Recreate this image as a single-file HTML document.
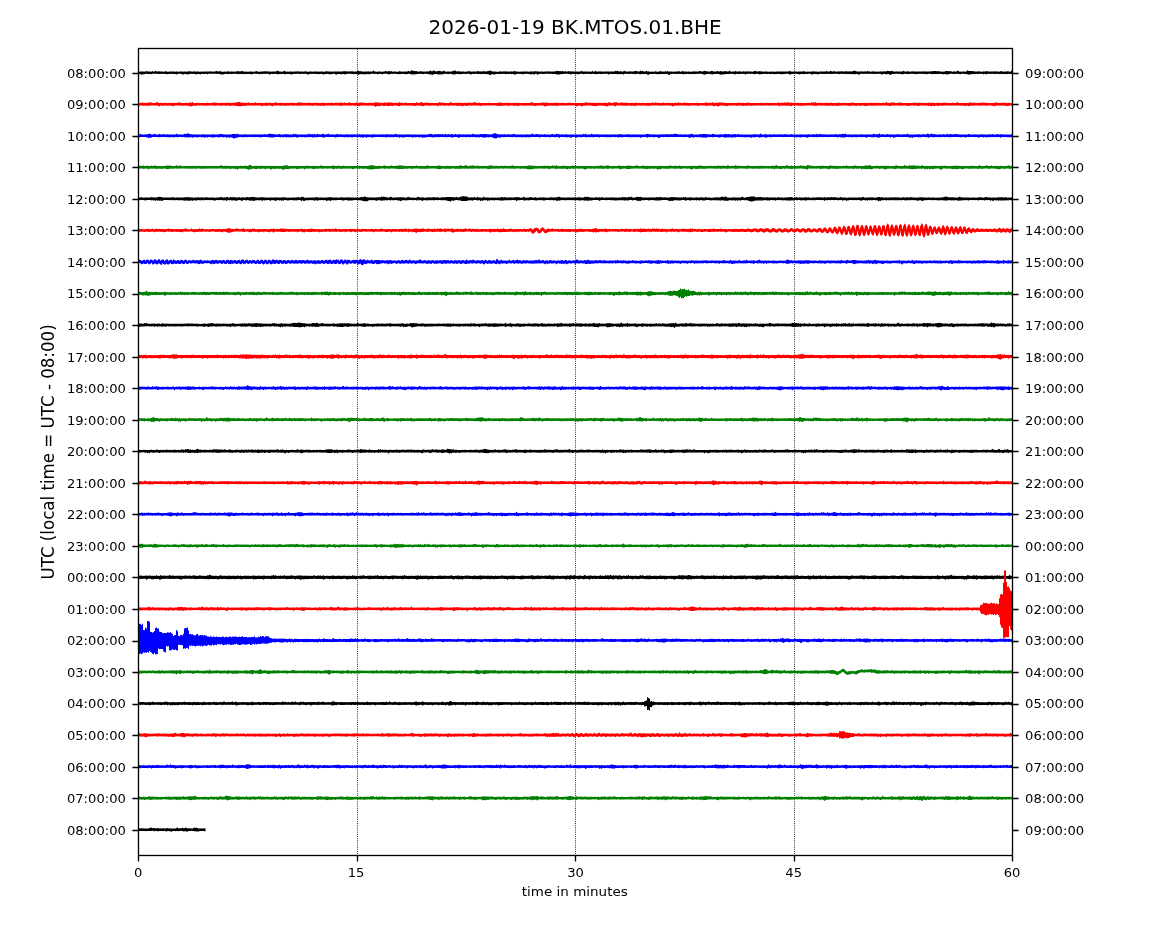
<!DOCTYPE html>
<html><head><meta charset="utf-8"><title>dayplot</title><style>html,body{margin:0;padding:0;background:#fff;width:1150px;height:950px;overflow:hidden}svg{display:block}</style></head><body>
<svg width="1150" height="950" viewBox="0 0 1150 950">
<rect width="1150" height="950" fill="#fff"/>
<line x1="357.50" y1="49.0" x2="357.50" y2="855.5" stroke="#000" stroke-width="1" stroke-dasharray="1 1.15" opacity="0.8"/>
<line x1="575.50" y1="49.0" x2="575.50" y2="855.5" stroke="#000" stroke-width="1" stroke-dasharray="1 1.15" opacity="0.8"/>
<line x1="794.50" y1="49.0" x2="794.50" y2="855.5" stroke="#000" stroke-width="1" stroke-dasharray="1 1.15" opacity="0.8"/>
<path fill="#000000" d="M138.5 71.7l1 0 1-.1 1 0 1-.1 1 .1 1-.1 1 .2 1-1 1 .9 1 0 1 0 1 0 1 .1 1-.8 1 .8 1-.2 1-.8 1 .9 1-.3 1 .1 1-.1 1 .3 1-.2 1 .2 1 .1 1 0 1-.6 1 .5 1 .1 1 0 1-.3 1 .2 1-.1 1 0 1 0 1 0 1 .2 1-.2 1 .1 1 .1 1 0 1-.5 1 .2 1 .3 1-.3 1 0 1 .1 1 .2 1-.1 1-.3 1 .2 1-.6 1 .8 1-.1 1 .1 1-.7 1 .7 1-.1 1-.2 1 .2 1 .1 1-.1 1 .1 1-.3 1 .2 1 .1 1-.2 1-.1 1 0 1 .1 1 .1 1-.3 1 .3 1 .1 1-.3 1 .1 1 .1 1-.8 1 .8 1-.2 1-.3 1 .5 1 0 1 .1 1 0 1-.2 1 .2 1-.1 1-.2 1-.2 1 .5 1-.1 1 0 1-.1 1 .2 1-.1 1-.2 1 .2 1-.3 1-.3 1 .6 1-.1 1-.7 1 .4 1 .3 1 .1 1 .1 1-.1 1 .1 1 0 1-.2 1 .1 1-.1 1 .2 1 0 1-.2 1 .1 1-.6 1 .5 1 .2 1 0 1-.1 1 .1 1-.4 1 .2 1-.2 1-.1 1 .3 1-.2 1 .2 1 0 1 0 1 .2 1-.3 1 0 1 0 1 .2 1-.4 1-.8 1 .9 1 .2 1 .1 1 .1 1-.2 1 .1 1-1 1 .8 1 .3 1-.2 1 .2 1-.2 1 .1 1 0 1 .1 1-.1 1 0 1-.2 1 .1 1-.2 1 .3 1-.1 1 .1 1-.2 1 0 1 .3 1-.1 1-.3 1 .2 1 .2 1 0 1-.2 1 .1 1 0 1 .1 1-.2 1-.1 1 0 1 .2 1 0 1 .1 1-.1 1 0 1 0 1 0 1 .1 1 0 1-.3 1-.5 1 .7 1 0 1-.2 1 .1 1 0 1 .2 1-.1 1-.1 1 0 1 0 1 .1 1-.2 1 0 1 .1 1 .1 1-.1 1-.2 1-.3 1 .4 1-.1 1 .2 1 0 1-.3 1 .3 1-.2 1-.1 1 .4 1 .1 1-.2 1 0 1-.4 1-.6 1 .8 1-.1 1 0 1 .3 1 .2 1-.1 1-.1 1 .1 1-.1 1-.3 1 .5 1-.2 1 .1 1 0 1-1.2 1 1 1 .1 1 .2 1 0 1-.3 1 .2 1-.1 1 .2 1 0 1-.1 1-.2 1-.3 1 .1 1 .3 1-.2 1-.3 1 .6 1-.5 1 .6 1-.3 1 .1 1 0 1 .2 1 0 1 0 1-.8 1 .6 1 .1 1 .1 1-.2 1 .1 1-.1 1 0 1-.1 1-.6 1 .8 1-.3 1-1.1 1 .3 1 .5 1 0 1 .2 1-.3 1 .6 1 .2 1-.4 1 .2 1-.5 1 .7 1-.3 1 .2 1 .1 1-.4 1 .2 1 0 1-.4 1-.7 1 .8 1 0 1-.7 1 .1 1 .8 1-.1 1-.1 1-.1 1-.3 1 .3 1 .3 1 0 1-.8 1 .7 1 .3 1 .1 1-.1 1-.1 1 .2 1-.2 1-.1 1-.2 1-.7 1 .5 1-.8 1 1.2 1 0 1-.3 1 .4 1 .1 1-.2 1 .2 1 0 1 .1 1 0 1-.2 1 .1 1-.3 1-.3 1 .7 1-.2 1 .1 1-.2 1 0 1 0 1 0 1-.1 1-.2 1 .3 1 0 1-.2 1 .4 1-.4 1-.1 1 .6 1-.4 1 0 1-.3 1-.2 1-.2 1 .6 1 .3 1 .1 1 0 1 0 1 .1 1 0 1 0 1-.1 1-.3 1 .3 1 .1 1-.4 1 .3 1-.3 1 .1 1 .1 1 0 1 .2 1-.4 1 .3 1-.1 1-.1 1-.6 1 .7 1 0 1-.1 1 .3 1 0 1-.3 1 .3 1-.3 1 .1 1 0 1 0 1 .1 1 0 1 .1 1-.1 1 0 1-.2 1 0 1 .1 1-.3 1 0 1 .3 1-.2 1 .2 1 .2 1-.1 1 0 1-.1 1 .2 1-.3 1 .1 1 0 1 .1 1-.3 1 .1 1 .2 1-.2 1 .2 1 0 1-.2 1-.4 1 .3 1-.6 1 .2 1 .3 1-.1 1 .4 1-.8 1 .7 1 .1 1-.2 1 .2 1 .1 1-.5 1 .3 1-.2 1 .2 1 .2 1-.1 1-.1 1 .3 1-.2 1-.1 1 .3 1-.1 1-.1 1-.7 1 .8 1-.2 1 .1 1 .1 1 0 1-.1 1 .1 1 .1 1-.1 1 .1 1-.9 1 .9 1 0 1-.9 1 .7 1 .2 1-.4 1 .3 1-.1 1-.2 1 .4 1-.2 1-.1 1 .1 1 0 1 0 1 .1 1-.1 1 0 1 .1 1-.1 1 .1 1-.1 1-.8 1 .6 1-.8 1 .9 1 0 1-.5 1 .7 1 .1 1-.4 1-.6 1 .7 1 .1 1-.1 1 .1 1 0 1-.3 1 .2 1 .2 1-.2 1-.3 1 .1 1-.5 1 .8 1 0 1 0 1-.9 1 .7 1-.5 1 .7 1 .1 1-.1 1-.7 1 .8 1-.4 1 .5 1 0 1-.2 1 .2 1 0 1-.3 1-.1 1 .4 1-.2 1 .2 1-.1 1-.9 1 1 1-.2 1 .1 1 .1 1-.7 1 .7 1-.7 1 .5 1 .1 1 0 1 0 1 .1 1-.3 1 .3 1-.3 1 .2 1 0 1-.4 1 0 1 .5 1 0 1-.9 1 .8 1-.1 1 .1 1 0 1 .1 1-.3 1 .2 1 .1 1 0 1-.1 1 0 1-.3 1 .3 1 0 1 0 1 0 1-.7 1 .2 1 .5 1-.1 1-.2 1-.6 1 .3 1 .2 1 .2 1 .2 1-.2 1 .1 1-.7 1 .3 1 .5 1-.2 1 0 1 .2 1-.9 1 .9 1-.2 1-.5 1 .3 1 .4 1-.2 1-.3 1 .1 1 .1 1 .2 1 .1 1-1 1 .9 1 .2 1-.2 1 .1 1-.1 1-.6 1 .7 1 0 1-.1 1-.2 1 .3 1 .1 1-.1 1-.3 1 .3 1 0 1-.1 1-.3 1 .4 1-.1 1 .1 1 0 1 .1 1-.2 1-.4 1-.3 1 .8 1-.1 1-.3 1 0 1 .1 1 .1 1 0 1 .1 1 .2 1-.2 1-.2 1 .4 1 0 1 0 1-.3 1 .3 1-.3 1 .1 1 .2 1 0 1-.2 1 0 1-.1 1 .1 1 .1 1 0 1-.2 1 .1 1 .1 1 0 1 0 1-.1 1 .1 1-.8 1 .7 1 0 1 .2 1-.2 1 .1 1 0 1-.1 1 .2 1-.1 1-.1 1 .1 1 0 1-.2 1-.2 1 .1 1 .4 1 0 1-.3 1 .3 1-.2 1 .2 1-.1 1-.1 1-.2 1 .1 1 .2 1-.1 1 .2 1 0 1-.1 1 0 1 0 1-.1 1 .1 1-.1 1 0 1-.5 1 .5 1 .1 1 .1 1-1 1 .6 1 .2 1 .1 1-.5 1 .4 1 .2 1-.2 1-.3 1 .4 1 0 1-.5 1 .5 1 0 1 0 1-.3 1 0 1 .3 1-.1 1-.3 1 .2 1 0 1-.2 1-.1 1-.5 1 .4 1 .4 1 0 1 .2 1-.1 1 .1 1-.4 1 .2 1 .2 1-.1 1-.2 1 .4 1-1 1 .8 1-.1 1 .2 1 .1 1-.4 1 .3 1-.2 1 .2 1 .1 1-.1 1 .1 1-.1 1 0 1-.3 1 .4 1-.4 1 0 1 .1 1-.2 1-.5 1 .4 1 .1 1-.1 1 .1 1-.5 1 .8 1 .2 1-.2 1 .1 1-.4 1 .5 1-.1 1 0 1-.1 1 0 1-.7 1 .7 1 .1 1 .1 1-.8 1 .7 1 .1 1-.1 1-.2 1-.1 1 .3 1 0 1 0 1 0 1-.2 1 0 1 .1 1 .1 1 0 1 0 1-.1 1-.3 1 .4 1-.2 1 .2 1 0 1 0 1-.3 1 .2 1-.4 1 .1 1-.2 1-.1 1 .3 1 .1 1-.2 1 .4 1 .1 1 0 1 .1 1-.2 1 .1 1-.4 1-.1 1 0 1 .2 1 0 1-.2 1 .5 1 .1 1-.3 1-.1 1 .4 1-.3 1-.9 1 .6 1 .6 1-.2 1 .2 1-.1 1 0 1-.1 1 .2 1-.4 1-1.4 1 1 1 .2 1 0 1 0 1 .1 1-.3 1 .7 1-.1 1 0 1 .1 1-.4 1 .2 1 .2 1 .1 1 0 1-.4 1 .3 1-.1 1-.4 1 .1 1 .3 1 .1 1 0 1-.2 1 .1 1-.1 1-.2 1 .2 1 .2 1-.1 1 .1 1 .1 1-.5 1-.2 1 .6 1 .1 1-.1 1-.2 1 .2 1-.3 1 0 1 .4 1 0 1-1.1 1 0 0 3.5-1 0-1-.1-1-.1-1-.1-1 .1-1 0-1 .3-1-.4-1 .1-1 0-1-.1-1 .1-1 .2-1-.2-1-.1-1 0-1 .4-1-.5-1 .2-1-.1-1-.1-1 .5-1-.4-1 0-1 0-1 .7-1-.6-1-.1-1 .7-1-.8-1 0-1 .3-1-.3-1 .3-1 0-1-.3-1 .3-1 .3-1-.2-1 0-1 .2-1 0-1 .2-1 .2-1-.5-1-.1-1-.2-1 0-1-.1-1 0-1-.1-1 .6-1-.3-1 0-1-.2-1 0-1 .2-1-.2-1 .4-1-.5-1 .1-1 0-1 .1-1 .3-1 .3-1-.1-1-.3-1-.2-1 .5-1-.4-1-.1-1 .1-1-.2-1 .2-1 0-1 .1-1-.1-1 .1-1 0-1 0-1 .1-1-.4-1 0-1 0-1 .5-1-.4-1 .3-1-.4-1 .2-1-.3-1 .3-1-.2-1 0-1 .2-1-.3-1 .5-1-.5-1 .5-1-.5-1 .1-1 0-1 0-1 .4-1-.4-1 .1-1 0-1-.2-1 .1-1 .2-1 .4-1-.5-1 0-1-.1-1 .1-1-.2-1 .1-1 0-1 .3-1-.3-1 .3-1 .2-1 .7-1-.6-1-.4-1 0-1 .4-1-.5-1 0-1 0-1 .3-1 .6-1-1-1 0-1 0-1 .1-1-.1-1 .1-1 .1-1-.2-1 .2-1-.2-1 .2-1-.3-1 0-1 .1-1 .3-1-.3-1 0-1-.1-1 .4-1-.4-1 0-1 .7-1 .3-1-.7-1 0-1 .1-1 .4-1-.5-1 .1-1 .1-1-.3-1 0-1 0-1 .1-1 .1-1-.4-1 .5-1-.5-1 .1-1 .1-1-.1-1 .5-1-.6-1 .4-1-.3-1-.1-1 0-1 0-1 .2-1 .1-1-.3-1 .2-1-.1-1 .2-1-.3-1 .3-1-.1-1 .1-1 0-1-.2-1 .1-1-.2-1 .6-1 .1-1-.5-1 .1-1-.1-1 0-1 .7-1 0-1-.9-1 .1-1-.1-1 .3-1-.3-1 .3-1 0-1 .3-1-.5-1 .1-1 .2-1 .3-1-.5-1 .2-1-.3-1 0-1-.1-1 .1-1 .1-1 .1-1 .6-1-.1-1-.7-1-.1-1 0-1 .1-1 .1-1 0-1 .3-1 0-1-.2-1-.1-1-.1-1 .3-1-.1-1 0-1 .3-1-.4-1-.1-1 .2-1-.1-1 .2-1-.3-1 .3-1-.1-1-.3-1 .1-1 .1-1 0-1 .2-1 .2-1 .3-1-.6-1-.2-1-.1-1 .2-1 .4-1-.4-1-.2-1 .1-1 .1-1-.1-1 0-1 .1-1-.1-1 .9-1-.9-1 .1-1-.2-1 .1-1 .1-1 .1-1 0-1 .1-1-.3-1 .7-1-.3-1-.5-1 .3-1-.3-1 .1-1 .1-1 .2-1-.2-1 .2-1 .1-1 .1-1 0-1 .1-1 .1-1 .2-1-.4-1-.2-1-.1-1-.2-1 .1-1 .2-1-.2-1 .8-1-.8-1 .7-1-.8-1-.1-1 .3-1 0-1 .6-1 .2-1-.4-1-.5-1-.1-1 0-1 0-1 0-1 .1-1-.1-1 .1-1 0-1-.1-1 .4-1-.2-1 0-1 0-1-.1-1-.2-1 .2-1 .2-1-.4-1 1.1-1-1-1 .2-1-.1-1-.1-1 .1-1 .1-1-.3-1 .3-1 .1-1-.4-1 0-1 .2-1-.2-1 1.3-1-.1-1-1.2-1 .3-1-.3-1 .3-1 0-1 0-1-.1-1 .2-1-.2-1 .4-1 0-1-.4-1-.1-1 .2-1-.3-1 .2-1 .1-1-.1-1 0-1 1.2-1-.4-1-.7-1-.1-1-.1-1 .4-1-.3-1 .2-1 .1-1 .1-1-.5-1 0-1 0-1 .6-1-.6-1 .1-1 .1-1-.2-1 0-1 .2-1 0-1-.2-1 .3-1-.3-1-.1-1 1-1-.8-1 .2-1 .2-1-.3-1 0-1 .2-1-.2-1 .1-1 0-1-.1-1 0-1-.1-1-.2-1 .3-1 .7-1-.9-1 0-1 .1-1-.1-1-.1-1 .3-1 0-1-.1-1-.1-1 .2-1-.1-1 .4-1-.4-1 .2-1-.4-1 0-1 .4-1-.1-1 0-1-.2-1 0-1 .2-1-.3-1 .2-1 .4-1-.6-1 .1-1 0-1 .1-1 .1-1 .4-1-.7-1 .9-1-.9-1 .2-1-.1-1 .4-1 .2-1-.4-1-.1-1-.1-1-.1-1 0-1 0-1 .2-1 .2-1-.2-1 .3-1 .1-1 .4-1-.1-1-.3-1-.1-1-.4-1 .3-1-.2-1-.1-1 .2-1-.2-1 0-1 0-1 0-1 0-1 .2-1-.1-1 0-1-.2-1 0-1 .3-1-.1-1 1.2-1-1.4-1 .1-1 .8-1-.2-1-.7-1 .8-1 0-1-.6-1 0-1-.1-1 0-1 .2-1-.2-1 .3-1 .3-1-.6-1 .2-1-.3-1 .2-1-.1-1 .1-1 .6-1 .3-1-.7-1-.2-1 .4-1-.5-1 .2-1-.1-1-.1-1 .1-1 .3-1-.4-1-.1-1 .3-1-.2-1 .2-1 0-1 0-1 0-1-.2-1 .5-1 .1-1 0-1-.5-1 .5-1 .6-1-.3-1-.5-1 0-1-.2-1 0-1-.1-1 .1-1-.2-1 .4-1-.1-1-.1-1 .1-1 0-1-.3-1 0-1 .1-1 0-1-.2-1 .2-1 .8-1-.9-1 0-1-.1-1 .3-1-.1-1-.2-1 0-1 .3-1 0-1 0-1 .5-1-.7-1 .2-1 0-1 .2-1 .3-1 .1-1-.4-1 .1-1-.5-1-.1-1 .5-1-.3-1-.1-1 0-1 0-1 .5-1-.1-1 0-1 .3-1-.2-1 .4-1-.5-1-.2-1 0-1 .2-1-.1-1 1.1-1-.7-1 .1-1-.3-1 0-1-.3-1-.2-1-.1-1 0-1 .2-1 .3-1-.5-1 0-1 .2-1-.2-1 .3-1 .1-1 .2-1 .1-1-.1-1 .2-1 0-1-.4-1-.3-1 0-1 .3-1-.2-1 .7-1-.8-1 .1-1-.2-1 .4-1-.2-1 .3-1-.3-1 .1-1-.1-1-.2-1 .1-1 0-1 .1-1-.2-1 .3-1-.1-1 .8-1-.9-1-.1-1 0-1 .1-1 0-1 .7-1-.6-1-.2-1 .2-1-.2-1 .7-1-.6-1 0-1 .1-1-.1-1-.1-1 .1-1-.1-1 .7-1-.5-1 .4-1-.5-1 .7-1-.3-1 0-1 .1-1-.4-1 .3-1 .1-1 .6-1-.7-1-.2-1 0-1-.3-1 .5-1-.2-1-.3-1 .4-1-.4-1 0-1 .1-1 .1-1 .3-1 .4-1-.5-1-.4-1 .7-1-.5-1 .1-1-.1-1 .1-1 .7-1-.3-1-.6-1 0-1 .1-1 .3-1-.3-1 .6-1-.6-1-.1-1 .1-1 0-1 0-1 .9-1-.9-1-.1-1 .1-1 0-1 .1-1 .2-1-.5-1 .3-1-.2-1 .1-1-.1-1 .1-1-.1-1 .3-1 .4-1-.1-1-.5-1-.1-1 0-1 .1-1-.2-1 0-1 .4-1 0-1-.4-1 .1-1 0-1 .2-1-.2-1 .1-1 .1-1 .7-1-.6-1-.2-1 .2-1-.1-1-.2-1 .6-1-.5-1 0-1-.1-1 .4-1-.5-1 .4-1 .1-1 0-1-.1-1-.3-1 0-1 .4-1-.3-1 .2-1-.3-1 1.2-1-1.2-1 0-1 0-1 .1-1-.1-1 0-1 .1-1 0-1-.2-1 .8-1-.7-1 0-1 .1-1-.1-1-.1-1 0-1 .2-1 .5-1-.5-1-.1-1 .3-1-.1-1-.1-1 0-1-.1-1 .7-1-.7-1 .1-1 0-1-.1-1 .4-1-.3-1-.2-1 .1-1 0-1-.1-1 .2-1 0-1-.1-1 .1-1 .2-1 0-1 0-1-.3-1 .1-1 .7-1-.4-1 .5-1-.7-1-.1-1-.2-1 .2-1-.1-1 0-1-.1-1 0-1 .1-1 0-1-.1-1 .1-1 0-1 .8-1-.8-1 0-1 .2-1-.1-1-.1-1 .2-1 .4-1-.4-1-.1-1-.1-1 1-1-.8-1 0-1-.3-1 .2-1-.1-1 .1-1-.2-1 .7-1 0-1-.5-1 .3-1-.4-1 .6-1 .1-1-.6-1-.1-1 0-1-.1-1 .3-1 .5-1-.6-1 .1-1 0-1-.3-1 0-1 .2-1-.2-1 .4-1 .1-1-.3-1 0-1-.2-1 .2-1-.1-1 0-1 .1-1 0-1-.2-1 .3-1-.3-1 0-1 .1-1 0-1 0-1 .1-1 .3-1-.5-1 .2-1 .2-1-.4-1 .1-1 .5-1-.1-1 .3-1 .3-1-.5-1-.5-1 0Z"/>
<path fill="#ff0000" d="M138.5 102.9l1 0 1-.1 1 .2 1-.8 1 .8 1-.2 1 .2 1 0 1 0 1-.7 1 .5 1-.5 1 .2 1 .4 1 .2 1-.2 1 .1 1-.8 1-.1 1 .8 1 .1 1-.5 1 .4 1 .1 1 0 1-.3 1 .3 1-.1 1 .1 1 0 1-.2 1 .1 1 .1 1 .1 1-.3 1-.1 1 .3 1-.2 1 .2 1-.4 1-.7 1 1.2 1 0 1 0 1-.2 1 .1 1-.3 1 .1 1 .2 1-.1 1-.3 1 0 1 .1 1-.9 1 1.1 1 0 1 .2 1-.3 1 .1 1-.1 1 .2 1-.1 1 0 1 0 1 .1 1 0 1 0 1 .1 1-.5 1 .4 1-.1 1 .1 1 .1 1-.4 1-.2 1 .3 1-.2 1 .2 1 .1 1 .2 1-.1 1 .1 1-.1 1-.5 1 .4 1 0 1-.2 1 .2 1-.2 1 .1 1 0 1 .2 1 0 1-.2 1 0 1 .1 1-.8 1 .6 1-.6 1 .1 1-.7 1 .9 1 .2 1 .1 1 .1 1 .2 1-.2 1 0 1 .1 1-.6 1 .7 1 0 1 0 1 0 1 0 1-.3 1-.4 1 .6 1 .1 1-.3 1 .4 1-.3 1 .2 1 0 1-.1 1 .2 1-.4 1 .1 1-.1 1 .2 1-.6 1 .6 1 .1 1 0 1-.3 1 .3 1-.8 1 .3 1 .5 1 0 1-.2 1 .2 1-.5 1 .4 1 .1 1 0 1-.1 1 .1 1-.2 1 .1 1-.2 1 .3 1-.2 1-.4 1 .5 1 0 1 0 1 0 1-.1 1-.5 1 0 1 .7 1-.8 1 .8 1-.2 1 0 1 .1 1-.1 1 .1 1-.2 1-.1 1 .5 1-.1 1-.1 1 0 1-.3 1 .5 1-.5 1 .4 1 .1 1-.2 1 0 1 .2 1-.8 1 .7 1 0 1 0 1 0 1 .1 1-.3 1 .1 1 .1 1-.4 1 .3 1 0 1 0 1-.3 1 .2 1 0 1-.1 1 .1 1 0 1-.9 1 1 1 .1 1-.4 1 .1 1 .2 1 .2 1-.3 1-.7 1 .9 1-.1 1 0 1 .1 1 0 1-.1 1-.8 1 .8 1 .1 1-.4 1 .2 1-.7 1 .8 1-.6 1 .6 1-.1 1 .2 1-.1 1-.1 1 .3 1-.3 1 0 1 .1 1-.2 1 0 1-.8 1 .5 1 0 1 .1 1 .3 1 0 1 .2 1-.3 1 .4 1-1 1 .8 1-.2 1-.1 1 0 1-.4 1 .4 1 0 1 .2 1 .2 1 0 1-.3 1 0 1 .2 1-.1 1-.7 1 .7 1-.4 1 .6 1 .1 1-.2 1-.6 1 .7 1 0 1 0 1 .1 1 0 1-.1 1 0 1 0 1 0 1 0 1-.9 1 .9 1 0 1 0 1-.7 1-.5 1 1.1 1-.1 1 .2 1-.2 1-.6 1 .5 1 .2 1 .1 1 0 1 .1 1-.2 1 .2 1-.1 1 .1 1-.2 1 .1 1-.1 1-1.1 1 1 1-.2 1 .2 1-.4 1 .5 1 .1 1-.1 1 0 1 .1 1-.1 1-1 1 .7 1 .4 1-.1 1-.1 1 .2 1 0 1-.5 1 .3 1 .1 1-.3 1 .4 1 0 1 .1 1-.3 1 .2 1 0 1-.1 1-.4 1-.1 1 .6 1-.3 1 .1 1-.3 1-.2 1-.2 1 .8 1 .1 1-.3 1 .1 1 .1 1 .1 1 0 1-.1 1 0 1 .1 1-.1 1 .1 1-.3 1 .1 1 .1 1 .2 1-.2 1 .1 1-.1 1 0 1 0 1-.2 1 .1 1-.3 1-.1 1 .5 1-.2 1 .3 1-.1 1-.2 1 .3 1-.2 1 0 1 .1 1 .1 1 .1 1 0 1-.1 1-.3 1 0 1 .4 1-.2 1-.1 1 .2 1 0 1 0 1-.1 1 0 1 .1 1 .1 1-.3 1 .2 1-.1 1 .1 1-.2 1-1 1 .9 1 .1 1 .2 1 .1 1 0 1 0 1-.2 1 .1 1-.2 1 0 1-.3 1-.1 1 .3 1-.3 1 .2 1 .1 1 .3 1-.1 1-.1 1 .1 1 0 1 .1 1-.2 1-.3 1 .2 1 0 1 .3 1-.3 1 .2 1 .1 1-.4 1 .3 1 0 1 .1 1 .1 1 0 1-.3 1-.2 1 .4 1-.3 1 .3 1 0 1 0 1-.1 1 .1 1-.1 1 .2 1-.1 1 0 1 0 1-.3 1 .2 1 .2 1-1 1 .5 1 .1 1-.1 1 .2 1-.1 1 0 1 .1 1 0 1-.1 1 .2 1 .1 1 0 1-.4 1 .4 1-.2 1 .2 1 0 1-.3 1 0 1 .1 1 .2 1-.1 1-.5 1-.1 1 .4 1 0 1 .2 1-.2 1-.8 1 .6 1-.6 1 .9 1 .1 1-.2 1 .1 1 0 1-.6 1 .7 1-.1 1 0 1-.2 1 .4 1 0 1-.1 1 0 1-.1 1 .2 1 .1 1-.2 1-.4 1 .2 1 .3 1 .1 1-.3 1 .1 1 0 1-.1 1 .2 1 0 1 .1 1 0 1-.3 1 .1 1-.1 1 .3 1 0 1-.9 1 .8 1-.1 1-.7 1 .5 1 .4 1-.5 1 .4 1-.1 1 .1 1-.1 1-.7 1 .7 1 .1 1 0 1-.2 1 .3 1-.4 1 .3 1 0 1 0 1 .1 1-.1 1-.4 1 .5 1-.1 1-.9 1 1 1-.4 1 .3 1 0 1 0 1-1 1 .9 1 .1 1-.2 1 .3 1 0 1-.2 1 .1 1 0 1-.1 1 .1 1 0 1-.3 1 .1 1 .2 1 0 1-.1 1 .1 1 .1 1 0 1-.1 1-.5 1-.2 1 .7 1-.2 1 .2 1-.3 1 .2 1-.9 1 .9 1 0 1-.1 1-.1 1 0 1-.1 1-.1 1 0 1-.3 1 .5 1 .1 1 0 1 0 1 .2 1 .1 1-.2 1 .2 1-.1 1 .1 1-.2 1-.1 1 .2 1 0 1 .1 1-.1 1-.2 1-.3 1 .6 1-.2 1-.3 1 .3 1 0 1 .1 1-.3 1 .2 1-.6 1 .6 1 .1 1 0 1-.1 1 0 1-.1 1 .2 1 0 1-.1 1 .1 1-.1 1-.1 1 .1 1 .2 1-.2 1 0 1-.1 1 .3 1-.3 1 .3 1-.2 1-.1 1 .2 1-.1 1 .2 1-.3 1 .3 1-.1 1 0 1-.8 1 .5 1 .3 1-.4 1 .2 1 0 1-.5 1 .4 1-.1 1-.1 1-.4 1 .8 1-.5 1 .4 1 0 1 .2 1 .1 1-.4 1 .2 1 .2 1-.3 1 .1 1 0 1-.2 1 .4 1-.1 1 0 1 0 1 0 1-.3 1 .1 1 .3 1-.2 1-.9 1 1 1-1 1 .7 1-.6 1 .9 1 0 1-.4 1 .4 1-.3 1 .3 1 .1 1-.2 1 .1 1 0 1-.4 1 .3 1 .1 1 .1 1-.3 1-.2 1 .3 1 0 1 .1 1 0 1-.1 1-.1 1 .3 1-.5 1 .3 1 0 1-.2 1 .4 1-.3 1 .1 1 .1 1 .1 1 0 1-.2 1-.2 1 .3 1-.8 1 .6 1 .2 1-.1 1 .1 1-.1 1 .1 1 .1 1 0 1-.2 1-.2 1 .3 1-.1 1-.1 1 .3 1-.1 1 0 1-.1 1-.3 1 .5 1-.4 1 .2 1-.1 1 .3 1-.3 1 0 1 .1 1 0 1 0 1 .1 1 0 1-.3 1 .3 1-.3 1-1 1 1.4 1-.4 1 .3 1-.1 1-.8 1 .8 1-.6 1 .3 1 .4 1 .1 1-.4 1 .1 1-.5 1 .7 1-.4 1 .3 1 0 1 0 1 .2 1-.1 1-.1 1 .2 1-.4 1 .3 1-.1 1 .1 1-.5 1 .4 1-.7 1 .8 1-.1 1 .1 1-.4 1 .4 1-.6 1 .5 1 0 1 0 1-.2 1 .3 1-.1 1-.2 1-.1 1 .4 1 .1 1-.8 1 .7 1 0 1-.1 1-.2 1 .3 1-.3 1 .1 1 .2 1 0 1 .1 1-.5 1 0 1 .4 1-.3 1 .3 1-.1 1 .2 1-.1 1-.1 1-.2 1 .1 1 .2 1 0 1-.2 1-.7 1 .9 1 0 1-.3 1 .4 1-.1 1-.1 1-.2 1 .2 1 .1 1 0 1-.1 1-.3 1-.4 1 .5 1 .1 1-.3 1 .5 1-.2 1 .1 1 .1 1 .1 1-.5 1 .2 1 .2 1-.7 1 .5 1 .2 1-.7 1 .6 1 .1 1 0 1 .1 1-.1 1-.1 1 0 1 .2 1-.4 1 0 1-.5 1 .5 1 .3 1-.3 1 .1 1 .2 1-.2 1-.5 1 .6 1-.1 1 .2 1 0 1-.2 1 .2 1-.1 1 .2 1 0 0 2.4-1 0-1 0-1-.1-1 .6-1 .3-1-.6-1 .4-1-.7-1 .3-1-.1-1-.2-1 .4-1-.1-1-.2-1 0-1 0-1 .3-1 .8-1-1.1-1 .6-1-.7-1 0-1 .2-1 0-1 0-1 .2-1-.1-1-.1-1 0-1 0-1-.2-1 .5-1-.4-1-.1-1 0-1 .1-1 .1-1-.2-1 .3-1-.1-1 .1-1-.2-1 .7-1-.3-1-.2-1-.2-1 .8-1-.9-1 .5-1-.4-1-.1-1 .3-1-.3-1 .2-1-.1-1 .3-1-.3-1 0-1 0-1 .1-1 .2-1-.3-1 0-1 0-1 .1-1-.1-1 .1-1-.1-1 .2-1-.1-1 .1-1-.3-1 .1-1 .7-1-.4-1-.1-1-.1-1 .9-1-1-1 .4-1 .4-1-.4-1-.5-1 .8-1-.6-1-.1-1 .2-1-.2-1 0-1 0-1 0-1-.1-1 .1-1 .7-1-.4-1 0-1-.3-1 .2-1-.1-1-.1-1 .1-1 .2-1-.1-1 .1-1 .4-1-.7-1-.1-1 .2-1 .2-1-.3-1 0-1 .6-1-.6-1 .1-1 0-1-.2-1 0-1 .4-1-.2-1-.2-1 .4-1-.1-1 .5-1-.6-1-.1-1 .2-1-.3-1 .2-1-.2-1 .2-1-.2-1 .4-1-.3-1 0-1 .3-1-.2-1-.2-1 .6-1-.6-1 .4-1-.1-1 .1-1-.3-1-.1-1 .7-1-.3-1 .4-1-.5-1-.1-1 0-1-.1-1 .6-1-.4-1-.1-1-.1-1 .6-1 0-1-.6-1-.1-1 .2-1-.1-1 .7-1-.7-1 .5-1-.3-1-.2-1 0-1-.1-1 .1-1 0-1 .3-1-.4-1 .2-1 .1-1 .2-1 0-1-.4-1 0-1 .6-1-.4-1-.2-1 .2-1 0-1 0-1 0-1-.1-1 .1-1-.2-1 0-1 .3-1-.4-1 0-1 .2-1 0-1-.1-1 .5-1-.3-1 .4-1-.5-1-.1-1 0-1 .1-1-.2-1 .1-1 .1-1 0-1 .2-1-.4-1 .1-1 .8-1-.7-1 .1-1 .1-1 0-1-.2-1 0-1-.2-1 .1-1-.1-1 0-1 .8-1 .1-1-.7-1 0-1 .3-1-.2-1 0-1-.2-1 .1-1 .3-1-.5-1 0-1 1.1-1-.9-1-.1-1 0-1-.1-1 0-1 .2-1-.1-1 0-1 0-1 .3-1-.4-1 0-1 .1-1 0-1 .1-1-.1-1 .1-1 .1-1-.2-1 0-1 .1-1-.2-1 .1-1 0-1 .1-1 .2-1-.3-1 .6-1-.6-1 0-1-.1-1 .1-1 .3-1 .3-1-.7-1 .4-1 .5-1-.9-1 .2-1-.2-1 .4-1-.3-1 .6-1-.5-1-.1-1-.1-1 .1-1 .1-1 .2-1-.2-1-.2-1 1.1-1-1.1-1 .6-1-.2-1-.3-1 .3-1-.2-1 0-1 .2-1 .8-1-.3-1-.2-1-.5-1 .6-1 0-1-.6-1 0-1-.1-1 .2-1 0-1-.3-1 .8-1-.6-1-.2-1 .2-1-.1-1 .1-1-.1-1 .1-1 .3-1-.1-1-.3-1 .1-1-.1-1 .1-1-.2-1 .1-1 0-1 .2-1 .1-1-.1-1-.1-1-.1-1 .1-1 0-1-.1-1 0-1 .1-1 0-1 0-1 .1-1-.1-1-.1-1 .2-1 .3-1 .5-1-.7-1-.3-1 .2-1-.3-1 .1-1-.1-1 .1-1 .1-1 .1-1-.3-1 .1-1 .3-1 0-1-.4-1 .1-1 .1-1 0-1-.1-1-.1-1 0-1 .1-1 .2-1-.2-1 .4-1 .2-1-.5-1-.1-1 .2-1-.1-1 0-1 .1-1-.2-1 0-1 .1-1-.1-1 .1-1 1-1-1.1-1 .4-1-.3-1 .7-1-.7-1-.1-1 .1-1 0-1 .3-1-.3-1 .1-1 .2-1-.5-1 .1-1 0-1-.1-1 .2-1-.1-1 .1-1 .8-1-.5-1-.3-1-.1-1 .2-1-.2-1 .2-1-.2-1 .7-1 .2-1-.4-1-.2-1 .2-1-.5-1 .1-1 .1-1-.2-1 .2-1-.2-1 .8-1-.3-1-.1-1 .1-1-.2-1-.1-1-.1-1 0-1-.1-1 .1-1 0-1-.2-1 .5-1-.4-1 .7-1 .2-1-.9-1 .3-1-.3-1 .5-1 .5-1-.7-1-.4-1 0-1 0-1 .1-1 .1-1 0-1-.1-1 0-1 .1-1 .2-1-.3-1-.1-1 .1-1 .1-1-.1-1 .1-1 0-1 .2-1 .5-1-.5-1-.2-1 .1-1 0-1 0-1-.2-1 .2-1 .1-1 0-1 .3-1 .1-1 .3-1-.7-1-.2-1 0-1 0-1 0-1-.1-1 .3-1-.2-1 .7-1-.4-1-.5-1 .3-1-.3-1 0-1 .3-1-.2-1 0-1 .3-1-.2-1 .1-1 0-1-.2-1 0-1 .1-1-.2-1 .6-1 .2-1-.6-1 0-1 .6-1-.7-1-.1-1 .1-1 0-1 0-1 .8-1-.9-1 .1-1-.1-1 .1-1 .1-1 .2-1-.1-1 .3-1-.2-1 .3-1-.4-1 .1-1-.3-1 .1-1 0-1-.1-1 0-1 .1-1-.1-1-.1-1 .2-1-.1-1-.1-1 .2-1-.1-1 0-1 0-1 .7-1-.6-1 .1-1-.2-1 0-1 .1-1-.2-1 .2-1-.2-1 .3-1-.3-1 .1-1 .1-1 .3-1 .2-1-.3-1-.4-1 .3-1 .8-1-.9-1 .4-1-.6-1 .3-1 .2-1-.1-1-.3-1 .2-1-.1-1 0-1-.1-1 0-1 0-1 .4-1-.5-1 .2-1-.1-1 .4-1-.5-1 .2-1 0-1 .2-1-.2-1-.1-1 .9-1-.8-1-.2-1 0-1 0-1 0-1 0-1 .4-1-.1-1 0-1-.1-1-.2-1 .1-1 0-1 .7-1 0-1-.8-1 .6-1-.4-1-.2-1 .1-1 .1-1 .5-1-.1-1-.5-1 .3-1-.3-1 .2-1-.2-1 0-1 .3-1-.4-1 0-1 .1-1 .1-1-.2-1 .1-1 .2-1 .2-1 .4-1-.6-1-.1-1-.1-1 0-1 .1-1 .6-1-.4-1 0-1 .1-1 .1-1 0-1-.2-1-.2-1 .5-1 .1-1-.6-1-.1-1 .2-1 .9-1-.6-1 0-1 .2-1 .8-1-1.1-1-.1-1-.2-1 .2-1-.2-1-.1-1 .3-1-.1-1-.2-1 .2-1-.1-1-.1-1 0-1-.1-1 .3-1 .5-1-.1-1-.7-1 0-1 .5-1-.2-1-.1-1 0-1-.2-1 .3-1-.2-1 .3-1-.2-1-.1-1-.1-1 .2-1-.1-1 .1-1 .4-1-.2-1 0-1-.3-1 .1-1 0-1 0-1 0-1-.2-1 0-1 .5-1-.4-1-.1-1 .1-1 0-1 0-1 .1-1 .3-1-.2-1 0-1-.2-1 .6-1-.6-1 .6-1-.5-1-.2-1 .1-1-.1-1 .1-1 .4-1-.4-1 .3-1-.4-1 .1-1 0-1 .1-1-.2-1 .1-1 .1-1 0-1 .1-1-.1-1 .1-1 .1-1-.4-1 .3-1-.1-1-.2-1 .4-1 0-1-.3-1 0-1 .1-1 .1-1-.1-1-.1-1 .5-1-.5-1 .2-1-.2-1 .2-1 0-1-.1-1-.2-1 .1-1-.1-1 .2-1-.1-1 .1-1 .9-1-.6-1-.5-1 0-1 .2-1-.1-1 .8-1-.7-1 .2-1-.3-1 .6-1 .2-1-.7-1-.1-1 0-1-.1-1 0-1 .2-1 .2-1-.2-1 0-1 .1-1-.3-1 0-1 .1-1 .1-1 0-1 .3-1 .2-1-.4-1 .1-1 .2-1 .2-1 .1-1-.1-1-.3-1 .1-1 0-1-.5-1 .2-1-.2-1 0-1 .7-1-.5-1-.2-1 .1-1 .1-1 0-1-.1-1 0-1-.1-1 .5-1-.3-1-.3-1 .2-1-.1-1 0-1 .3-1 0-1-.2-1 0-1-.1-1 .1-1-.1-1 .1-1 0-1 .1-1 0-1-.1-1 .1-1-.3-1 .2-1-.1-1 .1-1-.1-1-.1-1 .1-1 .4-1-.4-1 .2-1 .3-1 .2-1 .5-1-1-1 .1-1 0-1-.1-1-.2-1 0-1 .2-1 0-1-.3-1 .3-1-.2-1 0-1-.1-1 .1-1 0-1 0-1 1-1-.8-1 .2-1-.4-1 .1-1 .1-1 0-1-.2-1 .1-1 .2-1-.2-1 .4-1-.6-1 .1-1 .8-1 0-1-.9-1 .2-1-.1-1 0-1 0-1 0-1 0-1 .1-1 .1-1-.1-1 .7-1-.7-1 .1-1-.2-1 .2-1 0-1-.2-1 0-1-.1-1 0Z"/>
<path fill="#0000ff" d="M138.5 134.5l1 0 1-.8 1 .8 1 0 1 0 1 .1 1-.3 1 .2 1-.2 1-.2 1-.3 1 .2 1 .5 1 0 1 .1 1-1.2 1 1 1 .1 1-.1 1 .1 1-.8 1 .9 1-.4 1 .3 1-.4 1 .2 1 .1 1 .2 1-.4 1 .2 1 0 1 .2 1-.1 1 0 1 0 1 0 1-.1 1-.9 1 1.1 1-.3 1 .3 1-.1 1-.1 1 0 1 .1 1-.8 1 .1 1 .4 1-1.1 1 .5 1 .5 1 .2 1 0 1 .1 1-.1 1 .2 1 .1 1-.1 1 0 1 0 1 0 1 .1 1 0 1-.2 1-.5 1 .7 1-.1 1 0 1 .1 1-.1 1 .1 1-.1 1 0 1 .1 1-.6 1 .4 1 0 1 .2 1-.1 1-.1 1-.2 1-.4 1 .5 1-.2 1 .4 1-.1 1 .2 1 0 1 0 1-.1 1 0 1-.1 1-.1 1-.2 1-.1 1-.1 1-.1 1 .6 1-.8 1 .7 1 .2 1 0 1 0 1 0 1 .1 1 0 1-.7 1 .6 1 0 1 .1 1 0 1-.1 1 0 1-.2 1 .3 1-.1 1-.3 1 .3 1-.2 1 .3 1-.1 1 .1 1-.4 1 .4 1-.1 1-.4 1 .4 1-.1 1 .1 1-.5 1-.4 1 .3 1-.1 1 .4 1-.1 1 .2 1 .1 1 .1 1 .1 1-.2 1-.7 1 .7 1 0 1 .2 1-.2 1-.1 1 0 1-.4 1 .5 1-.1 1 .3 1 0 1 0 1 0 1-1.1 1 1.1 1-.9 1 .5 1 .2 1 0 1 .2 1-.2 1 .2 1-.1 1 .1 1-.1 1 0 1 0 1 .1 1-1.1 1 1 1-.7 1 .8 1-.7 1 .5 1-.6 1 .6 1 .2 1-1 1 .8 1-.1 1 .2 1 .1 1-.8 1 0 1 .7 1 .1 1-.3 1 0 1-.7 1 1 1 0 1-.1 1-.2 1 .1 1 .2 1 0 1-.3 1-.5 1 .8 1 0 1-.6 1 .6 1-.1 1 .1 1-.2 1 .1 1-.3 1 .1 1 .3 1-.1 1-.2 1 .2 1 0 1-.3 1 .1 1 .2 1 0 1-.2 1 .3 1-.6 1 .5 1 .1 1-.3 1 0 1 .1 1 .1 1 0 1-.2 1 .1 1 0 1 .2 1-.2 1 .1 1-.3 1 .1 1 .3 1-.1 1-.1 1 .1 1-.2 1 .1 1 .1 1-.2 1 .2 1 .1 1-.4 1 .4 1-.6 1 .5 1 0 1-.2 1 .2 1 .1 1-.1 1-.1 1-.8 1 .6 1 .3 1 0 1-.2 1 .2 1 .1 1-.2 1 .2 1 0 1-.1 1 0 1-.2 1 0 1 .1 1 .1 1 0 1 0 1 0 1 0 1 0 1 0 1 0 1 .1 1-.1 1 .1 1 0 1-.2 1 0 1 0 1 .1 1-.1 1 0 1 0 1-.8 1 .6 1-.4 1 .6 1 .2 1-.1 1-.8 1 .9 1-.3 1-.4 1 .4 1-.3 1 .6 1-.5 1 .4 1-.1 1-.6 1 .8 1-.2 1-.3 1 .5 1 0 1-.8 1 .6 1 .2 1 0 1-.8 1 .6 1 .2 1-.4 1-.1 1 .3 1 .2 1-.1 1-.2 1 .2 1 0 1-.3 1 .2 1-.2 1 .2 1 .2 1-.1 1-.7 1 .3 1 .3 1-.1 1 .3 1-.2 1-.1 1 .3 1-.5 1 0 1 .2 1-.2 1 0 1 0 1 .1 1 0 1 0 1 .4 1-.3 1 .2 1-.5 1-.6 1-.1 1-.1 1 .6 1 .4 1 .1 1 .2 1-.2 1 .2 1-.2 1 .1 1-.4 1 .4 1 .1 1 0 1-.4 1 .3 1 0 1 .1 1-.2 1-.3 1-.1 1 .6 1 0 1 .1 1-.1 1 0 1 .1 1-.2 1 .2 1-.1 1-.1 1 .1 1 0 1-.3 1 .2 1 .1 1-.1 1-.1 1-1 1 1.1 1 0 1-.1 1-.2 1 0 1 .5 1-.1 1-.2 1 .2 1-.1 1 .1 1-.6 1 .5 1 .1 1 .1 1-.2 1 .2 1-.2 1-.1 1-.3 1 .6 1-.1 1 .1 1-1 1 .9 1-.7 1 .8 1-.1 1-.1 1-.2 1 .4 1-.1 1-.1 1-.4 1 .4 1 0 1 0 1 .1 1-.1 1 .1 1 .1 1-.1 1 0 1 0 1 0 1-.1 1 .2 1 0 1 0 1 0 1-.8 1 .8 1-1.2 1 1 1 .1 1 .1 1-.2 1 0 1-.8 1 .6 1 .2 1-.1 1 .1 1-.4 1 .4 1-.1 1 .1 1 0 1 .1 1 .1 1-.1 1-.1 1-.1 1 .1 1 0 1 .2 1-.2 1 .2 1-.2 1 0 1 0 1-.1 1 .1 1 .2 1-.2 1 .1 1-.8 1 .7 1-.1 1 .2 1-.1 1 .1 1 0 1-.2 1 .2 1-.4 1 .4 1 .1 1-.2 1 .2 1-.1 1-.2 1 .3 1-.2 1 .2 1-.1 1 0 1 0 1-.1 1 .2 1-.1 1 0 1-.1 1-.6 1 .1 1 0 1 .3 1 .4 1-.1 1-.3 1 .4 1-.3 1 .2 1 .1 1-.1 1-.1 1 .2 1-.1 1-.2 1 .1 1-.1 1 .2 1-.2 1 0 1-.1 1 .1 1 0 1 .3 1-.5 1 .1 1 .1 1-.7 1 .3 1 0 1 .2 1 .3 1 .2 1-.3 1 .3 1 0 1-.2 1-.2 1 .3 1 .1 1-.1 1-.1 1-.1 1-.1 1-.7 1 .7 1 .3 1 .1 1-.2 1 .1 1 .1 1-.1 1-.1 1-.7 1 .8 1-.6 1 .2 1 0 1-.2 1 .4 1 .2 1-.3 1 .4 1-.2 1 0 1-.6 1 .3 1 .2 1 .3 1 0 1 0 1 0 1 0 1-.5 1 .4 1 0 1-.3 1 .1 1-.5 1 .4 1 0 1-.2 1 .3 1 .2 1-.1 1-.2 1-.2 1 .2 1-.2 1 .6 1 0 1-.8 1 .8 1-.1 1 0 1 .1 1-.2 1 .1 1 .1 1-.2 1 .1 1 0 1 .1 1 0 1 0 1-.1 1-.2 1 .1 1-.3 1 .3 1 .2 1 0 1 0 1-1.3 1 1.1 1 0 1 .2 1-.1 1-.4 1 .4 1-.1 1 0 1 .1 1-.2 1 .3 1-.1 1 0 1-.4 1 .5 1 0 1-.3 1 .2 1 .1 1-.5 1 .5 1 0 1-.1 1-.5 1 .5 1-.4 1 .5 1-.1 1-.1 1 .1 1-.5 1 .4 1 .1 1-.1 1 .2 1 0 1-.1 1 0 1 0 1-.3 1 .4 1 0 1-.2 1 .1 1-.1 1 0 1 0 1-.5 1 .7 1 0 1 0 1-.2 1-.5 1 .7 1 0 1-.8 1 .8 1-.1 1-.8 1 .4 1 .3 1-.1 1 .3 1-.3 1 .2 1 0 1 .1 1-.1 1 .1 1-.1 1-.2 1 .3 1-.2 1 .2 1-.8 1 .6 1 0 1 0 1-.3 1 .2 1-.1 1-.8 1 .8 1-.1 1-.5 1 1 1 0 1-.4 1 .3 1 .1 1-.1 1 0 1-.1 1 0 1-.1 1 .2 1 .1 1-.1 1-.1 1 .1 1-.4 1 .5 1-.2 1 .2 1 0 1-.2 1 .1 1-.2 1 .2 1 0 1 0 1-.1 1-.6 1 .2 1 .4 1-.2 1 .1 1 0 1-1 1 1.2 1-.1 1-.3 1 .4 1-.1 1 .1 1 .1 1-.8 1 .8 1-.2 1-.1 1 .3 1-.1 1 0 1 .1 1-.1 1 0 1-.4 1 .2 1 .2 1 0 1 .1 1-.1 1-.2 1-.1 1 .3 1-.2 1-.7 1 .9 1 0 1-.1 1 .1 1 0 1 .1 1-.2 1 .2 1-.3 1 .1 1-.3 1 .4 1 0 1 0 1 0 1-.7 1 .6 1 .1 1-.2 1-.8 1 .3 1 .7 1-.2 1-1 1 1 1 0 1-.5 1 .8 1-.2 1 .1 1 0 1-.3 1 .4 1 0 1-.1 1-.4 1 .5 1 0 1-.1 1-.9 1 .9 1-.1 1-.7 1 .5 1 .4 1-.3 1-.4 1 .5 1-.7 1 .6 1 .3 1-.1 1-.1 1 .2 1-.1 1-.1 1 0 1 .2 1 0 1-.1 1-.4 1 .2 1 .1 1 .2 1-.2 1 .1 1-.2 1 .3 1 0 1-.2 1 0 1 .1 1 .1 1-.4 1 .1 1 .3 1-.1 1 .1 1-.1 1 .1 1 0 1-.6 1 .5 1 .1 1-.7 1 .7 1-.1 1 .1 1-.1 1-.8 1 .8 1-.1 1-.3 1 .4 1-.3 1 .4 1-.2 1 .1 1-.1 1 0 1 .2 1-.1 1-.1 1-.2 1 0 0 2.9-1 0-1 .1-1 .2-1-.3-1 .1-1-.2-1 0-1 .2-1-.2-1 .1-1 0-1 .9-1-1-1 0-1 .2-1-.1-1 .1-1-.1-1 0-1 .1-1-.2-1 .1-1 .1-1-.1-1 .1-1 .6-1-.7-1-.1-1 .4-1-.2-1-.2-1 0-1 .3-1 .4-1-.4-1-.2-1 .1-1-.2-1 .1-1-.1-1 0-1 .1-1 0-1 .1-1-.1-1 0-1 .8-1-.8-1-.2-1 0-1 .7-1-.7-1 .3-1-.1-1-.1-1 .1-1-.1-1-.1-1 .1-1 0-1 0-1 .5-1-.4-1 .1-1-.1-1-.1-1 .1-1 .2-1-.3-1 0-1 0-1 .2-1 0-1-.2-1 .2-1-.1-1 0-1 .1-1 0-1 0-1-.2-1 .1-1 .4-1 .2-1-.7-1 .2-1-.2-1 .1-1 0-1-.1-1 .1-1 .3-1-.4-1 .4-1-.4-1 0-1-.1-1 .4-1-.3-1 1.2-1-1-1 .1-1 .7-1-1-1 .1-1-.1-1 .1-1 0-1 0-1 .1-1-.2-1 .1-1 0-1-.1-1 .1-1-.1-1 .3-1 .1-1 .5-1-.9-1 0-1 .8-1-.8-1 0-1 0-1 0-1 .2-1-.1-1-.1-1 .1-1 0-1 .2-1 .2-1 .3-1-.4-1-.1-1-.2-1-.1-1 .8-1-.8-1 .2-1-.2-1 .1-1 0-1-.1-1 1-1-.8-1-.2-1 0-1 .2-1-.1-1 0-1 .1-1-.1-1-.1-1 .4-1-.2-1-.1-1 0-1 .1-1 .4-1-.5-1-.1-1 .3-1-.3-1 .1-1 .2-1 .2-1 0-1-.1-1 0-1-.2-1-.1-1 0-1 .7-1-.7-1-.1-1 .1-1-.2-1 0-1 .2-1 0-1 0-1 0-1 .2-1-.2-1-.1-1-.1-1 .4-1-.2-1 0-1-.1-1 0-1 0-1 .6-1-.6-1 .3-1-.2-1 .2-1-.2-1-.1-1 0-1 0-1 .3-1 .5-1-.4-1-.3-1 .2-1-.3-1-.1-1 .3-1 .4-1-.4-1 0-1-.1-1 .4-1-.3-1 .1-1-.3-1 0-1 0-1 0-1 0-1 0-1 .1-1-.1-1 .1-1-.2-1 .4-1-.3-1 0-1 0-1-.1-1 .1-1 .1-1-.1-1 .1-1-.1-1 0-1 0-1 .5-1-.5-1 .2-1-.2-1 .3-1 .4-1-.3-1-.1-1-.2-1-.2-1 .3-1 0-1 .5-1-.5-1-.1-1-.1-1 .2-1 .3-1-.4-1 .1-1 .6-1 0-1-.8-1 .2-1-.2-1 .4-1-.2-1 0-1-.2-1 .6-1-.5-1-.2-1 .4-1-.2-1 0-1-.1-1 .5-1-.3-1 .1-1 .2-1 .3-1-.6-1 0-1 .3-1-.3-1 .3-1 0-1 .3-1-.6-1-.2-1 0-1 .2-1 .2-1 0-1-.4-1 0-1 0-1 0-1 0-1 .5-1-.4-1 .1-1-.1-1-.1-1 0-1 1-1-.6-1 .2-1 .2-1-.5-1 .5-1-.7-1 .1-1-.1-1 .1-1 0-1-.2-1 .1-1 .9-1-.8-1 0-1 .2-1 .6-1-.8-1-.2-1 0-1 .1-1 .1-1 0-1-.2-1 .1-1-.1-1 0-1 0-1 0-1-.1-1 .2-1 .1-1-.1-1 0-1-.1-1 0-1 .1-1 0-1 .2-1-.3-1 0-1 0-1 .2-1-.1-1-.1-1 0-1 1.2-1-.4-1-.5-1-.3-1 0-1 .2-1 .3-1-.5-1-.1-1 .2-1 .2-1-.2-1 .6-1-.5-1-.1-1 0-1-.1-1 .3-1-.1-1 .7-1-.9-1 .3-1-.4-1 .3-1-.2-1 .2-1 0-1-.3-1 .3-1 0-1 0-1-.2-1 0-1 .2-1-.2-1-.1-1 .2-1 .1-1 .2-1-.4-1 0-1 .9-1-.9-1 0-1 .2-1-.1-1 0-1 0-1 .1-1-.2-1 .5-1-.4-1 .2-1-.1-1-.2-1 .2-1-.2-1 .1-1 0-1-.2-1 .8-1-.7-1 0-1-.1-1 .1-1 .1-1 .4-1-.4-1-.1-1 .2-1 .1-1-.2-1-.1-1 .7-1-.7-1 0-1 .1-1-.1-1 .3-1-.1-1-.3-1 .1-1 .2-1 .6-1-.6-1-.2-1 0-1 0-1 .9-1-.7-1 .2-1-.3-1 .5-1-.6-1 .5-1-.4-1 0-1 0-1 0-1-.1-1 1.1-1-.9-1-.3-1 .1-1 .2-1 0-1-.2-1 0-1 .1-1 .2-1 .2-1-.5-1 .1-1-.1-1 .3-1-.3-1 .1-1-.2-1 .1-1 0-1 .7-1-.6-1 0-1 0-1-.1-1 .3-1-.3-1 0-1 .1-1 0-1 .4-1-.3-1-.2-1 .5-1-.3-1 0-1-.2-1 .6-1-.4-1-.1-1 .2-1-.3-1 .2-1 .4-1-.5-1 0-1-.1-1 .2-1-.2-1 .2-1-.2-1 .1-1-.1-1-.1-1 .1-1 .2-1 0-1-.1-1-.1-1 .8-1-.3-1-.1-1 .1-1 .9-1-.1-1 .3-1-.7-1-.4-1-.4-1 .1-1-.2-1 .6-1-.4-1-.1-1 .6-1-.2-1 .1-1-.2-1-.3-1 0-1 .5-1-.2-1-.4-1 .5-1-.3-1-.2-1 .1-1 .2-1-.2-1 .1-1 .1-1-.4-1 .1-1 .6-1-.5-1 0-1 0-1 .2-1-.3-1 .1-1 .3-1 .7-1-1.1-1 0-1 .1-1 0-1 0-1 .8-1-.8-1 .1-1-.1-1 0-1-.1-1 .4-1-.3-1-.1-1 .2-1-.1-1-.1-1 0-1 .3-1-.3-1 .2-1-.2-1 .2-1-.3-1 .5-1 .1-1-.6-1 .3-1-.2-1 0-1 .1-1 .3-1-.3-1 .7-1-.2-1 .3-1-.9-1 0-1 .8-1-.8-1 0-1 .3-1 0-1 0-1-.3-1 1-1-.9-1-.1-1 .2-1-.2-1 0-1 0-1 .2-1-.1-1 .8-1-.7-1 .1-1-.3-1 1.1-1-1.1-1-.1-1 .3-1-.2-1 0-1 .6-1-.6-1 .3-1-.4-1 .3-1-.2-1 0-1 .7-1-.5-1-.1-1 .1-1-.2-1 .2-1-.2-1 .1-1-.1-1 0-1 0-1 .1-1 .2-1-.3-1 .7-1-.3-1-.4-1 0-1 .3-1-.3-1 .9-1-.8-1 0-1 .3-1 .6-1-1-1 .6-1-.5-1 0-1 .1-1-.2-1 0-1 0-1 .1-1 .2-1 .2-1-.5-1 .2-1-.2-1 .3-1 0-1-.3-1 .4-1-.2-1-.2-1 .1-1-.1-1 .1-1 .1-1-.3-1 .3-1 .5-1-.7-1 0-1-.1-1 .2-1-.1-1 .3-1-.3-1 0-1 0-1 .1-1 .2-1 .8-1-1-1 .2-1-.2-1 0-1-.1-1 0-1 .4-1-.4-1 .3-1 .1-1 .1-1-.5-1 .2-1-.2-1 0-1 0-1 .5-1-.4-1 .4-1-.5-1 0-1 .4-1-.4-1 0-1 .1-1 .7-1-.4-1-.4-1 .1-1 .1-1-.2-1 .5-1-.3-1-.1-1 .5-1-.6-1 .7-1-.7-1 .1-1 .1-1 .1-1-.3-1 .4-1-.4-1 0-1 0-1 .1-1 0-1 .2-1 .1-1 .1-1 .1-1-.1-1-.2-1-.2-1 .1-1-.2-1 .1-1-.1-1 .1-1-.1-1 .2-1 .3-1-.4-1 .2-1-.3-1-.1-1 .3-1-.2-1 .3-1-.2-1 .1-1-.2-1 .1-1 0-1 .1-1-.1-1 .1-1 0-1-.2-1 .4-1-.4-1 0-1 0-1 .2-1 0-1 1.1-1-.8-1 .9-1 0-1-.7-1-.2-1-.2-1 .8-1-.9-1 0-1 .7-1-.9-1 0-1 .6-1-.3-1-.2-1 0-1 .2-1 .1-1-.4-1 .1-1 .1-1 .1-1-.1-1 .7-1-.8-1 .2-1-.2-1 0-1 .6-1-.6-1 .5-1 .2-1-.5-1-.1-1 .1-1-.2-1-.1-1 .2-1 .2-1-.2-1-.2-1 .5-1-.5-1 .9-1-.8-1 .3-1-.1-1 .3-1-.1-1-.2-1 0-1 0-1-.2-1 .1-1-.3-1 .2-1-.2-1 .1-1 .5-1-.5-1 0-1 .3-1 .2-1-.5-1 .2-1-.1-1 .3-1-.2-1 0-1-.2-1 .2-1-.1-1-.1-1 .1-1 .2-1-.2-1-.1-1 .4-1-.3-1-.1-1 0-1 0-1-.1-1 .2-1 .3-1 .5-1-.4-1 .8-1-1-1 .2-1-.4-1-.1-1 0-1 0-1 0-1 0-1 .2-1 0Z"/>
<path fill="#008000" d="M138.5 166.1l1 0 1-.6 1 .5 1-.1 1-.7 1 .8 1 .1 1-.1 1-.4 1 .5 1 0 1-.2 1-.4 1 .6 1 0 1-.9 1 .9 1-.3 1 .2 1 0 1 0 1 .1 1 .1 1-.1 1 0 1-.1 1-.1 1-.5 1 .2 1 .1 1-.2 1 0 1 .6 1 0 1-.2 1 0 1 .2 1-1 1 1 1-.2 1-.6 1 .4 1 .2 1 .2 1 .1 1-.2 1-.1 1 .1 1-.1 1 .2 1-.1 1-.1 1 .2 1-.2 1-.1 1 .2 1 .1 1 0 1 0 1-.3 1 .3 1-.2 1 .2 1 0 1-.2 1-.1 1 .3 1 0 1 0 1-.2 1 .1 1 .1 1-.1 1 .1 1 0 1-.1 1 .1 1-.2 1 .2 1-.2 1 .1 1-.6 1-.3 1 .8 1 .2 1-.1 1-.3 1 .1 1 .3 1-.4 1 .4 1-.1 1 .1 1 0 1 0 1 0 1-.4 1 .5 1-.1 1-.1 1-.1 1-.1 1 .2 1-.2 1 .1 1 .1 1-.6 1 .3 1 .2 1-.2 1-1 1 .2 1 .9 1 .2 1 0 1 0 1-.2 1 0 1 .2 1 .1 1-.2 1-.2 1 .1 1 .3 1-.3 1 .3 1 0 1-.4 1 .2 1 .2 1 0 1-.3 1 .2 1 0 1-.2 1 .1 1 .2 1 0 1-.2 1 .1 1 0 1-.1 1 .1 1-.1 1-.3 1 0 1 0 1-.5 1 .5 1 .3 1 .2 1 0 1-.2 1-.1 1 .3 1 0 1-.1 1 .1 1 0 1-.2 1 0 1 0 1 0 1 .2 1-.1 1 0 1 0 1-.6 1 .7 1-.3 1 .1 1 .1 1-.1 1 .1 1-.3 1 .3 1 .1 1 0 1 0 1 .1 1-.1 1-.3 1-.6 1 .7 1 .2 1-.2 1 .1 1 .2 1-.4 1 .3 1-.2 1 .2 1 0 1-.4 1-.5 1 .9 1-.1 1 .1 1 0 1-.8 1 .9 1-.3 1 .1 1 .1 1-.7 1 .6 1 .1 1-.2 1 .3 1-.3 1 .2 1-.2 1 .1 1 .1 1-.2 1 .1 1 0 1 0 1 0 1 .1 1-.3 1 .2 1 0 1 0 1-.1 1 .2 1 0 1 0 1-.2 1-.1 1-.3 1 0 1-.8 1 .8 1 0 1 0 1 .6 1-.2 1 .1 1 .1 1-.3 1 .2 1 .2 1-.3 1-.2 1-.4 1 .7 1-.2 1 .4 1-.2 1 0 1 .1 1-.8 1 .7 1 0 1-.1 1 .1 1-.4 1 .1 1 0 1-.4 1 0 1 .1 1 .3 1 .1 1 0 1 .3 1 0 1 0 1 0 1-.1 1 .1 1-.2 1 .2 1 0 1-.1 1 .1 1-.9 1 1 1-.2 1 .1 1 0 1-.2 1 .2 1-.1 1 0 1 .1 1-.1 1-.9 1 1 1-.1 1 0 1-.1 1 .2 1-.1 1 .1 1 0 1-.1 1-.2 1-.3 1 0 1 .3 1 .2 1 0 1 .2 1-.3 1 .1 1-.1 1-.1 1 .3 1-.2 1 0 1 0 1 .1 1 .1 1-.2 1 .3 1-.1 1-.1 1 0 1-.3 1-.6 1 .7 1 .1 1 .2 1-.4 1-.6 1 .4 1 .5 1 0 1 .1 1-.5 1 .2 1-.2 1-.3 1 .8 1-.2 1 .2 1-.8 1 .7 1 0 1 .1 1-.1 1 .1 1-.3 1 .3 1-.2 1 0 1 .1 1 .1 1-.8 1 .5 1-.8 1 .9 1 .1 1-.2 1 .3 1-.4 1 .3 1-.1 1 .1 1 .1 1-.3 1-.1 1 .3 1-.3 1 .1 1 .3 1 0 1 0 1-.1 1-.3 1 .4 1-1 1 1 1-.2 1 .1 1 .1 1 0 1-.2 1 .3 1-.2 1 .1 1 0 1 0 1 0 1-.2 1 0 1-.2 1-.3 1 .2 1-.1 1 0 1 .5 1-.2 1-.1 1 .4 1 0 1 0 1 0 1-.2 1 .1 1-.1 1-.1 1 .1 1-.3 1 .5 1-.2 1-.1 1 0 1 .3 1 0 1-.2 1-.6 1 .7 1-.5 1 .7 1-1.1 1 1 1 .1 1-.2 1 .1 1 0 1-.1 1-.8 1 .9 1 0 1-.1 1 0 1 .1 1 .1 1-.2 1 0 1-.7 1 .7 1-.2 1 .2 1 0 1-.1 1 0 1 .1 1 0 1-.2 1 .2 1 .1 1-.2 1 .1 1 .1 1-.2 1 0 1 .1 1 .1 1 0 1 .1 1-.1 1-.1 1 .2 1-.1 1-.3 1 .3 1-.3 1 0 1-.5 1 .7 1-.1 1-.2 1 .3 1-.2 1-.5 1 .3 1 .4 1-.1 1 .3 1-.1 1-.1 1 .1 1 0 1 0 1 0 1-.5 1-.1 1 .5 1 .1 1-.3 1 .3 1 0 1-.2 1 0 1-.3 1 0 1 .3 1-.3 1 .5 1-.1 1 0 1 .1 1-.6 1 .2 1-.4 1 .9 1-.3 1 0 1 .2 1-.8 1 .6 1-.1 1 .2 1-.2 1 .3 1-.1 1 0 1-.2 1 .3 1-.2 1 .2 1 0 1 0 1 .1 1-.3 1-.1 1 .2 1 0 1-.3 1 .2 1 0 1 .2 1 0 1 0 1 0 1-.2 1-.1 1-.6 1 .9 1-.1 1-.1 1 .2 1-.6 1 .6 1-.1 1 .1 1-.5 1 .5 1 0 1 0 1 0 1-.1 1 .1 1 0 1 .1 1-.2 1-.1 1 .1 1-.3 1 .2 1 .2 1-.6 1 .7 1-.3 1 .2 1 0 1-1 1 .9 1-.2 1 0 1 .3 1 0 1-.1 1 .2 1-.3 1-.2 1 .3 1 .1 1-.3 1 .2 1-.1 1-.2 1 .4 1 0 1-.3 1-.3 1 .5 1-.3 1 .4 1-.3 1-.2 1 .3 1 .2 1 0 1-.9 1 .2 1 .5 1 0 1-.1 1 .3 1-.3 1 .2 1-1.1 1 1.2 1-.6 1 .6 1-.1 1-.4 1 .3 1 .2 1 0 1-.2 1 .1 1-.1 1-.1 1-.6 1 .7 1 .2 1-.1 1 .1 1 0 1-.2 1 0 1 .1 1 .1 1-.3 1 .3 1-.3 1 .2 1 .1 1-.3 1 .3 1 0 1-.1 1-.1 1 .1 1-.1 1 .1 1 .1 1-.5 1 .5 1-.2 1-.3 1-.8 1 1.4 1-.3 1 .1 1 .1 1-.1 1 .1 1-.2 1 .1 1 .1 1-.9 1 0 1 .9 1-.1 1 .1 1-.5 1 .5 1-.1 1 0 1-.1 1 .2 1-.1 1-.2 1 .3 1-.8 1 .5 1 0 1 0 1 .3 1 0 1 0 1-1.3 1 .7 1-.4 1 .7 1 .2 1-.2 1 .1 1 .1 1 .2 1-.1 1-.3 1 .3 1-.4 1 .3 1 .1 1-.9 1 .7 1 .1 1 0 1-.1 1 0 1 .1 1-.3 1-.6 1 .8 1-.1 1 .3 1 0 1-.4 1 .3 1 .1 1-.2 1 .1 1-.1 1 .3 1-.2 1-.2 1 .2 1 0 1-.8 1 .9 1 0 1 .1 1-.2 1 0 1-.1 1 .1 1-.7 1 .4 1 0 1 .3 1 0 1 0 1 0 1-.1 1 .2 1-.1 1-.1 1-.9 1 .7 1 0 1-.6 1 .3 1-.1 1 .7 1 0 1 .2 1-.2 1 .1 1-.3 1-.1 1 .2 1 .1 1-.2 1 .2 1-.2 1 .3 1-.2 1-.5 1 .7 1-.4 1 0 1 .5 1-.2 1 .1 1 0 1 .1 1-.4 1 0 1-.6 1 .5 1 .4 1 0 1 0 1-.2 1 .3 1-.2 1-.9 1 .6 1 0 1 .4 1 0 1-1.3 1 1.2 1-.7 1 .2 1 0 1-.2 1 .5 1-.1 1 0 1-.1 1 .5 1-.1 1-.2 1-.7 1 1 1 .1 1-.3 1 .2 1-.1 1 .1 1 0 1-.1 1-.1 1-.1 1 .3 1 0 1-.3 1 .3 1-.1 1-.1 1 .1 1-.3 1 .3 1-.5 1 .7 1-.7 1 .4 1 .2 1 0 1-.2 1 0 1 .1 1 .1 1-.1 1-.3 1 .3 1-.6 1 .4 1 .1 1-.2 1 .1 1 .3 1 0 1-.2 1 0 1 .2 1 .1 1-.1 1-.1 1 0 1 .1 1 0 1 0 1-.5 1 .5 1-.2 1 .2 1-.1 1 .2 1-.2 1-.9 1 1 1-.1 1-.1 1 .2 1 0 1 0 1-1.1 1 1.1 1 0 1-.1 1-.1 1-.6 1 .9 1-.1 1-.2 1 0 1-.1 1 .1 1 .2 1-.1 1-.3 1 .4 1-.1 1 .2 1-.5 1 .5 1-.1 1-.3 1-.6 1 .5 1 .3 1 0 1 0 0 2.6-1 0-1 .6-1-.7-1 .3-1-.2-1 0-1 0-1 .7-1-.7-1-.1-1 .3-1 0-1 .2-1 .4-1-.6-1 .1-1-.4-1 .2-1-.1-1 0-1 0-1-.1-1 .4-1-.2-1-.1-1 0-1-.1-1 0-1 .1-1 .7-1-.7-1 .1-1-.1-1 .1-1 .3-1-.5-1 .1-1 .1-1-.1-1 .3-1-.3-1 .2-1 0-1 0-1-.2-1 0-1-.1-1 .1-1 .3-1 .1-1 .2-1-.7-1 .2-1 .1-1 .6-1-.4-1-.1-1-.1-1 .5-1-.4-1-.2-1 .1-1-.2-1 0-1 .3-1-.4-1 .1-1 0-1-.1-1 .1-1 1.3-1-.5-1-.7-1-.1-1-.1-1 .1-1 .1-1-.1-1 .7-1 0-1-.8-1 .7-1-.3-1-.3-1 1-1-1.1-1 .9-1-.7-1-.2-1 .1-1 .3-1-.4-1 .2-1 .1-1-.2-1 .3-1 0-1 0-1 .2-1 .1-1 0-1-.4-1 .5-1-.7-1 .2-1 0-1-.3-1 .2-1-.2-1 .4-1-.2-1 0-1-.2-1 0-1 .2-1-.1-1 .6-1-.4-1 .2-1-.4-1 .1-1-.1-1-.1-1 .3-1-.2-1 1-1-.5-1 .3-1-.6-1-.3-1 .1-1 .1-1 .3-1-.5-1 .1-1-.1-1 0-1 .1-1-.1-1 .6-1 .5-1-.6-1-.1-1 .1-1 .1-1 .1-1-.4-1 .1-1 0-1-.4-1 1.3-1-1.3-1 0-1 .3-1-.1-1 0-1-.2-1 0-1 .4-1-.2-1-.2-1 0-1 .6-1-.6-1 0-1 .3-1-.2-1-.1-1 .1-1 0-1 .2-1-.3-1 0-1 .5-1-.3-1 .2-1-.4-1 .4-1-.3-1 .1-1-.2-1 .1-1 .3-1 .6-1-.8-1 0-1-.1-1-.1-1 .3-1-.3-1 .2-1 .5-1-.6-1 0-1 0-1 .1-1-.1-1 0-1 .1-1-.1-1-.1-1 .2-1-.2-1 .1-1 .8-1 .2-1-.9-1 0-1 .2-1-.3-1-.1-1 0-1 .1-1 .2-1-.3-1 .1-1 .5-1-.5-1 0-1 .5-1-.2-1-.1-1-.1-1 .1-1-.2-1 0-1 0-1 .4-1-.5-1 0-1 .4-1 .1-1-.3-1 0-1-.1-1 .1-1-.1-1 .8-1-.8-1 .1-1 0-1-.2-1 .1-1 .1-1-.1-1 0-1-.1-1 .1-1 .1-1-.2-1 .2-1-.1-1 .1-1 0-1 0-1-.2-1 .2-1-.2-1 .2-1 .1-1-.3-1 .1-1-.1-1 .1-1 .2-1-.1-1 .1-1-.2-1-.1-1 .1-1-.1-1 .1-1 0-1 0-1 .2-1-.1-1 .2-1-.3-1 0-1-.1-1 0-1 .1-1 .1-1-.1-1 .3-1-.3-1 .1-1-.1-1-.1-1 .1-1 .7-1-.8-1 0-1 .2-1 .1-1-.3-1 .3-1-.1-1-.1-1-.1-1 0-1 .1-1-.1-1 0-1 0-1 .3-1-.2-1 .4-1-.3-1 .3-1-.4-1-.1-1 .4-1-.2-1 0-1 .2-1 .1-1-.5-1 .1-1 .7-1 .2-1-.5-1-.5-1 .1-1 .1-1-.1-1-.1-1 0-1 0-1 .1-1 .1-1 .2-1-.4-1 .2-1-.1-1 .1-1-.1-1 .3-1-.3-1 0-1 0-1 0-1 0-1 .3-1-.4-1 .4-1-.3-1 .1-1-.1-1 0-1 0-1 .9-1-.8-1 .7-1 .2-1-.8-1-.3-1 .2-1 .1-1-.1-1-.2-1 0-1 .8-1-.8-1 .4-1 .4-1-.7-1 .7-1-.7-1 .1-1-.1-1 0-1 .1-1-.1-1 0-1 0-1 0-1-.1-1 .2-1-.1-1-.1-1 .4-1 0-1 .1-1 .1-1-.2-1-.4-1 .1-1 .2-1-.2-1 .3-1 .5-1-.7-1-.1-1-.1-1 0-1 0-1 .1-1 0-1 .3-1-.4-1 .1-1 0-1 .1-1 .3-1-.5-1 0-1 .3-1 0-1 .2-1-.5-1 .2-1-.1-1 .4-1-.5-1 .1-1-.1-1 .6-1-.5-1-.1-1 .2-1-.2-1 .2-1-.1-1-.1-1 .6-1 .4-1 0-1-.9-1 .5-1-.6-1 0-1 .3-1-.1-1-.2-1 0-1 .1-1 .1-1 .3-1-.5-1 0-1 .2-1 .2-1-.4-1 .9-1-.4-1-.3-1-.1-1 .2-1-.1-1 .2-1-.3-1 .2-1-.3-1 .3-1 .1-1-.1-1-.3-1 .1-1-.1-1 0-1 .1-1 .8-1-.8-1 .2-1-.2-1 0-1 .1-1-.2-1 .2-1-.1-1-.1-1 .1-1 .1-1-.2-1 .3-1-.2-1 .3-1-.2-1 .4-1 .5-1-.6-1 .2-1 .2-1-.1-1-.5-1-.2-1 .3-1-.4-1 0-1 .2-1 0-1-.1-1 0-1 0-1-.1-1 .3-1-.1-1 .1-1-.3-1 .2-1-.1-1 .1-1-.2-1 0-1 .1-1-.1-1 0-1 .2-1-.1-1-.1-1 .1-1-.1-1 .3-1-.1-1-.2-1 .1-1 .1-1 0-1-.2-1 .3-1-.1-1 .2-1 .2-1-.3-1-.1-1-.1-1 0-1 0-1 .1-1-.1-1 0-1 .1-1 0-1-.2-1 0-1 0-1 .2-1-.1-1 .1-1 .1-1-.2-1 0-1 .5-1-.5-1-.1-1 .3-1 0-1-.2-1 .1-1-.2-1 .5-1-.5-1 .8-1-.8-1 .3-1 .2-1-.5-1 0-1 .1-1-.1-1 .4-1-.4-1 .4-1-.3-1 .3-1-.2-1-.1-1 .2-1-.3-1 .3-1 .1-1 .4-1-.4-1 0-1-.1-1-.2-1-.1-1 .1-1-.1-1 .1-1 0-1 0-1 .2-1 0-1-.2-1 .3-1-.1-1-.1-1 .1-1-.1-1 .1-1 0-1-.2-1-.1-1 0-1 .1-1-.1-1 0-1 .4-1-.2-1-.2-1 0-1 .1-1 .1-1 .1-1-.1-1-.1-1 .3-1 0-1 0-1 0-1 .1-1 .2-1-.4-1-.1-1 0-1 0-1-.1-1-.1-1 .1-1-.1-1 .2-1 0-1-.2-1 .1-1 .1-1 0-1-.2-1 0-1 0-1 .3-1-.3-1 .4-1 .2-1-.4-1 .1-1 .5-1-.2-1 .2-1 .3-1 0-1-.3-1-.1-1-.2-1-.3-1-.1-1 .1-1 0-1 0-1-.2-1 0-1 .4-1-.4-1 .3-1-.3-1 0-1 0-1 .5-1 .2-1-.6-1 .1-1-.1-1 0-1 .1-1-.1-1 .2-1-.2-1-.1-1 .3-1 .1-1-.4-1 .3-1 0-1-.2-1 .4-1-.5-1 .2-1 .7-1-.7-1-.2-1 0-1 .1-1-.1-1 .2-1-.1-1 0-1-.1-1 .1-1 .4-1-.5-1 .1-1 0-1 0-1 .2-1 0-1-.2-1 .3-1 .1-1-.3-1-.2-1 0-1 .1-1 .1-1-.1-1-.1-1 .2-1 .9-1-1-1 0-1-.1-1 .3-1-.3-1 .4-1-.2-1 .5-1-.7-1 0-1 0-1 .2-1-.2-1 .3-1-.1-1 .5-1-.3-1 0-1 .1-1 .1-1 .8-1-.3-1-.6-1-.4-1 .3-1-.4-1 .3-1-.1-1 0-1 .5-1-.6-1 .1-1 .7-1 .1-1-1-1 .2-1-.2-1 0-1 1.1-1-.8-1-.2-1 0-1 .2-1 .3-1-.4-1-.1-1 .1-1 .2-1 .1-1-.2-1-.2-1 .1-1 .2-1 .3-1 .1-1 .7-1-1-1-.1-1-.2-1-.1-1 0-1 .1-1 0-1-.1-1 .1-1-.1-1 1.3-1-1.2-1 .2-1-.2-1 .1-1-.3-1 0-1 .9-1-.8-1 .1-1-.1-1 .2-1 0-1-.1-1 0-1 .1-1-.2-1-.1-1 .1-1 0-1-.1-1 .3-1-.3-1 .1-1 0-1 .1-1-.2-1 .1-1 .2-1-.3-1 .1-1 .4-1-.5-1 0-1 .3-1-.1-1 0-1 0-1-.1-1-.1-1 0-1 0-1 .6-1-.5-1 0-1 .2-1 0-1-.2-1 .2-1 0-1-.3-1 0-1 .2-1-.1-1 0-1 0-1 0-1-.1-1 .2-1-.1-1 .1-1-.1-1 0-1-.1-1 .1-1 .3-1-.3-1 .1-1 .1-1 .3-1-.2-1 0-1-.2-1-.1-1 0-1 .4-1-.2-1 0-1 0-1-.2-1 .1-1 .5-1-.7-1 .2-1-.2-1 .3-1-.2-1 .2-1-.2-1 1.1-1-1.2-1 0-1 .2-1-.1-1 .4-1-.5-1 0-1 .1-1 .2-1 0Z"/>
<path fill="#000000" d="M138.5 197.6l1 0 1 0 1-.7 1 .7 1 .1 1-.1 1-.1 1 0 1-.1 1 .1 1 .2 1-.8 1 .4 1 .3 1-.7 1 .8 1-.1 1-.2 1-.4 1-.1 1-.1 1 .2 1 .1 1 .4 1 .1 1-.1 1-.1 1 .2 1-.2 1 .2 1 0 1 .1 1-.8 1 .7 1-.3 1 .2 1 .2 1-.4 1 .3 1 0 1 0 1 0 1-.2 1 .2 1-.2 1-.2 1 .1 1-.1 1 0 1-.2 1 .5 1-.2 1 .2 1 0 1 .2 1-.2 1 .1 1 0 1 0 1-.7 1 .8 1-.1 1-.3 1 .3 1 0 1 0 1 0 1-.5 1 .4 1 0 1 .1 1 .1 1-.5 1 .4 1-.2 1 .3 1 0 1-.3 1 .1 1 .1 1-.1 1-.7 1 .5 1 0 1 .4 1-.5 1 .4 1-.3 1-.5 1 .9 1 0 1-1 1 .5 1 .2 1-.7 1 .7 1-.1 1 .2 1 0 1-.1 1-.3 1 .6 1-.1 1-.5 1 .5 1 0 1 0 1-.6 1 .1 1 .4 1-.4 1 .1 1-.2 1-.1 1-.1 1 .4 1 .1 1 .2 1 0 1 .1 1 0 1-.4 1 .4 1-.8 1 .6 1 .1 1 0 1 0 1 .2 1-.2 1 .1 1-.1 1 .1 1 0 1 0 1-.1 1 0 1-.3 1 .2 1 .2 1-.1 1 .1 1 0 1-.1 1-.5 1 .6 1 0 1 0 1 .1 1-.1 1 .1 1 0 1-.3 1 0 1 .2 1 0 1 0 1-.2 1-.2 1-.1 1 .5 1 .1 1-1.1 1 .7 1-.6 1 1 1 0 1 0 1-.1 1 .1 1-.2 1 .1 1 0 1 0 1-.1 1 0 1 .1 1-.8 1 .8 1-.1 1 0 1 0 1 0 1 .1 1 .1 1-.1 1-.1 1 0 1 0 1-.2 1 0 1-.3 1 .5 1 0 1 0 1 0 1 0 1 .1 1 0 1 .1 1-.3 1 .2 1-.7 1 .6 1 .1 1 0 1-.1 1-.2 1 .1 1-.1 1 .1 1 0 1 0 1 .1 1 0 1 .2 1-.1 1-.1 1 .1 1 .1 1-.1 1-.3 1-.6 1 .5 1-.3 1-.3 1 0 1 .6 1 0 1 .3 1 .1 1-.4 1 .3 1 .1 1-.2 1 .1 1 .1 1-.1 1-.2 1-.1 1 .1 1 .1 1-1.1 1 1 1-.7 1 .2 1 .6 1-.7 1 .7 1 .3 1-.5 1-.4 1 .1 1 .8 1-.2 1 .1 1-.1 1-.3 1 .2 1-.3 1 .3 1-.2 1-.1 1 .3 1-.1 1 .2 1 .2 1 0 1-.6 1-.4 1 .7 1 .2 1 0 1 .1 1-.2 1 .2 1 0 1 0 1-1 1 .2 1 .3 1 .3 1 0 1-.3 1 .2 1 .3 1 0 1-.2 1-.1 1-.1 1-.1 1 .2 1 .2 1-.3 1 0 1-.2 1 .5 1-.1 1-.4 1 .4 1 .2 1-.3 1 .1 1-.4 1 .4 1-.2 1-.1 1-.2 1 0 1 0 1-.1 1 .2 1 .1 1-.3 1 .4 1 0 1 .2 1-.7 1 .6 1 0 1-.3 1-.2 1-.6 1 .3 1-.5 1 .3 1 0 1-.2 1 .9 1 .4 1 .1 1-.1 1-.2 1 .3 1 0 1-.8 1 .9 1 0 1-1.1 1 1 1-.2 1 .2 1 .1 1 0 1-1.1 1 .8 1 .1 1-.1 1 .2 1-.2 1 .3 1 0 1-.1 1-.2 1 .2 1 .1 1-.1 1 .1 1-.2 1 0 1 .2 1-.4 1-.2 1 .2 1 .2 1-.4 1 .2 1 .3 1-.1 1 .1 1 0 1-.4 1 .3 1 0 1 .1 1 0 1-.6 1 .3 1 0 1-.2 1 .3 1 .3 1-.2 1 .2 1-1.1 1 .7 1 .4 1-.1 1 .1 1-.1 1-.1 1-.7 1 .6 1 .2 1-.1 1 .2 1-.6 1 .6 1 0 1 0 1-.4 1 .3 1-.1 1 .1 1-.4 1 .2 1 .3 1-.1 1 .1 1 0 1-.1 1-.3 1 0 1 .2 1-.1 1 .2 1-.1 1-.2 1-.1 1-.7 1 .5 1 .2 1 .4 1 0 1-.2 1 .2 1-.2 1 .3 1-.4 1 .3 1 0 1-.1 1 .1 1 0 1 0 1-.4 1 .5 1-.2 1-.1 1-.1 1-.1 1 .3 1 0 1-.1 1 .3 1-1.1 1 .9 1-1.1 1 .5 1 .2 1 .2 1 .3 1 0 1-.2 1 .3 1-.3 1 .2 1-.5 1 .3 1 .2 1-.3 1 .1 1 .1 1-.5 1 .7 1 0 1-.2 1 .1 1-.2 1 .2 1 0 1 0 1 0 1-.3 1 .2 1-.1 1 .2 1-.1 1 .2 1-.2 1 .1 1-.1 1 .1 1-.9 1 .8 1-.4 1 .1 1 .2 1 .2 1-.5 1-.4 1 .8 1-1.1 1 1 1 .3 1-.2 1 .1 1-.8 1 .1 1 .1 1 0 1-.3 1 .6 1 .3 1 0 1 0 1 0 1-.2 1 .2 1-.1 1-.1 1 .2 1-.4 1 .4 1 0 1 0 1-.1 1-.4 1 .1 1 0 1 0 1-.4 1 .7 1-.2 1 .3 1-.1 1-.4 1 .6 1-.3 1 0 1 0 1-.2 1-.1 1 0 1 .1 1 .1 1-.2 1 .6 1-.6 1 .3 1 .2 1-.1 1-.2 1 .4 1-1 1 .8 1-.7 1 .9 1-.3 1 .2 1-.1 1-.6 1 .8 1-.2 1-.1 1 .3 1-.1 1-.4 1 .2 1 .2 1 .1 1-.4 1 0 1 .3 1 0 1 .1 1-1 1 .7 1 .1 1 .1 1 0 1 .1 1 0 1 0 1-.2 1 .1 1 0 1-.4 1 .1 1 .1 1 .2 1-.3 1-.7 1 .2 1 .3 1-.2 1-.7 1 1.1 1 .2 1 .1 1 .1 1 0 1-.1 1-.1 1 .1 1-.4 1 .2 1 0 1 .2 1-.1 1-.1 1 .2 1-.3 1-.7 1 1 1-.2 1 .3 1-.6 1-.2 1 0 1-.1 1-.3 1 .1 1-.2 1 .2 1-.1 1 .7 1 .1 1 0 1-.2 1 .2 1-.5 1 .4 1 .1 1 0 1 .2 1 .1 1 0 1-.5 1 .5 1 0 1 0 1-.1 1 .1 1 0 1-.4 1 .4 1 .1 1-.2 1-.4 1 .3 1 .1 1 .1 1-.2 1 .3 1-.1 1-.2 1 .2 1-.2 1-.4 1 .2 1 0 1-.3 1 .6 1 .2 1-.3 1 .1 1-.4 1 .5 1 .1 1-.4 1 .3 1-.2 1 .1 1 .2 1-.4 1 .2 1-.5 1 .7 1-.7 1 .7 1 0 1 0 1-.1 1 0 1-.2 1 0 1 .2 1-.6 1 .4 1-.3 1 .4 1 0 1-.2 1 .4 1-.7 1 .6 1 0 1 0 1-.5 1 .3 1-.2 1-.3 1 .6 1-.4 1 .3 1-.4 1 .6 1 .1 1-.2 1 .2 1-.9 1 .8 1-.1 1 0 1 .1 1 0 1 .1 1 0 1-.3 1 .2 1 0 1-.1 1 .1 1 0 1 .1 1-.4 1 .4 1-.1 1 0 1-.3 1 .1 1 .3 1-1 1 .2 1 .8 1-.1 1 0 1 .1 1-.4 1 .3 1-.2 1-.2 1 0 1 .4 1 .1 1-.3 1 .3 1-.7 1 0 1 .1 1 .4 1-.4 1 .2 1 .4 1-.1 1-.2 1 .1 1-.1 1 0 1 .2 1-.1 1-.3 1 .2 1 0 1-.1 1-.1 1 .2 1-.1 1 .1 1 .2 1 0 1 .1 1-.2 1-.4 1 .5 1 .1 1-.6 1 .5 1 0 1-.1 1-.6 1 .4 1 .1 1 .2 1-.1 1 .1 1 .1 1-.2 1-.1 1-.2 1 .3 1-.5 1 .4 1 .2 1 0 1 0 1 .1 1-.1 1-.3 1 .3 1 .1 1-.3 1 .1 1-.1 1 .2 1 .1 1 0 1-.2 1 .1 1 .1 1-.1 1-.1 1-.2 1 0 1-.2 1-.6 1 .3 1 0 1 .6 1-.4 1 .6 1-.3 1 0 1 .3 1-.3 1 .4 1-.2 1 0 1 0 1-.9 1 .7 1 0 1 .1 1 0 1 .1 1 .1 1-.2 1 .1 1 0 1 .1 1 .1 1-.1 1 .1 1-.5 1 .3 1 .2 1 0 1-.2 1-.2 1 .3 1-.5 1 .4 1 0 1 .2 1-.1 1-.6 1 0 1 .6 1-.4 1 .4 1-.1 1 .2 1-.3 1 .2 1-.1 1 .2 1-.3 1 .1 1-.4 1 .4 1-.3 1 .1 1 0 1 .1 1 0 1-.4 1 .6 1 .1 1-.2 1 .1 1 0 1 0 1 0 0 3-1 0-1-.5-1-.1-1 .6-1-.3-1 .1-1-.2-1 .2-1 .1-1-.1-1 .1-1-.1-1-.2-1 .5-1-.5-1 .2-1-.2-1-.2-1 1-1-.3-1-.7-1 1-1-.9-1 0-1 .2-1-.2-1 .1-1 .2-1-.3-1 .2-1-.2-1 0-1 0-1 .3-1-.2-1-.1-1 .1-1-.1-1-.1-1 .3-1-.2-1 0-1 .1-1 .2-1-.1-1-.2-1 .2-1 0-1 0-1 0-1 .1-1 .1-1-.1-1 .6-1-.7-1-.1-1 .1-1 0-1 .1-1-.1-1 .3-1-.4-1-.1-1 .1-1 .2-1 .1-1 .1-1-.2-1-.2-1 .3-1-.4-1 .2-1 0-1 .3-1-.4-1 .1-1-.3-1 .2-1-.1-1 .1-1-.2-1 .2-1-.1-1-.1-1 0-1 .6-1-.5-1 .1-1 .2-1 .9-1-.9-1-.2-1 .1-1 .3-1 .3-1-.7-1 0-1 .1-1-.3-1 .3-1-.2-1 .1-1 0-1 .1-1-.1-1 0-1 .2-1-.1-1-.2-1 0-1 .5-1-.5-1 .2-1-.1-1 .1-1 0-1 0-1 0-1-.1-1 .1-1-.2-1 .2-1 0-1 0-1-.2-1 .4-1-.3-1-.1-1 .2-1 0-1-.1-1 .7-1-.5-1 1-1-1.2-1 .1-1-.1-1-.2-1 .1-1 .1-1 0-1 0-1 .1-1-.3-1 .8-1-.7-1 .7-1-.7-1 0-1 .1-1 .5-1-.1-1-.3-1-.2-1-.1-1 .2-1-.1-1 .1-1-.1-1 .2-1-.2-1-.1-1 .1-1 .4-1-.3-1 .7-1-.9-1 .3-1-.1-1 .6-1-.7-1 0-1-.1-1 .5-1-.4-1 0-1 0-1 .1-1-.2-1 .1-1 0-1 .1-1-.1-1 0-1 .2-1 0-1-.2-1 .8-1-.8-1-.1-1 .3-1-.2-1 0-1 0-1-.1-1 .1-1 .1-1 0-1 .1-1-.2-1 .1-1 0-1-.2-1 .2-1-.1-1 .4-1-.1-1 .1-1-.4-1 .2-1 .2-1-.2-1-.3-1 .1-1 .1-1 0-1-.2-1 .1-1 .7-1-.6-1 .2-1 .1-1-.1-1 .4-1-.5-1 .3-1 0-1-.6-1 .4-1-.2-1 0-1-.2-1 .2-1-.1-1 .1-1-.1-1 .6-1-.4-1-.3-1 .3-1-.2-1-.1-1 .8-1-.6-1 .5-1-.6-1 .2-1-.1-1 0-1 .2-1 .2-1 0-1-.2-1 .2-1-.2-1 0-1 .3-1 .1-1 .1-1 .5-1 0-1 .2-1-.6-1-.3-1-.4-1-.1-1 0-1 0-1-.1-1 0-1 .1-1 .2-1 0-1-.4-1 1.1-1-1-1 .8-1-.8-1 .3-1 .1-1-.3-1 .1-1-.1-1 .4-1 .5-1-.5-1 .3-1-.3-1 0-1-.3-1-.1-1 .5-1-.4-1 .2-1-.2-1 0-1 .2-1-.4-1 .1-1 0-1 .3-1-.2-1-.1-1-.1-1-.1-1 .1-1 .1-1 .2-1 0-1 .1-1-.5-1 .1-1 .6-1-.6-1 .2-1 .3-1-.5-1 .1-1 .1-1-.2-1 .1-1 .2-1 .2-1-.5-1 0-1 .5-1 .2-1-.8-1 .1-1 0-1 0-1 .5-1-.1-1-.1-1-.1-1-.1-1 0-1 .1-1 .2-1 .4-1-.2-1 .1-1 .4-1-.7-1-.2-1-.2-1-.1-1 .1-1 0-1 0-1 .2-1 0-1 .3-1-.1-1 0-1 .1-1 0-1-.4-1 .1-1-.2-1-.1-1 .2-1 .1-1 .1-1-.3-1 0-1-.1-1 .3-1 0-1-.1-1 .1-1 .8-1-.2-1-.3-1 .3-1-.5-1-.4-1 .1-1 .1-1 .2-1-.3-1 0-1-.1-1 .4-1 0-1-.1-1 .3-1-.2-1-.2-1 0-1 .1-1 0-1-.1-1 0-1 0-1 .4-1-.1-1 .1-1-.4-1-.2-1 .5-1-.4-1-.1-1 0-1 .3-1-.2-1 .1-1-.2-1 .1-1-.1-1 .1-1 .1-1 .9-1-.8-1-.3-1 .1-1 0-1 0-1-.1-1 .2-1 .2-1 0-1 .1-1 .3-1-.1-1-.3-1 .1-1 .2-1-.4-1-.1-1 .1-1 .2-1 0-1-.1-1-.3-1 .2-1-.1-1 .3-1-.5-1 .3-1-.1-1-.1-1 .2-1-.3-1 .2-1-.2-1 .4-1-.3-1 .1-1-.2-1 .2-1 .1-1 .2-1 .2-1-.3-1 .7-1-1-1 .1-1 .3-1-.4-1 .1-1-.1-1 .2-1-.2-1-.1-1 0-1 .2-1 .3-1-.1-1-.1-1 0-1-.3-1 .3-1-.1-1-.1-1 .7-1-.5-1 .2-1-.5-1 .1-1-.1-1 .1-1 .3-1-.1-1-.1-1 0-1 0-1 .6-1-.6-1-.2-1 .1-1-.1-1 .2-1 0-1 0-1 1.1-1-1.3-1 .3-1-.2-1 0-1 .1-1 0-1-.1-1 .1-1 0-1 .1-1-.1-1 0-1 .3-1 0-1 .3-1-.5-1 .3-1-.4-1-.1-1 .2-1-.2-1 .4-1-.3-1 0-1 0-1-.1-1 .7-1-.5-1 .6-1-.9-1 .3-1-.1-1 0-1 .7-1-.7-1 1-1-1.1-1 .1-1 .5-1-.7-1 .1-1-.1-1 .2-1 .5-1-.4-1 .2-1-.3-1 .1-1 .4-1 .2-1 .2-1 0-1 0-1-.2-1 .1-1-.5-1-.3-1 .3-1-.4-1 0-1 .1-1 0-1 .7-1-.4-1 0-1 1.2-1-.7-1 0-1-.2-1-.4-1-.1-1 0-1 0-1-.2-1 .3-1-.4-1 .1-1 .1-1-.1-1 .1-1-.1-1 .2-1 .2-1-.4-1 .2-1-.1-1-.2-1 .5-1-.3-1 0-1 .2-1-.4-1 .2-1 .7-1-.3-1-.5-1 .2-1 0-1-.1-1 .2-1-.4-1 .1-1 .2-1-.1-1-.1-1 0-1 .2-1-.2-1 .1-1 .3-1-.3-1 .4-1-.6-1 .3-1 .4-1 .6-1-.9-1 0-1 0-1-.3-1-.1-1 .2-1 0-1 0-1-.1-1 .3-1-.2-1-.1-1 .1-1 .3-1-.4-1 .3-1 .1-1 0-1 .2-1-.3-1-.1-1 0-1-.1-1 .7-1-.5-1-.3-1 .1-1 0-1-.2-1 .2-1-.1-1 .4-1 .7-1 0-1 0-1 0-1-.3-1-.2-1-.3-1-.1-1-.1-1 .1-1-.1-1-.1-1 0-1 .2-1-.2-1 .3-1 .2-1-.2-1 0-1 .1-1-.1-1-.3-1 0-1 .1-1 .6-1-.6-1 0-1-.1-1 0-1 0-1 0-1 .1-1 0-1 0-1 .1-1-.2-1 .2-1 1-1-1-1 .2-1 .1-1 .6-1-1.1-1 0-1 .4-1-.4-1 0-1 .2-1-.1-1-.2-1 1-1-.8-1 0-1 .5-1-.3-1-.3-1 .1-1-.1-1-.1-1 .4-1-.2-1-.2-1 .8-1 0-1 .2-1-.9-1 1.1-1-.9-1-.2-1 0-1 .1-1 .2-1-.2-1 .2-1-.2-1 0-1-.1-1 0-1 .3-1-.2-1 .3-1-.2-1-.2-1 0-1 .7-1-.6-1 .7-1-.8-1 .3-1-.2-1-.1-1 .3-1 .6-1-.6-1-.3-1 .2-1-.3-1 .9-1-.7-1-.2-1 .1-1 .2-1-.1-1 .3-1-.4-1 .8-1-.7-1 0-1 .1-1-.1-1 0-1 0-1 .1-1 .6-1-.2-1 .1-1-.3-1 .3-1-.2-1-.3-1-.2-1 .4-1-.2-1-.2-1 0-1 .3-1 .8-1-1.1-1 0-1 .2-1 0-1 .7-1-.6-1 0-1-.1-1 .2-1 0-1-.4-1 .1-1 .1-1-.2-1 .9-1-.7-1-.1-1 .3-1-.4-1 .2-1-.2-1-.1-1 .2-1-.1-1 0-1 .3-1 .3-1-.5-1-.2-1 .3-1-.3-1 .2-1-.1-1 0-1 .2-1-.2-1 .2-1-.1-1 .1-1-.2-1 .4-1-.2-1-.2-1 .1-1 .3-1 0-1-.2-1-.1-1 .7-1-.7-1 .2-1 .6-1-.5-1 .2-1-.1-1-.1-1 .3-1-.4-1-.1-1-.1-1 0-1 0-1 0-1 0-1-.1-1 .1-1 .1-1-.2-1 .1-1 0-1-.2-1 .2-1-.1-1 0-1-.1-1 .1-1 0-1 0-1 .9-1-.2-1-.2-1 .1-1-.2-1 0-1-.3-1 .9-1-1-1 .6-1-.7-1 .4-1-.4-1 .1-1 0-1-.1-1 .3-1-.1-1 .3-1-.4-1-.1-1 .1-1 0-1 .1-1 0Z"/>
<path fill="#ff0000" d="M138.5 229.1l1 0 1-.1 1 0 1 .2 1 0 1 0 1 0 1-.1 1-.2 1-.1 1 .4 1 0 1-.2 1-.6 1 .8 1 0 1-.2 1-.6 1 .5 1 .1 1 .1 1 0 1-.2 1 .2 1 0 1 .1 1 0 1-.5 1 .4 1-.8 1 .8 1 0 1 0 1 0 1 .1 1-.3 1 .3 1-.1 1 0 1 0 1 .1 1-.2 1 0 1 .1 1 .1 1-.2 1-.9 1 1 1 0 1 .1 1 0 1 0 1-1 1 1 1 0 1 0 1-.3 1 .3 1-.1 1 0 1-.9 1 1 1-.4 1-.4 1 .7 1 .1 1 0 1 0 1-.1 1 .1 1 0 1-.1 1 .1 1-.4 1 .3 1 .1 1-.3 1 .2 1-.1 1 0 1 .1 1 0 1-.2 1 .3 1-.5 1 .2 1 .1 1-.2 1-.3 1-.2 1-.4 1 .8 1 .1 1 .1 1 .2 1 .1 1-.3 1-.8 1 1 1-.7 1 .8 1 0 1-.8 1 .7 1-.8 1 .8 1 .1 1 0 1-.1 1 .1 1-.2 1 0 1 .2 1-.6 1 .5 1-.6 1 .7 1 0 1 0 1-.1 1 0 1-.2 1 .3 1-.1 1-.2 1 .2 1 0 1-.2 1 .3 1 0 1-.1 1-.1 1-.2 1 .3 1-.8 1 .9 1-.1 1 0 1-.1 1 .1 1 0 1-.9 1 .7 1-.6 1 .2 1 .4 1-.3 1 .5 1-.1 1 0 1 .1 1-.1 1 0 1 .2 1-.4 1 .4 1-.1 1-.1 1 .1 1-.1 1 .1 1 0 1-.5 1 .5 1-.1 1-.2 1 .4 1 0 1-.1 1-.2 1 .1 1-.3 1-.1 1 .2 1 .1 1 .2 1 0 1 .1 1 0 1-.1 1 .1 1 0 1 0 1 0 1-.2 1 .2 1-.7 1 .5 1 .1 1 0 1-.3 1 .2 1 .2 1-.7 1 .7 1-.2 1-.7 1 .4 1 .5 1-.1 1 0 1 .1 1-.1 1 .1 1-.2 1 0 1 .1 1 0 1 .1 1-.1 1-.2 1 0 1-.2 1 .2 1 .2 1-.4 1 .5 1 0 1-.7 1 .7 1-.3 1 .3 1 0 1-.6 1 .6 1-.1 1 0 1 0 1 .1 1-.1 1 .1 1-.2 1-.3 1 .3 1 .2 1-.1 1-.2 1 .2 1 .1 1 0 1-.2 1 .1 1-.9 1 .7 1 .2 1 .1 1-.1 1 .1 1-.3 1 .2 1-.1 1 .2 1 0 1-.3 1 .2 1-.1 1 .1 1-.1 1 .2 1-.2 1 0 1 .1 1-.4 1 .3 1 0 1 0 1-1 1 1.2 1 0 1-.6 1 .6 1-.1 1 .1 1 0 1-.5 1 .1 1-.2 1 .1 1-.1 1 .3 1 0 1-.1 1-.1 1-.1 1-.1 1 .5 1 .2 1 0 1-.7 1 .1 1 .4 1 0 1 .1 1-.2 1 0 1-.3 1 .4 1 .2 1-.9 1 .8 1-.6 1-.3 1 .7 1 0 1 .3 1-.6 1-.1 1 .7 1-.6 1-.1 1 .5 1 .1 1-.8 1 .1 1 .8 1 0 1 0 1-.1 1-.3 1 .2 1 .2 1-.5 1 .2 1 .3 1-.2 1-.2 1-.6 1 .6 1 .4 1-.1 1-.8 1 .7 1 0 1-.2 1 .1 1 .1 1-.1 1 .3 1-.7 1 .7 1 0 1-.1 1 0 1-.1 1 .1 1-.2 1 .1 1 0 1 .2 1-.1 1-.2 1-.5 1 .7 1 .1 1-.6 1 .5 1 0 1-.1 1-.8 1 .8 1-.1 1-.2 1 .2 1 .1 1-.9 1 .9 1 .1 1 .1 1 0 1-.1 1-.6 1 .5 1-.6 1 .8 1 0 1-.1 1-.1 1 0 1 .1 1 0 1-.2 1 .1 1 .2 1-.2 1 .2 1-.7 1 .4 1 .1 1 0 1-.1 1-.5 1-.1 1 .3 1 1.1 1-.3 1-1.3 1-.3 1-.1 1 .4 1 .5 1 1.6 1-1 1-1.3 1-.7 1 .5 1 1.3 1 1.2 1-.7 1-.7 1-.3 1 .6 1-.1 1 .1 1-.8 1 .8 1 .1 1-.1 1 .1 1-.2 1 .1 1 .1 1-.3 1 .2 1-.7 1 .7 1 .1 1-.1 1 0 1 0 1 0 1-.2 1 .3 1-.2 1 0 1 .2 1 0 1-.4 1 .4 1-.3 1 .2 1 0 1-.6 1 .6 1-.1 1-.1 1 .2 1 .1 1-.2 1 .1 1 0 1 0 1-.2 1 .1 1-.3 1 .4 1-.8 1 0 1-.4 1 1.3 1-.1 1 0 1 0 1-.1 1 .1 1-.1 1 .1 1-.6 1 .3 1 .4 1 0 1-.8 1 .8 1 0 1-.2 1 .1 1-.1 1 .1 1 0 1 .1 1-.3 1 .3 1 0 1-.8 1 .6 1 .1 1-.3 1 .4 1-.7 1 .6 1 0 1-.4 1 .5 1-.1 1 .1 1 0 1-.7 1 .6 1 .1 1-.1 1-.7 1 .8 1-.6 1 0 1 .3 1-.1 1-.2 1 .5 1 0 1 0 1-.5 1 .5 1-.1 1 0 1-.7 1 .4 1-.3 1 .7 1-.8 1 .6 1-.3 1 .6 1-.2 1 0 1-.4 1 .6 1-.4 1 .4 1 0 1-.1 1 .1 1 0 1-.1 1-.1 1-.8 1 .7 1 .3 1-.1 1-.1 1 .1 1 .1 1-.2 1 .2 1-.4 1 .1 1-.3 1 .5 1-.1 1 0 1 .1 1-.2 1 .2 1-.8 1 .8 1-.8 1 .9 1-.3 1 .1 1 .2 1 0 1-.3 1 .3 1-.3 1 .3 1 0 1 0 1-.5 1 .4 1 .1 1-.1 1 0 1 .1 1-.7 1 .7 1-.1 1-.8 1 .8 1 0 1-.1 1-.1 1 .2 1-.1 1-.4 1 .2 1 .4 1-.3 1 .2 1-.3 1 .4 1 0 1-.3 1 0 1 .3 1-.2 1 .1 1 0 1 0 1-.3 1 .3 1 .1 1-.1 1 .2 1-.3 1-.3 1 0 1 .2 1 .2 1 .3 1-.2 1-1.3 1 .9 1 0 1 .1 1 .4 1-.5 1 0 1-.4 1 .2 1-.3 1 .9 1 .1 1-.8 1-.2 1 0 1 .2 1 1 1-.9 1 0 1-.2 1-.3 1 .4 1 .8 1 .5 1-.8 1-1.1 1-.1 1 .5 1 .9 1 .4 1-.6 1-.5 1 0 1 .1 1 .6 1 .6 1-.7 1-.8 1 .2 1-.1 1 .6 1 .9 1-.7 1-.6 1-.9 1 .9 1 .7 1 .4 1-1.1 1-.1 1 0 1 0 1 .5 1 .4 1-.5 1-.6 1-.1 1 .4 1 .7 1 0 1-1.1 1 0 1-.5 1 1.3 1 .9 1-.9 1-.6 1 0 1 .3 1 .8 1 0 1-1.4 1 0 1-.2 1 1.2 1 1 1-1.8 1-.7 1-.3 1 1.6 1 1.3 1-1.6 1-1.3 1 0 1 1.5 1 1.6 1-2.1 1-2 1 .6 1 1.2 1 2.2 1-3.7 1-.2 1 .5 1 3.3 1-1 1-3.1 1-.2 1 1.7 1 4 1-4.5 1-1.3 1 .1 1 4 1-.8 1-4 1 .1 1 2.6 1 4 1-5.9 1-1.7 1 1.2 1 5.8 1-2.9 1-3.2 1-.2 1 3.9 1 1.9 1-5.2 1-.6 1 1.9 1 4.7 1-4.7 1-1.7 1 1.1 1 4.2 1-1.9 1-3.6 1 .1 1 3.8 1 1.3 1-4.6 1-.2 1 2.3 1 3.8 1-5.3 1-1.2 1 .4 1 6.6 1-5.3 1-3.3 1 1.3 1 5.9 1-2.1 1-3.9 1 0 1 4.2 1 1.1 1-4.7 1-.6 1 2.7 1 4.3 1-6.1 1-1.3 1 1.3 1 6.7 1-5.1 1-3.7 1 1.4 1 5.4 1-1.2 1-4.6 1-.1 1 4.3 1 2.1 1-5.7 1-.3 1 2.3 1 4.7 1-5.3 1-1.5 1 1 1 5.7 1-4.2 1-4.2 1 1.1 1 5.5 1-.5 1-5.3 1-.1 1 4.5 1 2.5 1-4.7 1-.6 1 1.6 1 4.2 1-4 1-1.1 1 .2 1 3.6 1-1.9 1-1.5 1-.3 1 2.8 1 .2 1-3.9 1-.3 1 1.9 1 3 1-4.4 1 .2 1 1.2 1 4 1-3.6 1-1.4 1 .1 1 3.9 1-1.3 1-2.3 1-.2 1 2.8 1 .8 1-3.3 1-.8 1 2.1 1 2.9 1-4.1 1-.2 1 .3 1 3.6 1-1.8 1-1.2 1 .2 1 1.8 1 0 1-1 1-.1 1 .7 1 .6 1-1 1-.7 1 1 1 .6 1-.7 1-.2 1 .3 1 .2 1 .1 1-.1 1-.4 1 .5 1-.2 1-.1 1-.1 1 .4 1 .1 1-.3 1-.6 1 .4 1 .9 1-.6 1-.6 1-.8 1 .7 1 .8 1-.6 1-.3 1 .4 1 1 1-1.3 1-.1 1 .4 1 .8 1-.8 1-.3 1 0 0 3.1-1 0-1 1.1-1 .8-1-1-1-.7-1 .8-1 .2-1-.3-1-.9-1 .7-1 .8-1-.5-1-.4-1-.4-1 .9-1-.1-1-.5-1-.5-1 .6-1 0-1 .3-1-.8-1 .3-1 0-1 .1-1 0-1-.3-1 .2-1 .1-1-.2-1-.2-1 .6-1 0-1 0-1-.7-1 .6-1 .5-1-.1-1-.8-1 .8-1 .8-1-.3-1-1.1-1 0-1 2.1-1 .1-1-1-1-2.8-1 3-1 1-1-.2-1-3.1-1 1.5-1 2-1 .2-1-3.3-1 .4-1 3.4-1-.6-1-1.8-1-2.6-1 4.1-1 .4-1-.9-1-4.1-1 3.9-1 2.3-1-.5-1-3.8-1 1.5-1 2-1-.4-1-2.4-1-1.3-1 3.2-1 .2-1-1.1-1-2.9-1 3.6-1 1.1-1-.7-1-4.3-1 3.2-1 2.7-1-.1-1-4.7-1 1.3-1 5-1-.2-1-4.1-1-2.4-1 5.1-1 .4-1-2.1-1-5.3-1 5.9-1 1.2-1-.6-1-5.9-1 3.7-1 3.3-1-.1-1-5.3-1 .5-1 4.9-1 .4-1-3.9-1-3.3-1 6.3-1 1-1-2.1-1-7-1 7.2-1 1.4-1-.8-1-5.9-1 3.2-1 3-1-.1-1-4.5-1-.2-1 5.6-1 0-1-2.8-1-4.3-1 6.1-1 .7-1-2-1-5.5-1 5.1-1 1.7-1-.6-1-4.9-1 2.6-1 3.1-1 .3-1-4.6-1-.7-1 4.3-1 .2-1-2.4-1-2.7-1 4.3-1 1.5-1-1.5-1-5.2-1 4.1-1 2.5-1 .2-1-4.8-1-.5-1 5.2-1 .6-1-3-1-5.3-1 6.3-1 1.5-1-.5-1-5.5-1 1.6-1 3.8-1-.2-1-2.5-1-3.2-1 4.5-1 .9-1-.1-1-4.8-1 1.6-1 2.7-1 1.1-1-3-1-1.6-1 1.9-1 1.6-1-.5-1-1.7-1-1.2-1 2.1-1 .2-1-.4-1-1.5-1-.3-1 1.8-1 .5-1-.5-1-1.5-1-.3-1 1.3-1 .3-1 0-1-.8-1-.9-1 .8-1 .7-1 0-1-.6-1-.8-1 .3-1 .8-1 .1-1-.1-1-.4-1-.6-1 .8-1 .6-1-.3-1 0-1-1.3-1 .3-1 .9-1 .2-1-.1-1-.7-1-.7-1 .7-1 .6-1 0-1-.1-1-.5-1-.6-1 .7-1 .5-1 .1-1 .2-1-.9-1 .1-1-.1-1 .7-1-.1-1 .2-1-.8-1-.7-1 .5-1 1.5-1-.7-1 .1-1-.6-1-.4-1 .4-1 .7-1 0-1-.1-1-.2-1-.7-1-.1-1 .9-1 .2-1-.1-1-.5-1-.5-1-.1-1 .6-1 .6-1-.3-1-.2-1-.6-1-.2-1 .7-1 .1-1 .6-1-.6-1-.4-1-.2-1 .1-1 .6-1-.1-1 0-1-.3-1-.3-1 .4-1-.1-1 0-1 .2-1-.2-1 0-1 0-1 .2-1 0-1-.1-1 0-1 0-1-.2-1 0-1 .1-1 .6-1 .1-1-.6-1-.2-1 .1-1 0-1 .1-1-.2-1 .2-1 .3-1-.5-1 .2-1-.1-1 .1-1-.1-1 .1-1 .3-1 0-1-.2-1-.1-1-.2-1 0-1 .2-1-.1-1 .4-1-.1-1-.2-1-.2-1 .2-1 .1-1-.1-1-.2-1 0-1 0-1 .3-1-.1-1 .2-1 .5-1-.8-1 .1-1 .5-1-.7-1 .1-1 0-1 .1-1-.2-1 0-1 .1-1 .9-1-.9-1-.1-1 0-1 .4-1-.2-1-.2-1 .2-1-.1-1-.1-1 .1-1-.1-1 1.1-1-1.1-1 .1-1 .1-1 .3-1-.4-1 .4-1-.5-1 .1-1 .3-1-.4-1 .3-1-.3-1 .2-1-.2-1 .3-1-.3-1 .8-1-.8-1 0-1 .7-1-.6-1 .2-1 0-1 .1-1-.1-1 .5-1-.4-1-.3-1 0-1-.1-1 .1-1 .2-1-.2-1-.1-1 0-1 .2-1 .1-1-.2-1-.1-1 .1-1 .2-1-.2-1-.1-1 0-1 .1-1-.1-1 .1-1 .2-1-.2-1-.1-1 .2-1-.2-1 0-1 0-1 0-1 0-1 .1-1-.1-1 .1-1 .5-1 .1-1-.7-1 .2-1-.1-1 0-1-.1-1 .1-1 .7-1-.5-1 .3-1 .3-1-.8-1 1-1-.8-1 0-1-.4-1 .6-1-.4-1-.1-1 0-1 0-1 .1-1 .3-1-.2-1 .4-1-.5-1 .1-1-.1-1 .9-1-.3-1-.6-1 0-1 .3-1-.4-1 0-1 .3-1 .2-1-.4-1 0-1 .3-1-.2-1-.2-1 .3-1-.2-1 0-1 0-1 0-1 .2-1-.3-1 0-1 0-1 0-1 0-1 .2-1-.1-1-.1-1 .1-1 .6-1-.2-1 1.1-1-.1-1-.3-1-1-1-1.5-1 1.7-1 .9-1 .4-1 .1-1-1.5-1-1.4-1 1.7-1 .3-1 .9-1 .5-1-1.5-1-1.1-1 .1-1 .5-1-.3-1 .1-1 .6-1-.7-1 .2-1 0-1-.1-1-.1-1 0-1 .8-1-.8-1 .1-1 .2-1-.2-1 .5-1-.4-1 0-1-.2-1 .5-1-.3-1-.1-1 .2-1 .2-1-.1-1 0-1 .3-1-.2-1 0-1 .5-1-.7-1-.1-1 0-1-.1-1 .5-1-.4-1-.1-1 .2-1 .9-1-.9-1-.2-1-.1-1 .7-1-.7-1 0-1 .1-1 .1-1 0-1-.1-1 0-1 .2-1-.3-1 .7-1-.5-1 0-1-.2-1 .2-1 .1-1-.1-1-.2-1 0-1 0-1 0-1 .1-1 .1-1 .1-1-.1-1 .2-1-.3-1-.1-1 .4-1-.3-1 0-1 .1-1 .1-1 .7-1 .1-1-.7-1-.4-1 0-1 0-1 0-1 0-1 .9-1-.7-1-.2-1 0-1 .4-1-.2-1 .2-1-.4-1 .1-1 .1-1 0-1-.1-1 .6-1-.3-1-.3-1 0-1-.1-1 .1-1 .2-1-.1-1-.2-1 0-1 .3-1-.1-1 .2-1 .2-1-.4-1 .2-1 .1-1 .8-1-.5-1-.4-1-.2-1 .7-1-.9-1 .1-1-.1-1 .9-1-.9-1 .1-1 0-1 .1-1-.1-1 .1-1 .1-1-.3-1 .4-1-.3-1-.1-1 .1-1 0-1 .1-1-.2-1 .2-1 .6-1-.6-1-.1-1-.1-1 .3-1 0-1 .1-1-.4-1 0-1 0-1 .1-1 0-1-.1-1 .2-1 0-1-.2-1 0-1 .1-1 .9-1-1-1 .1-1 0-1-.1-1 0-1 0-1 .4-1-.4-1 0-1 0-1 .2-1 0-1 .3-1-.3-1-.2-1 .5-1-.5-1 .8-1-.7-1-.1-1 0-1 .7-1-.6-1 0-1-.1-1 0-1 .1-1 .7-1-.8-1 0-1 .5-1-.4-1 0-1 .3-1-.4-1 0-1 .3-1-.2-1 .1-1 0-1-.2-1 .1-1 .1-1 .2-1-.4-1 0-1 .1-1 .2-1-.3-1 .2-1-.1-1 .2-1-.2-1 .9-1-.8-1-.1-1 0-1-.1-1 .4-1-.3-1 .1-1 .2-1 .1-1 .2-1-.5-1 .1-1-.1-1-.2-1 .9-1-.5-1 .4-1-.8-1 0-1 .1-1 .1-1 .8-1-1-1 .1-1 0-1 0-1-.1-1 .1-1 0-1 .2-1-.2-1-.1-1 .2-1 0-1 .3-1-.1-1-.1-1 .1-1-.3-1 0-1 0-1 0-1 0-1-.1-1 .4-1 .8-1-1.1-1 .1-1-.2-1 .8-1-.5-1-.2-1 0-1 0-1-.1-1 .8-1-.8-1 .1-1 .2-1-.2-1 .8-1-.8-1 .1-1 .1-1-.3-1 .1-1-.1-1 .3-1 .4-1 0-1-.6-1-.1-1 0-1 0-1 .7-1-.5-1-.1-1-.1-1 0-1 0-1 0-1 0-1 0-1 0-1 0-1 .1-1 .2-1 .3-1 .3-1 .2-1 0-1-.3-1-.3-1-.2-1-.3-1 0-1 .8-1-.4-1-.3-1 0-1 .1-1 .1-1-.2-1 .2-1-.3-1 0-1 0-1 0-1 .1-1 .3-1-.3-1-.1-1 .1-1 .1-1-.2-1 0-1 .2-1-.1-1 0-1-.1-1 .4-1-.3-1 .2-1-.2-1 .7-1-.5-1-.2-1-.1-1 0-1 0-1 .1-1-.1-1 .2-1-.1-1-.1-1 0-1 .9-1-.6-1 0-1 0-1-.2-1 0-1 .2-1-.1-1-.2-1 .1-1 .2-1 0-1-.3-1 .2-1-.1-1-.1-1 0-1 .5-1 .1-1-.3-1-.1-1-.1-1 .2-1-.3-1 .1-1 .1-1-.1-1 .1-1 .7-1-.9-1 .1-1-.1-1 .3-1-.1-1 .1-1-.2-1-.1-1 .1-1 .4-1-.4-1-.1-1 .1-1 0-1 0-1 0Z"/>
<path fill="none" stroke="#ff0000" stroke-width="2.1" stroke-linejoin="round" d="M528.3 230.4l.5-.1 .5-.3 .5-.3 .5-.1 .5 .2 .5 .4 .5 .7 .5 .6 .5 .3 .5 0 .5-.4 .5-.6 .5-.7 .5-.7 .5-.4 .5-.1 .5 .3 .5 .5 .5 .8 .5 .7 .5 .6 .5 .2 .5-.1 .5-.6 .5-.7 .5-.8 .5-.6 .5-.4 .5 .1 .5 .5 .5 .6 .5 .8 .5 .6 .5 .4 .5 0 .5-.4 .5-.6 .5-.5 .5-.2 .5 0 .5 .2"/>
<path fill="none" stroke="#ff0000" stroke-width="2.1" stroke-linejoin="round" d="M589.8 230.3l.5 0 .5 0 .5 .1 .5 .1 .5 .2 .5 0 .5 0 .5-.2 .5-.3 .5-.2 .5-.1 .5 .2 .5 .2 .5 .2 .5 .1 .5 0 .5-.1 .5-.1 .5-.1 .5 0 .5 0"/>
<path fill="none" stroke="#ff0000" stroke-width="2.1" stroke-linejoin="round" d="M736.8 230.4l.5 0 .5 0 .5 .1 .5 0 .5 0 .5 0 .5-.1 .5 0 .5-.1 .5 0 .5-.1 .5 .1 .5 0 .5 .1 .5 .1 .5 .1 .5 0 .5 0 .5-.1 .5-.1 .5-.1 .5-.1 .5-.1 .5 0 .5 .1 .5 .1 .5 .2 .5 .2 .5 .1 .5 0 .5-.1 .5-.1 .5-.3 .5-.2 .5-.2 .5 0 .5 .1 .5 .2 .5 .2 .5 .3 .5 .2 .5 .1 .5-.1 .5-.2 .5-.2 .5-.4 .5-.3 .5-.1 .5 0 .5 .2 .5 .4 .5 .3 .5 .4 .5 .1 .5 0 .5-.1 .5-.4 .5-.4 .5-.3 .5-.3 .5 0 .5 .2 .5 .3 .5 .4 .5 .4 .5 .2 .5 0 .5-.1 .5-.3 .5-.4 .5-.3 .5-.3 .5 0 .5 .1 .5 .2 .5 .4 .5 .4 .5 .2 .5 .1 .5 0 .5-.3 .5-.4 .5-.3 .5-.3 .5-.2 .5 .1 .5 .3 .5 .3 .5 .4 .5 .3 .5 .1 .5-.1 .5-.2 .5-.3 .5-.4 .5-.3 .5-.1 .5 0 .5 .3 .5 .3 .5 .4 .5 .3 .5 .1 .5 0 .5-.3 .5-.3 .5-.4 .5-.2 .5-.2 .5 .1 .5 .2 .5 .3 .5 .3 .5 .3 .5 .1 .5 0 .5-.2 .5-.4 .5-.3 .5-.3 .5-.1 .5 .1 .5 .2 .5 .4 .5 .4 .5 .3 .5 .1 .5-.2 .5-.3 .5-.4 .5-.4 .5-.2 .5 0 .5 .2 .5 .3 .5 .5 .5 .3 .5 .2 .5-.1 .5-.3 .5-.4 .5-.4 .5-.3 .5-.1 .5 .2 .5 .3 .5 .5 .5 .4 .5 .2 .5-.1 .5-.2 .5-.5 .5-.4 .5-.3 .5-.1 .5 .2 .5 .4 .5 .4 .5 .4 .5 .3 .5-.1 .5-.3 .5-.6 .5-.5 .5-.4 .5 0 .5 .3 .5 .6 .5 .6 .5 .6 .5 .1 .5-.2 .5-.7 .5-.8 .5-.7 .5-.3 .5 .2 .5 .8 .5 .9 .5 .8 .5 .4 .5-.2 .5-.8 .5-1 .5-.8 .5-.4 .5 .2 .5 .8 .5 1 .5 .9 .5 .4 .5-.2 .5-.9 .5-1.2 .5-1 .5-.4 .5 .4 .5 1.1 .5 1.4 .5 1.2 .5 .3 .5-.8 .5-1.4 .5-1.7 .5-1 .5 0 .5 1.1 .5 1.9 .5 1.6 .5 .8 .5-.5 .5-1.6 .5-2.1 .5-1.6 .5-.3 .5 1.2 .5 2.3 .5 2.1 .5 1 .5-.6 .5-1.9 .5-2.3 .5-1.7 .5-.2 .5 1.4 .5 2.3 .5 2.1 .5 1 .5-.6 .5-2.1 .5-2.5 .5-1.8 .5-.2 .5 1.6 .5 2.8 .5 2.6 .5 1.1 .5-1.1 .5-2.7 .5-3.1 .5-1.9 .5 .2 .5 2.3 .5 3.2 .5 2.5 .5 .5 .5-1.5 .5-2.9 .5-2.7 .5-1.3 .5 .7 .5 2.3 .5 2.9 .5 2.1 .5 .1 .5-1.9 .5-2.9 .5-2.5 .5-.8 .5 1.3 .5 2.6 .5 2.5 .5 1.2 .5-.6 .5-1.9 .5-2.4 .5-1.6 .5-.1 .5 1.4 .5 2.4 .5 2.2 .5 .8 .5-1.1 .5-2.5 .5-2.8 .5-1.5 .5 .7 .5 2.5 .5 3.1 .5 1.9 .5-.2 .5-2.1 .5-2.9 .5-2.2 .5-.4 .5 1.6 .5 2.7 .5 2.4 .5 1 .5-1.1 .5-2.5 .5-2.9 .5-1.5 .5 .5 .5 2.5 .5 3.2 .5 2.2 .5 0 .5-2.3 .5-3.5 .5-2.8 .5-.6 .5 2 .5 3.5 .5 3.2 .5 1.2 .5-1.4 .5-3.3 .5-3.2 .5-1.6 .5 .8 .5 2.6 .5 3 .5 2 .5-.1 .5-2 .5-3 .5-2.4 .5-.6 .5 1.6 .5 3.1 .5 3 .5 1.3 .5-1.2 .5-3.2 .5-3.5 .5-1.9 .5 .6 .5 3 .5 3.7 .5 2.4 .5 0 .5-2.4 .5-3.6 .5-2.8 .5-.7 .5 1.9 .5 3.3 .5 3.1 .5 1.3 .5-1.2 .5-3.1 .5-3.3 .5-1.9 .5 .5 .5 2.7 .5 3.5 .5 2.4 .5 .1 .5-2.2 .5-3.4 .5-2.7 .5-.7 .5 1.7 .5 3 .5 2.8 .5 1.3 .5-1 .5-2.7 .5-3 .5-1.8 .5 .4 .5 2.3 .5 3.2 .5 2.4 .5 .3 .5-2 .5-3.4 .5-3 .5-1 .5 1.5 .5 3.5 .5 3.6 .5 1.8 .5-1.1 .5-3.2 .5-3.8 .5-2.2 .5 .4 .5 2.7 .5 3.4 .5 2.3 .5 .2 .5-1.8 .5-2.9 .5-2.2 .5-.7 .5 1.1 .5 2.2 .5 2.2 .5 1.1 .5-.6 .5-1.8 .5-2 .5-1.2 .5 .1 .5 1.3 .5 1.8 .5 1.4 .5 .3 .5-.9 .5-1.7 .5-1.7 .5-.7 .5 .6 .5 1.7 .5 1.9 .5 1.2 .5-.3 .5-1.6 .5-2.1 .5-1.6 .5-.1 .5 1.4 .5 2.2 .5 1.8 .5 .6 .5-1 .5-2.2 .5-2 .5-1 .5 .6 .5 1.9 .5 2.2 .5 1.3 .5-.2 .5-1.6 .5-2.1 .5-1.5 .5-.2 .5 1.1 .5 2 .5 1.7 .5 .6 .5-.8 .5-1.7 .5-1.9 .5-1 .5 .4 .5 1.6 .5 1.9 .5 1.4 .5 0 .5-1.4 .5-1.9 .5-1.5 .5-.4 .5 1 .5 1.7 .5 1.7 .5 .8 .5-.6 .5-1.6 .5-1.8 .5-1.1 .5 .2 .5 1.4 .5 1.8 .5 1.2 .5 0 .5-1 .5-1.4 .5-1.2 .5-.2 .5 .6 .5 1 .5 1 .5 .4 .5-.3 .5-.7 .5-.8 .5-.4 .5 0 .5 .5 .5 .6 .5 .5 .5 .1 .5-.3 .5-.5 .5-.5 .5-.2 .5 .2 .5 .4 .5 .4 .5 .2 .5-.1 .5-.3 .5-.2 .5-.2 .5 0 .5 .1 .5 .2 .5 .2 .5 .1 .5-.1 .5-.2 .5-.1 .5-.1 .5 0 .5 .2 .5 .1 .5 0 .5 .1 .5-.1 .5-.2 .5-.1 .5-.1 .5 .1 .5 .2 .5 .3 .5 .1 .5 0 .5-.3 .5-.4 .5-.3 .5 0 .5 .4 .5 .4 .5 .4 .5 .1 .5-.3 .5-.5 .5-.4 .5-.2 .5 .2 .5 .4 .5 .5 .5 .3 .5-.1 .5-.4 .5-.5 .5-.4 .5 0 .5 .3 .5 .6 .5 .4 .5 .2 .5-.3 .5-.5 .5-.5 .5-.2 .5 .1 .5 .4 .5 .6 .5 .3 .5 0 .5-.4 .5-.5 .5-.4 .5-.1"/>
<path fill="#0000ff" d="M138.5 259.8l1 0 1 .2 1 .8 1-.3 1-.6 1-.5 1 1.6 1-1.2 1-.2 1 .3 1 .9 1-1.4 1 .1 1 .5 1 1.1 1-2.2 1 .4 1 1.1 1 0 1-1.5 1 .4 1 1.4 1-.7 1-.6 1-.1 1 2 1-1.3 1-.6 1-.1 1 1.7 1-.8 1-.4 1-.1 1 1.2 1-1.9 1 1.2 1 .2 1 .3 1-.7 1 .1 1 .6 1-.4 1-.5 1 .1 1 1.2 1-1 1-.7 1 .5 1 1.3 1-1 1-.2 1 .5 1 0 1-.3 1-.7 1 1.1 1-.1 1-.6 1 0 1 .7 1-.4 1-.8 1 .5 1 1.1 1-.5 1-.3 1 .3 1 0 1-.3 1 .2 1 .1 1 .4 1-.9 1-.3 1 .9 1-.3 1-.2 1-.3 1 .7 1 .1 1-.4 1-.1 1 .7 1-.9 1 0 1 .2 1 1.3 1-1.7 1 .1 1 .3 1 .3 1-.3 1-.1 1 .5 1 .1 1-.5 1 0 1 .8 1-.6 1-.3 1-.2 1 1.1 1-1.1 1-.3 1 0 1 1.6 1-1.1 1-.3 1 .1 1 1.2 1-1.1 1 .3 1 .5 1-.9 1 .2 1 .1 1 .8 1-.4 1-.7 1 0 1 1.3 1-.9 1-.6 1 .1 1 1.6 1-1.4 1-.4 1 .7 1 .8 1-1.4 1 .1 1 .8 1 .3 1-1.5 1 .1 1 .6 1 .2 1-.6 1 .4 1 .8 1-1.1 1 .3 1 0 1 1 1-1 1-.1 1 .5 1 .4 1-.6 1-.1 1 .5 1 0 1-.3 1-.9 1 1.4 1-.4 1-.7 1 .4 1 .5 1-.2 1-.4 1-.1 1 .5 1-.5 1 .1 1 .3 1 .5 1-.8 1-.6 1 1.1 1 .1 1-.4 1 0 1 .6 1-.2 1-.4 1 0 1 .7 1-1 1 .3 1 .2 1 .4 1-.7 1 0 1 .3 1 .4 1-.9 1-.3 1 .8 1-.3 1-.3 1-.3 1 1.3 1-.4 1-.6 1 .1 1 .2 1-.8 1 .7 1-.7 1 1.9 1-1.8 1 .2 1 0 1 1.6 1-1.7 1-.1 1 1 1-.7 1 .1 1 .1 1 .9 1-.2 1-.4 1-.5 1 .4 1 0 1-.4 1 .3 1 .4 1-.9 1-.5 1 .5 1 .7 1-1.1 1 .5 1 .6 1 .4 1-1.2 1 .8 1 .3 1 .1 1-1.1 1 .5 1 .9 1-1 1 0 1 .1 1-.1 1 .1 1 .1 1 .5 1-.3 1-.6 1 .9 1-.1 1 0 1-.2 1-.1 1 0 1 0 1-.1 1 .1 1 .3 1-.1 1 .1 1 0 1 .2 1-.2 1-.2 1 0 1 .6 1-.8 1-.3 1 .8 1-.1 1-.4 1-.4 1 .9 1-.2 1-1 1 .7 1 .8 1-.6 1-.1 1 .2 1 .3 1-.3 1-.1 1 .2 1-.9 1 0 1 .9 1 .2 1-.1 1-.6 1 .3 1 .4 1-.3 1-.2 1 0 1 .8 1-.7 1-.4 1 .3 1 .7 1-.7 1 .1 1 .3 1 0 1-.3 1-.1 1 .4 1-.1 1-.5 1 0 1 .1 1 .3 1-.4 1 .1 1 .8 1-.9 1 .2 1 .2 1 .5 1-.9 1 .3 1 0 1 .4 1-.7 1 .2 1 .3 1 .1 1-.7 1 .1 1 .8 1-.2 1-1.1 1 .7 1 .6 1-.5 1-.2 1 .2 1-.4 1-.3 1 .8 1 .2 1-.1 1-.2 1-.1 1 .2 1 .2 1-.4 1-.3 1 .9 1-.3 1-1 1 .9 1 .5 1-1 1 .4 1-.2 1 .9 1-.6 1-.4 1 .5 1 .4 1-1.8 1-.1 1 1.6 1 .1 1-.4 1-.7 1 1.2 1-.3 1 0 1 0 1 .3 1-.3 1 0 1-.9 1 1.4 1-.6 1-.2 1-.5 1 1.1 1-.5 1-.2 1-.5 1 .8 1-.5 1 .3 1 .7 1-.4 1-.4 1 .2 1 .5 1-.8 1 .3 1 .1 1 .4 1-.4 1 0 1 .2 1 .2 1-.7 1 .2 1-.6 1 .8 1-.7 1-.5 1 1.5 1-.3 1-.5 1 0 1 .9 1-.4 1-.3 1 .2 1 .5 1-.8 1 .2 1 0 1 .4 1-.4 1 .1 1 .3 1 0 1-.3 1-.1 1 .5 1-.2 1-.4 1-.1 1 .8 1-.7 1-.2 1 .2 1 .7 1-.5 1-.2 1 .3 1 .3 1-.4 1-.2 1 .4 1-.1 1-1 1 .1 1 .9 1 .1 1-.2 1-.3 1 .8 1-.4 1-.5 1 .2 1 .3 1-1 1 .5 1 .2 1 .4 1-.1 1 0 1 0 1 0 1-.2 1-.2 1 .5 1-.1 1-.6 1 .1 1 .6 1 .1 1-.4 1-.4 1 .9 1-.2 1 .1 1 .1 1-.4 1 .1 1 .1 1-.2 1 .2 1 .2 1-.9 1 .9 1-1.3 1 1.1 1-.1 1 .1 1 0 1-.2 1-.2 1 .4 1-.1 1 .3 1-.1 1-.1 1-.2 1 .4 1-.1 1-.8 1 .7 1 .1 1-.2 1 .2 1 0 1 0 1 0 1-.3 1 0 1 .2 1 .1 1-.2 1-.1 1-.1 1 .5 1-.7 1 .5 1 0 1-.4 1 .5 1-.3 1 .3 1-.1 1 0 1-.4 1-.5 1 1 1-.7 1 .7 1-.3 1 .3 1 0 1-.1 1 .1 1-.8 1 .3 1 .5 1 .1 1-.6 1 .4 1-.1 1 .2 1-.3 1 .2 1 .1 1-.2 1 .2 1 .1 1-.1 1-.3 1 .2 1 .1 1-.1 1 .2 1-.1 1 0 1-.1 1 .2 1-.7 1 .5 1 0 1 .1 1-.2 1 .1 1-.2 1 .3 1-.1 1 .1 1-.1 1-.1 1 0 1-.3 1 .4 1-.3 1 .3 1 .2 1 0 1-.2 1 0 1-.3 1 .4 1-.2 1 .1 1-.2 1 .3 1-.1 1-.2 1 .3 1 0 1-.2 1-.6 1 .4 1 .4 1-.2 1 .2 1 0 1-.2 1-.8 1 .8 1 .2 1-.1 1 0 1-.1 1 .2 1 0 1-.1 1-.8 1 .9 1 0 1 0 1-.2 1-.2 1 .5 1-1.2 1 1 1 .1 1 0 1-.1 1-.2 1 .2 1-.4 1 .2 1 .3 1 0 1-.1 1-.6 1-.6 1 1.2 1 0 1 .2 1 0 1-.3 1 0 1 0 1 .3 1-.2 1-.2 1 .3 1 .1 1-.2 1-.2 1 .1 1 .3 1-.1 1 0 1 .1 1-.3 1 .1 1 0 1 .1 1-.1 1 .2 1-.2 1-.3 1-1.1 1 .9 1 .1 1 .4 1-.5 1 .5 1 .2 1-.1 1-.1 1 .1 1-.1 1-.3 1 .1 1-.2 1 .3 1 0 1-.1 1 .1 1-.2 1-.1 1 .1 1-.1 1 .4 1-.1 1-.1 1 .3 1-.1 1 0 1-.1 1 .3 1-.1 1 .1 1-.8 1 .7 1-.4 1 .5 1-.2 1 .1 1-.1 1 .2 1-.5 1 .1 1 .1 1 .1 1-.1 1 .3 1-.6 1 .5 1-.2 1 .3 1-.2 1-.1 1 .1 1 0 1-.9 1 .8 1 .2 1 0 1-.3 1-.1 1-.5 1 .7 1 .1 1 0 1 0 1-.6 1 .1 1 0 1-.1 1 .2 1 .2 1 .2 1 0 1 0 1 0 1 .1 1-.1 1-.1 1-.1 1-.1 1 .3 1-.8 1 .4 1 .1 1 .2 1 .1 1-.2 1-.7 1 .3 1 .3 1 .2 1-.2 1 .4 1-.3 1 .3 1-.2 1 .2 1-.3 1 .4 1-.3 1 0 1 .2 1 0 1 0 1 0 1 0 1-.1 1 .1 1-.3 1 .1 1 .1 1-.1 1-.4 1 .6 1-.1 1 .1 1-.1 1 .1 1 .1 1-.1 1 0 1-.8 1 .8 1 0 1-.1 1-.8 1 .9 1-.2 1 .2 1-.8 1 .9 1-.3 1 .1 1 .2 1-.2 1 .1 1 0 1-.2 1 .3 1-.1 1-.2 1 .3 1-.4 1-.2 1 .6 1-.1 1 0 1-.6 1 .6 1-.1 1-.1 1 .3 1-.2 1-.1 1 .2 1 0 1 0 1 0 1-.1 1-.1 1 .3 1-.1 1-.1 1-.7 1 .7 1-.1 1 .2 1-.1 1-.2 1 0 1 .3 1-.9 1 .8 1 0 1 0 1 .1 1 .1 1-.2 1 .1 1 0 1-.1 1 .1 1 .1 1-.2 1 .1 1 0 1-.3 1 .2 1 .1 1 .1 1-.8 1 .6 1-.1 1 .1 1 .1 1-.4 1 .2 1-.6 1 .7 1-.1 1-.1 1 0 1 .4 1-.3 1-.1 1 .2 1 .2 1-.1 1 0 1 .1 1-1 1 .9 1-.2 1 .3 1-.1 1 0 1-1 1 .9 1-.1 1 .2 1-.3 1-.1 1 .3 1 0 1 0 1 0 0 2.7-1 0-1 .1-1-.1-1 .2-1 .1-1-.1-1-.4-1 .1-1 .8-1-.9-1 .3-1-.1-1 .1-1 .7-1-.7-1 0-1-.2-1 .2-1-.3-1 .1-1 0-1 0-1 .1-1-.2-1 0-1 .1-1 .1-1 0-1 .1-1-.1-1 0-1-.1-1 .4-1-.2-1-.1-1-.1-1 .2-1 .1-1-.3-1 .2-1 .4-1-.6-1 0-1 0-1 .3-1-.3-1 0-1-.1-1 .2-1-.1-1 0-1 .1-1 .1-1-.2-1 .2-1-.2-1 .1-1 0-1 0-1 .7-1 0-1-.9-1 .7-1-.4-1-.3-1 0-1 .2-1-.1-1 .1-1-.2-1 .7-1-.2-1-.4-1 .3-1 0-1-.3-1 .2-1-.3-1 .1-1 0-1 .1-1 0-1-.2-1 .1-1 0-1 .2-1-.2-1 0-1-.1-1 .9-1-.5-1-.3-1 .1-1 .5-1-.7-1 .2-1 .3-1 .6-1-.4-1-.3-1-.3-1 0-1 0-1-.1-1 .2-1 .1-1-.1-1 0-1-.1-1 1.2-1-.2-1-1.1-1 .6-1-.5-1 .1-1-.1-1-.1-1 .1-1-.1-1 .1-1 .1-1 .3-1 .1-1-.4-1 .1-1-.1-1-.2-1 .3-1 .4-1 .5-1-.9-1 .2-1-.4-1 0-1 .1-1 1.1-1-1-1 .4-1-.3-1 .7-1-1-1 0-1 .9-1-.8-1 0-1 .4-1-.1-1 0-1-.4-1 .5-1-.6-1 .2-1-.1-1 .3-1-.2-1 .1-1 .3-1 .6-1-.4-1-.7-1 0-1-.1-1 .2-1-.2-1 .2-1 .6-1-.7-1-.1-1 .1-1-.1-1 .1-1 .5-1-.4-1 .1-1-.1-1-.1-1 .3-1-.3-1-.1-1 .1-1 0-1 .2-1 0-1-.3-1 0-1 .3-1-.1-1 .8-1-.8-1-.1-1 .3-1-.1-1-.1-1 0-1 .2-1-.4-1 .2-1-.2-1 .3-1-.2-1 .1-1-.2-1 .5-1 .1-1 0-1-.1-1-.1-1-.1-1 .7-1-.5-1 .1-1 .2-1-.3-1-.2-1-.2-1 .3-1-.3-1-.1-1 .1-1 .4-1-.5-1 .1-1 .3-1 .2-1 .2-1-.4-1-.1-1-.3-1 .3-1-.3-1 .1-1-.1-1 .1-1-.1-1 .5-1 0-1-.3-1 .1-1 .1-1-.3-1 .1-1-.2-1 .1-1 .1-1-.2-1 1.2-1-1.2-1 .2-1 .7-1-.9-1 .3-1-.1-1-.1-1 .1-1 .2-1-.2-1-.2-1 .4-1 .5-1-.7-1-.1-1 .2-1-.3-1 0-1 .2-1-.1-1 .2-1-.1-1 .1-1-.1-1 .1-1-.2-1 0-1 .1-1 .1-1-.2-1 .1-1 .6-1-.5-1 .7-1-.2-1-.6-1 .3-1-.1-1-.4-1 .1-1 0-1 0-1 .2-1-.1-1-.1-1-.1-1 .8-1-.7-1 0-1 0-1 .2-1-.1-1-.2-1 0-1 .1-1 0-1-.1-1 .1-1 .1-1 .2-1-.4-1 0-1 .1-1 .2-1-.3-1 .3-1-.1-1 0-1 0-1 .2-1-.3-1 .7-1-.8-1 0-1 .1-1 .1-1 0-1-.2-1 1-1-.9-1 .1-1-.1-1 .1-1-.2-1 .2-1 .7-1-.6-1-.3-1 .5-1-.3-1-.2-1 .2-1 .1-1 .1-1-.3-1 .8-1-.8-1 .7-1-.5-1-.2-1 .1-1-.2-1 0-1 .1-1 .1-1-.1-1 .7-1-.5-1 .8-1-.6-1-.1-1-.2-1-.1-1 0-1 .8-1-.5-1 0-1-.2-1-.1-1-.1-1 0-1 0-1 .2-1-.1-1 0-1 .8-1-.5-1-.3-1 .1-1 .2-1-.1-1-.2-1-.1-1 .2-1-.1-1-.1-1 .6-1-.2-1 .3-1-.2-1-.2-1-.3-1 .1-1 .3-1-.2-1-.1-1-.1-1 .2-1-.1-1 .1-1 .4-1-.6-1 0-1 .6-1-.5-1-.1-1 .6-1-.5-1 0-1 .1-1 .1-1-.2-1 .2-1-.1-1 0-1-.1-1-.1-1 .1-1 .2-1-.2-1 0-1 .3-1-.1-1 .4-1-.3-1 .4-1 .2-1-.6-1 .4-1 .1-1 .2-1-.9-1 .3-1 0-1-.3-1-.2-1 .6-1-.1-1-.3-1 0-1 .6-1-.5-1-.3-1 .2-1 .3-1 .1-1-.7-1 .5-1 .2-1 .8-1-1.3-1 .5-1 .2-1-.3-1 .3-1-.4-1 .3-1-.5-1 0-1 1.3-1-1-1-.5-1 .4-1 .1-1 .1-1-.8-1 .9-1-.2-1 .4-1-.8-1 1.4-1-.9-1-.2-1-.4-1 .5-1 0-1-.2-1-.1-1 .2-1 .1-1 0-1-.2-1 .4-1-.2-1 .2-1-.4-1 .1-1-.1-1-.4-1 .5-1-.1-1 .2-1-.4-1 .5-1 0-1-.1-1-.4-1 .6-1-.2-1-.4-1 .1-1 .6-1-.5-1-.5-1 .6-1 0-1-.2-1-.2-1 .7-1 .3-1-.6-1-.2-1 .1-1 .1-1-.1-1 0-1 1.1-1-.7-1-.6-1 1-1-.1-1-.5-1-.3-1 .2-1 .2-1 .1-1-.3-1 0-1 .5-1-.5-1-.4-1 1.1-1 .2-1-1.1-1-.1-1 .7-1-.3-1-.5-1 .3-1 .4-1-.2-1-.6-1 .6-1 0-1-.1-1-.4-1 .7-1-.1-1-.3-1 .6-1-.1-1-.2-1-.4-1-.1-1 .7-1 .2-1-.8-1 0-1 .4-1 .3-1-.8-1 .5-1 0-1-.2-1-.6-1 .9-1-.2-1-.1-1-.2-1 .4-1 0-1-.3-1-.2-1 1-1-.2-1-.7-1-.1-1 .3-1 .1-1 .4-1-.6-1 .4-1-.2-1-.8-1 1.1-1-.1-1-.3-1 .1-1 .4-1-.3-1-.4-1-.1-1 .4-1 0-1-.2-1-.2-1 .4-1-.4-1-.1-1 1-1 .2-1-.8-1-.4-1 .5-1 .2-1-.3-1-.5-1 .9-1-.4-1-.3-1 0-1 .5-1-.1-1 0-1-.1-1 .2-1 0-1-.7-1 .4-1 .9-1-1-1-.3-1 .3-1 .3-1 .3-1-.5-1 .2-1 1-1-1.2-1 0-1 .1-1-.1-1-.3-1 .1-1 .2-1 .2-1 .6-1-.2-1 .2-1-.1-1-1-1 .6-1 .3-1 .3-1-1.1-1 .4-1 0-1-.3-1 0-1 .8-1 .1-1-.8-1 1-1 .8-1-.1-1-1.5-1 .5-1 .3-1-.1-1-1.6-1 1.2-1-.1-1-.4-1-.4-1 .7-1 0-1-.5-1 0-1 1.6-1-.6-1-1.1-1 .5-1 1-1-.1-1-1.7-1 1.2-1 .2-1-.4-1-.9-1 1-1 .1-1-.1-1-.9-1 1.1-1 .2-1-.8-1-.1-1 .6-1 .3-1-1.1-1 .1-1 .5-1 .5-1-1.3-1 .6-1 .2-1 .1-1-.5-1 .4-1-.2-1 .9-1-.6-1-.4-1 .5-1-.8-1 .1-1 .4-1 .1-1-.5-1 .1-1 .4-1-.1-1-.7-1 .5-1 .3-1 0-1-1-1 .9-1 0-1-.1-1-.2-1 .3-1-.1-1-.4-1 .2-1 .3-1-.1-1-.6-1 .4-1 .5-1 .2-1-1.2-1 1.2-1-.3-1-.1-1-.9-1 1.1-1 .1-1-.3-1-.8-1 1-1 .1-1-.6-1 .3-1 .5-1 .3-1-1.5-1 .5-1 1-1-.4-1-1.1-1 1-1 .7-1-.9-1-.9-1 1.1-1 .1-1-.2-1-1-1 1-1 .2-1-.6-1-.4-1 .5-1 .5-1-1.1-1 .4-1 .5-1-.1-1-1-1 .9-1 .5-1-.4-1-.8-1 1.2-1 0-1-.5-1-.6-1 .9-1 .1-1-.6-1-.3-1 .4-1 .4-1-.6-1 .9-1-.2-1-.2-1-1.2-1 1.2-1 .2-1-.3-1-.9-1 1-1 .2-1-.8-1-.2-1 .7-1 0-1-.3-1-.3-1 .7-1 .2-1-.9-1 1.3-1-.8-1-.2-1-.4-1 .1-1 0-1 .1-1-.3-1 .7-1 .2-1-.3-1 0-1 .4-1 .2-1-.7-1-.3-1 .4-1-.1-1-.4-1 .2-1 .3-1-.1-1-.7-1 .9-1 .5-1-.4-1-1-1 1.3-1 .1-1-.4-1-.8-1 1-1-.1-1 .2-1-.8-1 .7-1 0-1-.7-1 .7-1 .2-1-.2-1-.9-1 .8-1 .7-1-.2-1-.9-1 1-1-.1-1-.2-1-1.1-1 2.2-1-.7-1-1.2-1-.2-1 1.4-1-.1-1-1-1 .1-1 .9-1-.1-1-1.9-1 1.3-1 .6-1-.5-1-1.4-1 1.4-1 .2-1-.1-1-.8-1 .8-1 .5-1-1.3-1-.3-1 0Z"/>
<path fill="none" stroke="#0000ff" stroke-width="1.4" stroke-linejoin="round" d="M139.3 261.5l.5-.3 .5 .2 .5 .5 .5 .5 .5 .1 .5-.2 .5-.4 .5-.4 .5-.2 .5 .3 .5 .6 .5 .5 .5 .1 .5-.5 .5-.8 .5-.5 .5 .1 .5 .6 .5 .8 .5 .5 .5-.2 .5-.8 .5-.9 .5-.3 .5 .4 .5 .9 .5 .9 .5 .2 .5-.6 .5-1 .5-.8 .5-.1 .5 .8 .5 1 .5 .6 .5-.1 .5-.8 .5-1 .5-.5 .5 .3 .5 .9 .5 1 .5 .4 .5-.5 .5-1 .5-.9 .5-.2 .5 .6 .5 1 .5 .7 .5-.1 .5-.6 .5-.8 .5-.4 .5 .1 .5 .6 .5 .6 .5 .3 .5-.2 .5-.5 .5-.6 .5-.2 .5 .3 .5 .5 .5 .5 .5 .1 .5-.3 .5-.5 .5-.4 .5 0 .5 .3 .5 .5 .5 .3 .5 0 .5-.4 .5-.5 .5-.3 .5 .1 .5 .5 .5 .5 .5 .3 .5-.3 .5-.6 .5-.6 .5-.2 .5 .4 .5 .8 .5 .7 .5 0 .5-.6 .5-.8 .5-.5 .5 .1 .5 .6 .5 .8 .5 .3 .5-.2 .5-.6 .5-.6 .5-.1 .5 .3 .5 .4 .5 .3 .5 0 .5-.2 .5-.2 .5-.2 .5 0 .5 .1 .5 .3 .5 .2 .5 0 .5-.3 .5-.4 .5-.4 .5 .1 .5 .6 .5 .7 .5 .3 .5-.4 .5-.7 .5-.6 .5-.1 .5 .4 .5 .7 .5 .4 .5-.1 .5-.4 .5-.4 .5-.1 .5 .1 .5 .2 .5 .1 .5 0 .5 0 .5-.1 .5 0 .5-.1 .5 0 .5 .2 .5 .2 .5 .2 .5-.2 .5-.4 .5-.5 .5-.1 .5 .4 .5 .7 .5 .4 .5 0 .5-.6 .5-.6 .5-.3 .5 .2 .5 .5 .5 .4 .5 .1 .5-.2 .5-.3 .5-.3 .5-.1 .5 .2 .5 .4 .5 .3 .5 .1 .5-.3 .5-.6 .5-.4 .5 0 .5 .6 .5 .7 .5 .4 .5-.2 .5-.7 .5-.8 .5-.2 .5 .4 .5 .6 .5 .6 .5 0 .5-.3 .5-.5 .5-.4 .5 0 .5 .4 .5 .4 .5 .2 .5 0 .5-.3 .5-.5 .5-.3 .5 .1 .5 .5 .5 .6 .5 .2 .5-.3 .5-.6 .5-.5 .5-.1 .5 .3 .5 .7 .5 .4 .5 0 .5-.4 .5-.6 .5-.3 .5 0 .5 .5 .5 .6 .5 .3 .5-.2 .5-.5 .5-.6 .5-.3 .5 .3 .5 .6 .5 .5 .5 .1 .5-.3 .5-.5 .5-.3 .5 0 .5 .3 .5 .3 .5 .3 .5-.1 .5-.3 .5-.4 .5-.2 .5 .1 .5 .4 .5 .5 .5 .3 .5-.3 .5-.6 .5-.5 .5-.1 .5 .3 .5 .7 .5 .4 .5 .1 .5-.5 .5-.6 .5-.5 .5 .1 .5 .6 .5 .7 .5 .4 .5-.2 .5-.7 .5-.8 .5-.3 .5 .3 .5 .9 .5 .7 .5 .2 .5-.5 .5-.9 .5-.6 .5-.1 .5 .7 .5 .8 .5 .5 .5-.1 .5-.7 .5-.7 .5-.3 .5 .2 .5 .6 .5 .6 .5 .2 .5-.3 .5-.6 .5-.5 .5-.1 .5 .3 .5 .7 .5 .4 .5 0 .5-.4 .5-.6 .5-.3 .5 0 .5 .5 .5 .5 .5 .3 .5-.1 .5-.5 .5-.6 .5-.3 .5 .3 .5 .6 .5 .6 .5 .1 .5-.4 .5-.5 .5-.4 .5 0 .5 .3 .5 .5 .5 .3 .5-.1 .5-.4 .5-.4 .5-.2 .5 .2 .5 .3 .5 .4 .5 .1 .5-.2 .5-.3 .5-.2 .5-.1 .5 .2 .5 .2 .5 .3 .5 0 .5-.2 .5-.4 .5-.3 .5 0 .5 .4 .5 .5 .5 .3 .5-.2 .5-.4 .5-.5 .5-.2 .5 .2 .5 .5 .5 .5 .5 .1 .5-.3 .5-.5 .5-.4 .5 0 .5 .3 .5 .5 .5 .3 .5-.1 .5-.4 .5-.4 .5-.1 .5 .1 .5 .3 .5 .4 .5 .1 .5-.2 .5-.3 .5-.3 .5-.1 .5 .2 .5 .4 .5 .2 .5 .1 .5-.3 .5-.4 .5-.2 .5 0 .5 .3 .5 .4 .5 .2 .5-.1 .5-.3 .5-.5 .5-.1 .5 .2 .5 .4 .5 .4 .5 .1 .5-.2 .5-.5 .5-.5 .5 0 .5 .4 .5 .6 .5 .4 .5 0 .5-.6 .5-.7 .5-.4 .5 .2 .5 .7 .5 .8 .5 .3 .5-.4 .5-.8 .5-.6 .5-.1 .5 .4 .5 .7 .5 .4 .5 0 .5-.4 .5-.6 .5-.4 .5 0 .5 .6 .5 .7 .5 .4 .5-.2 .5-.7 .5-.8 .5-.4 .5 .4 .5 .9 .5 .8 .5 .2 .5-.5 .5-1 .5-.7 .5-.1 .5 .7 .5 .9 .5 .5 .5-.1 .5-.7 .5-.7 .5-.2 .5 .2 .5 .5 .5 .4 .5 .1 .5-.2 .5-.3 .5-.3 .5-.1 .5 .2 .5 .4 .5 .4 .5 .1 .5-.4 .5-.6 .5-.4 .5 0 .5 .6 .5 .7 .5 .3 .5-.2 .5-.6 .5-.7 .5-.3 .5 .4 .5 .7 .5 .6 .5 .1 .5-.4 .5-.7 .5-.6 .5 0 .5 .5 .5 .7 .5 .4 .5-.1 .5-.5 .5-.5 .5-.2 .5 .2 .5 .3 .5 .3 .5 .1 .5-.1 .5-.3 .5-.3 .5-.1 .5 .2 .5 .4 .5 .3 .5 .1 .5-.3 .5-.5 .5-.3 .5 .1 .5 .3 .5 .4 .5 .2 .5-.1 .5-.3 .5-.3 .5-.1 .5 .2 .5 .2 .5 .1 .5 .1 .5-.1 .5-.2 .5-.2 .5 0 .5 .2 .5 .1 .5 .2 .5 0 .5-.2 .5-.2 .5-.2 .5 .1 .5 .2 .5 .3 .5 .2 .5-.2 .5-.3 .5-.3 .5 0 .5 .1 .5 .3 .5 .2 .5 0 .5-.2 .5-.2 .5-.1 .5 .1 .5 .1 .5 .2 .5 .1 .5 0 .5-.2 .5-.3 .5-.2 .5 .1 .5 .4 .5 .4 .5 .1 .5-.3 .5-.4 .5-.3 .5 0 .5 .3 .5 .3 .5 .2 .5 0 .5-.3 .5-.2 .5-.2 .5 .1 .5 .2 .5 .3 .5 .1 .5-.1 .5-.3 .5-.3 .5-.1 .5 .2 .5 .4 .5 .3 .5 0 .5-.3 .5-.4 .5-.2 .5 .1 .5 .3 .5 .3 .5 .1 .5-.1 .5-.2 .5-.2 .5 0 .5 0 .5 .2 .5 0 .5 .1 .5-.1 .5-.1 .5-.1 .5 0 .5 .1 .5 .2 .5 .1 .5 0 .5-.2 .5-.3 .5-.2 .5 .1 .5 .3 .5 .4 .5 .2 .5-.2 .5-.4 .5-.4 .5-.1 .5 .3 .5 .4 .5 .3 .5 .1 .5-.4 .5-.4 .5-.3 .5 0 .5 .4 .5 .5 .5 .2 .5-.2 .5-.3 .5-.4 .5-.1 .5 .2 .5 .3 .5 .3 .5 0 .5-.2 .5-.3 .5-.2 .5-.1 .5 .3 .5 .3 .5 .3 .5 0 .5-.4 .5-.4 .5-.2 .5 .1 .5 .4 .5 .4 .5 .2 .5-.2 .5-.4 .5-.4 .5-.1 .5 .3 .5 .4 .5 .3 .5 0 .5-.3 .5-.4 .5-.2 .5 .1 .5 .3 .5 .3 .5 .2 .5-.1 .5-.3 .5-.3 .5-.2 .5 .2 .5 .3 .5 .3 .5 0 .5-.1 .5-.4 .5-.3 .5 0 .5 .2 .5 .5 .5 .3 .5 0 .5-.4 .5-.5 .5-.3 .5 .2 .5 .4 .5 .4 .5 .1 .5-.1 .5-.4 .5-.3 .5-.1 .5 .2 .5 .4 .5 .2 .5 0 .5-.2 .5-.3 .5-.2 .5 0 .5 .3 .5 .2 .5 .2 .5-.1 .5-.2 .5-.3 .5-.1 .5 .1 .5 .3 .5 .2 .5 .1 .5-.2 .5-.3 .5-.2 .5-.1 .5 .3 .5 .3 .5 .3 .5 0 .5-.4 .5-.4 .5-.2 .5 .2 .5 .3 .5 .4 .5 .1 .5-.2 .5-.3 .5-.3 .5 0 .5 .1 .5 .3 .5 .3 .5 0 .5-.2 .5-.3 .5-.2 .5 0 .5 .3 .5 .3 .5 .1 .5-.1 .5-.2 .5-.3 .5-.2 .5 .2 .5 .3 .5 .3 .5 .1 .5-.2 .5-.4 .5-.3 .5-.1 .5 .3 .5 .5 .5 .2 .5 0 .5-.4 .5-.3 .5-.1 .5 .1 .5 .2 .5 .2 .5 .1 .5-.1 .5-.2 .5-.1 .5-.1 .5 .1 .5 .2 .5 .1 .5 0 .5-.1 .5-.2 .5-.1 .5 0 .5 .2 .5 .2 .5 .1 .5 0 .5-.2 .5-.3 .5-.1 .5 .1 .5 .3 .5 .2 .5 .1 .5-.2 .5-.3 .5-.2 .5 0 .5 .2 .5 .3 .5 .3 .5 0 .5-.4 .5-.4 .5-.2 .5 .2 .5 .3 .5 .4 .5 .1 .5-.2 .5-.3 .5-.3 .5 0 .5 .2 .5 .2 .5 .2 .5 0 .5-.1 .5-.3 .5-.2 .5 .1 .5 .2 .5 .2 .5 .2 .5-.1 .5-.2 .5-.3 .5-.1 .5 .1 .5 .3 .5 .3 .5 0 .5-.2 .5-.3 .5-.2 .5 0 .5 .2 .5 .3 .5 .2 .5 0 .5-.3 .5-.3 .5-.2 .5 .1 .5 .3 .5 .3 .5 .2 .5-.2 .5-.3 .5-.3 .5-.1 .5 .2 .5 .4 .5 .3 .5 0 .5-.3 .5-.4 .5-.2 .5 .1 .5 .3 .5 .3 .5 .1 .5-.1 .5-.2 .5-.3 .5-.2 .5 .2 .5 .3 .5 .3 .5 0 .5-.2 .5-.3 .5-.2 .5 0 .5 .2 .5 .3 .5 .2 .5-.1 .5-.2 .5-.3 .5-.1 .5 .1 .5 .2 .5 .3 .5 .1 .5-.1 .5-.3 .5-.3 .5-.1 .5 .2 .5 .4 .5 .3 .5 0 .5-.3 .5-.4 .5-.3 .5 .1 .5 .3 .5 .4 .5 .2 .5-.1 .5-.3 .5-.3 .5-.1 .5 .1 .5 .3 .5 .2 .5 .1 .5-.2 .5-.3 .5-.1 .5-.1 .5 .2 .5 .3 .5 .1 .5 0 .5-.2 .5-.2 .5-.1 .5 0 .5 .2 .5 .2 .5 .1 .5-.1 .5-.2 .5-.2 .5-.1 .5 .2 .5 .2 .5 .2 .5 0 .5-.1 .5-.3 .5-.2 .5 .1 .5 .2 .5 .2 .5 .2 .5-.1 .5-.2 .5-.3 .5-.1 .5 .2 .5 .2 .5 .1 .5 0 .5-.1 .5-.1 .5-.1 .5 0 .5 .1 .5 .1 .5 0 .5 0 .5 0 .5-.1 .5-.1 .5 .1 .5 0 .5 .1 .5 .1 .5-.1 .5-.1 .5-.1 .5 0 .5 .1 .5 .1 .5 0 .5 0 .5 0 .5-.1 .5 0 .5 0 .5 0 .5 .1 .5 0 .5 0 .5-.1 .5 0 .5 0"/>
<path fill="#008000" d="M138.5 292.1l1 0 1-.1 1-.1 1 .2 1-.2 1-.1 1 0 1-1.2 1 1.1 1 .2 1-.1 1 .3 1 0 1-.1 1 .2 1 0 1-.7 1 .5 1 0 1 .3 1-.1 1 0 1-.1 1 .1 1 0 1-.8 1 .7 1 0 1 .1 1 .1 1-.1 1 .1 1 0 1-.1 1 .1 1-.2 1 .2 1-.1 1 .1 1-.2 1 .1 1-.9 1 .9 1-.4 1 .5 1-.1 1-.3 1 .3 1-.1 1 .1 1 0 1 0 1 0 1-.2 1 .1 1-.1 1 .3 1-.1 1 .1 1-.1 1 0 1 0 1-.2 1 .3 1-.6 1 0 1 .5 1-.2 1-.1 1 .4 1-.2 1 .2 1-.3 1 .1 1 .2 1-.6 1 .3 1-.2 1 .4 1 .1 1-.3 1-.1 1 .4 1-.2 1-.5 1 .4 1-.1 1 .1 1-.4 1 .7 1 0 1-.1 1 0 1 0 1-.1 1 .2 1 0 1-.4 1 .3 1-.9 1 .9 1 .1 1 0 1 0 1 0 1-.1 1-.3 1 .2 1 .1 1 .1 1-.6 1 .5 1-.5 1 .4 1-.7 1 .9 1 0 1 0 1-.2 1-.7 1 .8 1 0 1 .1 1 0 1-.2 1-.3 1 .3 1 .1 1-.2 1 .3 1 0 1-.2 1 .1 1-.8 1 .9 1 0 1-.1 1 0 1 0 1-.1 1 .2 1-.5 1 .3 1-.1 1 .2 1 .1 1-.1 1 .1 1-.1 1 .1 1-.6 1 .3 1 .1 1-.6 1 .8 1 0 1 0 1-.5 1 .4 1 .1 1-.1 1-.1 1 .1 1-.2 1 .2 1 0 1-.2 1 .3 1-.2 1-.1 1 .2 1 .1 1 0 1-.5 1 .4 1-.4 1 .1 1 .3 1-.3 1 .4 1-.1 1 0 1-.6 1 .7 1-.5 1 .2 1-.2 1 0 1-.6 1 1 1-.4 1 0 1 .5 1-.1 1 .1 1-.2 1-.2 1 .3 1 .1 1-.1 1-.2 1 .1 1 .2 1 0 1-.6 1 .6 1-.1 1 .1 1-.3 1 0 1 .2 1 0 1-.1 1-.4 1 .5 1-.1 1 0 1-.1 1-.1 1 .3 1-.1 1-.2 1 .3 1-.1 1 .1 1 0 1 0 1 0 1-.3 1 0 1 .1 1 .2 1-.8 1 .6 1 .2 1-.3 1 .2 1 0 1-.3 1 .3 1 .2 1-.5 1 .1 1 .3 1-.1 1 .1 1-.1 1 .2 1-.2 1 .1 1-.1 1 .2 1-.5 1 .2 1 .2 1-.6 1 .6 1 0 1-.1 1 .2 1-.6 1 .6 1-.2 1-.2 1-.4 1 .5 1-.1 1 .2 1 .2 1-.3 1-.3 1 .6 1-.1 1-.1 1-.1 1 .3 1 0 1-.1 1 0 1-.4 1-.5 1 1 1-.1 1-.1 1 .1 1-.3 1 0 1 .4 1 0 1-.4 1-.1 1 .4 1 0 1-.1 1-.1 1 .1 1 0 1 .1 1-.7 1 .7 1 .1 1-.2 1-.3 1 .2 1 .1 1-.3 1-.5 1 .6 1 .1 1 .2 1 0 1-.2 1 .1 1 .1 1 0 1 0 1 .1 1-.9 1 .2 1 .6 1-.4 1 .4 1 0 1 0 1-.5 1 .5 1-.9 1 .7 1 0 1 .2 1-.4 1 .3 1-.8 1 1 1-.1 1 0 1 .1 1-1 1 .9 1-.1 1-.2 1 .3 1 0 1-.2 1 .1 1 .1 1-.1 1 .2 1-.4 1 .4 1-.1 1-.1 1 .2 1 0 1 0 1-.1 1-.1 1-.2 1 .1 1-.6 1 .8 1-.1 1 .1 1-.1 1 .2 1-.7 1 .5 1 .2 1-.1 1-.2 1 .2 1-.2 1 .3 1-.2 1 .1 1 0 1-.1 1-.9 1 .9 1 0 1 0 1 0 1 .1 1-.7 1 .5 1 .1 1-1.1 1 .9 1 .3 1 0 1-.2 1-.4 1 .6 1 .1 1-.1 1-.1 1 0 1-.3 1 .1 1 .2 1 .1 1 0 1-.2 1 0 1-.1 1-.3 1 .4 1 0 1 .3 1 0 1-.1 1-.2 1 .3 1-.1 1-.2 1 .3 1 0 1 0 1-.9 1 .8 1-.1 1 0 1 .1 1 .1 1-.2 1-.1 1-.2 1 .5 1-.2 1-.1 1 .3 1-.2 1-.1 1 0 1 .2 1-.7 1 .5 1-.2 1-.1 1 .1 1 .4 1 0 1-.2 1 .3 1 0 1-.2 1-.3 1 .3 1-.2 1-.1 1-.1 1 .1 1 .2 1 .2 1 0 1 .1 1-.7 1 .6 1 0 1-.2 1 .1 1 0 1-.2 1 .3 1 .1 1-.5 1 .5 1-.1 1 .1 1-.1 1-.2 1 .1 1 .2 1-.3 1 .2 1-.2 1 .3 1-.3 1-.1 1-.2 1-.4 1 .8 1 .2 1 0 1-.2 1-.8 1 .8 1-.5 1-.1 1 .7 1 0 1-.2 1 .1 1 0 1-.2 1 .2 1-.1 1-.2 1 0 1 0 1 .2 1-.6 1 .7 1 .2 1-.4 1 .4 1-.2 1 0 1-.4 1-.3 1-.5 1 .3 1 .3 1 0 1 .4 1 .1 1 .2 1 .1 1 0 1-.3 1 .2 1 0 1-.5 1 .6 1-.3 1 .2 1 .1 1-.2 1-.2 .5-.6 1 0 0-.4 1 0 0-.2 1 0 0 .4 1 0 0 .1 1 0 0-.7 1 0 0 .3 1 0 0 .3 1 0 0-.2 1 0 1 0 0-.8 1 0 0-.2 1 0 0-1.4 1 0 0 1 1 0 0-.6 1 0 0 .1 1 0 0-.3 1 0 0 1.4 1 0 0-.4 1 0 0 .5 1 0 0-.8 1 0 0 1.2 1 0 0 .3 1 0 1 0 1 0 0-.1 1 0 0 .5 1 0 0 .1 1 0 .5 .8 1 .1 1-.8 1 .8 1-.8 1 .5 1 .2 1 0 1 0 1 .1 1-.1 1 0 1-.5 1 .6 1-.2 1 .1 1 .1 1-.5 1 .5 1-.4 1 .4 1-.4 1 .1 1-.3 1 .5 1-.1 1 .2 1-.1 1-.2 1 .2 1 .1 1-.2 1 0 1 0 1 .2 1-.2 1 .2 1 0 1-.3 1-.4 1 .7 1-.7 1 .6 1 .1 1-.8 1 .5 1-.2 1 .1 1 0 1-.6 1 .6 1 .3 1-.1 1 .2 1-1.1 1 .8 1-.1 1 .2 1 0 1-.4 1 .2 1 .1 1 .1 1-.2 1 .4 1 0 1-.3 1 0 1 .1 1 .1 1-.2 1-.1 1 .4 1-.2 1-.3 1 .4 1-.9 1 .8 1-.1 1-.5 1 .2 1 .5 1-.2 1 0 1 .3 1-.1 1-.2 1 .3 1 0 1 0 1-.1 1-.1 1 .2 1 0 1-.3 1 .2 1 0 1 0 1 .1 1 0 1-.2 1-.2 1 .3 1-.5 1 .4 1 .2 1-.5 1 .4 1 0 1-.7 1 .6 1-1 1 1.1 1 0 1-1 1 1 1 .1 1-.2 1 .1 1-.2 1-.7 1 .9 1 .1 1-.2 1 .2 1-.1 1-.3 1 .3 1-.3 1 .2 1 .1 1 0 1 .1 1-.7 1 .5 1 .2 1-.3 1 .2 1-.6 1 .3 1-.5 1 .5 1 0 1 .3 1 .1 1-.1 1 0 1-.2 1 .2 1-.8 1 .9 1-.3 1-.4 1 .5 1 .2 1-.9 1 .8 1 .1 1 0 1-.4 1-.1 1-.4 1 .8 1-.1 1-.2 1 .3 1 0 1 0 1-.5 1 .3 1 .2 1-.5 1 .3 1 .3 1-.1 1 0 1-.1 1 .2 1 0 1 0 1 0 1-.1 1-.1 1 .2 1 0 1-.6 1 .6 1-.3 1 .2 1 0 1-.1 1 .1 1-.1 1 .2 1-.1 1 0 1 0 1 .1 1-.2 1-.1 1 .2 1 0 1 .1 1-.8 1 .4 1-.5 1 .2 1 .5 1-.5 1 .2 1 .5 1 0 1-.4 1 .1 1 .1 1 .1 1-.2 1 .2 1-.6 1 .4 1 .3 1-.1 1-.1 1-.1 1 .2 1-.2 1-.8 1 1 1-.5 1 .5 1-.1 1-.4 1-.1 1-.1 1 .3 1 0 1 .1 1-.1 1-.2 1-.4 1 .7 1 0 1 0 1 .2 1-.7 1 .8 1 .1 1-.2 1-.4 1 .3 1 0 1-.5 1 0 1 .4 1-.5 1 0 1 .8 1 .1 1 0 1-.8 1 .8 1-.1 1 .1 1 0 1-.2 1 .1 1-.2 1 .3 1-.3 1 .3 1 0 1 0 1-.7 1 .7 1-.1 1-.1 1-.1 1 .2 1-.5 1 .6 1-.2 1 0 1-.1 1 .3 1-.1 1 0 1 0 1 .1 1-.2 1-.1 1-.2 1 .2 1-.6 1 .2 1 .6 1 .1 1-.1 1-.3 1 .3 1 0 1-.2 1 .2 1 .1 1 0 1-.4 1-.4 1 .8 1-.1 1 0 1-.1 1 0 1 .1 1-1.2 1 1 1-.1 1 .1 1 0 0 3.4-1 0-1-.7-1 .4-1-.4-1 .3-1-.1-1 .5-1-.7-1 0-1 0-1 0-1 .3-1-.3-1 .2-1 .6-1-.8-1 .1-1 0-1 0-1 .1-1 .1-1-.1-1-.2-1 .2-1-.1-1-.1-1 0-1 .1-1-.1-1 .1-1 .1-1-.3-1 .1-1 .7-1-.2-1-.4-1 .2-1-.4-1 .5-1-.4-1-.1-1 .1-1 0-1 0-1 0-1 .7-1-.7-1 .1-1 .1-1-.2-1 .1-1 .4-1-.4-1 0-1 .3-1-.2-1-.2-1 0-1 0-1 0-1 .2-1 0-1 1.2-1-.8-1-.2-1-.1-1 0-1-.1-1 .4-1-.1-1-.1-1-.4-1 .2-1 0-1 0-1 .2-1 .1-1 .9-1-.7-1 .7-1-.9-1-.1-1 0-1 0-1-.1-1-.1-1 .1-1-.2-1 0-1 0-1 .3-1-.3-1 .2-1 .1-1-.1-1-.2-1 .5-1-.4-1-.2-1 .5-1-.4-1 .1-1-.2-1 .3-1-.4-1 .3-1-.2-1 .3-1-.4-1 .2-1-.1-1 0-1 .2-1-.1-1 0-1-.1-1 .1-1 1.1-1-1.2-1 .1-1 0-1-.1-1 0-1 .1-1 .1-1-.2-1 0-1 .1-1 .1-1 .1-1-.3-1 0-1 .3-1-.3-1 .2-1-.1-1 .1-1-.2-1 .1-1 0-1-.1-1 0-1 .3-1-.1-1 .7-1-.7-1 .1-1-.2-1 .4-1-.2-1-.1-1-.1-1 .4-1-.4-1 .7-1 .4-1-1.3-1 .4-1-.4-1 1-1-1-1 .5-1 0-1-.4-1 0-1 .1-1 0-1-.1-1 .1-1-.1-1 .1-1 1.1-1-1.2-1 .4-1-.4-1 .1-1-.1-1-.1-1 .1-1 .1-1 0-1 .3-1 0-1-.4-1 .3-1-.1-1 .3-1-.3-1-.2-1 0-1 .1-1 .9-1-.3-1-.5-1-.2-1 .4-1-.3-1 .1-1 0-1 .1-1-.4-1 .1-1 0-1 .2-1 .1-1-.3-1 .2-1 .6-1-.8-1 .6-1-.4-1 .1-1 .3-1-.6-1 0-1 .3-1 0-1-.3-1 0-1 .1-1-.1-1 .1-1-.1-1 1-1-.7-1-.3-1 .3-1-.2-1 0-1-.1-1 .6-1-.6-1 .3-1-.3-1 .1-1 .1-1-.2-1 .2-1 .2-1-.3-1-.1-1 .3-1-.4-1 .1-1 .1-1 0-1 .1-1 .2-1-.2-1-.2-1 .8-1-.7-1-.1-1 .3-1-.1-1-.2-1 .1-1 .8-1-.9-1 0-1 .2-1-.2-1 .1-1 .1-1 .6-1-.7-1-.1-1 0-1 0-1 .6-1-.4-1-.2-1 .3-1-.2-1 0-1 .1-1-.2-1 .1-1 .1-1-.2-1 0-1 0-1 .7-1-.8-1 .2-1 .6-1-.7-1 .1-1 .3-1-.3-1 .7-1-.8-1 .1-1 0-1-.1-1 1-1-1-1 .1-1 0-1-.1-1 .3-1-.4-1 1.2-1-.5-1-.6-1 0-1 .3-1-.2-1 .1-1-.1-1 .7-1-.7-1 1.1-1-1.2-1 1-1-.6-.5 0-1 0-1 0 0 .1-1 0 0 .5-1 0 0-.1-1 0 0-.3-1 0 0 .6-1 0 0 .1-1 0-1 0 0 .7-1 0 0-.6-1 0 0 .8-1 0 0 1.1-1 0 0 .3-1 0 0-.1-1 0 0-1.5-1 0 0 1.4-1 0 0-1.1-1 0 0-.7-1 0 0-.6-1 0 0-.1-1 0 0-.3-1 0-1 0 0 .4-1 0-1 0 0 .2-1 0 0-.3-1 0-1 0-.5-.9-1 0-1 .7-1-.6-1-.1-1 .1-1-.1-1 .2-1-.2-1 .2-1-.2-1 .1-1 .1-1 .3-1-.1-1 .2-1 .2-1 .3-1 0-1 .6-1-.9-1-.6-1-.2-1 .1-1-.1-1 .7-1-.6-1 .9-1-.5-1-.2-1 1.1-1-1.1-1-.1-1 .2-1-.3-1 .1-1-.2-1 .2-1-.2-1 .1-1 .1-1 .4-1-.6-1 0-1 0-1 .2-1 .1-1-.3-1 .9-1-.5-1-.2-1 .1-1-.1-1 .6-1 .4-1-1-1-.3-1 .5-1 .1-1-.5-1 0-1 .1-1-.1-1 .1-1 0-1 0-1-.2-1 .3-1 0-1 .2-1-.4-1 0-1 0-1 .4-1-.4-1 .3-1 0-1 0-1 .3-1-.1-1 0-1-.1-1-.2-1-.2-1 .1-1-.2-1 .5-1-.4-1 .2-1 .2-1 0-1 0-1 .1-1-.5-1 0-1 .5-1-.3-1-.2-1 .4-1-.3-1 .2-1 .3-1-.6-1 0-1 0-1 .2-1-.2-1 0-1 .1-1-.1-1-.1-1 .5-1-.1-1-.3-1 .1-1-.2-1 .1-1 .1-1-.1-1 .1-1 0-1 .3-1-.3-1-.2-1 .2-1-.1-1 1.5-1-1.5-1 .4-1 0-1 0-1-.1-1-.3-1 0-1 .9-1-.9-1 .3-1 .3-1-.6-1 .1-1 .1-1 .2-1 0-1 .5-1-.7-1-.3-1 .4-1-.2-1 0-1-.1-1 0-1 .3-1 .6-1-.3-1-.6-1 .1-1 .1-1-.2-1 0-1 .1-1-.1-1 0-1 .2-1-.2-1 .1-1 0-1 0-1-.1-1 .4-1-.4-1 .1-1-.2-1 .2-1 .2-1-.1-1 .4-1-.3-1-.2-1 0-1-.1-1 0-1 .5-1-.5-1 .1-1-.1-1 0-1-.1-1 .7-1-.5-1 .1-1 0-1-.2-1 .1-1-.2-1 .4-1-.3-1 .3-1-.3-1 .1-1-.2-1 .2-1 0-1-.1-1-.1-1 .3-1-.2-1 .1-1-.1-1 .2-1-.2-1 .2-1-.1-1 .2-1-.3-1 .1-1 .5-1-.7-1 .4-1 .1-1-.3-1 .1-1 1.4-1-.9-1-.2-1-.2-1-.1-1 .7-1-.8-1 0-1 .2-1-.2-1 .1-1 .1-1 0-1-.3-1 .4-1-.4-1 .2-1-.1-1 .2-1-.1-1 0-1-.2-1 .1-1-.2-1 .3-1 .2-1-.1-1-.2-1-.1-1 .2-1-.2-1 .2-1 0-1 .2-1-.2-1 .2-1-.3-1 .2-1-.2-1 0-1-.1-1 .6-1-.5-1 0-1 .1-1-.1-1 1.2-1-.8-1-.3-1 .3-1-.5-1 .2-1-.2-1 .1-1 .2-1 0-1-.3-1 .1-1 0-1 0-1 .2-1-.3-1 .2-1-.1-1 0-1 .6-1-.5-1-.1-1 .1-1-.2-1 .4-1-.5-1 .1-1 0-1 .1-1 .1-1-.2-1 0-1 .6-1-.2-1-.1-1 0-1 .2-1-.5-1 .2-1-.1-1 0-1 .3-1-.3-1 .3-1 .3-1-.4-1 0-1-.3-1 .2-1-.1-1 .1-1 .1-1-.3-1 .5-1-.3-1 .2-1-.4-1 .4-1-.3-1-.2-1 .5-1 .1-1-.3-1-.1-1-.1-1 .2-1 0-1 0-1-.1-1-.1-1 .2-1 0-1 .8-1-.8-1 .2-1-.2-1 .2-1-.3-1 0-1 .6-1-.8-1 .2-1 0-1-.1-1 0-1 .1-1 0-1 .3-1-.1-1-.1-1 0-1-.1-1 0-1 .2-1-.2-1-.1-1 .6-1-.6-1 .3-1-.2-1 0-1 .3-1-.5-1 .8-1-.3-1-.3-1 0-1-.1-1 .1-1-.1-1 0-1 0-1 .1-1 .1-1-.2-1 0-1 .2-1-.3-1 .3-1-.2-1 0-1 .1-1 .1-1-.2-1 .5-1-.5-1 .1-1 .1-1 0-1-.3-1 .1-1 .2-1-.3-1 .1-1 .1-1 0-1-.1-1-.1-1 .5-1-.1-1-.1-1-.1-1 .2-1-.2-1 .6-1-.7-1 .3-1-.1-1 0-1-.2-1 .1-1 .1-1-.1-1-.2-1 .1-1 .2-1-.2-1 .2-1-.2-1 .1-1 1.3-1-1.3-1-.1-1 .1-1 0-1 .7-1-.6-1 0-1-.1-1 0-1-.2-1 .3-1-.1-1-.1-1 0-1 .1-1 .1-1-.2-1 .3-1-.3-1 .2-1-.1-1 0-1 .1-1-.2-1 0-1 0-1 .1-1-.2-1 0-1 .1-1 .2-1 .1-1-.3-1 .4-1 .1-1-.5-1 .1-1 .1-1 0-1-.3-1 .3-1-.1-1-.2-1 .3-1-.3-1 .5-1-.4-1 0-1 .1-1 .1-1-.3-1 .2-1 .4-1-.4-1 0-1 .5-1-.6-1 0-1 .2-1-.2-1 0-1-.1-1 .3-1 0-1 0-1-.3-1 .2-1-.1-1 .2-1 0-1-.2-1 0-1 0-1 .1-1 1-1-.2-1-.7-1-.2-1 0-1 .2-1 0-1 0-1-.1-1 .3-1 .1-1-.4-1 .2-1-.1-1-.1-1 .6-1-.1-1 .7-1-.5-1 0-1-.2-1-.1-1 .3-1 0-1-.5-1-.2-1-.1-1 0Z"/>
<path fill="#000000" d="M138.5 323.5l1 0 1 .1 1-.1 1 .3 1 0 1-.8 1 .6 1-.8 1 .9 1 0 1 0 1 .1 1 0 1-.3 1 .3 1-.3 1 .3 1 0 1 0 1-.3 1-.1 1 .5 1-.1 1-.6 1 .3 1 .2 1 0 1-.1 1 .2 1 0 1 0 1 0 1-.1 1 .1 1 0 1-.1 1 0 1 .1 1 0 1-.1 1 0 1 .1 1 0 1-.1 1 .1 1-.1 1-.1 1 .1 1-.1 1-.3 1 .5 1-.2 1-.2 1 .2 1 .2 1 0 1-.2 1 .2 1-.1 1 .1 1 .1 1 0 1 0 1-.4 1 .3 1-.2 1 .2 1 0 1-.1 1-.3 1-.1 1 .2 1-.5 1-.1 1 .7 1 .1 1 0 1-.3 1 .4 1-.4 1 .4 1 0 1 0 1-.1 1-.2 1 .2 1 .1 1-.1 1 0 1 .2 1-.4 1 .3 1 0 1-.7 1 .5 1-.1 1 .3 1 .1 1-.2 1 0 1 0 1-.1 1 .2 1-.6 1 .4 1-.3 1 .4 1-.5 1 .5 1-.7 1 .4 1 .2 1 0 1-.1 1-.1 1-.1 1 0 1-.2 1 .1 1 .2 1-.2 1 .4 1 0 1 0 1 .1 1 0 1-.2 1 .3 1-.1 1 .1 1 0 1 0 1 0 1-.8 1 .6 1-.8 1 1 1-.2 1 .2 1-.1 1 .1 1-.3 1-.5 1 .7 1 .1 1-.2 1 0 1 .2 1 0 1 0 1 0 1-.2 1-.2 1-.3 1 0 1-.3 1 .2 1 .1 1 .2 1-1 1 .5 1 0 1 .3 1 .2 1 0 1-.3 1 .8 1-.3 1 .3 1-.1 1 .1 1-.1 1-.1 1-.7 1 0 1 .2 1 .4 1-1 1 .5 1 .7 1-.1 1 .1 1-.7 1 0 1 .5 1 .3 1 0 1-.2 1 .2 1-.1 1 0 1 .1 1 0 1-.1 1-.7 1 .8 1 0 1-.1 1-.2 1-.1 1 0 1-.2 1 .1 1 0 1 .1 1-.4 1 .5 1-.1 1-.3 1 .3 1-.1 1 .4 1-.1 1 .1 1 0 1 .1 1 0 1-.1 1-.8 1 .3 1 .6 1-.3 1 .2 1-.1 1-.1 1-.4 1 .4 1 .2 1-.2 1 .3 1 0 1 .1 1 0 1-.1 1 .1 1-.2 1 .1 1-.1 1-.2 1 .1 1 .1 1 .1 1-.2 1-.1 1 .3 1-.1 1 .1 1-.3 1 .1 1 .1 1-.8 1 .5 1 .2 1 .2 1-.1 1 0 1 .1 1 0 1 0 1-.2 1 .2 1-.2 1-.2 1-.5 1 .8 1 .2 1-.5 1 .4 1-.4 1 .4 1-.1 1-.9 1 .4 1 0 1-.1 1 .2 1-.1 1 .1 1 .2 1 .3 1 0 1-.4 1 .4 1-.7 1 .6 1 0 1 .1 1 0 1-.1 1 .1 1 0 1-.1 1-.3 1 .3 1 0 1 .1 1 0 1 0 1-.1 1-.3 1 0 1 .4 1 0 1-.1 1-.4 1 .5 1 0 1-.3 1 0 1 .1 1-.2 1 .2 1 .2 1 0 1-.2 1 .2 1 0 1-.1 1 .1 1-.1 1 .1 1 0 1-.1 1 .1 1-.1 1 0 1-.2 1 .3 1-.2 1 .1 1 .2 1-.9 1 .6 1 .1 1-.4 1 .3 1 .2 1-.1 1 .1 1-.1 1 0 1 .1 1-.2 1 0 1 .1 1-.1 1-.6 1 .5 1 .3 1-.3 1 0 1-.1 1 .2 1-.1 1-.2 1 .1 1-.2 1 .4 1 0 1 .1 1-.1 1 0 1-.1 1 .3 1-.1 1 .1 1-1 1 1 1-.1 1 0 1-.1 1-.5 1 .7 1 0 1-.1 1 .2 1-.2 1-.1 1-.1 1-.2 1 .5 1-.1 1 .1 1 0 1 0 1-.2 1 .2 1 0 1-.1 1-.1 1-.4 1 .6 1-.1 1 .1 1-.5 1 .2 1-.2 1 .2 1 0 1 .2 1 0 1 .1 1-.7 1 .1 1 .6 1-.2 1 .3 1-.1 1 0 1-.4 1 .2 1 .2 1-.1 1 .1 1 0 1-.5 1 .4 1 .1 1-.6 1 .3 1 .1 1-.3 1-.6 1 .8 1 .2 1 0 1-.5 1 .6 1 0 1-.1 1-.4 1 .1 1 .2 1-.2 1-.5 1 .9 1-.4 1 .1 1-.2 1 .2 1-.1 1-.1 1 .2 1 .1 1 .2 1-.1 1-.4 1 .3 1 .3 1-.5 1 .2 1 0 1 0 1 0 1-.9 1 .6 1 .2 1-.1 1 .1 1 .1 1-.6 1 .8 1 0 1-.3 1 .3 1 0 1-.3 1-.1 1-.3 1 .1 1-.1 1 .2 1 .1 1 .2 1 .1 1 0 1 .1 1-.1 1-.1 1-.2 1 .3 1-.4 1-1 1 1.4 1-.1 1 .2 1-.2 1-.1 1-.7 1 .9 1-.2 1 .3 1-.1 1-.1 1 .1 1-.1 1-.4 1 .6 1-.1 1 0 1 .1 1 0 1-.2 1-.1 1-.2 1 .5 1-.2 1 .2 1 0 1 .1 1-.5 1 .4 1 0 1 0 1 0 1-.4 1 .4 1-.8 1 .9 1-.3 1-.2 1 .2 1 .3 1-.8 1 .5 1-.1 1 .2 1 0 1 0 1-.1 1-.2 1-.1 1-.1 1 .1 1-.2 1 .3 1-.9 1 .9 1 .3 1 0 1 .1 1-.3 1 0 1-.1 1 .2 1 .2 1-.9 1 .1 1 .7 1-.3 1 0 1-.6 1 .6 1 .1 1 .1 1-.1 1 .2 1 .1 1-.1 1 0 1 0 1-.2 1 .3 1-.3 1 .3 1-.2 1 .2 1-.2 1 .2 1-.1 1 .1 1-.2 1 .3 1-.5 1 .4 1 .1 1-.2 1-.6 1 .4 1 .1 1 .1 1 0 1-.6 1 .6 1-.1 1 .1 1-.5 1 .6 1 0 1-.3 1 0 1 0 1-.1 1-.2 1 .1 1 .1 1-.1 1 0 1 .4 1-1 1 .2 1 .8 1-.1 1-.4 1 .3 1 0 1-.1 1 0 1 0 1 .3 1-.2 1 .1 1 0 1 .1 1 .1 1-.1 1-.7 1 .8 1-.2 1 .3 1-.2 1-.1 1 .2 1 0 1-.3 1 .2 1 .1 1-.1 1-.1 1-.1 1-.4 1-.2 1 .8 1-.5 1 .7 1-.1 1-.3 1 .2 1-.6 1 .7 1-.2 1 .1 1-.3 1 .4 1-.2 1 0 1 .1 1-.2 1 .3 1 0 1-.3 1 .1 1 0 1-.8 1 .2 1 .2 1-.2 1-.1 1 .5 1-.3 1 .6 1-.4 1 .5 1-.4 1 .3 1-.8 1 .9 1 0 1-.1 1 0 1-.8 1 .8 1 .2 1-.1 1-.1 1 .1 1 0 1-.1 1-.1 1-.1 1 0 1 .4 1-.2 1-.1 1 0 1 0 1-.1 1 .2 1-.2 1 .3 1-.1 1 .1 1 0 1-.2 1-.1 1 .3 1-.1 1-.4 1 .5 1-.3 1 .3 1 .1 1-.6 1 .4 1-.5 1 .3 1-.6 1 .8 1 .1 1-.4 1-.6 1 1.1 1-.5 1 .2 1-.3 1 .6 1-.5 1 .4 1-.3 1 .3 1-.5 1 .5 1-.3 1 0 1 .1 1-.2 1 .4 1-.2 1-.6 1 .3 1 .2 1 .3 1-.2 1 .1 1-.5 1 .5 1-.8 1 .9 1-.1 1-.4 1 .4 1 .2 1-1.2 1 1 1-.1 1-.2 1 .2 1 .1 1-.1 1-.1 1 .3 1-.1 1 .1 1-.1 1-.1 1 .3 1-.1 1-.1 1-.6 1-.5 1 1.2 1 0 1-.2 1 .2 1-.1 1 .1 1-.1 1 .1 1-.4 1 .2 1 .1 1 0 1 .1 1-.3 1-.4 1 .4 1 .3 1-.4 1 .1 1 .3 1-.3 1 .3 1-.4 1 .2 1-.5 1-.2 1 .3 1 0 1-.1 1 0 1 .4 1-.7 1 .9 1-.2 1 0 1 .2 1-.4 1-.1 1-.1 1-.2 1-.1 1 .3 1 .1 1 0 1 .5 1-.1 1-.1 1 .3 1-.5 1 .6 1-.1 1-.2 1-.7 1 .6 1 .3 1 .1 1-.1 1-.2 1 .1 1-.2 1 .3 1-.1 1-.3 1 0 1 .3 1-.2 1-.1 1 .2 1 .3 1-.2 1 .1 1-.1 1 .1 1 0 1 0 1-.1 1-.1 1 .1 1 .1 1-.6 1 .5 1-.4 1-.1 1 0 1 .1 1 .1 1 .2 1-.4 1 .4 1 .1 1-.3 1-.2 1-.9 1 .9 1-.1 1-.2 1 .6 1 .2 1-.2 1-.1 1 .4 1-.5 1 .4 1-.2 1 .2 1 .1 1 .1 1 0 1-.7 1 .6 1-.8 1 .7 1 .1 1 0 0 2.8-1 0-1-.3-1 0-1 .1-1-.2-1 .2-1 .6-1-.8-1 .1-1 .2-1-.2-1-.1-1 .1-1 .1-1-.1-1 .2-1 .1-1 .6-1 .2-1-.8-1 .7-1-.8-1 .2-1 .3-1-.5-1-.3-1 0-1 .5-1-.1-1 .1-1-.3-1 0-1-.1-1 .1-1 .2-1-.1-1-.2-1 .1-1 0-1-.1-1 0-1 0-1 .2-1 .1-1-.2-1-.2-1 .3-1-.2-1 .1-1-.1-1-.1-1 .4-1-.3-1 .1-1 0-1 0-1-.1-1 .6-1 .4-1-.2-1-.7-1 .3-1-.2-1-.1-1-.1-1 .1-1-.2-1 .2-1 0-1 .2-1 .2-1 .2-1 .2-1 0-1 .2-1-.7-1-.1-1-.3-1 .2-1 .3-1-.6-1 .4-1 0-1-.1-1 1.1-1-.9-1-.1-1-.2-1 .6-1-.7-1-.1-1 .1-1 .1-1-.1-1 1-1-1.1-1 .1-1 .2-1-.2-1 .2-1-.1-1-.1-1-.1-1 .2-1 .2-1-.4-1 0-1 0-1 0-1 0-1 0-1 .5-1-.3-1-.2-1 0-1 .2-1 0-1 .3-1-.1-1-.3-1 .1-1 0-1-.1-1 .8-1-.8-1-.1-1 0-1 0-1 .5-1-.3-1 .2-1 .4-1-.7-1 0-1 0-1-.1-1 .5-1-.3-1-.1-1-.1-1 .1-1-.1-1 .1-1 .6-1-.1-1-.2-1-.2-1 0-1-.1-1 .1-1-.2-1 .3-1-.3-1 .1-1 0-1-.1-1 .1-1 0-1 0-1 .3-1 .2-1-.4-1 0-1 .1-1-.1-1 0-1 0-1-.2-1 .2-1-.2-1 .5-1-.4-1 0-1 .2-1-.3-1 .7-1-.6-1 .1-1-.1-1 .1-1 .1-1 .7-1-.8-1-.2-1 0-1 .2-1 0-1 1.1-1-1.2-1 0-1 0-1 0-1 .1-1 0-1-.2-1 .9-1-.7-1-.2-1 .1-1 .1-1-.2-1 .1-1 0-1 .1-1 0-1-.2-1 0-1 .1-1 .1-1-.1-1 0-1 .9-1-.7-1 .2-1 0-1 .1-1 .1-1 0-1 .1-1-.1-1-.3-1-.2-1-.2-1 .2-1-.1-1 .1-1 .2-1-.4-1 .1-1 0-1 0-1-.1-1 .1-1 .1-1-.2-1 0-1 0-1 .6-1-.4-1-.1-1 0-1 .2-1 .3-1-.5-1-.1-1 0-1 0-1 .1-1 1.2-1-.5-1-.1-1-.4-1 .5-1-.6-1 .2-1-.3-1 .2-1-.1-1-.1-1 .1-1-.1-1-.1-1 .6-1-.3-1 0-1 .7-1-.5-1 .5-1-.7-1 0-1 .4-1-.5-1 .1-1-.1-1 0-1 .8-1-.7-1 .1-1 0-1 .1-1-.1-1 .5-1-.4-1-.2-1-.2-1 0-1 .2-1-.3-1 .1-1-.1-1 .2-1 0-1 .3-1-.5-1 0-1 .2-1-.2-1 0-1 .4-1 0-1 0-1-.3-1 .7-1-.8-1 .8-1-.7-1-.1-1 .3-1-.3-1 .2-1-.1-1 .4-1-.1-1-.2-1-.2-1 .1-1 0-1 .1-1 0-1 .1-1 .1-1-.1-1-.2-1-.1-1 0-1 .5-1-.3-1 .4-1-.2-1 .2-1-.6-1 .1-1 .4-1-.3-1 .3-1 .1-1-.1-1 1.4-1-.9-1-.4-1 .2-1 .2-1-.6-1 .1-1 .1-1-.1-1 0-1-.1-1 0-1-.4-1 .2-1-.1-1 .1-1-.1-1 .1-1-.2-1 0-1 .5-1-.5-1 .4-1-.2-1 .7-1-.9-1 .1-1 .4-1-.2-1-.1-1-.1-1 0-1 1-1-.9-1-.2-1 .1-1 .1-1 .5-1 .3-1-.7-1 0-1-.3-1 .1-1 0-1 .2-1-.1-1-.2-1 1-1-.9-1 .3-1-.2-1-.2-1 1.1-1-.9-1 .7-1 .2-1-.7-1 .5-1-.3-1-.6-1 .1-1 0-1 .6-1-.4-1 .3-1 .4-1-.2-1 .5-1-.8-1-.3-1-.1-1 .2-1-.2-1 .1-1-.1-1 .1-1 1-1-.4-1 0-1 .1-1 0-1-.4-1-.1-1-.2-1-.1-1 .8-1-.6-1-.3-1 .3-1 .1-1-.2-1-.1-1 .3-1-.2-1 .6-1-.4-1-.2-1 .2-1-.2-1-.1-1-.1-1 .1-1 0-1 .2-1 .1-1 .3-1-.6-1 .2-1-.1-1-.1-1 0-1 .2-1-.2-1 .5-1-.3-1 .2-1-.2-1 .7-1-.9-1-.1-1 .1-1 .1-1 0-1-.2-1 .3-1 0-1-.2-1 .2-1-.1-1 .4-1-.4-1 .4-1-.4-1 .1-1-.3-1 0-1 .7-1-.5-1-.1-1 .1-1 0-1 0-1 0-1 0-1-.1-1-.1-1 0-1 0-1 0-1 0-1 .1-1 .7-1-.7-1 .2-1 .5-1-.1-1-.6-1 .3-1-.2-1 0-1 .2-1-.4-1 .2-1 .9-1-.7-1-.2-1-.1-1-.1-1 .2-1 .8-1-1-1 .1-1-.1-1 .2-1-.1-1-.1-1 .8-1-.5-1 .3-1 0-1 .3-1-.1-1-.4-1-.1-1 .3-1-.4-1 .5-1-.3-1-.3-1-.1-1 .1-1-.1-1 .1-1 .1-1-.2-1 1.1-1-.8-1-.2-1-.1-1 .3-1-.1-1-.1-1-.1-1 .4-1-.2-1 0-1 .1-1-.3-1 0-1 .3-1-.3-1 .3-1-.2-1-.1-1 .1-1 .7-1-.5-1-.2-1 .2-1-.2-1-.1-1 .2-1-.1-1 .2-1 .5-1-.4-1 .1-1 0-1-.2-1-.2-1 .1-1-.2-1 .1-1 0-1 0-1 0-1 0-1 .1-1-.1-1 0-1 0-1 .2-1 0-1 .1-1 0-1-.2-1 0-1-.1-1 .7-1-.8-1 .9-1-.8-1-.1-1 .3-1-.1-1-.2-1 0-1 .4-1-.1-1 .2-1 .2-1-.1-1 1-1-.8-1-.5-1-.2-1 0-1 .1-1 .5-1 0-1-.5-1 1-1-1.1-1-.1-1 .8-1-.6-1-.1-1 .1-1-.1-1-.1-1 .2-1-.1-1 0-1-.1-1 .7-1-.7-1 .1-1 0-1 0-1 .1-1 .1-1 0-1-.2-1 0-1 .2-1-.2-1 .1-1 0-1 .1-1-.3-1 .2-1 0-1 .9-1-1.1-1 .3-1-.2-1 .1-1 0-1-.1-1 .8-1-.1-1-.4-1 .1-1-.3-1-.1-1 0-1 0-1-.1-1 .2-1 .1-1 0-1 .1-1-.3-1 .3-1-.1-1-.1-1 .3-1 .2-1-.3-1-.1-1 0-1 .2-1 .3-1-.1-1 0-1 .1-1-.5-1 .8-1-.7-1-.3-1 .6-1-.6-1 0-1-.1-1 0-1 .3-1-.2-1 .1-1-.1-1-.1-1 0-1 .1-1 0-1 .1-1-.2-1 0-1 .8-1-.3-1 .1-1 .1-1-.1-1-.6-1 .8-1-.6-1-.2-1 .7-1-.6-1 0-1 .1-1 0-1 1-1-.8-1 .3-1 .1-1 .3-1 .3-1-.5-1-.2-1 0-1 .1-1 0-1-.1-1-.3-1 0-1 .1-1 .1-1-.5-1 .3-1-.4-1 .5-1 .1-1-.6-1 1-1-.9-1 1.1-1-1-1 .7-1-.9-1 .2-1 0-1 0-1-.2-1 .1-1 0-1 .4-1-.1-1-.3-1-.1-1 .2-1 0-1-.1-1 .4-1 0-1-.3-1 .8-1-.7-1 .2-1 .1-1 .1-1 0-1-.1-1-.2-1 .6-1-.6-1-.1-1-.2-1 0-1 .1-1 .1-1 .6-1-.8-1 .1-1 .4-1-.2-1-.2-1-.1-1 0-1 0-1-.1-1 .2-1 .4-1-.3-1-.3-1 .1-1 .9-1-.8-1-.1-1 .4-1-.3-1-.2-1 0-1 0-1 .2-1-.2-1 .2-1 0-1-.1-1 .1-1 .3-1-.3-1 0-1-.2-1 .1-1 .5-1-.2-1 0-1 .3-1-.1-1-.5-1 0-1 .7-1-.3-1-.4-1 .1-1-.1-1-.1-1 0-1 .8-1-.7-1-.1-1 .1-1-.1-1 0-1 0-1 .1-1-.1-1 .4-1-.3-1 0-1 0-1 0-1-.1-1 .2-1 0-1 0-1-.2-1 .1-1-.1-1 .2-1 .1-1-.3-1 .6-1-.6-1 .1-1 .1-1-.2-1 .4-1-.4-1 .1-1 .7-1-.5-1-.2-1 .5-1-.1-1-.4-1 .1-1-.2-1 .9-1-.9-1 0-1 .7-1-.7-1 0-1 .3-1-.2-1 .3-1-.4-1 0-1 .1-1 0-1 .2-1-.1-1 0-1 .2-1-.2-1 .5-1 0Z"/>
<path fill="#ff0000" d="M138.5 354.9l1 0 1 .2 1-.1 1 .2 1-.2 1 .1 1-.6 1 .7 1 0 1 0 1-.1 1-.1 1 .2 1 0 1 0 1-.5 1 .5 1 0 1-.1 1 0 1-.2 1 .1 1-.4 1 .6 1-.6 1 .5 1-.1 1 .1 1-.1 1 0 1 0 1 .1 1-.4 1-.4 1 0 1 .2 1 0 1-.5 1 .9 1 .1 1 .1 1 0 1-.1 1 .1 1-.1 1 .1 1-.1 1 .1 1-.3 1 .2 1 0 1 0 1-.1 1-.1 1-.1 1 .4 1 .1 1-.2 1 .1 1-.1 1 .1 1 .1 1-.2 1-.1 1 .2 1 0 1-.1 1 0 1 .1 1 0 1 0 1-.2 1 .2 1 0 1 0 1-.2 1 .2 1-.1 1-.4 1 .5 1-.1 1-.1 1 .1 1 .2 1-.1 1-.2 1-.1 1 .1 1 .3 1-.4 1 .2 1 0 1-.2 1 .3 1-.3 1 .2 1-.5 1 .6 1-.1 1-.1 1 .1 1-.4 1-.1 1 .1 1-.2 1 .1 1 .3 1-.7 1 .6 1-.1 1 .2 1-.5 1 .6 1 .1 1 .1 1-.6 1 .6 1-.1 1-.3 1 .2 1 0 1-.5 1 .6 1-.5 1 .5 1 .1 1-.1 1 0 1 .2 1-.4 1 .3 1 .1 1 0 1-.1 1-.3 1 .4 1-1.1 1 1.1 1-.3 1-.2 1-.1 1 .3 1 .1 1 .1 1 0 1 .1 1-1.1 1 1.1 1-.8 1 .8 1-.7 1 .7 1 0 1-.1 1-.1 1 .1 1-.1 1 .1 1 0 1 0 1-.8 1 .7 1-.2 1 .4 1-.3 1 .3 1-.3 1 .1 1-.3 1 .2 1 0 1-.1 1 .4 1 0 1-.3 1 .2 1 .1 1 0 1-.2 1 0 1-.2 1 .2 1-.1 1-.3 1 .4 1 .1 1-.1 1 0 1-.1 1 .2 1-.1 1-.2 1-.3 1 0 1 0 1 .3 1 .2 1-.5 1 0 1-.3 1 .7 1 .1 1 .2 1 0 1-.1 1 .1 1-.8 1 .2 1 .6 1-.5 1 .5 1-.5 1 .1 1 .2 1 0 1 0 1-.7 1 .5 1 .4 1-.2 1 .2 1 0 1-.1 1-.2 1 .3 1 0 1-.1 1 0 1 0 1-.2 1 .2 1 0 1-.6 1 .6 1 0 1 .1 1-.2 1 .2 1-.4 1 .3 1-.6 1-.3 1 .8 1 .1 1-.6 1 .4 1 .3 1-.1 1 .1 1-1 1 .8 1-.1 1 .3 1-.2 1 0 1 .2 1-.2 1 .2 1-.1 1 0 1-.1 1 .1 1-.1 1 .1 1 0 1-.2 1 .3 1 0 1 0 1-.1 1-.4 1 .4 1-.8 1 .7 1-.1 1 .1 1-.1 1-.6 1 .8 1-.1 1 .1 1-.1 1-.4 1 .1 1 .4 1-.2 1 0 1 .2 1 .1 1-.1 1 0 1 0 1-.4 1 .5 1 0 1-.9 1 .9 1-.1 1-.3 1-.5 1 .8 1 .1 1-.3 1 .2 1 .1 1-1.1 1 0 1 .6 1 .2 1 .1 1 .1 1-.2 1 .2 1-.4 1 .5 1-.1 1-.2 1 .2 1-.2 1 .2 1-.2 1-.3 1 .4 1 .1 1 0 1-.3 1 .3 1 0 1 .1 1-.2 1 .1 1 0 1 .1 1-.1 1-.1 1 0 1 .1 1-.1 1-.1 1 .1 1-.3 1 .3 1-.1 1-.1 1-.1 1 .1 1 0 1-.6 1 .7 1 .2 1 .1 1-.8 1 .8 1 0 1-.1 1 .1 1-.2 1 .2 1-.5 1 .5 1-1 1 1 1-.6 1 .6 1-.1 1 .1 1-.2 1-.2 1 .4 1-.1 1 .1 1-.1 1 0 1-.4 1 0 1 .3 1 .1 1 0 1-.1 1 .1 1-.2 1 .3 1-.7 1 .6 1-.2 1 .2 1-.6 1 .5 1 .2 1-.1 1 .1 1-.1 1-.1 1-.1 1-.1 1 .2 1 .2 1 0 1-.2 1 .2 1-.3 1 .1 1-.1 1 .3 1-.1 1 .1 1-.4 1-.3 1-.1 1 .7 1-.1 1-.1 1-.6 1 .9 1-.1 1 0 1-.3 1 .2 1-.4 1 .4 1 0 1 0 1-.3 1 .3 1 .1 1 .1 1-.4 1 0 1-.3 1 .6 1-.6 1 .6 1-.2 1 .1 1 .2 1-.2 1 .1 1-.4 1 .5 1-.2 1 .1 1 0 1-.7 1 .4 1 .3 1-.2 1 0 1-.2 1 .1 1 .1 1 0 1 0 1 .1 1 .1 1-.2 1 .2 1 .1 1 0 1-.2 1-.1 1 .2 1 .1 1-.1 1 0 1-.4 1 .5 1-.1 1 0 1 .1 1 0 1 0 1-.4 1 0 1 .3 1-.1 1-.1 1-.2 1-.3 1 .6 1-.2 1 .3 1-.5 1 .6 1-.1 1-.8 1 .1 1 .7 1-.2 1 .2 1-.3 1 .2 1 .1 1 0 1-.2 1 .1 1-.8 1 .9 1-.3 1 .2 1 .2 1-.5 1 .5 1 0 1-.2 1 .2 1-.3 1-.4 1 .7 1-.2 1-.1 1 .2 1 .1 1-.1 1-.3 1 .3 1-.2 1-.6 1 .7 1 .2 1 0 1-.1 1 0 1-.1 1 .1 1 .1 1-.4 1 .1 1 .2 1-.2 1 .1 1-.1 1-.1 1 .4 1 0 1-.1 1 0 1 .1 1 0 1-.1 1-.2 1 .3 1-.4 1 .2 1-.6 1 .6 1-.2 1-.4 1 .4 1 .1 1-.1 1 .4 1-.1 1-.4 1 .5 1-.2 1-.1 1 .2 1 .1 1-.3 1 .2 1 .1 1-.3 1-.3 1 .1 1-.2 1 .5 1 .1 1-.1 1 0 1 .1 1 0 1-.2 1-.3 1 .1 1 .4 1-.4 1 .5 1-.2 1 .1 1-.2 1 .2 1 0 1-.2 1 .3 1 0 1 0 1-.4 1 .4 1-.2 1-.2 1 .1 1-.3 1 .5 1 .1 1-.2 1 .1 1-.1 1 .1 1-.1 1-.4 1 .5 1 .1 1-.2 1-.3 1 .2 1 .2 1-.1 1 .1 1-.6 1 .7 1-.2 1-1.2 1 1.4 1-.2 1 .1 1-.1 1-.1 1 .2 1-.9 1 .9 1 .1 1-.9 1 .9 1-.2 1-.9 1 .9 1 .1 1-.1 1 .1 1-.2 1 0 1 .3 1-.3 1 .1 1 .1 1-.1 1 .2 1-.1 1-.3 1-.5 1 .7 1 0 1 .1 1 0 1-.6 1 .6 1 0 1-.2 1-.5 1 .7 1 0 1 0 1-.1 1 .2 1-.1 1-.1 1-.1 1-.5 1 .5 1-.4 1-.1 1-.1 1-.2 1 .2 1-.3 1 .7 1 .1 1 .3 1-.3 1 .3 1 0 1-.6 1 .5 1-.4 1 .5 1-.1 1 .2 1-.1 1 0 1 0 1-.1 1-.1 1 .3 1-.2 1 .2 1 0 1-.4 1 .3 1 0 1-.3 1 .2 1-.2 1 .3 1 0 1-.4 1 .5 1-.6 1 .6 1-.1 1-.2 1 .2 1 0 1 .1 1-.1 1 0 1-.1 1 .1 1 0 1-.1 1 0 1-.2 1 0 1 .1 1-.5 1 .4 1 .3 1 .1 1 0 1-.2 1-.4 1 .4 1-.1 1 .1 1-.1 1-.1 1 .3 1-.2 1 .2 1 0 1-.1 1-.3 1 .3 1 .2 1 0 1 0 1-.2 1-.2 1 .1 1 0 1-.7 1 .7 1 .1 1 .1 1 0 1-.7 1 .8 1-.3 1 .3 1-.1 1 .1 1-.3 1 .3 1-.3 1 .3 1-.3 1-.1 1 .3 1 .1 1-.2 1-.1 1-.4 1 .3 1 .1 1 .2 1-.1 1 .2 1-.4 1 0 1 .1 1 .3 1 0 1-.2 1 .1 1-.1 1-.6 1 .6 1-.6 1-.7 1 .7 1 .6 1-.2 1-.2 1-.1 1 .4 1 .1 1 0 1 .2 1-.1 1 0 1-.3 1 .3 1-.1 1 .1 1 0 1 0 1-.4 1 .5 1-.2 1 0 1 0 1 .1 1-.3 1-.1 1-.3 1 .5 1 .1 1 .2 1-.2 1 0 1 0 1-.5 1 .3 1 .4 1-.3 1 .2 1-.8 1 .6 1 .2 1 0 1 .1 1 0 1-.1 1-.6 1 .6 1-.2 1-.2 1 0 1-.1 1 .1 1-.2 1 .5 1-.1 1 .2 1 .1 1-.2 1 0 1-.3 1 .5 1 0 1 0 1-.4 1 .4 1-.2 1-.3 1 .4 1-.3 1 .3 1-.2 1 .1 1 .2 1-.1 1 .1 1-.1 1 0 1-.3 1 .1 1 .2 1-.4 1-.1 1 0 1-.4 1-.1 1 .6 1-.2 1 .5 1-.7 1 .7 1-.2 1 .1 1 0 1 .1 1 0 1-.1 1 0 0 3.1-1 0-1-.1-1 0-1 1-1-.8-1 0-1-.1-1 0-1 .3-1 .1-1 .6-1 .7-1-.3-1-.7-1-.2-1-.3-1-.2-1 .3-1-.3-1 .4-1 0-1-.3-1-.2-1 .1-1 .1-1-.1-1 .1-1 .4-1-.6-1 .3-1-.2-1 0-1 .2-1-.1-1-.1-1 .4-1-.4-1 0-1 .3-1-.1-1-.2-1 0-1 .1-1 .1-1 .4-1-.3-1 .2-1-.2-1-.1-1-.2-1 .1-1-.1-1 0-1 0-1-.1-1 .7-1-.6-1 .5-1-.4-1 .3-1-.5-1 .2-1-.1-1 .1-1 .1-1 0-1-.3-1 .2-1 .6-1-.6-1-.1-1-.1-1 .2-1 .3-1-.4-1 .1-1-.1-1 .1-1-.1-1-.1-1 .1-1 .2-1-.2-1 0-1-.1-1 .2-1 0-1 0-1-.1-1 .7-1-.4-1 0-1-.2-1 0-1 .4-1-.2-1 .2-1-.1-1-.5-1 .2-1 .3-1-.1-1-.3-1 0-1 .1-1 0-1-.1-1 .2-1-.1-1 .2-1-.3-1 0-1 .1-1-.2-1 .5-1-.5-1 .1-1 0-1 .1-1 0-1-.1-1 .7-1-.4-1-.2-1-.1-1-.1-1 .2-1 0-1-.2-1 .3-1 .6-1-.1-1-.2-1-.4-1-.1-1 .1-1-.2-1 .1-1 0-1 0-1-.1-1 .4-1-.2-1 0-1-.2-1 .2-1 .2-1-.2-1-.1-1 .2-1-.1-1 .2-1-.1-1 .4-1-.3-1-.2-1 0-1 .1-1 1.3-1-.9-1-.2-1-.4-1 0-1 .1-1 .3-1-.4-1 .1-1 0-1 0-1 0-1 .1-1-.3-1 .2-1 0-1-.2-1 .1-1 .1-1-.1-1 .4-1-.2-1-.1-1 .1-1-.1-1 .6-1-.1-1-.6-1-.1-1 .1-1 0-1 .2-1-.2-1 1-1-1-1 0-1-.1-1 .2-1 0-1-.2-1 .2-1-.2-1 .2-1-.1-1 .3-1-.4-1 .1-1 .1-1 0-1 .2-1 .1-1 .7-1-.4-1-.3-1 .7-1-.8-1-.1-1 .5-1-.6-1 .1-1 .2-1-.3-1 .1-1 .3-1-.3-1-.2-1-.1-1 .2-1-.1-1 0-1 0-1-.1-1 .2-1 .3-1-.4-1-.1-1 .4-1-.3-1 .2-1 .5-1-.6-1 0-1 0-1-.2-1 .4-1 .4-1-.7-1 0-1 .5-1-.6-1 .4-1-.2-1-.2-1 0-1 .1-1 .1-1 .7-1-.6-1-.2-1 .1-1 0-1 0-1-.1-1 .3-1 .5-1-.9-1 .5-1-.4-1 .1-1 .1-1 0-1-.3-1 .1-1 1.2-1-1-1-.2-1 .8-1 0-1-.7-1 .1-1-.3-1 .2-1-.1-1 .2-1 .2-1-.4-1 .9-1-1-1 0-1 .2-1 0-1 0-1 0-1-.1-1 0-1-.1-1 .6-1-.4-1 .2-1-.4-1 .3-1 .5-1-.1-1-.3-1 0-1-.4-1 .3-1-.2-1 .1-1 0-1 0-1 0-1-.1-1 .1-1-.1-1 .1-1 .5-1-.5-1 .3-1-.5-1 .2-1 0-1-.2-1 .1-1 0-1 .2-1 .6-1-.7-1-.1-1 .3-1 .8-1-1.1-1 .4-1-.4-1 0-1-.1-1 .3-1-.2-1 .1-1-.1-1 0-1 .1-1-.2-1 .2-1 .3-1 .3-1-.5-1-.2-1 .5-1-.5-1 .1-1-.1-1 .2-1-.1-1-.2-1 .2-1 .4-1-.5-1 .2-1 0-1 .1-1-.3-1 .3-1 0-1-.1-1-.2-1 .3-1 .4-1-.8-1 .2-1 .1-1-.1-1 .6-1-.3-1-.3-1-.1-1 .2-1-.2-1 0-1 0-1 0-1 0-1 .2-1-.2-1 .8-1-.6-1 .2-1 0-1-.2-1-.1-1 0-1 .3-1-.4-1 .1-1-.1-1 .1-1-.1-1 .3-1-.2-1 .2-1-.1-1-.1-1 0-1 .6-1 0-1-.6-1-.2-1 .3-1 .1-1-.4-1 0-1 .2-1 .1-1-.1-1-.1-1 0-1-.1-1 .2-1 .2-1-.4-1 1-1-.8-1 .8-1-.3-1-.3-1 .1-1 0-1 .1-1-.4-1 .2-1-.2-1 0-1 .1-1-.2-1 .1-1-.2-1 .1-1-.1-1 .8-1-.4-1-.1-1 0-1 0-1 0-1-.1-1 0-1-.1-1 .4-1-.4-1 .1-1 .1-1-.1-1 .1-1-.2-1 .3-1-.4-1 .2-1-.2-1 0-1 .2-1 .1-1-.2-1 0-1 .1-1 .1-1-.2-1-.1-1 .1-1 0-1 0-1 .1-1 0-1-.2-1 .1-1 1-1-.9-1 0-1-.1-1 0-1 .1-1-.2-1 .2-1 .3-1-.3-1-.1-1 .1-1 .6-1-.8-1 .1-1 0-1 0-1 .2-1 .7-1-.9-1 .6-1 .3-1-.6-1-.2-1-.1-1 1-1 0-1-.7-1-.4-1 .2-1 0-1-.2-1 .4-1-.2-1-.2-1 .2-1-.1-1 0-1 0-1-.1-1 .1-1 .1-1 .3-1-.4-1 .3-1 0-1-.4-1 .4-1-.2-1-.1-1 0-1 0-1 .3-1-.1-1 .9-1-.3-1-.3-1-.4-1-.1-1 .1-1 .1-1-.2-1 .1-1 0-1 0-1 .2-1 .2-1 0-1-.5-1 0-1 0-1 .7-1-.8-1 0-1 0-1 0-1 .2-1 0-1 .7-1-.8-1 .2-1-.3-1 .9-1-.8-1-.1-1 .1-1 .4-1-.3-1 .2-1-.4-1 .1-1 0-1 .2-1 .4-1-.5-1 0-1 .2-1-.4-1 .3-1-.2-1-.1-1 .3-1-.2-1 .1-1-.1-1 .1-1 0-1-.1-1 .1-1 .2-1-.3-1-.1-1 .2-1 0-1 .1-1-.2-1 0-1 0-1 .1-1-.1-1 .1-1 0-1 .5-1 .1-1-.7-1 .1-1-.1-1 .1-1 .4-1 0-1-.2-1 0-1 0-1-.3-1-.1-1 .8-1-.4-1-.3-1 .4-1-.4-1 0-1 1-1-.9-1-.1-1-.1-1 .1-1 0-1 .1-1 .1-1-.1-1-.1-1-.1-1 .3-1-.3-1 .2-1-.1-1 .2-1-.2-1 .6-1-.5-1 0-1 .3-1-.4-1 .2-1 .1-1-.1-1 .6-1-.7-1-.2-1 .3-1-.2-1 0-1 .3-1-.4-1 .2-1 .6-1-.5-1-.1-1 .3-1-.4-1 .9-1-.3-1-.4-1-.2-1 0-1 .2-1 .6-1-.8-1-.1-1 .2-1 0-1-.2-1 .1-1 .1-1 .5-1-.3-1-.4-1 .1-1 .6-1-.6-1 .2-1 .7-1-.8-1-.1-1 .1-1-.1-1 .8-1-.3-1 .4-1-.6-1-.1-1-.1-1 .9-1-1-1 .1-1 0-1-.2-1 .6-1-.6-1 .2-1-.1-1 .3-1-.1-1-.2-1 .1-1-.1-1 .7-1-.5-1 .1-1-.3-1 .5-1 .5-1-1-1 .2-1-.1-1 0-1-.2-1 .8-1-.7-1 .3-1-.2-1 .2-1-.3-1 0-1-.1-1 .1-1 .2-1 .1-1-.2-1 .1-1-.1-1 0-1 0-1-.1-1 .1-1 0-1 .1-1-.3-1 .1-1 .2-1 .3-1 .3-1-.8-1 .5-1-.5-1 0-1-.1-1 .1-1 .1-1-.1-1 .1-1 0-1 .6-1-.5-1-.2-1 .4-1-.4-1 .4-1-.4-1 1.1-1-.9-1 .4-1-.3-1 .4-1-.5-1-.1-1 .4-1 .1-1-.1-1 0-1 .3-1-.1-1-.2-1 .7-1-.5-1-.2-1 .1-1 0-1 0-1-.4-1 .4-1-.3-1-.2-1-.1-1 0-1 .2-1-.1-1 0-1-.1-1 .1-1 0-1 .2-1-.2-1 .1-1 0-1-.1-1 .6-1-.6-1-.1-1-.1-1 0-1 .3-1-.2-1 0-1 0-1 .2-1-.2-1 .2-1-.2-1 .1-1 0-1-.1-1 .7-1-.7-1 0-1-.1-1 0-1 1.2-1-1.1-1 0-1 .1-1 0-1-.1-1 0-1 0-1 .1-1-.1-1 .1-1 .2-1-.1-1-.1-1 0-1 .2-1-.2-1-.1-1 .1-1 .1-1-.3-1 .8-1-.7-1 0-1 0-1 .6-1-.2-1 .1-1 .4-1-.1-1-.5-1-.1-1 0-1 .4-1-.4-1-.2-1 0-1 0-1-.1-1 0-1 0-1 .1-1 .4-1 .3-1-.8-1 .3-1-.2-1-.1-1 .2-1 .4-1-.5-1 .2-1 0-1-.3-1 .1-1 .1-1 .6-1-.5-1-.2-1 .2-1 .3-1-.4-1 0-1 0-1 0Z"/>
<path fill="#0000ff" d="M138.5 386.8l1 0 1-.1 1-.1 1 .2 1 0 1-.1 1 .1 1 .1 1-.3 1 0 1 .3 1 0 1 0 1-.8 1 .8 1-.5 1 .1 1-.3 1 .4 1 0 1 .3 1 0 1 0 1-.2 1 0 1 .2 1 0 1-.5 1 .3 1 .1 1 .1 1 0 1 0 1-.3 1 0 1 .3 1 0 1-.4 1 .3 1-.1 1-.1 1 .1 1 .1 1-.3 1 .3 1 .1 1-.6 1 .4 1-.1 1-.3 1 .1 1 0 1 .3 1 0 1-.7 1 .9 1 0 1 0 1 0 1-.2 1-.1 1 .3 1 0 1-.1 1-.1 1 .1 1 0 1 0 1 .1 1-.1 1-.1 1 0 1-.2 1-.2 1 .5 1 0 1 0 1 0 1 .1 1 0 1-.1 1 .1 1-.2 1 .2 1 0 1 0 1-.6 1 .6 1-.4 1 .4 1 0 1-.9 1 .8 1-.1 1 .1 1-.3 1 .4 1-.2 1 .2 1-1.1 1 .9 1 .1 1-.2 1 .1 1-.1 1-.3 1 .2 1-.2 1-1.2 1 .6 1 .6 1 .3 1-.1 1 .3 1-.1 1-.7 1 .9 1-.1 1-.1 1 .2 1-.1 1-.7 1 .8 1-.1 1-.1 1 0 1-.1 1 .1 1 .2 1-.1 1-.1 1 .2 1-.1 1 0 1-.8 1 .7 1 .1 1 .1 1-.7 1 .5 1 .1 1-1 1 .6 1 .2 1 .2 1 0 1 .1 1-.5 1 .5 1-.1 1-.2 1 .1 1 .1 1-.1 1 .1 1-.5 1 .2 1 .4 1 0 1-.2 1 0 1 .2 1-.1 1 0 1 .1 1-.2 1 .1 1 .1 1-.9 1 .8 1 .1 1-.4 1 .4 1-.1 1-.4 1 .2 1-.2 1 .1 1 .3 1 .1 1-.2 1 .2 1-.1 1-.1 1 .2 1-.9 1 .9 1-.5 1 .5 1-.1 1-.4 1 0 1 .4 1-.1 1-.1 1 .1 1-.8 1 1 1-.4 1 .4 1-.2 1 .2 1 0 1-1.1 1 .3 1 .8 1-.1 1-.2 1-.2 1 .3 1 .2 1 0 1-.2 1 .2 1-.4 1 .2 1 .1 1-.2 1 .1 1 .1 1 .1 1-.1 1 0 1 0 1 .1 1 0 1-.1 1 0 1-.2 1 .3 1-.1 1 .1 1-.3 1 .2 1 .1 1-.1 1-.1 1-.2 1 .3 1-.1 1-.2 1 .2 1-.1 1 .1 1-.5 1 .7 1-.1 1 .1 1-.1 1-.3 1-.3 1-.5 1 1.2 1-.8 1 .7 1 .1 1-.2 1 0 1-.1 1 .1 1 .1 1-.7 1 .8 1-.2 1 .2 1-.3 1 .3 1-.1 1 0 1-.5 1 .4 1 .1 1-.3 1-.1 1 .4 1-.3 1 .3 1 .1 1 0 1-.5 1-.4 1 .4 1 0 1 .5 1 0 1-.4 1 .4 1-.1 1 0 1 .1 1-.1 1-.1 1 .1 1-.2 1 .2 1-.2 1 .2 1 .1 1-.1 1 .1 1-.3 1-.7 1 .7 1 .3 1 0 1-.2 1-.1 1-.2 1 .3 1 .2 1-.1 1 0 1 0 1-.1 1 .2 1 0 1 0 1-.2 1 0 1 .2 1-.2 1 .1 1 .1 1-.4 1 .3 1-.1 1-.2 1 .4 1 0 1 0 1-.1 1 .1 1 0 1-.2 1 .1 1-.1 1-.3 1 0 1 .2 1 .2 1-.6 1 .5 1-.2 1 .1 1 .1 1 .1 1 .1 1-.1 1 0 1-.1 1 .2 1-.8 1 .8 1-.2 1-.1 1 .1 1 0 1 0 1 .1 1 .1 1-.1 1-.6 1 .6 1-.1 1 .2 1 0 1-.5 1 .3 1 .1 1 0 1 0 1 .1 1-.3 1 .1 1-.1 1 .2 1 0 1 .1 1-.1 1-.1 1 .1 1 0 1 .1 1-.3 1-.4 1 .5 1 .1 1 .1 1-.4 1-.4 1 .5 1-.1 1 .4 1-.2 1 0 1 .1 1 0 1-.1 1 .1 1-.4 1-.4 1 .9 1-.6 1 .3 1 .3 1-.3 1 0 1 .2 1-.2 1-.7 1 .8 1-.1 1 .2 1 0 1-.3 1-.2 1 .2 1 .4 1 0 1-.1 1 0 1 .1 1-.5 1-.4 1 .7 1 .1 1-.1 1 .1 1 .1 1-.2 1 .1 1 .1 1-.1 1-.1 1-.5 1 .6 1 .1 1-.2 1-.1 1 0 1 .1 1 0 1 0 1 .1 1-.2 1 .1 1 0 1 0 1 .2 1-.1 1-.4 1 .1 1 .3 1-.1 1 .1 1 .1 1 0 1-.3 1 .2 1 0 1-.1 1-1 1 1.1 1 .1 1 0 1 0 1 0 1-.1 1-.1 1-.3 1 .4 1 .1 1-.5 1 .5 1 0 1-.1 1 0 1-.2 1 .3 1-.1 1-.2 1-.3 1 .5 1-.2 1 0 1-.3 1 .5 1 .1 1-.1 1 .1 1-.8 1 .8 1 0 1-.5 1 .1 1 .1 1-.4 1 .6 1 0 1-.1 1 .2 1 0 1-.9 1 .7 1 .1 1-.1 1-.5 1 .6 1-.1 1 .2 1-.2 1 .1 1-.8 1 .7 1-.2 1 .3 1 0 1-.3 1 .1 1-.1 1 0 1 .1 1 .3 1 0 1-.2 1-.2 1 0 1 .4 1-.1 1 0 1-.1 1 .1 1 0 1-.1 1 .2 1-.3 1 .1 1 .2 1-.2 1 0 1-.2 1 .3 1 0 1-.1 1 .2 1 0 1-.2 1 .2 1-.2 1 .2 1-.1 1-.1 1 .2 1-.3 1 0 1 .3 1-.1 1 .1 1-.5 1 .4 1 .1 1-.2 1-.1 1-.5 1 .6 1 .2 1 0 1-.1 1 .1 1-.1 1-.2 1 .3 1 0 1 0 1-.1 1 0 1-.2 1 .1 1 0 1 .2 1-.1 1-.4 1 .5 1 0 1 0 1-.2 1-.2 1 .1 1 .2 1 0 1-.1 1 .1 1-1.1 1 1.1 1-.1 1 0 1 .1 1-.1 1 .1 1 .1 1-.1 1-.3 1 .2 1 .2 1 0 1-.8 1 .4 1 .4 1-.9 1 .8 1-.3 1 .3 1 .1 1-.1 1 .1 1-.7 1 .6 1-.1 1 0 1-.3 1-.5 1 .5 1 .4 1-.2 1 .2 1-.4 1 .5 1 0 1 0 1 0 1-.1 1-.2 1 .3 1-.1 1 0 1 0 1 .1 1-.2 1 0 1-.3 1 0 1-.1 1 .2 1-.2 1 .6 1-.2 1 .2 1-.2 1 .2 1-.5 1 .5 1-.1 1-.2 1-.3 1 .6 1-.2 1 .1 1 0 1-.2 1-.2 1 .5 1-.7 1 .3 1 .1 1 .3 1 0 1-.1 1-.1 1 0 1 0 1 .1 1 0 1 .1 1 0 1-.1 1 0 1 0 1 .1 1-.3 1 .2 1 0 1-.7 1 .3 1 .1 1-.3 1 .1 1 .2 1-.3 1 .1 1 .6 1-.1 1 .1 1-.2 1-.1 1 .2 1 .1 1-.3 1 0 1 .1 1 .2 1-.5 1 .5 1-.3 1 .3 1-.1 1 0 1 .1 1-.1 1-.4 1-.1 1 .2 1 .3 1-.3 1 .2 1 .2 1 0 1-.5 1 .3 1 .1 1-.2 1 .2 1 .1 1-.3 1 .3 1-.6 1 .6 1-.4 1 .2 1-.4 1 .1 1-.4 1 .7 1-.7 1 .7 1 .1 1-.2 1 .1 1 .2 1 0 1-.3 1 .1 1 0 1 .2 1 0 1-.1 1-.1 1-.1 1 .2 1 .1 1 0 1 0 1-.3 1 .3 1-.2 1 .1 1-.5 1 .2 1-.2 1 0 1-.1 1 .3 1-.1 1 .2 1 .2 1-.3 1 .3 1 .1 1 0 1 0 1-.5 1 .2 1 .2 1 .1 1-.5 1 .5 1 0 1-.2 1 .1 1-.1 1 .2 1-.5 1-.5 1 .7 1-.1 1 .2 1 .2 1-.1 1 .1 1 0 1 0 1-.5 1 .5 1-.3 1 .2 1-.1 1-.1 1 .2 1 0 1-.1 1-.4 1-.4 1 .5 1-.7 1 .2 1 .7 1 .1 1 .2 1 0 1-1.1 1 .9 1 .2 1 0 1-.1 1-.1 1 0 1 .2 1-.1 1-.1 1 .2 1-.2 1-.1 1 .3 1 0 1-.2 1 0 1 .2 1-.2 1-.1 1 .3 1-.1 1-.3 1 .4 1-.1 1 .1 1-.1 1 .1 1-.1 1-.1 1 .2 1-.1 1-.1 1 0 1 .1 1 .1 1-.4 1 .1 1 .2 1-.2 1-.3 1 .5 1-.9 1 1 1-.1 1 0 1-.4 1 .5 1-.3 1 0 1-.2 1 .1 1 .1 1-.1 1-.3 1 .2 1 0 1 .1 1 .1 1 .2 1 0 1-.6 1 .6 1 .1 1-.1 1 0 0 2.9-1 0-1-.4-1 .6-1 .2-1-.3-1-.4-1 .1-1 .4-1 0-1 .7-1-.6-1 0-1-.4-1 .2-1 .2-1-.4-1-.3-1 0-1 0-1 0-1 .1-1 0-1-.1-1 .1-1 .7-1-.7-1-.1-1 .2-1-.2-1 0-1 0-1 .1-1-.1-1 0-1 0-1 .9-1-.7-1 .2-1-.1-1-.2-1 .1-1-.2-1 0-1 .1-1 0-1-.1-1 0-1 0-1 .4-1-.1-1-.3-1 .1-1 .2-1-.2-1 0-1-.1-1 .1-1 .6-1-.7-1 0-1 0-1 .2-1-.1-1 .8-1-.2-1-.3-1 .2-1 .2-1-.6-1 .3-1 .8-1-.4-1-.5-1-.4-1 .2-1-.1-1 0-1 0-1-.1-1 0-1 .2-1 .3-1-.4-1-.1-1 1-1-.8-1 0-1-.2-1 .5-1-.4-1 .2-1-.3-1 0-1 .3-1 .2-1-.2-1-.2-1 0-1 0-1 0-1 .1-1 .5-1-.7-1 .2-1-.2-1 .1-1 .2-1-.2-1 .3-1 .8-1-.6-1-.1-1 .2-1 .2-1 0-1-.1-1-.3-1 .2-1-.3-1-.4-1 .7-1-.6-1-.1-1 0-1 .7-1-.6-1 0-1-.1-1 .2-1-.1-1 .4-1-.3-1-.1-1 .5-1-.6-1 .2-1-.2-1 0-1 0-1 0-1 0-1 .7-1-.6-1-.1-1 .1-1-.1-1 .2-1-.1-1 .2-1 .5-1-.5-1-.3-1 .1-1 0-1 0-1 .5-1-.3-1-.3-1 .2-1 .2-1-.4-1 0-1 .3-1 .2-1-.5-1 .1-1 .4-1-.4-1 .6-1-.6-1 0-1 .1-1-.1-1 .1-1-.1-1 .1-1-.2-1 .4-1-.2-1 0-1 .1-1-.3-1 .4-1-.4-1 .7-1-.6-1 .3-1 0-1 .8-1-.6-1 .1-1-.3-1-.1-1-.2-1-.1-1 0-1 .4-1 .2-1-.4-1 .1-1-.3-1 .5-1-.5-1 .1-1 .1-1 0-1-.1-1 .1-1 .2-1-.2-1 0-1-.2-1 .3-1-.3-1 .2-1-.2-1 0-1 .1-1-.1-1 1.2-1-1.1-1-.1-1 .1-1 .1-1 0-1-.2-1 0-1 0-1 .2-1 .2-1 0-1 1-1-.6-1-.1-1-.1-1-.3-1-.1-1-.2-1 .1-1 .1-1 .1-1-.3-1 0-1 .4-1-.3-1 .1-1 0-1-.1-1-.1-1 .2-1-.2-1 .2-1 .5-1-.3-1 .5-1-.7-1 .3-1-.5-1 .1-1 .1-1 .1-1-.3-1 .3-1-.2-1-.1-1 0-1 .3-1-.3-1 .6-1-.5-1 0-1 .1-1 .6-1-.6-1-.1-1 .1-1 .2-1-.4-1 0-1 .4-1 .1-1-.1-1-.4-1 .1-1-.1-1 .7-1-.7-1 .1-1 .3-1 0-1-.1-1-.1-1-.2-1 .4-1-.4-1 0-1 1-1-.6-1-.4-1 0-1 0-1 .1-1 .4-1-.4-1-.1-1 .4-1-.4-1 0-1 .1-1 .2-1 0-1-.3-1 0-1 .1-1 .1-1-.1-1-.1-1 .4-1-.2-1-.1-1 0-1 .1-1 0-1-.2-1 0-1 .2-1-.2-1 .1-1 .3-1-.4-1 .1-1 .3-1-.4-1 .1-1 0-1 .3-1 0-1-.4-1 0-1 .1-1 0-1 0-1 0-1 .3-1-.2-1 .4-1-.5-1-.1-1 .4-1-.4-1 .2-1 .7-1-.7-1 .2-1-.3-1-.1-1 .3-1 0-1 0-1-.2-1 0-1 .6-1-.5-1-.1-1-.1-1 0-1 .9-1 .1-1-.2-1-.5-1 .1-1-.1-1-.2-1 0-1 .1-1 .3-1 .1-1-.2-1-.3-1 .1-1 0-1-.1-1 0-1-.1-1 .4-1 0-1 .4-1-.8-1 .4-1-.4-1 0-1 0-1 .1-1 .1-1 .2-1-.4-1 0-1 .1-1-.1-1 .1-1-.1-1 .2-1-.1-1-.1-1 0-1 .2-1-.1-1 .1-1 .1-1-.2-1-.1-1 .7-1-.1-1-.5-1-.1-1 0-1 0-1 0-1 .6-1-.1-1-.4-1 .6-1-.6-1 0-1 .1-1-.1-1-.1-1 .1-1-.1-1 0-1 .3-1 .3-1 0-1-.5-1-.1-1 .1-1-.1-1 .2-1 .2-1-.1-1 .2-1-.5-1 0-1 .4-1-.4-1 .1-1 .6-1-.7-1 .6-1-.5-1 .5-1 .4-1-.8-1-.1-1 .3-1-.3-1 .1-1 .4-1-.3-1 .6-1-.7-1 .1-1 .1-1-.2-1 0-1-.2-1 0-1 .1-1 .7-1-.6-1-.2-1 .7-1-.3-1-.3-1 0-1 .2-1-.3-1 0-1 0-1 .3-1-.3-1 0-1 .3-1-.1-1-.2-1 .1-1 .3-1 .2-1-.6-1 .1-1-.1-1 0-1 0-1 0-1 .3-1-.1-1 0-1 0-1-.1-1 1-1-1.1-1 .1-1 .6-1-.7-1 0-1 .3-1 .7-1-1-1 .2-1 .7-1-.7-1-.2-1 .1-1 0-1 .7-1-.2-1-.6-1 0-1 0-1 0-1 .1-1 0-1 .6-1-.7-1 1.1-1-1-1 0-1 .3-1-.4-1 .2-1 .1-1-.2-1-.1-1 .2-1 0-1 .4-1-.2-1 .1-1-.5-1 .6-1-.3-1-.3-1 .2-1 .2-1-.3-1 .1-1-.1-1 .3-1-.4-1 0-1 0-1 .7-1-.6-1 0-1-.1-1 .2-1-.1-1 .7-1-.6-1 0-1-.1-1-.1-1 0-1 .5-1-.2-1-.1-1-.2-1 0-1 .2-1-.2-1 .6-1-.6-1 .1-1 .1-1-.2-1 0-1 .1-1 0-1-.1-1 .1-1-.1-1 .4-1-.4-1 0-1 0-1 .9-1-.9-1 .5-1-.4-1 0-1 .1-1 0-1-.2-1 0-1 .9-1-.9-1 0-1 .1-1 .3-1-.1-1 .3-1-.4-1-.2-1 0-1 .2-1 .1-1 .5-1 .1-1-.5-1 0-1-.4-1 0-1 0-1 .3-1-.2-1 .3-1-.2-1 0-1-.2-1 0-1 .1-1 .2-1 .4-1-.7-1 .3-1-.3-1 .2-1 .1-1-.2-1 .2-1-.2-1-.1-1 .6-1-.3-1-.2-1-.1-1 .6-1-.6-1 0-1 .2-1-.2-1 .3-1-.2-1 1-1-1.1-1 0-1 .9-1-.8-1 0-1 .7-1-.8-1 0-1 0-1 .1-1 .2-1-.2-1-.1-1 .2-1 0-1 .1-1-.2-1-.1-1 .2-1-.1-1-.1-1 .2-1 .2-1-.4-1 .2-1-.1-1-.1-1 .1-1 .3-1-.3-1 0-1-.1-1 0-1 .1-1 0-1 .2-1-.1-1 .4-1-.1-1 0-1-.5-1 0-1 0-1 .9-1-.9-1 .5-1-.3-1 .1-1-.1-1-.1-1 .5-1-.3-1 .2-1-.4-1-.1-1 .1-1 0-1-.1-1 .2-1-.2-1 .4-1 .3-1-.6-1 0-1 .1-1-.1-1-.1-1 .2-1 .2-1-.3-1 .2-1-.1-1 .7-1-.6-1-.1-1-.2-1 0-1 .1-1-.1-1 0-1 .5-1-.4-1 .2-1 .5-1-.7-1-.1-1 .9-1-.8-1-.1-1 .2-1-.1-1 .1-1 .8-1-.7-1 0-1 0-1-.1-1-.2-1 0-1 0-1 0-1 .2-1-.1-1-.1-1 .9-1-.7-1-.2-1 .3-1 .4-1-.4-1 .5-1-.5-1-.3-1 .2-1 .1-1-.2-1 1-1-.8-1 .1-1 .3-1 0-1-.2-1-.3-1-.1-1 .1-1 0-1 .1-1-.2-1 .4-1-.3-1 .4-1-.6-1 .1-1-.1-1 .3-1-.2-1 0-1-.1-1 .3-1-.2-1-.1-1 .2-1-.2-1 0-1 .9-1-.8-1 .1-1-.1-1-.1-1 .1-1-.1-1 0-1 .1-1 .4-1-.5-1 .1-1 .1-1-.2-1 0-1 .1-1 .1-1-.2-1 0-1 .3-1 .4-1 0-1-.7-1 .1-1 0-1-.1-1 0-1 0-1 .1-1 .3-1-.2-1-.1-1 .2-1 .5-1-.3-1 .3-1-.4-1-.2-1-.1-1 0-1-.1-1 .1-1-.1-1 .9-1-.9-1 0-1 .1-1-.1-1 0-1 1.1-1-1.1-1 0-1 .1-1-.1-1 .1-1 0-1 .1-1-.2-1 0-1 0-1 .2-1 0-1 0-1-.1-1 0-1 .3-1 .2-1-.6-1 .2-1-.2-1 0-1 .3-1-.1-1 0-1-.2-1 .2-1-.1-1 .2-1-.2-1-.1-1 0-1 0-1 .2-1-.1-1 .4-1 0Z"/>
<path fill="#008000" d="M138.5 418.2l1 0 1 0 1 .1 1 0 1 0 1 0 1 .2 1-.1 1 0 1-.2 1 .2 1-.2 1-.5 1 0 1-1 1 1 1 .5 1-.3 1 .2 1 .3 1 0 1-.2 1 0 1 .2 1-.1 1 .1 1 .1 1-.2 1 0 1 .1 1-.1 1 .1 1-.9 1 .7 1 .1 1 .1 1-.8 1 .7 1 0 1 .1 1-.3 1 .3 1 0 1 0 1-.2 1 0 1 .2 1-.1 1 .2 1-.1 1-.9 1 .9 1-.3 1 .3 1-.3 1 .4 1-.3 1 .2 1 .1 1-.4 1 .2 1 0 1-.1 1 .3 1-.1 1 0 1 0 1-1.3 1 .6 1 .7 1-.5 1 .4 1 .1 1 0 1-.1 1 .1 1 0 1 0 1-.1 1 .2 1-.2 1-.7 1 .7 1-.4 1 .1 1-.2 1 .1 1 0 1-.1 1-.4 1 .5 1 .4 1-.1 1 .2 1-1 1 1 1 0 1-.1 1 0 1-.3 1 .2 1 .2 1 .1 1-.4 1 .3 1 0 1 0 1 .1 1 0 1-.1 1-.4 1 .1 1 .4 1 0 1-.2 1-.2 1 .3 1-.5 1 .6 1-.1 1-.4 1 .2 1 0 1 .2 1 0 1 .1 1-.3 1-.9 1 .8 1 .4 1-.1 1 0 1-.1 1-.7 1 .7 1-.1 1 0 1 .2 1-.8 1 .9 1-.2 1 .1 1-.2 1 .1 1-.2 1 .3 1-.9 1 .8 1 .1 1 .1 1-1 1 .7 1 0 1 .1 1 .1 1-.7 1 .6 1 0 1 .1 1-.6 1 .6 1-.3 1-.2 1 .4 1-.1 1 .2 1-.1 1 .1 1 0 1 0 1-.1 1 .1 1-1.1 1 1 1 .1 1-.1 1 0 1-.2 1 .3 1-.1 1 .1 1 0 1 0 1 .1 1-.1 1-.1 1 .1 1-.2 1 .1 1 0 1 0 1-.1 1 0 1 .1 1-.2 1 .1 1 .2 1 0 1 0 1-.1 1 .1 1-.1 1-.2 1 .2 1-.2 1 .2 1-.1 1 .1 1-.1 1-.7 1 .6 1-.1 1-.5 1 .4 1 .2 1-.2 1 .4 1-.5 1 .1 1 .4 1-.1 1 .3 1-.1 1 0 1-.4 1-.6 1 1.1 1-.4 1 .3 1 .1 1-.4 1-.1 1 0 1 .1 1 .3 1 .1 1-.1 1-.2 1-.1 1 .3 1-.2 1 .2 1-.5 1-.3 1 0 1 .9 1 0 1-.3 1-.1 1 .1 1 .2 1 0 1 0 1 .1 1-.1 1-.5 1 .6 1-.2 1 .2 1-.3 1 .3 1-.6 1 .6 1-.5 1-.1 1 .5 1 0 1-.2 1 .1 1-.1 1 .2 1-.8 1 .7 1 0 1 .2 1 0 1-.1 1-.2 1 .2 1-.3 1 .2 1 .2 1-.6 1 .5 1-.1 1 .2 1-.2 1 0 1 .1 1-.1 1-.6 1 .6 1 0 1 .1 1-.2 1 .1 1-.1 1 .3 1-.1 1-.1 1-.6 1 .6 1-.1 1 .2 1 0 1 0 1 .1 1-.2 1 0 1 .2 1-.5 1-.1 1 .4 1-.3 1 .3 1 0 1 0 1-.1 1-.1 1 .4 1-.2 1-.1 1 .2 1-.3 1 .3 1-.2 1 .1 1-.9 1 .8 1 .1 1-.1 1 0 1 .3 1-.2 1 .1 1 0 1-.2 1-.5 1 .4 1-.6 1 0 1 .1 1-.4 1 0 1 .9 1-.2 1 .5 1-.1 1 .1 1-.4 1 .1 1 .4 1-.1 1-.2 1 .2 1 .1 1-.2 1 .2 1-.3 1 .2 1-.2 1 .1 1 .1 1-.6 1 .6 1-.5 1 .5 1 .1 1-.3 1 .3 1-.1 1-.2 1 0 1 .1 1-.1 1 .2 1-.1 1-.1 1 .2 1-.1 1-.1 1-1.2 1 .6 1 .2 1 0 1 .6 1 .1 1-.1 1-.1 1 0 1 .1 1 0 1-.6 1 .5 1-.8 1 .9 1-.5 1 .1 1 .5 1-.9 1 0 1 .6 1 .2 1-.1 1 .1 1-.1 1-.1 1 .1 1-.6 1 .7 1-.3 1 .1 1 .3 1-.2 1 0 1 0 1 .1 1 0 1-.3 1 .3 1-.2 1 0 1 .2 1-.1 1 0 1 .1 1 0 1-.4 1 .3 1 0 1 .1 1-.3 1 .1 1-.1 1 .3 1-.4 1 .4 1-.2 1 0 1 .2 1-.1 1-.2 1 .2 1 0 1 0 1 .2 1 0 1-.2 1 0 1-.2 1 .2 1-.1 1-.5 1 .7 1-.2 1-.7 1 .8 1 0 1-.2 1 .1 1 .3 1-.5 1-.1 1 .3 1-.7 1 .9 1 .1 1-.1 1-.1 1 .2 1-.1 1-.2 1 .1 1 0 1 0 1 .1 1 0 1 0 1-.1 1-1 1 .6 1-.2 1 .1 1 .4 1 0 1 0 1 .2 1-.6 1 .7 1-.2 1 0 1 0 1-.1 1 .2 1 0 1-.2 1 .2 1-.9 1 .7 1-.1 1-1.1 1 0 1 1 1 0 1-.1 1 .5 1-.3 1 .2 1 .2 1-.1 1 0 1 0 1 0 1-.1 1-.7 1 .8 1 0 1-.1 1 0 1 0 1 0 1-.5 1 .6 1-.5 1 .5 1-.2 1-.2 1 .3 1 0 1 .1 1-.1 1 0 1 0 1 .1 1-.1 1 .2 1-.1 1 .1 1-.3 1 .2 1 .1 1-.2 1-.2 1 .4 1-.9 1 .9 1 0 1-.7 1 .6 1-.3 1 .2 1-.1 1 .2 1-.2 1 0 1 .1 1 .1 1-.5 1 .5 1-.4 1-.7 1 .7 1 0 1-.2 1 .6 1 0 1-.8 1 .8 1-.1 1 .2 1 0 1-.1 1-.9 1 .9 1-.1 1 .1 1 0 1 .1 1-.1 1 .1 1-.1 1-.1 1 .1 1 0 1 .1 1-.1 1-.1 1-.2 1 .1 1 .3 1-.4 1 .1 1 .1 1 .2 1-.3 1 .2 1-.1 1-.1 1 .2 1-.2 1 .2 1-.4 1-.6 1 1 1-.1 1-.1 1 .1 1 .1 1 0 1-.3 1 .2 1 0 1-.3 1-.3 1-.1 1 .2 1 0 1 .1 1-.1 1 .6 1-.1 1-.1 1 0 1 .1 1 .2 1-.5 1 .3 1 .1 1 .1 1-.2 1-.2 1 .3 1-.3 1-.7 1 .8 1 .2 1-.2 1 0 1 .3 1-.2 1 .1 1 0 1-.1 1 .1 1-.1 1-.1 1 .1 1 .1 1-.1 1-.2 1 .2 1-.2 1 .2 1 .2 1-.2 1-.3 1 .5 1-.6 1 .3 1-.2 1-.9 1-.2 1 1.1 1-.1 1 0 1 .2 1 .1 1 .2 1-.2 1 .1 1 .1 1-.1 1 .2 1-.1 1-.8 1 .3 1-.3 1 .1 1 .1 1 .2 1 .1 1 0 1 .3 1-.1 1 .1 1 0 1 0 1 0 1 .1 1 0 1-.1 1-.2 1 .3 1-.2 1-.2 1 .2 1-.2 1 .3 1 0 1 .1 1-.3 1-.2 1 .5 1-.4 1 .3 1 0 1-.2 1 .2 1 .1 1-.1 1 0 1 0 1-.9 1 .6 1-.1 1 .3 1-.1 1-.7 1 .1 1 .6 1 .1 1 .1 1-.3 1 .2 1 .1 1-.2 1 0 1-.5 1 0 1 .5 1 .3 1-.2 1 .2 1-.1 1 .1 1-.1 1 0 1 .1 1 0 1 0 1-.3 1 0 1 .2 1 0 1-.1 1 0 1 0 1 0 1-.1 1 .2 1 .1 1 0 1-.6 1 .1 1 .5 1-.6 1 .4 1-.1 1-.1 1 0 1 .4 1-.3 1 0 1-.1 1 0 1-.7 1 .4 1-.2 1 .2 1 .2 1 .2 1 .3 1-.3 1 0 1 .2 1 0 1-.3 1 .1 1-.1 1 .3 1-.2 1 .1 1 .1 1-.1 1 0 1 0 1 0 1 0 1-.2 1-.5 1 .7 1-.4 1 .5 1-.1 1 .1 1-.2 1-.1 1-.3 1 .6 1 0 1-.1 1 .1 1 0 1 0 1 .1 1-.1 1 0 1-.3 1 .3 1 0 1 .1 1-.1 1-.7 1 .6 1 0 1 0 1 .1 1-.1 1 .1 1 0 1-.1 1-.2 1 .3 1-1 1 1.1 1-.2 1-.1 1-.1 1 .3 1-.7 1 .7 1-.3 1 .4 1-.3 1 .3 1-.1 1-.2 1 .2 1 0 1 .1 1-.1 1 .1 1 0 1-.2 1-.1 1-.3 1 .3 1 .2 1 0 1-1.1 1 .2 1 .7 1 0 1 .1 1 0 1 .1 1-.1 1-.2 1 .1 1 .1 1 .1 1-.1 1-.3 1 .3 1 .1 1 .1 1 0 1-.1 1 0 1 .1 1-.2 1 .2 1-.5 1 0 0 2.9-1 0-1 0-1 .3-1-.4-1 .8-1-.6-1 .2-1-.4-1 .1-1 .3-1-.4-1 .1-1 .6-1-.6-1-.1-1 0-1 .1-1 .9-1-.8-1 0-1-.2-1 .1-1-.1-1 .1-1 .1-1 .2-1 .2-1 0-1-.3-1-.2-1 .2-1-.2-1 .5-1-.5-1 0-1 0-1 0-1 .5-1-.6-1 .7-1-.7-1 .1-1 .2-1 .1-1-.3-1-.1-1 .1-1 0-1-.1-1 .2-1 0-1-.1-1 .5-1-.3-1 .1-1 0-1-.3-1 0-1 .1-1 .3-1-.3-1 .2-1-.1-1-.2-1 .1-1 .8-1-.8-1 0-1-.2-1 0-1 .2-1-.1-1 .4-1-.4-1 .6-1-.7-1 .2-1 0-1-.1-1 .1-1 .1-1 .1-1-.4-1 .3-1 0-1-.3-1 .2-1-.1-1 0-1-.1-1 0-1 .1-1-.1-1 0-1 .2-1 0-1 0-1 1-1-1-1-.1-1 .6-1-.6-1 .1-1 .1-1 1.3-1-.5-1-.5-1 .1-1-.2-1 0-1-.4-1 0-1 0-1-.1-1 .3-1-.2-1 .1-1-.1-1 .2-1-.2-1 0-1 .3-1-.2-1-.1-1 0-1 .8-1-.4-1 .7-1-1.1-1 0-1-.1-1 .2-1-.1-1 0-1 .1-1-.2-1 0-1 .1-1 0-1 .1-1-.2-1 .1-1 0-1-.1-1 .2-1 .8-1-1-1 .2-1-.2-1 1.1-1-1.1-1 .1-1 .2-1 .3-1-.3-1-.1-1-.1-1 0-1 .2-1 0-1-.2-1-.1-1 .1-1-.1-1 .4-1-.4-1 .2-1 .1-1-.2-1 .4-1-.4-1 .8-1-.9-1 0-1 1-1-.8-1-.1-1 0-1 .1-1-.1-1 .1-1 0-1-.2-1 .1-1 .7-1-.6-1-.1-1 0-1 .4-1-.5-1 .2-1-.1-1 .4-1-.2-1 0-1-.2-1-.1-1 0-1 .4-1-.2-1 .5-1-.5-1-.2-1 .5-1-.5-1 0-1 .5-1-.2-1 .1-1 .8-1-.5-1 .1-1 .5-1-.9-1-.1-1-.2-1 .1-1 .1-1-.2-1 0-1 0-1 0-1 0-1 0-1 0-1 0-1-.1-1 .1-1 0-1 0-1-.1-1 .1-1 0-1 0-1 .3-1-.2-1-.2-1 .2-1 .3-1 0-1-.1-1-.2-1-.1-1 .1-1 .5-1-.7-1 0-1 .3-1 .2-1-.5-1 .5-1-.4-1 .2-1 0-1 .8-1-.8-1 .2-1 .3-1-.2-1-.1-1-.1-1-.1-1 0-1-.2-1 .3-1-.3-1 .4-1-.5-1 .4-1 .5-1-.6-1-.2-1 0-1 .1-1 0-1 .1-1-.1-1 .3-1-.4-1 .1-1-.2-1 .1-1 .1-1-.2-1 .2-1 .4-1-.4-1 0-1-.2-1 .1-1 0-1 .2-1 0-1-.1-1 .1-1-.1-1-.1-1 0-1 .1-1 0-1-.2-1 .3-1-.2-1 0-1 0-1 0-1 0-1 .2-1 0-1 .2-1 .2-1 .4-1-.6-1-.1-1-.2-1-.2-1 .4-1 0-1-.3-1 .1-1-.1-1 .3-1 0-1-.2-1 .2-1 0-1-.3-1 .2-1-.3-1 .4-1-.1-1-.2-1 0-1 .1-1-.1-1 .1-1-.1-1 1.3-1-1.4-1 .1-1 .4-1-.4-1 .3-1 0-1 .2-1-.3-1-.3-1 0-1 .7-1-.5-1 1-1-1.2-1 .5-1-.4-1-.1-1 .2-1 .1-1-.3-1 .2-1-.2-1 .1-1 .1-1 0-1-.2-1 0-1 .8-1-.5-1-.2-1 .1-1 .4-1 0-1-.1-1-.1-1 0-1-.2-1 .5-1-.7-1 0-1 0-1 .1-1 .4-1-.5-1 .1-1 .1-1-.1-1 .2-1-.3-1 .2-1 .1-1 .7-1-.3-1 0-1-.4-1 0-1 0-1-.1-1 0-1 .4-1 .2-1-.7-1 .1-1-.2-1 .4-1-.1-1-.1-1-.2-1 .3-1 0-1-.2-1 .1-1 .7-1-.4-1-.4-1 .1-1-.2-1 0-1 .1-1 .3-1 0-1-.2-1-.2-1 0-1 0-1 .2-1-.2-1 .4-1-.3-1 .1-1 0-1-.1-1 .8-1-.8-1 0-1 .8-1-.3-1-.1-1-.4-1 .2-1 0-1-.2-1-.1-1 .3-1-.2-1 .1-1 .3-1-.5-1 .1-1 .4-1-.4-1 .1-1 .2-1 0-1-.3-1-.1-1 .1-1 0-1-.1-1 .3-1-.1-1-.2-1 .3-1 .1-1-.4-1 .1-1 .1-1 0-1 .1-1-.3-1 .2-1 .8-1-.9-1-.1-1 .5-1-.1-1-.2-1-.2-1 .5-1-.1-1-.2-1-.1-1 0-1-.1-1 .2-1-.2-1 .1-1 .2-1-.2-1 .2-1-.2-1 .2-1 .1-1 0-1 0-1-.1-1 0-1 0-1-.1-1 0-1 .1-1-.1-1 .2-1-.1-1 .1-1 .1-1-.5-1 .6-1-.6-1 .4-1-.4-1 .2-1-.1-1 .1-1 .8-1-.9-1 .1-1-.1-1 .2-1-.2-1 .1-1 0-1-.2-1 .1-1-.1-1 .1-1 0-1 .3-1 .4-1-.6-1 .1-1 .1-1 0-1 .6-1-.5-1-.2-1 .2-1 0-1-.3-1 .2-1-.2-1 .1-1-.2-1-.1-1 .1-1-.1-1 .5-1-.3-1-.2-1 0-1 .2-1-.2-1 .1-1 .3-1 .2-1-.3-1-.2-1 0-1 .2-1 0-1-.2-1 .2-1-.3-1 .2-1 0-1 .1-1-.3-1 0-1 .2-1 .6-1-.4-1-.3-1 0-1 .5-1-.3-1 .9-1-1.2-1 0-1 .2-1 .2-1-.3-1 .1-1 .4-1-.3-1-.2-1 .1-1-.1-1-.1-1 .2-1 .1-1-.2-1 .1-1 0-1 .1-1-.2-1 .1-1-.1-1 .1-1-.1-1 .6-1-.2-1-.3-1 .6-1-.5-1 0-1-.1-1 .1-1-.3-1 .2-1-.1-1 0-1 0-1 0-1 .8-1-.9-1 .1-1 .9-1-.7-1-.1-1-.1-1-.1-1 .1-1-.1-1 0-1 .2-1-.1-1 .5-1-.6-1 0-1 1.2-1-.4-1-.5-1-.3-1 .4-1 0-1-.3-1 .2-1-.2-1 0-1 0-1 0-1 .4-1-.1-1-.1-1 .3-1-.4-1 0-1 .1-1 .1-1-.1-1-.3-1 .1-1 0-1-.1-1 .8-1-.5-1-.3-1 .2-1 0-1-.1-1 .2-1-.1-1 0-1 .2-1 1.2-1-1.1-1 0-1-.3-1 0-1-.2-1 0-1 .1-1 .5-1-.5-1 .1-1-.1-1 .3-1 0-1-.2-1 .6-1-.8-1 .2-1-.1-1 .5-1-.5-1 0-1 0-1 .1-1-.2-1 .4-1-.4-1 .1-1 1.1-1-1-1-.2-1 0-1 .3-1-.3-1 .3-1 .1-1-.2-1-.1-1 .6-1-.7-1 0-1 .2-1-.2-1 0-1 .7-1-.4-1 0-1-.2-1 0-1 0-1 .4-1-.3-1-.1-1 .1-1 .3-1-.4-1-.1-1 .5-1-.3-1 0-1-.1-1 .1-1 .1-1-.3-1 0-1 .3-1-.1-1 .1-1 .2-1-.4-1 .1-1 0-1 0-1 0-1 .1-1-.2-1 .4-1-.1-1-.3-1 .1-1 .3-1-.5-1 .3-1-.2-1-.1-1 .8-1-.5-1-.2-1-.1-1 .2-1-.2-1 .3-1 0-1 .8-1-1.1-1 .8-1-.5-1-.1-1 .1-1-.3-1 .2-1 .2-1-.3-1 .2-1 0-1 .1-1-.2-1-.2-1 .2-1-.1-1 .1-1-.1-1 0-1 0-1 .1-1 0-1-.1-1 .1-1 .1-1 .2-1 .1-1 .1-1 .1-1 0-1-.3-1-.1-1 .3-1-.5-1 .1-1-.2-1 0-1 .3-1-.2-1 .2-1 .7-1-1.1-1 .3-1-.2-1 .8-1-.7-1-.2-1 .1-1 .3-1-.3-1 .1-1 .5-1-.7-1 .5-1 .7-1-1.2-1 .1-1-.1-1 .2-1 0-1-.1-1 0-1 0-1-.1-1 .2-1-.2-1 .1-1 0-1-.1-1 .2-1 .7-1-.8-1 .1-1-.2-1 .2-1 .9-1-.8-1 .8-1-.9-1-.1-1 .4-1-.4-1 0-1 0-1 .1-1-.1-1-.1-1 0-1 .4-1 .4-1-.7-1 .2-1-.2-1-.1-1 .1-1 .1-1 1-1-1-1 .2-1-.3-1 .3-1 .2-1 .5-1-.2-1 .3-1-.8-1-.2-1 .4-1-.4-1-.2-1 .2-1 .5-1-.4-1-.2-1 .1-1-.2-1 0-1 0Z"/>
<path fill="#000000" d="M138.5 449.9l1 0 1-.1 1 .1 1 .1 1-.2 1 .1 1-.2 1 .3 1-.1 1 .1 1-.1 1 0 1-.3 1 .3 1 .1 1 0 1 0 1-.6 1 .4 1 .1 1 0 1-.1 1 .2 1 0 1-.2 1 .2 1 0 1-.5 1 .3 1 .2 1-.2 1 .2 1-.1 1 0 1-.1 1 0 1-.1 1 .3 1 0 1-.3 1 .2 1 0 1-.6 1 .5 1-.2 1 .3 1-.9 1 .5 1-.5 1 0 1 .7 1-.5 1 .8 1-.2 1 0 1 .2 1-.1 1-1 1-.2 1 .5 1 .6 1-.2 1 .2 1 .2 1-.1 1-.3 1 .4 1-.2 1 .1 1 .1 1-.3 1 .1 1 .1 1-.2 1-.8 1 .7 1-.3 1 0 1 .1 1 0 1 0 1 .2 1-.1 1 .2 1 0 1-.5 1 .3 1 .4 1 .1 1 0 1-.9 1 .8 1-.2 1 .3 1-.1 1 .1 1-.1 1-.6 1 .6 1-.2 1 .3 1-.1 1-.7 1 .7 1-.1 1 0 1-.1 1-.1 1 .3 1-.7 1 .8 1-.2 1-.2 1-.2 1 .3 1 .3 1-.4 1 .3 1-.3 1 0 1 .1 1 0 1 0 1-.1 1 .3 1-.3 1 .3 1-.2 1 .2 1-.3 1 .3 1-.3 1 .1 1 .3 1-.5 1 .3 1 .1 1-.3 1-.6 1 .8 1 .1 1-.5 1 .6 1-1.1 1 1.1 1 0 1-.1 1-.1 1 .1 1 .1 1-.1 1 0 1-.1 1 0 1 .2 1 0 1-.1 1-.2 1-.6 1 .7 1 .2 1-.3 1-.4 1 .7 1-.2 1 .1 1 0 1-.3 1 .2 1 .1 1-.3 1 .4 1 0 1 0 1-.2 1 .2 1 0 1-.3 1 .3 1 0 1-.2 1 0 1 .2 1 0 1-.1 1 .1 1-.3 1-.4 1 .1 1-.1 1 0 1 .1 1-.4 1 .7 1 .2 1-.1 1 .1 1-.4 1 .2 1 .3 1 0 1-.2 1 .1 1-.1 1 .1 1 0 1 .1 1-.1 1-.1 1-.5 1 .5 1-.1 1 .2 1 0 1 0 1-.1 1 .2 1-.2 1-.1 1-.2 1 .2 1-.6 1 .1 1 .2 1 0 1 .1 1 .1 1 .1 1 .3 1-.1 1-.9 1 1 1-.1 1 .1 1-.1 1 .1 1-.1 1 0 1 .1 1-.9 1 .8 1-.9 1 .9 1-.5 1 .5 1-.1 1-.1 1 0 1 .2 1 .1 1-.2 1 0 1 .2 1-.1 1 0 1-.1 1 .2 1-.8 1 .6 1 .2 1-.3 1 .2 1-.1 1-.2 1 .1 1 0 1 .2 1-.5 1 .4 1-.2 1 .2 1-.1 1-.4 1 .7 1-.2 1 0 1 .2 1-.1 1-.1 1-.1 1 .3 1-.1 1 .1 1-.2 1-.5 1 .5 1 .2 1-.2 1-.1 1 .1 1-.1 1 0 1 .1 1-.8 1 .8 1 0 1-.3 1-.2 1 .5 1-.1 1 0 1 .2 1-.3 1-.4 1 .3 1 .3 1-.1 1 0 1-1.1 1 .4 1 .1 1 .2 1 .1 1 .2 1-.3 1 .7 1-.2 1 0 1 .1 1 0 1 0 1 0 1 .1 1-.2 1 .2 1-.3 1 .1 1 .2 1-.1 1 0 1 .1 1-.5 1 .5 1-.1 1 .1 1-.2 1-.4 1 .4 1 0 1 .2 1 0 1-.2 1-.3 1 .1 1-.2 1-.7 1 .4 1 .1 1 .2 1 .4 1 0 1 .1 1-.1 1 .1 1 0 1-.3 1-.4 1 .7 1 0 1-.1 1 0 1 .2 1-.1 1-.2 1-.3 1 0 1-.5 1 1 1-.1 1-.1 1 .2 1 0 1 .1 1-.6 1 .6 1-.5 1-.5 1 .8 1-.2 1 .3 1-.2 1 0 1 .3 1 0 1-.2 1-.1 1 .1 1-.2 1 .3 1 0 1-.2 1-.3 1 .4 1 .2 1 0 1-.2 1 .2 1 0 1-.2 1 .1 1 0 1-.1 1 0 1 .1 1 0 1-.9 1 .8 1-.2 1 .3 1-.2 1 .1 1 0 1 .1 1 0 1-.1 1 0 1-.4 1-.1 1 0 1 .7 1-.2 1 0 1 .1 1-.2 1 .1 1 .1 1-.3 1 .3 1-.2 1-.3 1-.7 1 1.2 1 .1 1-.2 1 .2 1-.1 1 .1 1-.1 1 0 1 .1 1-.2 1-.2 1 .1 1-.1 1 .3 1 .1 1-.1 1-.2 1-.3 1 .4 1-.2 1 .1 1 .2 1 0 1 .1 1-.2 1 .1 1-.1 1 0 1 .1 1-.2 1 .2 1 .1 1-.7 1 .6 1-.2 1 .2 1 0 1-.1 1 .1 1 0 1-.1 1 .1 1-.2 1 .3 1-.3 1 .3 1-.3 1 .2 1 0 1-.1 1-.7 1 .7 1-.1 1-.1 1 .4 1-.1 1-.2 1 0 1 .2 1-.2 1 .2 1-.7 1 .7 1 0 1 0 1 .1 1-.1 1 .1 1-.1 1 .1 1-.7 1 .1 1 .2 1 .2 1 0 1-.1 1-.2 1 .1 1 0 1-.3 1 .1 1 .4 1 .1 1 0 1 0 1-.8 1 .7 1 .1 1-.1 1 .2 1-.1 1-.6 1 .7 1-.8 1 .7 1 0 1 0 1 .1 1-.1 1-.2 1-.2 1 0 1 .1 1 0 1 .2 1 .1 1 0 1-.4 1 .5 1-.3 1 .3 1-.1 1-.6 1 .6 1-.3 1-.2 1 0 1-.1 1 .5 1-.2 1-.2 1 .6 1-.2 1-.3 1-.3 1 .7 1 .1 1-.1 1 .1 1 0 1-.1 1 .1 1 0 1-.1 1 .1 1-.1 1 0 1 .1 1 0 1-.2 1 0 1 .1 1 .1 1-.2 1 .2 1-.3 1 .1 1 0 1 .1 1 0 1 0 1 .1 1 0 1-.3 1 .2 1-.4 1 .3 1 .2 1-.1 1-.5 1 .6 1-.6 1 .3 1 .2 1 0 1 .1 1-.2 1 0 1-.3 1 .4 1 .1 1-.3 1 .2 1 0 1-.6 1 .4 1 .2 1-.2 1 .3 1-.1 1 0 1 .1 1-.1 1 .1 1 0 1-.4 1 .3 1 .1 1 0 1-.7 1 .5 1 .1 1-.1 1 0 1-.2 1-.3 1 .7 1 0 1 0 1 0 1-.2 1 0 1-.5 1 .7 1-.1 1-.2 1 .3 1 0 1 0 1-.2 1 .2 1-.1 1-.2 1 .2 1 0 1-.7 1 .6 1-.7 1 .8 1-.1 1 .1 1 0 1 .1 1-.1 1 .1 1-.4 1 .3 1 .1 1-.3 1 .2 1 .1 1-.1 1 0 1 0 1 .1 1-.3 1 .3 1-.1 1-.1 1-.1 1 .2 1-.6 1 .6 1 .1 1-.7 1 .5 1-.8 1 .8 1 .1 1-.1 1 .2 1-.1 1-.1 1 .2 1 0 1-.3 1-.2 1 .4 1-.1 1 .1 1 .1 1-.5 1 .4 1-.1 1 .2 1-.3 1 .3 1 0 1-.1 1 .1 1 0 1-.2 1 0 1 .2 1-.4 1 0 1 .1 1 .2 1 .1 1-.1 1-.1 1-.2 1-.2 1 0 1-.3 1 .3 1-.1 1 .7 1-1.1 1 .6 1 .4 1 0 1-.1 1 .1 1 .1 1-.1 1-.3 1 .3 1 .1 1-.2 1-.1 1 .1 1-.1 1 0 1 0 1 .2 1 0 1-.4 1 .2 1 .1 1 .1 1 .1 1 0 1-.3 1 .3 1-.4 1 .2 1-.3 1 .4 1 .1 1-.2 1-.9 1 1 1 0 1-.2 1 .3 1-.1 1-.1 1 .2 1 0 1 0 1-.4 1 .2 1 .1 1 0 1 0 1-.8 1 .5 1 0 1-.1 1 .1 1 0 1-.1 1 .1 1 .2 1-.6 1 .8 1-.2 1 .2 1-.3 1 .2 1-.2 1 .2 1 .1 1 0 1 0 1-.7 1 .5 1 .2 1-.2 1 0 1-.2 1 .4 1-.1 1-.1 1 .1 1-.1 1-.3 1 .5 1 0 1-.9 1 .8 1 .1 1-.2 1 .2 1-.5 1 .4 1-.8 1 .9 1-.1 1 0 1-.1 1-.2 1 .4 1-.1 1-.3 1 .3 1 0 1 .1 1-.3 1 .2 1 0 1 0 1-.5 1 .6 1-.3 1 .3 1-.2 1 .2 1 0 1-.3 1 0 1 .2 1-.2 1 0 1 .1 1-.1 1 .3 1 0 1 0 1-.1 1 .1 1 0 1-.4 1 .2 1 .2 1-.2 1-.3 1 .5 1-.1 1 0 1-.2 1-.9 1 1 1 0 1 .1 1 0 1 0 1-.8 1-.1 1 1 1-.1 1 0 1 0 1-.4 1 .3 1 0 1-.8 1 .7 1 .3 1-.1 1 0 1 0 0 2.6-1 0-1 0-1-.1-1 .6-1-.5-1 .2-1-.2-1-.2-1 1-1-.2-1-.7-1 .2-1 .3-1-.5-1 0-1 .3-1 .2-1-.4-1 .3-1-.3-1-.1-1 0-1 .2-1 0-1-.3-1 .5-1-.3-1 .1-1-.2-1-.1-1 .4-1-.4-1 .1-1 .1-1 0-1 0-1-.1-1 .1-1-.1-1 .5-1-.1-1 .3-1-.7-1 .4-1-.2-1-.2-1 0-1 .1-1 0-1-.1-1 0-1 0-1 .7-1-.5-1-.2-1-.1-1 .1-1 .2-1 .4-1-.3-1 .8-1-1.1-1 .1-1-.1-1 0-1 .2-1 .1-1-.1-1-.1-1 0-1-.2-1 .1-1 .2-1-.2-1 0-1 .2-1 .3-1-.5-1 0-1 0-1-.1-1 .1-1 0-1 .4-1-.4-1 0-1 0-1 .4-1 .3-1-.7-1 0-1 .2-1-.1-1-.1-1 .1-1 .3-1 .5-1-.8-1 .2-1 .2-1 0-1 0-1 0-1-.2-1-.1-1 .2-1-.2-1-.1-1 .1-1-.1-1-.1-1 0-1 .1-1-.1-1 .1-1 0-1-.1-1 .2-1 0-1-.2-1 .5-1-.5-1 0-1 .2-1-.2-1 0-1 .1-1 .5-1 .1-1-.5-1-.2-1 .4-1-.5-1 .3-1-.2-1 0-1 .3-1-.3-1 .3-1 0-1-.3-1 .1-1 0-1 0-1 .1-1-.1-1 .5-1-.5-1-.1-1-.1-1 .1-1 0-1 0-1 0-1 .1-1 .3-1-.1-1 .2-1 0-1-.1-1-.2-1 0-1-.2-1 .4-1-.4-1 .1-1 .1-1-.1-1 .1-1 .5-1-.3-1 .3-1 0-1-.7-1 .3-1-.2-1-.1-1 .1-1-.1-1 0-1 .1-1 0-1 0-1-.1-1 .2-1 0-1-.2-1 .4-1 .3-1-.7-1 0-1 .1-1 .1-1-.2-1 .1-1 0-1-.1-1 .4-1-.3-1 .1-1-.1-1 0-1-.1-1 0-1 .2-1-.1-1 .8-1-.9-1 1.1-1-.8-1 .1-1-.5-1 .1-1-.1-1 .2-1 0-1 0-1-.1-1 .1-1-.1-1-.1-1 .3-1-.2-1 0-1 0-1 0-1 0-1 .1-1 0-1-.1-1 .2-1-.2-1 0-1 .1-1 0-1-.1-1 0-1 .9-1-.8-1-.2-1 .1-1 .1-1 0-1 .1-1-.1-1-.1-1 0-1 .1-1 .3-1-.3-1 .1-1-.3-1 .3-1-.1-1 .3-1-.2-1 .2-1-.3-1 0-1 .2-1-.1-1-.2-1 .5-1-.6-1 .3-1 .3-1-.5-1 .2-1-.2-1 .6-1 .4-1-1-1 0-1 .3-1-.3-1 0-1 0-1 .2-1-.2-1 0-1 0-1 0-1 0-1 .1-1 0-1 .4-1-.6-1 .2-1-.1-1 .3-1-.4-1 .1-1 .1-1-.1-1 .5-1-.4-1-.1-1 0-1 0-1 .2-1 0-1-.1-1 .5-1-.1-1 .4-1-.8-1 .1-1 .9-1-1-1 .1-1-.2-1 0-1 0-1 .1-1-.1-1 .3-1-.2-1 .3-1-.4-1 .1-1 .2-1-.2-1 0-1 .1-1 0-1 .2-1-.1-1 0-1 .5-1-.6-1-.1-1-.1-1 .2-1 0-1-.2-1 .1-1-.1-1 .4-1-.3-1 .3-1 .3-1-.1-1-.2-1 0-1-.3-1 .4-1-.5-1 1.2-1-1-1-.1-1-.1-1 0-1 .1-1-.1-1 .4-1-.1-1-.3-1 0-1 .4-1-.4-1 0-1 .6-1-.1-1-.4-1 .3-1-.4-1 0-1 0-1 .1-1 0-1 .1-1-.2-1 .1-1 .1-1-.1-1 .1-1-.1-1-.2-1 .2-1-.1-1 .4-1-.5-1 .5-1-.4-1 .1-1 0-1 .7-1-.8-1 .9-1-.5-1-.4-1 .2-1 0-1 0-1 0-1 .1-1-.4-1 .1-1 .3-1-.3-1 .8-1-.6-1-.3-1 .1-1 .4-1-.2-1 1.1-1-1.1-1 .4-1-.5-1 .5-1-.3-1-.1-1-.2-1 .1-1 .1-1-.3-1 .5-1-.4-1 .2-1-.2-1-.1-1 .3-1-.2-1 .2-1-.1-1-.2-1 .5-1-.4-1 .2-1-.2-1 0-1 0-1 0-1 .7-1-.5-1-.2-1 0-1 .1-1 .7-1-.7-1 0-1 .2-1-.2-1 .1-1-.1-1-.2-1 .2-1 0-1 0-1 .2-1-.3-1 .3-1-.2-1 .1-1 0-1-.3-1 .4-1-.1-1 .4-1-.4-1-.2-1 0-1 .2-1-.2-1 0-1 .4-1-.4-1 0-1 .1-1 .3-1-.3-1 .5-1-.6-1 .4-1-.3-1-.1-1 .1-1-.1-1 .1-1-.1-1 .3-1-.1-1-.2-1 .2-1-.1-1 .7-1-.1-1-.7-1 .3-1-.3-1 .2-1-.2-1 0-1 0-1 .6-1-.5-1-.2-1 .2-1-.1-1 0-1 .3-1-.3-1 0-1 .3-1 .5-1-.6-1-.1-1 0-1 .1-1-.2-1 0-1 .6-1-.5-1 .2-1-.4-1 .1-1 .2-1-.1-1 .2-1-.3-1 .2-1 .1-1 .5-1-.3-1 .4-1-.3-1-.1-1 .1-1-.4-1 .1-1-.2-1 .5-1-.5-1 .1-1 0-1-.1-1 .1-1 0-1-.2-1 .1-1 .1-1-.2-1 0-1-.1-1 .1-1 .2-1-.2-1 .1-1-.1-1 0-1 .1-1 .8-1-.7-1-.1-1 .2-1 .2-1-.4-1 .2-1-.1-1 .8-1-.6-1 .9-1-.8-1-.2-1-.2-1 0-1 .1-1 .4-1 0-1 .1-1-.6-1-.1-1 .1-1 .5-1-.7-1 .2-1-.1-1-.1-1 0-1 .4-1 .2-1 .1-1-.5-1-.2-1 .1-1 .1-1-.1-1 0-1 .9-1-.1-1-.8-1 0-1 .2-1 .2-1-.2-1-.2-1 .3-1-.3-1 .1-1 0-1 0-1-.1-1 0-1 0-1 .1-1 .1-1-.2-1 .2-1-.3-1 .3-1 0-1 .3-1-.4-1-.1-1 .3-1-.3-1 .1-1-.1-1 .4-1-.2-1-.2-1 .1-1 1.2-1-1.2-1-.1-1 .3-1-.1-1-.2-1 .1-1 0-1-.1-1 0-1 .7-1-.6-1 .1-1-.2-1 .5-1-.4-1 .3-1-.2-1 .1-1-.3-1 .3-1-.2-1-.1-1 .1-1 .2-1 .1-1 0-1 0-1 .2-1-.3-1-.1-1-.1-1 0-1-.1-1 .2-1 .2-1 .1-1-.4-1 0-1 .1-1 0-1-.1-1 0-1-.1-1 .2-1-.1-1 .6-1-.6-1 .1-1-.2-1 0-1 1-1-.9-1 .2-1 .5-1-.7-1 0-1 .4-1 0-1 .1-1-.1-1 0-1-.4-1 .2-1-.1-1-.1-1 .2-1-.3-1 0-1 0-1-.1-1 .2-1 0-1 0-1 0-1 .1-1-.2-1 .2-1 .2-1-.3-1 .2-1-.1-1-.3-1 .2-1 0-1 0-1 .7-1 0-1-.3-1-.4-1 0-1-.1-1 .3-1-.3-1 0-1 .2-1-.2-1-.1-1 .2-1 0-1 .7-1-.8-1 .1-1 .9-1-.2-1-.7-1-.1-1 .5-1-.5-1 0-1 .3-1-.3-1 0-1 0-1 .1-1 .1-1 0-1-.2-1 .1-1 .4-1 .1-1-.7-1 .1-1 .4-1 .4-1-.6-1 0-1 .1-1 0-1 .1-1 .2-1 0-1-.4-1-.1-1 .2-1 0-1 0-1-.1-1-.2-1-.1-1 .1-1 .3-1-.2-1 0-1-.1-1 .8-1-.7-1-.1-1 .5-1-.5-1 .2-1-.3-1 .3-1 .1-1-.3-1 0-1 .5-1-.5-1 .5-1-.5-1 .2-1-.1-1-.1-1 0-1 .1-1 0-1 0-1 0-1 .2-1 .1-1 .1-1-.2-1 0-1-.1-1 0-1 0-1 .4-1-.7-1 .2-1 .1-1-.1-1 .1-1-.2-1 .1-1-.1-1 0-1 0-1 0-1 .4-1-.2-1 .2-1 .1-1 0-1-.3-1 .8-1-.8-1 .1-1-.3-1 .9-1-.2-1-.4-1 .1-1-.4-1 .1-1 0-1 .6-1-.6-1 0-1-.1-1 .3-1-.1-1-.3-1 .4-1-.2-1 .3-1-.4-1 0-1 .2-1-.1-1 0-1-.1-1 0-1 0-1 .2-1-.1-1 0-1 0-1-.1-1 0-1 .8-1-.8-1 0-1 .1-1 .1-1-.2-1 .5-1-.4-1 .1-1-.3-1 1.1-1-.8-1 .6-1-.8-1 0-1 .4-1-.5-1 0-1 0-1 .4-1-.2-1 0Z"/>
<path fill="#ff0000" d="M138.5 481.2l1 0 1-.1 1 .3 1 0 1 0 1-.7 1-.1 1 .9 1 0 1-.1 1-.7 1 .8 1-.2 1 .2 1-.1 1-.5 1 .4 1 0 1 .1 1 0 1-.2 1 .1 1-.3 1 .5 1-.2 1 .3 1-.1 1-.2 1 .2 1-.6 1 .5 1-.1 1 .1 1 .1 1 0 1-.1 1-.2 1 .1 1-.5 1 .3 1 .3 1-.2 1 0 1 .1 1 .3 1-1.1 1 .9 1-.3 1-.2 1 0 1 .1 1-.6 1 .6 1 .4 1 .1 1-.1 1-.7 1 .6 1-.6 1 .5 1-.2 1 .1 1 .1 1 .1 1 0 1-.3 1 .3 1 .3 1-.1 1-.5 1 .5 1-.3 1 .1 1-.3 1 .6 1-.1 1 0 1-.1 1 .1 1-.1 1-.1 1 0 1 0 1-.2 1 .4 1-.5 1 .5 1-.6 1 .4 1 0 1-.1 1 .2 1-.2 1 .3 1 .1 1-.1 1-.3 1 .1 1 0 1 .2 1-.4 1 .2 1 0 1 .2 1 0 1 0 1-.2 1 0 1 .2 1-.1 1-.1 1 .2 1 0 1-.2 1 .1 1-.1 1 .2 1-.1 1 .1 1-.1 1 .2 1-.1 1 0 1 0 1-.2 1 0 1 0 1 .2 1 .1 1 0 1-.4 1 .2 1 0 1-.1 1 .1 1 .1 1 .1 1-.1 1 0 1-.2 1 .2 1 0 1-.2 1 .1 1-.2 1 .2 1 .1 1 0 1-.7 1 .6 1 0 1-.1 1-.1 1-.2 1 .5 1-.1 1 0 1 .1 1 0 1 .1 1-.4 1 .2 1-.5 1 .3 1-.4 1 .2 1 .2 1 0 1 .3 1-.1 1 .1 1-.1 1-.1 1 .2 1 0 1 0 1-.1 1 .1 1-.2 1 .1 1-.4 1 .5 1-.3 1-.3 1 .5 1-.8 1 .9 1-.3 1 0 1 .2 1-.3 1 .4 1 0 1-.6 1 .2 1 .2 1 .1 1-.1 1 .1 1 0 1-.1 1 .2 1-.2 1 .2 1-.4 1 .5 1-.1 1 .1 1-.4 1 .3 1-.1 1 .1 1-.2 1 .1 1-.1 1-.8 1 1 1-.5 1 .4 1-.1 1 0 1 .1 1 .1 1-.1 1 .1 1-1 1 1 1 0 1 0 1 0 1-1.1 1 .9 1 .3 1-.1 1-.2 1 .2 1-.1 1 .1 1-.1 1-.2 1-.4 1 .3 1 .2 1-.3 1 .5 1-.2 1 .2 1-.2 1-.4 1 .5 1-.1 1 0 1-.1 1 .2 1 .1 1 0 1 0 1 0 1-.5 1 .3 1 0 1-.3 1 .3 1 0 1-.2 1 .3 1 0 1-.5 1 .4 1 .3 1-.7 1 .5 1-.1 1-.3 1 .2 1-.2 1-.1 1-.1 1 .4 1 .1 1 .2 1-.2 1 .2 1-.2 1 0 1 .2 1-.1 1 0 1-.7 1 .7 1-.5 1 .5 1 .1 1 0 1-.1 1-.2 1-.6 1 .6 1 .2 1 .1 1-.6 1 .7 1 0 1-.2 1 .1 1 0 1-.2 1 .3 1-.8 1 .5 1 0 1 0 1 0 1 .1 1 .1 1-.3 1 .1 1-.2 1 .4 1 0 1-1 1 1 1 0 1-.4 1 .4 1-.1 1-1.1 1 1.3 1-.1 1 .1 1-.5 1 .1 1-.2 1 .3 1 .2 1-.1 1-.1 1 0 1-.2 1-.7 1 .4 1 .2 1 .1 1-.1 1-.2 1 .5 1 .1 1 .1 1-.1 1 .1 1-.1 1 .1 1-.1 1 0 1-.1 1 .2 1-.1 1-.3 1 .4 1 .1 1-.1 1-.2 1 .1 1-.2 1 .3 1 0 1 0 1-.1 1 0 1-.1 1-.2 1 .3 1 0 1 .1 1-.4 1-.3 1 .6 1 .1 1 0 1-.2 1-.5 1 .6 1-.4 1 .5 1-.2 1-.3 1-.2 1 .7 1-.1 1 .1 1-.2 1 0 1 .2 1-.3 1 0 1-.3 1-.2 1 .1 1 .3 1 .2 1 .1 1-.2 1 .3 1-.3 1 .2 1-.1 1 .1 1 0 1-.1 1 .3 1-.4 1 .4 1-1 1 .7 1-.3 1 .5 1-.2 1 0 1 .3 1-.2 1-.1 1 0 1-.2 1-.1 1 .2 1 0 1 0 1 .3 1-.1 1-.2 1 .1 1 .3 1-.1 1 0 1 .1 1-1 1 .9 1-.1 1-.6 1 .5 1 .1 1-.2 1 .4 1-.1 1 .1 1-.3 1 0 1 0 1-.1 1-.4 1 .3 1 .3 1 .1 1-.2 1-.2 1 .3 1-.1 1-.2 1 .4 1-.3 1 .4 1-.2 1-.6 1 .3 1-.6 1 1 1 .2 1-.2 1-.2 1 0 1-.1 1 .3 1 .1 1-.3 1-.1 1 0 1-.3 1 .7 1 .1 1-.7 1 0 1 .3 1 0 1 0 1 .4 1-.3 1-.1 1 0 1 0 1 .1 1 .3 1-.3 1-.1 1-.1 1 0 1 .2 1 .4 1-.8 1 .2 1-.3 1-.1 1 .6 1 .3 1-.2 1-.4 1-.2 1 .4 1 .2 1 .1 1-.1 1-.2 1 0 1-.1 1 .2 1-.7 1 .8 1-.2 1 0 1 .1 1-.3 1 .4 1 0 1-.2 1 .2 1-.1 1-.2 1 .1 1 0 1 0 1 .2 1 0 1-.2 1-.3 1 .4 1 .1 1-.2 1 .2 1-.3 1 .3 1-.1 1-.3 1 .5 1-.2 1-.2 1 .2 1-.7 1 .7 1 .1 1-.3 1 .2 1-.2 1 .3 1 0 1 0 1-.1 1 0 1-.5 1-.2 1 .8 1-.4 1 .4 1-.4 1 .5 1-.3 1 .2 1 0 1-.6 1 .4 1 .3 1-.4 1-.1 1 .4 1-.3 1-.6 1-.1 1 .2 1 0 1 .6 1 .1 1-.1 1-.3 1 .5 1 0 1-.2 1-.2 1 0 1 .3 1 .2 1-.2 1 .2 1 0 1-.1 1-.6 1 .5 1-.4 1 0 1-.1 1 .6 1-.1 1 .2 1-.1 1-.3 1 .1 1 .1 1 0 1 .1 1 .1 1-.5 1 .3 1 0 1-.3 1 .4 1-.2 1 .2 1-.2 1-.2 1 .4 1 0 1-.2 1 .1 1-.8 1 .2 1-.2 1 .5 1 .2 1 .2 1-.3 1 .1 1 .2 1 0 1 0 1-.1 1-.3 1 .4 1-.5 1 .2 1 .1 1-.1 1 .2 1 0 1 0 1 0 1 0 1 .1 1-.5 1 .4 1-.1 1-.1 1 .2 1 .2 1-.4 1 .3 1 0 1 .1 1-1.1 1 1.1 1-.4 1 .1 1-.8 1 1 1-.1 1 .1 1-.1 1 .1 1-.1 1-.2 1 .3 1-.2 1 .2 1-.2 1 0 1 .2 1 0 1 .1 1-.2 1-.4 1 .6 1-.3 1 0 1-.1 1 .1 1 .1 1 .1 1 0 1 0 1-.2 1 0 1 .1 1 .1 1-.1 1 0 1-.1 1-.5 1 0 1 .5 1-.2 1-.1 1 .3 1 0 1 .2 1 0 1-.3 1 .1 1 0 1-.2 1 .2 1 .1 1-.7 1 .4 1-.1 1 .4 1-.2 1 .1 1 .1 1-.2 1 .4 1-.4 1-.3 1 .5 1 0 1 .1 1-.3 1 .3 1-.2 1 0 1 .2 1-.2 1 0 1 .2 1 0 1 0 1 0 1-.1 1-.5 1 .1 1-.4 1 .9 1 0 1-.2 1 .1 1-.2 1-.2 1 .5 1-.6 1 .3 1-.1 1 .4 1 0 1-.6 1 .5 1 0 1 .1 1 0 1 .1 1-1 1 .9 1-.3 1 .2 1 .1 1 .1 1-.3 1 .2 1 0 1 .1 1-.2 1-.1 1-.1 1 .1 1-.7 1 .6 1 .4 1 0 1-.7 1 .6 1-.2 1-.6 1 .4 1 0 1 .5 1 0 1-.2 1 0 1 .1 1 0 1-.1 1 0 1 0 1-.3 1 .1 1 .3 1-.2 1-.1 1 .2 1 .1 1 0 1-.3 1 .2 1 0 1 0 1 .1 1-.2 1 .1 1-.1 1 .1 1-.8 1 .8 1 .1 1 0 1-.3 1 .3 1 0 1 .1 1-.7 1 .6 1 0 1-.3 1 .3 1 0 1-.1 1 0 1 .1 1 0 1-.2 1 .1 1-.1 1 .3 1-.2 1 .1 1 0 1-.1 1-.4 1 .5 1-.9 1 1 1-.4 1 .3 1-.3 1-.1 1 .3 1 .1 1-.4 1-.1 1 .2 1 .4 1-.1 1-.1 1 .1 1 0 1 0 1 0 1 0 1-.1 1-.1 1 .1 1-.1 1 0 1 0 1-1 1 .4 1 .6 1 .1 1 0 1-.1 1-.1 1 .2 1-.5 1 .7 1-.1 1-.3 1 .1 1 .2 1-.3 1 .1 1 0 0 2.7-1 0-1 0-1 .2-1 .1-1-.1-1-.2-1 .3-1-.3-1 .4-1-.3-1-.2-1 .4-1-.4-1 .2-1-.1-1 .1-1-.1-1 .1-1-.2-1 .3-1-.1-1 .4-1-.2-1-.1-1 .7-1-1-1 0-1 .3-1 .6-1-.6-1-.3-1 .1-1-.1-1 .5-1-.4-1 .8-1-.3-1-.5-1-.1-1 .1-1-.1-1 0-1 .3-1 .1-1 0-1-.2-1 .1-1-.1-1 .2-1-.4-1 .6-1-.4-1 0-1 .1-1-.2-1 .4-1-.3-1 .6-1-.8-1 0-1 .2-1-.1-1 .1-1-.2-1 0-1 .3-1 .1-1-.3-1 .6-1-.7-1 0-1 0-1 .1-1 .1-1 .2-1-.1-1-.2-1 0-1 .1-1-.2-1 .2-1-.2-1 .2-1-.2-1 0-1 .2-1 .3-1-.3-1 .2-1-.4-1 .1-1 0-1 .2-1-.2-1 .2-1 .5-1-.8-1 0-1 .1-1 .8-1-.8-1 0-1 0-1 0-1-.1-1 0-1 0-1 .2-1 0-1 .2-1 .4-1-.6-1-.1-1 .2-1-.2-1 .7-1-.6-1-.1-1-.1-1 0-1 .3-1 0-1-.3-1 .2-1-.2-1 .1-1 0-1 .2-1-.3-1 0-1 0-1 .1-1 0-1 .1-1 .3-1-.3-1-.2-1 .4-1 .4-1-.3-1 .3-1-.8-1 .1-1-.1-1 .2-1-.1-1 .1-1-.1-1 .7-1-.8-1 .2-1-.2-1 .2-1-.2-1 .1-1-.1-1 .2-1-.2-1 0-1 0-1 .1-1-.1-1 .2-1 0-1 .8-1-.9-1 .2-1-.3-1 .1-1 .2-1-.2-1-.1-1 .4-1-.3-1 .3-1-.3-1 .2-1-.1-1 .2-1-.1-1-.1-1 .2-1-.2-1-.1-1 0-1 0-1 .1-1 0-1 .4-1 .1-1-.6-1-.1-1 0-1 .3-1 .1-1-.4-1 .1-1 0-1 .1-1-.1-1-.1-1 .2-1 0-1 .1-1-.2-1 .9-1-.8-1 .4-1-.6-1 0-1 .1-1 .2-1-.3-1 .2-1 0-1-.2-1 .1-1 0-1-.1-1 0-1 0-1 .1-1 0-1 0-1 .2-1-.2-1 0-1-.1-1 0-1 .1-1 .2-1-.2-1 .4-1-.3-1 0-1 .9-1-.5-1-.2-1 .1-1-.2-1-.1-1-.1-1-.1-1 .2-1-.1-1 .1-1 .1-1-.3-1 .2-1 .4-1 1-1-1-1-.3-1 .1-1-.2-1-.1-1 .2-1-.2-1-.1-1 .9-1-.9-1 .1-1 .2-1-.3-1 0-1 .7-1-.6-1 .1-1 0-1 .7-1-.8-1-.1-1 .1-1 .2-1-.2-1 .6-1-.3-1 .1-1-.5-1 0-1 .3-1-.1-1 0-1 .1-1 0-1 0-1-.2-1 .1-1-.2-1 0-1 .1-1 0-1-.1-1 1.2-1-1-1 .3-1 .1-1 .4-1 .4-1-.5-1-.5-1-.1-1-.2-1 .1-1-.2-1 .2-1-.1-1 .1-1 .3-1-.5-1 .2-1 .1-1-.1-1-.1-1 .2-1 .2-1 .5-1-.7-1-.2-1-.1-1 .2-1-.1-1-.1-1 .2-1-.1-1-.1-1 0-1 .1-1 .6-1-.5-1-.2-1 .2-1-.1-1 .1-1 .3-1 .3-1 .2-1-.9-1 .1-1 0-1-.1-1 .1-1-.2-1 .1-1 0-1-.1-1 0-1 .2-1-.1-1 .7-1-.2-1-.6-1 1-1-.7-1-.2-1 .1-1-.1-1 0-1 .1-1 .1-1-.3-1 .4-1-.4-1 .2-1 0-1 0-1-.2-1-.1-1 .3-1 .3-1 0-1 .1-1-.4-1-.4-1 .5-1 .4-1-.1-1-.2-1 .4-1-.1-1-.5-1 .7-1-.4-1-.2-1 0-1-.3-1 .4-1 0-1 0-1-.2-1-.2-1 .2-1-.2-1 .3-1 .3-1-.2-1-.4-1 .6-1-.2-1 .2-1-.2-1-.1-1-.3-1 .1-1 .2-1 .1-1 0-1-.1-1-.2-1 .1-1-.1-1 .4-1 .2-1-.4-1-.2-1 0-1-.1-1 .9-1-.8-1 .2-1-.3-1 .1-1 .7-1-.4-1-.2-1 0-1 0-1-.2-1 .2-1-.1-1 .1-1-.1-1 .1-1 0-1-.2-1 .2-1 .1-1 0-1 .5-1-.8-1 0-1 .1-1 0-1 .1-1 0-1-.1-1-.1-1 .1-1 .1-1 0-1 .1-1-.2-1 0-1 .6-1-.6-1 0-1 .2-1-.2-1 .1-1 .1-1-.1-1 0-1 0-1-.1-1 0-1-.1-1 .1-1 0-1 .1-1-.1-1 .1-1 .8-1-1-1 0-1 1-1 .2-1-.5-1-.2-1 0-1-.3-1 .2-1-.3-1 .1-1-.2-1 .2-1 .3-1-.3-1 0-1 .1-1-.3-1 .1-1 0-1 .2-1-.1-1-.1-1 .2-1-.1-1-.1-1 0-1 0-1 .1-1-.1-1 .1-1 .5-1-.6-1 .1-1 0-1 .2-1 .8-1-1.1-1 .4-1-.5-1 .1-1 .2-1-.2-1 .1-1-.2-1 .9-1-.4-1-.1-1-.4-1 .7-1-.7-1 0-1 .1-1-.1-1 0-1 .2-1-.1-1 .3-1-.1-1 .1-1 .7-1-.5-1-.3-1 .2-1-.2-1-.1-1 .3-1-.4-1 0-1 0-1-.1-1 0-1 .2-1-.2-1 .3-1-.2-1 .6-1-.7-1 .1-1 .1-1-.1-1-.1-1 .1-1 0-1 .1-1 .2-1-.2-1-.2-1 .2-1-.1-1 .2-1 .5-1-.7-1 .7-1-.6-1-.1-1 .2-1-.3-1 .2-1-.2-1 .1-1 .1-1 0-1 .7-1-.7-1-.1-1-.1-1 0-1 .4-1-.2-1 0-1-.2-1 0-1 .1-1-.1-1 0-1 .4-1-.4-1 .4-1-.3-1 0-1 0-1 .9-1 .5-1-.9-1 .5-1-.8-1 .2-1-.4-1 0-1 0-1 .2-1-.2-1 0-1-.1-1 .3-1 0-1 .1-1 .6-1-.5-1-.2-1 .9-1-.2-1-1-1 1-1-1-1 .1-1 .3-1-.2-1 .7-1-.8-1-.1-1 .5-1-.2-1 0-1-.1-1-.2-1 0-1 .8-1-.6-1 .2-1 .5-1-.8-1-.1-1 .4-1 0-1-.3-1 .1-1-.2-1 .3-1-.1-1-.1-1-.1-1 .1-1 0-1 .1-1 0-1-.2-1 .9-1-.3-1-.5-1-.1-1 .4-1-.2-1 0-1 0-1 .3-1-.2-1 .1-1-.3-1-.1-1 0-1 .1-1 0-1 .1-1-.1-1 .2-1 .7-1-.7-1-.1-1 .1-1 .9-1-1-1 0-1-.1-1 .1-1 1-1-1.1-1 .5-1-.4-1 .9-1-.9-1 0-1-.1-1-.1-1 .7-1-.3-1-.4-1 .2-1-.1-1 1-1-1-1 .2-1-.2-1 0-1 .1-1-.1-1-.1-1 0-1 .1-1 .8-1-.2-1-.2-1-.5-1 .3-1 .5-1-.2-1 .5-1-1-1 .1-1-.2-1 .8-1-.7-1-.1-1 .3-1-.2-1 0-1 0-1 .2-1 .3-1-.4-1 .4-1 0-1-.6-1 .1-1-.1-1 .1-1 .1-1-.1-1-.1-1 0-1 .3-1-.1-1 0-1-.1-1 .2-1 .3-1-.6-1 .1-1 0-1 .1-1 0-1-.1-1 .1-1 .1-1-.1-1-.2-1 0-1 .2-1-.1-1-.1-1 .3-1-.3-1 0-1 .1-1 0-1 .1-1 0-1-.2-1 .2-1 0-1-.1-1 .5-1-.6-1 0-1 .3-1 .1-1-.4-1 .2-1 .1-1-.2-1 .2-1 0-1-.1-1-.2-1 0-1 0-1 .1-1 0-1 0-1-.1-1 .3-1 .2-1-.4-1 .1-1-.2-1 .2-1 0-1-.1-1-.1-1 0-1 0-1 .1-1-.1-1 .1-1 0-1 .5-1-.6-1 0-1 .1-1-.1-1 .1-1-.1-1 .7-1-.4-1-.2-1 .9-1-.8-1 .8-1-.6-1-.1-1-.3-1 .2-1 .5-1-.7-1 .4-1-.3-1 0-1-.1-1 .1-1 .4-1-.1-1 .9-1-1.2-1 0-1-.1-1 .2-1 .5-1-.7-1 .4-1-.3-1-.1-1 .1-1 .7-1-.8-1 .9-1-.7-1 0-1-.2-1 .8-1-.7-1-.1-1 .3-1-.1-1 .1-1-.3-1 .2-1 .1-1 0-1-.3-1 0-1 .1-1 .1-1-.2-1 .1-1 0-1-.1-1 .5-1-.2-1 0-1 .6-1-.9-1 .3-1 0-1-.3-1 0-1 0-1 .6-1-.3-1-.1-1 .5-1 0Z"/>
<path fill="none" stroke="#ff0000" stroke-width="1.2" stroke-linejoin="round" d="M593.8 482.7l.5 0 .5 0 .5 0 .5 0 .5 0 .5 0 .5 0 .5 0 .5 .1 .5 0 .5 0 .5 0 .5 0 .5-.1 .5 0 .5-.1 .5-.1 .5 0 .5 .1 .5 .1 .5 .1 .5 .1 .5 0 .5 0 .5 0 .5-.1 .5-.2 .5-.1 .5 0 .5 0 .5 .1 .5 .1 .5 .1 .5 .1 .5 .1 .5 0 .5-.1 .5-.1 .5-.2 .5-.1 .5-.1 .5 0 .5 .1 .5 .2 .5 .2 .5 .1 .5 .1 .5-.1 .5-.1 .5-.1 .5-.2 .5-.1 .5 0 .5 0 .5 .1 .5 .1 .5 .1 .5 .1 .5 0 .5 0 .5-.1 .5-.1 .5-.1 .5-.1 .5 0 .5 0 .5 .1 .5 .1 .5 .1 .5 .1 .5 0 .5 0 .5 0 .5-.1 .5-.2 .5-.1 .5-.1 .5 0 .5 .1 .5 .2 .5 .2 .5 .1 .5 .1 .5 0 .5-.2 .5-.1 .5-.2 .5-.2 .5 0 .5 0 .5 .1 .5 .2 .5 .1 .5 .1 .5 .1 .5-.1 .5 0 .5-.2 .5-.1 .5 0 .5-.1 .5 0 .5 .1 .5 .1 .5 .1 .5 .1 .5 0 .5 0 .5-.1 .5-.1 .5 0 .5-.1 .5 0 .5 0 .5 0 .5 .1 .5 .1 .5 0 .5 0 .5 0 .5 0 .5-.1 .5 0 .5 0 .5 0"/>
<path fill="#0000ff" d="M138.5 512.9l1 0 1 .2 1-.6 1 .3 1 .2 1-.3 1 .4 1-.4 1 .3 1-.7 1 .6 1-.1 1 .2 1 0 1-.1 1 .1 1-.1 1-.1 1 .1 1-.6 1 .8 1-.1 1 0 1-.1 1 .1 1 0 1 .1 1-.1 1-.3 1-.1 1-.2 1-.2 1 .4 1 .2 1 .1 1-.1 1 .1 1 .1 1-.7 1 .4 1 .3 1 0 1-.8 1 .6 1 .2 1 0 1-.1 1 0 1 0 1 .2 1-.1 1 0 1-.1 1-.3 1 0 1-.5 1-.1 1 1 1-.4 1 .3 1 .2 1-.2 1-.1 1 .1 1-.1 1 .3 1-.1 1 0 1-.1 1 0 1-.2 1 .1 1-.2 1 .4 1-.1 1-.5 1 .4 1 .1 1 .2 1-.5 1 .1 1 .2 1-.1 1 .3 1-.2 1-.6 1 .6 1-.2 1 0 1-.3 1 .2 1-.2 1 .1 1 .2 1 .3 1 0 1-.3 1 .1 1 .2 1 0 1 0 1-.1 1 .1 1-.7 1 .6 1 .1 1-.1 1 .1 1-.3 1 .4 1-.1 1 .1 1-.9 1 .7 1 .1 1-.1 1 .1 1-.2 1-.2 1 .2 1 .2 1-.1 1 .1 1 .1 1 0 1-.4 1 .3 1 .1 1-.3 1 .1 1-.1 1 0 1 .3 1-.3 1-.2 1 .5 1-.3 1-.2 1 0 1 .4 1 .1 1 0 1-.9 1 .8 1 0 1-.1 1-.2 1 .2 1 .1 1-1 1 .8 1 .3 1 0 1-.1 1 0 1 0 1-.2 1 0 1-.2 1-.7 1 .3 1 .2 1-.4 1 .7 1 .3 1 0 1 0 1 0 1-.2 1 .3 1-.3 1-.3 1 .3 1-.2 1 .5 1-.3 1 .3 1-.1 1-.7 1 .8 1-.3 1 .1 1 0 1 .2 1-.4 1 .3 1 .1 1-.5 1 .2 1 .2 1 0 1 0 1 .1 1-.8 1 .7 1 .1 1-.2 1 0 1 .1 1-.4 1 .3 1 .1 1 0 1-.1 1 .1 1 0 1-.1 1-.1 1-.4 1 .7 1-.2 1-.7 1 .9 1-1 1 .9 1 .1 1-.4 1-.6 1 .8 1-.4 1 .4 1-.1 1 .2 1-.4 1 .4 1 0 1 0 1-.4 1 .4 1 0 1 0 1 0 1 .1 1 0 1-.4 1 .3 1 .1 1 0 1-.1 1-.7 1 .7 1-.1 1 0 1-.1 1-.1 1 .4 1-.1 1-.1 1-.3 1 .4 1 .1 1-.1 1-.1 1 .2 1-.5 1 .3 1 .2 1-.2 1-.1 1 .3 1-.2 1-.2 1 .4 1-.1 1-.1 1 .1 1 0 1 0 1 0 1 .1 1-.1 1-.1 1-.4 1 .6 1-.4 1 .3 1 0 1-.4 1 .3 1-.8 1 .9 1-.1 1-.4 1 .5 1-.8 1 .5 1 .2 1 .1 1 0 1 0 1 .1 1-1.1 1 .8 1 .1 1-.1 1-.1 1 .2 1-.5 1 .5 1-.3 1 .3 1 0 1-.3 1 .1 1 .1 1 .2 1 0 1 .1 1-.4 1 .4 1-.6 1 .5 1 .1 1-.5 1 .4 1 .1 1-.8 1 .6 1-.1 1-.6 1 .1 1 .1 1 .3 1 0 1 .2 1-.1 1 .3 1-.1 1-.1 1-.6 1 .4 1 .2 1 .1 1-.3 1 .1 1-.1 1-.6 1 .5 1 0 1 .4 1-.2 1 .3 1-.3 1 .2 1-.1 1 .1 1 0 1-.2 1 .2 1-.9 1 .5 1 .5 1-.3 1 .1 1 0 1 .2 1-.1 1 0 1 .1 1-.2 1 .1 1-.3 1 0 1 0 1 .2 1 .2 1-.1 1-.1 1 0 1-.1 1 .2 1-.3 1 .3 1 0 1-.1 1-.2 1 .3 1-1.3 1 1 1 .2 1 .1 1-.1 1 .2 1 0 1-.1 1 0 1 .1 1-.8 1 .3 1 .5 1-.1 1 0 1 0 1 0 1 .1 1-.1 1 0 1-.7 1 .6 1-.1 1 .2 1 .1 1-.5 1 .2 1 .3 1-.2 1 0 1 .1 1 0 1 0 1 0 1-.2 1-.2 1 .3 1-.6 1 .6 1-.4 1 .5 1 0 1-.4 1 .5 1-.1 1-.2 1-.2 1 .4 1-.1 1 .1 1-.1 1 0 1-.2 1-.1 1-.3 1 .1 1 0 1-.1 1 .4 1-.1 1 .1 1 0 1 .2 1 .1 1 .1 1 0 1 0 1-.2 1-.5 1 .6 1-.2 1 .3 1-.2 1 .1 1-.6 1 .7 1-.2 1 .1 1 0 1-.2 1-.5 1 .6 1-.4 1 .5 1-.3 1 0 1 .3 1-.4 1 .4 1 0 1-.6 1 .6 1-.1 1 .2 1-.3 1 .1 1 .2 1 0 1 0 1-.2 1 0 1 .1 1 0 1-.5 1 .5 1-.1 1-.2 1 .3 1-.4 1-.4 1 .6 1 .3 1-.3 1 .2 1 .1 1-.1 1-.2 1 .1 1 0 1 .2 1 0 1-.3 1-.2 1 .3 1 .2 1-.7 1 .7 1-.6 1 .5 1-.4 1 .2 1 .2 1-.2 1 .1 1-.1 1-.3 1 0 1 .3 1-.3 1 .4 1 .1 1 0 1 .1 1-.6 1 .5 1-.2 1 .2 1-.1 1 .1 1-.3 1 .3 1-.7 1 .6 1 .1 1-.2 1-.1 1-.7 1 .2 1 .4 1 .3 1 .1 1 .1 1-.1 1 .1 1-.2 1-.3 1 .3 1-.3 1 .1 1 .2 1 .1 1-.3 1-.6 1 .9 1 0 1 .1 1-.2 1 0 1 .2 1-.3 1 .1 1 .2 1 0 1-.1 1-.3 1 .1 1 .2 1 .1 1 0 1-.1 1-.2 1 0 1 .1 1 .2 1-.4 1 0 1 .3 1-.1 1 .2 1 0 1-.1 1 .1 1-.9 1 .2 1 .6 1 0 1 .1 1-.3 1 .2 1 0 1-.2 1 .1 1-.7 1 .6 1-.4 1 .6 1 0 1-.3 1 .2 1 0 1-.1 1 .2 1-1 1 1.1 1 0 1-.3 1 .2 1 .1 1-.1 1-.6 1 .5 1 0 1-.2 1 .1 1 .1 1 0 1 .2 1-.1 1 0 1 0 1 0 1-.2 1 0 1 .2 1-.1 1 .1 1 .1 1-.3 1 0 1 .3 1-.3 1 .1 1 0 1 0 1 .2 1 0 1-.6 1 .4 1-.3 1-.9 1 1.1 1 .2 1-.3 1 .2 1 .1 1 .1 1-.1 1-.1 1 .1 1-.2 1 .2 1 .1 1 0 1-.2 1 0 1 .2 1-.2 1 .1 1-.1 1-.2 1-.1 1 0 1 0 1 .1 1 .2 1 .2 1 0 1 0 1-.3 1 .1 1 .1 1-.2 1 .1 1-.8 1 1 1-.2 1-.1 1 .1 1 0 1-.1 1 0 1 .3 1-.2 1-.1 1 .2 1-.9 1 1 1-1 1 .7 1 .3 1 0 1-1.1 1 .9 1-.2 1 .4 1-.3 1 0 1-.7 1 0 1 .3 1 .2 1 .3 1 .1 1 0 1-.8 1 .9 1 0 1-.2 1 .1 1 0 1 0 1 0 1-.3 1 .3 1-.5 1 .4 1 0 1 .1 1 .1 1 0 1-.1 1-.2 1-.6 1-.1 1 .8 1 .2 1-.1 1 .1 1-.1 1 0 1 0 1-.1 1 .1 1-.2 1 .3 1 0 1-.2 1-.2 1-.2 1 .5 1 0 1 .1 1-.2 1 .1 1 0 1-.2 1 .2 1-.2 1 0 1 .3 1-.4 1 .3 1 .1 1 0 1-.1 1 0 1-.1 1-.8 1 .8 1 .2 1-.2 1 .1 1-.4 1 .4 1 0 1 0 1 0 1-.2 1 0 1-.4 1 .6 1 0 1 0 1 0 1 0 1-.1 1-.1 1-.1 1 0 1-.7 1 1 1 0 1 0 1-.1 1-.1 1 .2 1-.9 1 .9 1-.8 1 .7 1 .1 1 .1 1-.1 1-.8 1 .4 1 .3 1 .1 1 0 1-.2 1-.3 1 0 1 .5 1 .1 1-.3 1 .2 1-.2 1 .3 1-.3 1 0 1 .3 1-.1 1-.2 1 .1 1 .1 1 0 1-.3 1 .3 1 .1 1-.2 1 .1 1-.1 1 0 1 .2 1-.1 1-.5 1 .3 1 .3 1-.1 1-.1 1 .2 1-1 1 .9 1-.2 1 .3 1-.1 1-.2 1 .1 1 .2 1 0 1 0 1-.3 1 .3 1-.1 1 0 1-.1 1-.1 1 .1 1 .1 1 0 1-.1 1-.8 1 1 1-.9 1 .9 1-1 1 .7 1 .2 1 .1 1-.7 1 .4 1-.2 1 .5 1-.2 1 0 1-.1 1 .2 1 0 1-.1 1 .1 1-.1 1 .2 1-.3 1-.1 1-.2 1 .6 1-.1 1 0 0 2.5-1 0-1 0-1 .4-1-.2-1-.2-1 0-1 .1-1 .2-1-.3-1 0-1 .5-1-.6-1 .2-1-.1-1 .1-1-.2-1 0-1 .1-1 0-1 .1-1 0-1 .1-1-.2-1 0-1 0-1 0-1 0-1 0-1 0-1-.1-1 .2-1 0-1-.1-1 0-1 0-1 0-1 0-1 .2-1 .1-1-.1-1 .1-1-.4-1 .6-1-.4-1 .1-1-.2-1 .2-1-.1-1 .1-1-.1-1 0-1 0-1 .1-1-.1-1 .2-1-.1-1-.3-1 .2-1 .7-1-.3-1-.5-1 .4-1-.4-1 0-1 0-1 .1-1-.1-1 0-1-.1-1 .1-1 0-1 0-1-.1-1 .3-1-.1-1 .3-1 1.1-1-1.3-1 0-1-.3-1 .2-1-.2-1 0-1 0-1 .1-1-.1-1 .1-1 0-1 0-1 .1-1-.1-1 0-1 .1-1-.2-1 .1-1 .4-1-.4-1 0-1 .3-1 0-1-.2-1 .3-1-.5-1 0-1 .3-1-.1-1 .4-1-.4-1 0-1 .7-1-.9-1 .1-1 0-1 .1-1 .2-1-.1-1-.1-1-.1-1 .2-1 0-1 .1-1 0-1-.2-1 0-1-.1-1 .3-1-.3-1 .2-1-.2-1 0-1 1-1-.9-1 .8-1-.9-1 .8-1-.8-1 .1-1 .3-1-.2-1 .9-1 0-1-.9-1-.1-1 .3-1-.3-1 .1-1-.3-1 .2-1 .1-1-.1-1-.1-1 0-1 0-1 0-1 .1-1 .2-1-.4-1 .2-1 .2-1-.4-1 .2-1 .6-1-.7-1 .3-1 .3-1-.3-1-.3-1 .2-1 .6-1-.7-1 .2-1-.4-1 .2-1 0-1 .2-1 .4-1-.2-1 .1-1-.2-1-.2-1-.2-1 .2-1 .1-1 .5-1-.8-1 0-1 .3-1-.4-1 .1-1 0-1 .1-1-.1-1-.1-1 .1-1 .2-1-.2-1-.1-1 0-1 .5-1-.3-1-.1-1 0-1 .1-1 .3-1-.3-1 .2-1-.2-1 .7-1-.6-1-.2-1 .6-1-.3-1-.1-1 .4-1 .1-1-.2-1-.4-1 .1-1 .2-1-.4-1 .1-1 0-1 0-1-.1-1 0-1 .3-1-.1-1-.3-1 .3-1-.2-1 .1-1 .2-1-.3-1 .1-1 .1-1 .1-1 .3-1-.2-1 .1-1-.3-1-.1-1-.1-1 .1-1 0-1 0-1-.1-1 .2-1-.1-1 0-1 .2-1-.2-1 0-1-.2-1 .5-1-.2-1 .1-1-.3-1 .9-1-.5-1-.3-1-.1-1 0-1-.1-1 .1-1 .1-1-.1-1-.1-1 .1-1 0-1 .3-1-.2-1 0-1 .4-1-.4-1-.1-1 .2-1 0-1-.3-1 .4-1 0-1 .1-1-.2-1-.1-1 .1-1 .2-1-.1-1 .6-1-.8-1 .2-1-.1-1 0-1-.1-1 1-1-.9-1-.1-1 .2-1-.2-1 .5-1-.6-1 .2-1-.2-1 .3-1-.2-1-.1-1 .1-1-.1-1 .3-1-.3-1-.1-1 .2-1-.1-1 .3-1-.3-1 .3-1-.1-1-.1-1-.1-1 .4-1-.5-1 .6-1-.1-1-.3-1-.1-1 0-1 .2-1-.1-1 .2-1 .3-1 0-1-.3-1-.2-1-.1-1 .5-1-.4-1 .1-1-.3-1 .3-1 .4-1 .4-1-.5-1-.3-1 .2-1 .4-1-.2-1-.4-1 .4-1 0-1-.5-1 .3-1-.4-1 .1-1 .4-1-.6-1 .1-1 .6-1-.7-1 .2-1-.2-1 .2-1 .1-1-.1-1-.1-1-.1-1 0-1 .2-1 .3-1-.2-1 .1-1-.3-1-.1-1 .3-1 .2-1-.4-1-.1-1 .1-1 .6-1-.6-1 .2-1-.2-1 0-1 0-1 0-1 0-1 .4-1 .2-1-.6-1 0-1 .3-1 0-1-.3-1 .5-1-.4-1 .1-1-.2-1 0-1 0-1 0-1 0-1 .3-1-.2-1 .5-1-.7-1 .3-1-.1-1 .2-1-.2-1-.1-1-.1-1 .9-1-.4-1-.4-1 .3-1-.4-1 .3-1 0-1 .2-1-.3-1 .2-1-.1-1 .1-1 .6-1-.8-1-.1-1 .1-1-.1-1 1.1-1-1.1-1 .2-1-.3-1 .1-1 0-1-.1-1 .3-1 0-1 0-1 .2-1 0-1-.2-1 .2-1 .1-1 .1-1 .6-1-.8-1 0-1-.2-1 .1-1-.2-1-.1-1 .1-1 .1-1 .7-1-.8-1 .1-1-.1-1-.1-1-.1-1 .2-1-.2-1 0-1 .2-1 .5-1-.7-1 1-1-.8-1 .1-1 .1-1-.2-1 0-1-.2-1 0-1 .3-1-.1-1 .4-1-.4-1 .2-1-.1-1-.3-1 .8-1-.7-1 0-1 .2-1-.3-1 .1-1 .1-1 .5-1-.6-1 .1-1-.1-1 0-1 .3-1-.2-1 .2-1-.2-1 .6-1-.3-1 0-1-.3-1 .3-1-.4-1 0-1 .2-1-.1-1 .1-1-.2-1 .6-1-.2-1 .3-1-.2-1-.2-1 .4-1 .1-1-.8-1 .4-1-.4-1 0-1 .8-1-.8-1 .3-1 .4-1-.6-1 .1-1-.1-1 .1-1-.1-1 0-1 0-1-.1-1 .1-1-.1-1 0-1 .2-1 0-1-.2-1 .2-1 0-1 .1-1 .1-1 0-1-.1-1-.1-1 1-1-1.2-1 0-1 0-1 .1-1-.2-1 .2-1-.1-1 .2-1 .1-1 .3-1-.3-1 .4-1-.5-1 0-1 .1-1-.2-1-.1-1 0-1-.1-1 1.1-1-1.1-1 .2-1 .1-1 0-1 .5-1-.1-1-.6-1-.1-1 .1-1 0-1 0-1 .1-1 0-1 0-1 .2-1-.4-1 .1-1 .1-1 .1-1 0-1-.2-1 .1-1-.1-1 .1-1 .2-1-.1-1-.2-1 0-1-.1-1 .1-1 .1-1 0-1-.2-1 .7-1-.5-1 0-1-.1-1 .1-1 .2-1-.4-1 0-1 .1-1-.1-1 .2-1-.2-1 .2-1-.1-1-.1-1 .3-1-.2-1 .1-1-.1-1 0-1 0-1 .1-1-.1-1-.1-1 0-1 .4-1-.2-1 0-1-.1-1 .9-1-.7-1-.2-1 0-1 .4-1-.3-1-.1-1 .1-1 .1-1 .1-1 .3-1-.6-1 .1-1 0-1-.2-1 .1-1 .9-1-.9-1 0-1 .7-1-.4-1-.1-1-.3-1 .3-1-.2-1 .2-1-.3-1 .2-1 .1-1-.2-1-.1-1 .2-1 0-1-.1-1 .7-1-.6-1-.1-1 0-1 .3-1-.2-1 .3-1 .4-1-.8-1 0-1 .2-1-.2-1 0-1 .1-1 .7-1-.8-1 .1-1 .1-1 0-1-.1-1 0-1-.1-1 .4-1-.5-1 .2-1 0-1-.2-1 .1-1 .3-1-.1-1 0-1 0-1-.3-1 .2-1 .1-1-.2-1 .1-1-.2-1 .2-1-.1-1 0-1 .1-1-.2-1 .1-1 .2-1-.2-1 0-1 .1-1-.2-1 .2-1-.1-1 .2-1 .5-1-.2-1 .6-1-.4-1-.1-1-.3-1-.2-1 .9-1-.7-1 0-1-.3-1 .1-1 .1-1-.3-1 .1-1 .1-1 0-1 1-1-1-1 .1-1 .3-1-.3-1-.2-1 0-1 .8-1-.7-1-.1-1-.1-1 .2-1 .2-1 .6-1-1-1 .2-1-.1-1 .1-1 .1-1-.1-1-.1-1 .1-1 .6-1-.4-1-.3-1 0-1 0-1 .2-1-.2-1 0-1-.1-1 .2-1-.1-1 0-1 0-1 .3-1-.4-1 .3-1-.2-1 .1-1-.1-1 .1-1-.2-1 .2-1 0-1-.1-1 0-1 .2-1-.1-1-.1-1 .6-1 0-1 0-1-.3-1-.2-1 .6-1 0-1 .2-1-.6-1-.1-1-.2-1 .1-1 0-1-.1-1 0-1 .1-1-.1-1-.1-1 .3-1 0-1-.1-1-.1-1-.1-1 .1-1 0-1 .2-1 .1-1-.3-1 0-1 0-1 .2-1-.1-1-.1-1 0-1 0-1 .3-1-.4-1 .2-1-.1-1 .1-1-.1-1 .1-1-.1-1-.1-1 .1-1 .2-1-.2-1 0-1 .1-1-.2-1 .1-1-.1-1 .5-1-.4-1 0-1 .2-1-.3-1 .1-1 .8-1-.1-1-.7-1 0-1 0-1 .3-1 .4-1 0-1 .1-1-.6-1 .1-1-.3-1 .1-1-.1-1 0-1 .5-1 .1-1-.7-1 .2-1 0-1-.2-1 0-1 .4-1-.3-1 0-1 .3-1-.3-1 0-1 .1-1-.1-1 0-1-.1-1 .1-1 .2-1-.2-1 .4-1-.4-1 .1-1-.2-1 0Z"/>
<path fill="#008000" d="M138.5 544.2l1 0 1-.4 1 .1 1-.3 1 1 1 0 1 0 1 0 1-.2 1 .2 1 0 1-.5 1 .3 1 .2 1-.2 1-.9 1 .8 1-.2 1 .4 1-.1 1 0 1 0 1 .2 1 .1 1 0 1 0 1 .1 1-.4 1 .2 1-.1 1 .3 1-.1 1 0 1-.3 1 .3 1-.8 1 .5 1 .2 1 .1 1 0 1 .1 1-.1 1-.7 1 .7 1-.9 1 .5 1 .3 1 .1 1-.2 1 .1 1 .2 1-.7 1 .5 1 .2 1-.1 1-.3 1 0 1 .2 1-.1 1-.1 1 .1 1 .1 1 0 1-.8 1 1 1-.1 1-.5 1-.2 1 .5 1 .3 1 0 1-.1 1-.8 1 .7 1-.8 1 .7 1 .1 1-.2 1 .2 1 .2 1-.4 1 .3 1 .1 1-.3 1-.5 1 .8 1-.1 1 0 1 .1 1-.2 1 0 1 .1 1 .1 1-.1 1 .1 1 0 1-.5 1 .3 1-.2 1 0 1 .1 1 .2 1-.1 1-.1 1 .2 1-.1 1 .1 1-.2 1 .1 1 .1 1 0 1 .1 1-.4 1 0 1 .3 1 0 1-.6 1 .6 1-.1 1-.3 1 .4 1-.1 1 .1 1-.2 1-.5 1 .4 1 .3 1-.2 1-.5 1 .7 1-.1 1-.1 1 .2 1-.4 1 .5 1-.6 1 .6 1-.2 1 0 1 0 1-.5 1 .2 1 .3 1 .1 1 0 1 .1 1-.2 1-.3 1 .3 1-.3 1 .3 1-.7 1 .6 1-.5 1 .2 1 .4 1-.4 1-.4 1 .1 1 .6 1-.1 1 .2 1 .2 1-.7 1 .5 1 .1 1 0 1 0 1-.1 1 .1 1-.2 1-.1 1-.3 1 .4 1-.2 1 .2 1 0 1-.1 1 .4 1-.1 1-.1 1-.3 1 .5 1-.4 1-.4 1 .5 1 .2 1 0 1-.1 1 0 1-.5 1 .4 1 .3 1 0 1-.7 1 .4 1-.1 1 .3 1 .1 1-.1 1-.1 1 0 1-.3 1 .3 1 0 1-.6 1 .6 1 .2 1-.5 1 .3 1 .1 1 0 1 .1 1-.1 1-.1 1 .1 1 .1 1-.2 1 .2 1 0 1-.2 1-.1 1 .1 1-.1 1-.1 1 .3 1-.2 1 0 1 .1 1 .1 1 .1 1-.2 1 .1 1 .1 1-.2 1-.4 1 .1 1 .1 1 .2 1 .2 1-.3 1-.2 1 0 1 .2 1-.1 1 .2 1-.1 1 .2 1 0 1 0 1-.1 1 0 1-.1 1 0 1-.1 1-.8 1 .6 1-.3 1 .3 1-.5 1 .7 1-.3 1 .3 1-.9 1 .9 1 .1 1 .2 1-.1 1 .2 1-.2 1 0 1 0 1 .2 1 0 1-.4 1 .3 1-.2 1 0 1 .2 1-.8 1 .9 1-.7 1 .7 1 0 1-.1 1-.8 1 .4 1 .2 1-.1 1-.6 1 .8 1 .1 1 .1 1-.2 1-.3 1 .3 1-.2 1 .3 1-.3 1 .3 1-.1 1 0 1-.4 1 .5 1-.4 1 .3 1 .2 1-.1 1 .1 1-.3 1 0 1 .1 1 .2 1-.3 1 .2 1-.5 1 .6 1-.1 1-.1 1 0 1-.2 1-.2 1 0 1 .2 1 .2 1-.5 1 .6 1 0 1-.2 1 .2 1 0 1-.2 1 .3 1-.2 1-.3 1-.4 1 .2 1 .5 1-.2 1 .4 1-.2 1 .1 1 0 1-.5 1 .4 1 .2 1-.9 1 .8 1-.5 1 .4 1 .2 1-.1 1 0 1-.1 1 .1 1 0 1 0 1-.8 1 .1 1 .6 1 .2 1-.3 1 .3 1-.1 1 0 1-.5 1 .3 1 .3 1-.3 1-.1 1 .3 1 0 1 0 1-.3 1 .3 1-.1 1 .1 1-.1 1-.7 1 .9 1-.1 1-.3 1 .1 1 .2 1-.2 1-.1 1 .4 1-.1 1 .1 1-.1 1-.1 1-.3 1 .5 1-.4 1 .3 1 .1 1-.4 1-.3 1 .4 1 .2 1 0 1-.3 1 .2 1 .1 1-.8 1 .6 1 .2 1 .1 1-.1 1-.1 1 0 1 .2 1-.1 1 0 1-.1 1 0 1 .1 1-.6 1 .5 1 .1 1-.1 1-.1 1-.6 1 .9 1-.3 1 .3 1 0 1-.2 1 .1 1-.1 1 .1 1 0 1 0 1 0 1 0 1-.5 1 .4 1-.1 1 .2 1 .1 1-.7 1 .5 1-.1 1 .3 1-.5 1 .4 1-.2 1 .3 1 0 1-.1 1 0 1 .1 1-.1 1-.2 1 .3 1-.2 1-.1 1 .2 1-.1 1 .1 1-.6 1 0 1 .6 1 0 1 .1 1-.2 1 .2 1-.9 1 .9 1 0 1-.1 1 .1 1-.4 1 .2 1-.2 1 .3 1-.1 1 0 1 0 1 0 1 .2 1-.3 1 .1 1-.3 1-1 1 1.1 1 .3 1-.3 1 .4 1-.3 1 .1 1-.7 1 .9 1-.1 1 .1 1 0 1-.1 1-.1 1 .2 1 0 1 0 1-.2 1 .1 1-.1 1 .2 1-.3 1 .3 1-.3 1 .2 1 .1 1-.1 1-.2 1 .1 1 0 1 .1 1 .1 1-.1 1-.1 1-.5 1 .6 1 .1 1-.1 1 0 1 0 1-.2 1 .2 1-.2 1 .1 1 0 1-.3 1 .1 1-.3 1 .1 1 .5 1 .1 1 0 1-.4 1 .3 1-.1 1 0 1 .1 1-.3 1-.1 1 .3 1 .1 1 .1 1-.2 1 .1 1-.2 1-.6 1 .7 1 .1 1-.1 1-.8 1 1 1 0 1 0 1-.1 1-.6 1 .4 1 .2 1-.3 1 .4 1 0 1-.4 1 .2 1 .1 1-.1 1 .2 1 0 1-.1 1-.2 1 .1 1 .1 1-.1 1 .1 1-.3 1 .3 1-.2 1 .2 1-.2 1 .2 1 0 1-.3 1-.4 1 .5 1 .2 1-.1 1-.1 1 .1 1 0 1-.1 1 .1 1 .1 1-.2 1 .2 1 0 1 0 1-.2 1 0 1 .2 1-.2 1-.2 1 .2 1-.1 1 0 1-.2 1-.1 1-.7 1 1.1 1-.2 1 .2 1-.5 1 .6 1 .1 1-.8 1 .8 1 0 1 .1 1-.1 1-.2 1 .3 1 0 1-.8 1 .3 1-.2 1 .5 1 .1 1-.1 1-.1 1 .2 1-.3 1 .2 1 .1 1-.3 1 .1 1 0 1 .2 1-.1 1-.3 1 .3 1-1 1 1.1 1 0 1 0 1-.2 1 .1 1 .1 1-.3 1 .2 1 .1 1-.2 1 0 1-.3 1 .3 1 .3 1-.1 1-.1 1 0 1 0 1 .1 1-.1 1 .2 1 0 1-.9 1 .7 1 .2 1-.1 1-.1 1 0 1-.7 1 .2 1 .7 1-.1 1 0 1-.3 1 0 1 .3 1-.1 1 0 1 .1 1 0 1-.3 1-.2 1 .5 1-.3 1 .3 1-.1 1 .2 1 0 1 0 1-.1 1-.5 1 .3 1 .2 1 .1 1-.1 1-.3 1 .4 1-.1 1-.1 1 .1 1 0 1-.8 1 .8 1 0 1 .1 1 0 1-.4 1 .2 1 0 1 .1 1 .1 1 0 1-.1 1 0 1 0 1-.2 1 0 1-.9 1 .9 1 .1 1-.3 1-.5 1 .1 1 .6 1 .1 1-1 1 1.1 1-.1 1 .1 1-.2 1 .1 1 .2 1-.2 1-.1 1-.1 1-.4 1 .6 1 .2 1-.8 1 .7 1-.2 1 .2 1-.2 1 .3 1-.2 1-.6 1 .5 1-.6 1 .5 1-.5 1 .7 1 0 1 .2 1-.3 1 .2 1-.1 1 .2 1 0 1-.9 1 .9 1 0 1-.1 1-.1 1 .1 1-.5 1 .2 1 0 1-.1 1-.4 1 .1 1 0 1 .5 1 .2 1 .1 1-.1 1-.2 1 0 1 .2 1-.1 1 .1 1-1 1 .9 1-.5 1 .5 1-.1 1-.3 1-.1 1 0 1-.1 1 .3 1-.2 1 .5 1 0 1 0 1-.6 1 .7 1 0 1-.1 1-.7 1 .5 1 .2 1 0 1 .1 1 .1 1-.9 1 .3 1 .1 1-.2 1 .2 1 .2 1-.7 1 .6 1 .2 1 0 1 .1 1 0 1 .1 1-.3 1-.3 1 .4 1-.1 1 0 1-.4 1 .4 1 .2 1 .1 1-.3 1-.2 1 .4 1-.1 1 .1 1 .1 1-.7 1 .5 1-.1 1 .1 1-.1 1 .2 1-.1 1-.2 1 .2 1 0 1 .1 1 0 1-.2 1 .2 1-.2 1 .1 1 .1 1-.1 1 0 1 .1 1 .1 1 0 1-.6 1 .4 1 .2 1-.1 1 0 1 0 1-.2 1-.5 1 .7 1 .1 1-.3 1 .3 1-.5 1 .2 1 .1 1-.1 1 .2 1 0 0 2.1-1 0-1 .2-1-.2-1 .5-1-.4-1 0-1 0-1 0-1-.1-1 .1-1 .1-1-.2-1 .2-1 0-1-.1-1 1-1-1-1 .1-1-.1-1-.1-1 0-1 .4-1-.4-1 .1-1 .1-1-.1-1 .2-1-.2-1 .3-1-.3-1 0-1-.1-1 .1-1-.1-1 .1-1 .3-1-.3-1-.1-1 .1-1 0-1-.1-1 .1-1 .1-1 0-1 0-1-.1-1 .5-1-.6-1 0-1 .3-1-.1-1-.2-1 .2-1-.2-1 .1-1 0-1 1-1-.9-1 1.1-1-1.2-1 .2-1 .1-1-.1-1 .2-1-.3-1 0-1-.1-1 .9-1 .1-1-1.1-1 .5-1 .1-1 .9-1-1.1-1 .3-1-.1-1 .3-1-.8-1 .1-1 .4-1-.2-1 0-1 0-1 .1-1 0-1-.2-1-.1-1 .3-1-.2-1-.3-1 .2-1-.2-1 0-1 .1-1 .3-1 0-1-.3-1 0-1 0-1 .1-1 .3-1 .1-1 .3-1 0-1-.7-1 .1-1 .3-1-.5-1 .4-1-.2-1-.2-1 .1-1-.1-1 0-1 .2-1 .1-1-.3-1 .1-1 0-1-.1-1 .7-1-.8-1 .1-1 .3-1-.3-1 0-1 0-1 .3-1 0-1-.2-1-.1-1 .1-1-.2-1 .1-1 .3-1-.1-1 .1-1 .1-1-.3-1 0-1 .1-1-.2-1 .2-1 .1-1-.3-1 0-1 .1-1-.2-1 .2-1 .1-1 .1-1 0-1 .3-1-.2-1 0-1-.3-1 0-1 0-1 .2-1-.3-1 .1-1 .2-1-.1-1 .1-1 0-1 .2-1-.6-1 .1-1 .2-1 .1-1-.4-1 .3-1 0-1-.3-1 .4-1-.2-1 0-1 .1-1 .6-1-.7-1 .1-1-.2-1 .8-1-.9-1 .2-1-.1-1 .1-1 0-1-.2-1 0-1 0-1 0-1 .2-1 .2-1 0-1-.1-1 0-1-.2-1 0-1 .1-1 .2-1-.3-1 0-1 .3-1-.2-1 0-1-.1-1 .2-1 0-1 .2-1-.3-1-.1-1 0-1 .1-1 .1-1-.2-1 0-1 .2-1-.3-1 .1-1 0-1 .4-1-.5-1 .2-1 0-1-.1-1 .6-1-.7-1 .1-1 .4-1-.5-1 .1-1 .1-1 .1-1-.3-1 .2-1 0-1 0-1-.2-1 .2-1 .1-1-.2-1 .2-1-.3-1 .8-1-.7-1-.1-1 .2-1-.1-1 0-1 .3-1-.4-1 .2-1 0-1 0-1-.2-1 .2-1-.1-1 .2-1-.3-1 .1-1 .2-1-.1-1 0-1 .2-1 .1-1 1-1-.9-1-.1-1-.3-1 .2-1-.3-1 .1-1-.1-1 .1-1 .7-1-.6-1-.2-1 .2-1-.1-1-.1-1 0-1 .1-1 0-1-.1-1 0-1 .2-1-.1-1 .7-1-.8-1 .8-1-.8-1-.1-1 .2-1 0-1 .1-1-.3-1 0-1 .6-1-.5-1-.1-1 .2-1-.2-1 .1-1 .2-1-.2-1 .1-1 .1-1-.2-1 0-1 .1-1-.1-1 0-1 .3-1-.3-1 0-1 0-1 .2-1-.1-1 0-1 .2-1-.2-1-.2-1 0-1 .2-1-.2-1 .7-1-.5-1-.2-1 .2-1-.2-1 0-1 .1-1 .1-1 .1-1 .2-1-.1-1 0-1-.2-1-.2-1 .8-1-.7-1 0-1 .7-1-.2-1-.5-1 0-1 0-1 0-1 0-1 0-1 .2-1 .4-1 .2-1-.6-1 0-1-.2-1-.1-1 0-1 .3-1 0-1-.3-1 .8-1-.6-1 .1-1-.2-1 .8-1-.7-1-.1-1 .7-1-.7-1 .1-1-.2-1 .2-1 .1-1 0-1-.2-1 .1-1 0-1 .1-1-.2-1 0-1 .4-1-.4-1 .1-1-.1-1 .1-1 .4-1 .2-1-.3-1 0-1-.5-1 0-1 .1-1 0-1 0-1 .2-1-.3-1 .3-1 .5-1-.7-1-.1-1 .2-1-.1-1 .2-1 0-1-.1-1 .2-1-.3-1 .2-1 .1-1 0-1-.2-1 .1-1 .1-1 .3-1-.5-1-.1-1 0-1-.1-1 0-1 .3-1 .2-1-.5-1 0-1 .1-1 0-1-.1-1 .4-1-.1-1 0-1 .1-1 .5-1-.7-1 .1-1-.2-1 .8-1-.7-1-.1-1-.1-1 0-1 .2-1 0-1-.1-1 .4-1-.3-1 0-1 .1-1 .1-1-.4-1 .2-1 .3-1-.3-1-.2-1 .1-1 .1-1 0-1-.1-1 0-1 .2-1 0-1 0-1-.2-1 .3-1-.4-1 0-1 .6-1-.4-1-.1-1 0-1-.1-1 1.2-1-.8-1-.3-1 .1-1-.1-1 .2-1-.3-1 .8-1-.6-1 0-1 0-1 .2-1-.4-1 0-1 .1-1 .1-1-.2-1 .4-1 .1-1-.5-1 .4-1 0-1-.2-1 0-1 .1-1-.2-1 .1-1 0-1 .4-1-.5-1-.1-1 .1-1 .1-1 .1-1-.2-1 .1-1 0-1 .1-1-.2-1 .1-1 0-1-.1-1 .8-1-.8-1 .3-1 .3-1-.3-1-.3-1-.1-1 .1-1 0-1 0-1-.1-1 0-1 .4-1-.3-1 0-1 .8-1 0-1-.7-1 .1-1-.3-1 .1-1 .1-1-.2-1 .4-1-.4-1 .1-1 0-1-.1-1 .2-1 0-1 .1-1 0-1 .1-1-.3-1 .1-1-.1-1 .3-1 0-1 .1-1 .5-1-.9-1 .3-1-.4-1 .1-1 .1-1 0-1-.2-1 .7-1-.4-1 .5-1-.8-1 0-1 .1-1 0-1 .1-1 0-1 .2-1-.2-1 .8-1-1-1 .1-1 .6-1-.6-1 1.2-1-1.3-1 .1-1 .1-1-.1-1-.1-1 .1-1 .2-1-.3-1 .3-1-.3-1 .4-1 0-1-.2-1 .2-1-.3-1 0-1 .4-1-.4-1 .2-1-.2-1 0-1 .1-1 .8-1-1-1 .2-1-.1-1 .3-1-.4-1 .2-1 .1-1-.1-1 .2-1 .3-1 .1-1-.2-1 0-1 0-1 0-1 .4-1 .4-1-.9-1 0-1-.1-1-.2-1 1.1-1-1.3-1 .1-1 0-1 0-1-.1-1 .1-1 .3-1-.1-1 .7-1-1-1 .3-1-.1-1 .1-1 .9-1-1.1-1 0-1-.1-1 .3-1-.2-1 .1-1-.2-1 .3-1-.2-1 .2-1 .1-1-.2-1 .1-1-.1-1 .6-1-.8-1 .2-1-.2-1 .4-1-.3-1 .1-1-.2-1 .4-1-.3-1 0-1-.1-1 .1-1 .4-1-.5-1 .1-1 0-1-.1-1 .1-1 .1-1-.1-1 .2-1 1-1-.8-1-.4-1 .1-1 .7-1-.3-1-.3-1 0-1-.2-1-.1-1 .1-1 0-1 1-1-.5-1-.6-1 .5-1-.3-1 .3-1-.4-1 .2-1 .1-1-.1-1 0-1 .2-1-.3-1 0-1 .3-1-.3-1 .6-1-.2-1-.3-1 0-1 .6-1-.7-1-.2-1 .4-1 .4-1-.8-1 0-1 .1-1-.1-1 .1-1 .1-1-.1-1 .3-1 0-1-.3-1-.1-1 0-1 .4-1-.3-1 .1-1-.2-1 .2-1 .1-1-.1-1 0-1 0-1 .2-1-.1-1-.1-1 0-1 .3-1 .1-1-.5-1 .1-1 0-1 .1-1-.2-1 0-1 .1-1-.1-1 .3-1-.1-1-.1-1 0-1 .2-1-.3-1 .3-1-.3-1 0-1-.1-1 .1-1 .1-1 .1-1-.2-1-.1-1 .3-1-.3-1 .1-1 .5-1-.3-1-.2-1 .2-1-.2-1 .2-1-.1-1-.1-1 0-1 .1-1-.2-1 .3-1-.2-1-.1-1 .2-1 .2-1-.3-1 .1-1 .1-1-.2-1 .2-1-.3-1 .9-1-.8-1 .1-1 0-1 0-1 0-1 .1-1-.3-1 .1-1-.1-1 .2-1 .4-1-.2-1-.2-1 .2-1-.4-1 .3-1 0-1-.2-1-.1-1 .2-1-.1-1 .1-1 .2-1-.1-1 0-1-.2-1 0-1 .1-1 0-1 1-1-.7-1-.4-1-.1-1 .1-1 .4-1-.4-1 .4-1 .2-1-.5-1 .4-1-.4-1 0-1-.1-1 0-1-.1-1 0-1 .3-1-.1-1 .7-1-.8-1 .1-1 0-1-.1-1 0-1 .1-1-.2-1 0-1 .3-1 0-1-.3-1 0-1 .8-1-.7-1 .3-1-.4-1 .2-1-.1-1 .1-1 .2-1 .4-1-.2-1 .2-1-.1-1 .3-1-.5-1-.2-1-.1-1-.1-1 .2-1-.2-1-.1-1 .1-1 .4-1-.3-1 1-1-.5-1 .2-1-.1-1 0Z"/>
<path fill="#000000" d="M138.5 575.8l1 0 1-.3 1 .1 1 .3 1-.2 1 0 1 0 1-.3 1 .4 1 0 1-.4 1 .2 1 .3 1-.1 1-.1 1 .1 1 .1 1-.9 1 .9 1-.1 1 .1 1-.8 1 .6 1 0 1-.2 1 .3 1-.1 1 .1 1-.1 1 0 1-.6 1 .5 1 .1 1-.1 1 0 1 .3 1-.1 1 0 1 0 1-.1 1 .1 1-.1 1 .1 1 0 1 .1 1-.1 1-.5 1 .4 1 0 1 .1 1-.3 1 .3 1 .1 1-.2 1-.7 1 .8 1-.2 1 .1 1 .2 1-.1 1-.5 1 .3 1 .1 1 .1 1-.1 1 .2 1-.2 1 .2 1-.7 1 .2 1-.7 1 .3 1 .8 1-.2 1 .3 1-.2 1 0 1 .1 1 .1 1 0 1-.1 1-.8 1 .8 1 0 1-.1 1 0 1 .1 1 .1 1-.2 1-.1 1 .3 1-.3 1 .3 1-.1 1 0 1 0 1 .1 1-.2 1-.2 1 .2 1 .2 1-.3 1 .3 1 0 1 0 1-.5 1 .3 1 .1 1 0 1 0 1-.1 1 .2 1 0 1-.3 1-.2 1 .4 1-.1 1 .2 1-.2 1-.1 1 .1 1 .1 1 .1 1-.3 1 .2 1-.4 1 .5 1-.2 1 0 1 .2 1-.1 1 .1 1-.5 1 .2 1-.5 1 .7 1-.7 1 .8 1 0 1-.3 1 .3 1-.3 1 .2 1 0 1 0 1-.7 1 .8 1-.2 1 0 1 .1 1-.1 1 .1 1-.9 1 .9 1-.1 1 0 1 .2 1-.1 1-.2 1-.1 1 0 1-.1 1 .1 1 .2 1 .1 1 0 1-.2 1 .3 1-.1 1 0 1 0 1 .1 1-.1 1-.1 1 0 1-.8 1 1 1 0 1-.4 1-.1 1 .4 1-.2 1 .1 1 .2 1-.8 1 .8 1 0 1-.1 1-.1 1 .2 1-.2 1 .2 1-.2 1-.1 1 0 1 .1 1 .2 1 0 1-.3 1 .2 1 0 1 0 1 .1 1-.2 1 0 1 .1 1 0 1 .1 1-.2 1 .1 1-.1 1 .2 1 0 1-.9 1 .9 1-.4 1 .3 1 .1 1-.1 1 .1 1-.2 1 0 1-.1 1 .2 1-.7 1 .6 1 .2 1 0 1-.1 1-.4 1 .3 1 0 1-.1 1 .3 1-.2 1 .1 1-.2 1 .2 1-.7 1 .7 1 .1 1-.1 1 0 1 0 1 .1 1-.1 1-.2 1 .1 1 .2 1 0 1 0 1-.2 1 0 1-.3 1 .2 1-.1 1 .2 1 0 1 0 1 .2 1-.2 1 0 1 .2 1-.3 1 .2 1-.8 1 .8 1 0 1 .1 1-.1 1 .1 1-.2 1 0 1 0 1 .2 1-.1 1-.1 1 .1 1-.3 1-.1 1 .5 1-.6 1 .6 1-.1 1 0 1 0 1 0 1-.3 1 .4 1-.1 1 .1 1-.1 1-.1 1 0 1 .2 1 0 1 0 1 0 1 0 1-.5 1 .3 1-.3 1 .4 1 .1 1-.3 1 .1 1 .1 1-.1 1 .2 1-.2 1 .1 1 0 1-.9 1 1 1 0 1 0 1-.1 1 0 1-.1 1-.5 1 .7 1-.1 1-.1 1 .2 1 0 1-.2 1 .1 1-.2 1 0 1 .1 1 .1 1 0 1 .1 1 0 1-.1 1-.2 1-.1 1 .4 1 0 1-.3 1 .2 1-.2 1 0 1 .2 1-.1 1-.2 1 .2 1 .2 1-.5 1 .4 1-.1 1 0 1 .1 1-.1 1 .2 1 0 1-.5 1 .5 1-.1 1-.1 1 .2 1-.1 1-.2 1-.1 1 .3 1 0 1-.1 1 .2 1-.1 1 0 1 .1 1-.4 1 .2 1 0 1-.5 1 .7 1-.1 1 .1 1-.1 1 .1 1 0 1-.1 1 0 1-.2 1-.1 1 .4 1-.2 1 .1 1 .1 1-.2 1 .1 1-.2 1-.1 1-.4 1 .6 1 .2 1-.2 1 .1 1-.3 1 .1 1 .2 1-.1 1 0 1 .1 1 .1 1-.2 1-.1 1 .1 1 .1 1 0 1-.8 1 .8 1 0 1-.1 1-.3 1 .4 1 .1 1-.1 1 0 1 0 1 .1 1 0 1-.1 1 0 1-.1 1 .2 1-.1 1 0 1-.4 1 .3 1 .1 1-.9 1 .7 1 .2 1-.3 1-.5 1 .5 1 .4 1-.1 1 0 1 0 1-.6 1 .7 1 0 1-.1 1-.7 1 .1 1 .7 1-.2 1 .1 1-.1 1-.5 1 .6 1 .1 1-.2 1-.1 1 .2 1 .1 1-.1 1 .1 1-.2 1-.5 1 .5 1 0 1 .2 1-.1 1-.8 1 .9 1-1 1 .6 1 .1 1-.8 1 .9 1 0 1-.6 1 .8 1-.7 1 .4 1 .1 1 .1 1-.7 1 .6 1 .1 1 .1 1-.3 1 .1 1 .2 1-.6 1 .6 1-1.1 1 1.1 1-.2 1 .1 1-.1 1 .2 1-.1 1 0 1 0 1 .1 1 0 1-.2 1-.8 1 1 1-1 1 .9 1 .1 1 0 1-.1 1-.2 1 .2 1-.3 1 .1 1 .3 1 0 1-.1 1 0 1-.1 1 .1 1 .1 1 0 1-.3 1 0 1 .2 1 0 1-.1 1 .1 1 0 1 .1 1 0 1-.2 1 .2 1-.1 1-.1 1 .2 1-.2 1 .1 1 .1 1-.1 1-.1 1-.1 1-.5 1 .5 1-.3 1 .2 1-.5 1 .7 1-.2 1 0 1-.1 1-.4 1 .1 1 .4 1 .3 1-.2 1 .3 1-.1 1 .1 1-.3 1 .1 1 .2 1-.1 1-.1 1-.3 1-.4 1 .7 1 0 1 0 1 .1 1 0 1-.2 1 .3 1-.1 1-.2 1 .3 1-.7 1 .3 1 .3 1-.1 1 0 1 .2 1-.2 1 .1 1 .1 1-.2 1-.6 1 .8 1-.3 1 .1 1 .1 1 .1 1-.2 1-.1 1-.3 1 .5 1 0 1 .1 1-.2 1 .1 1-.1 1 0 1-.1 1 .2 1-.4 1 .2 1 .1 1-.4 1 .4 1 0 1 0 1 .2 1-.4 1 .4 1-.1 1-.2 1 .2 1 0 1-.1 1-.1 1-.1 1 .1 1 .2 1-.3 1 .2 1-.5 1 .3 1-.6 1 .9 1-.1 1-.3 1 .4 1 0 1 0 1-.2 1 .1 1-.2 1 .4 1-.2 1-.2 1-.6 1 .7 1 .2 1 .1 1-.1 1 0 1-.1 1 0 1-.7 1 .8 1-.4 1 .4 1-.1 1 0 1-.1 1 .1 1-.1 1-.1 1-.1 1 .2 1-.6 1 .8 1 .1 1-.2 1 0 1 0 1 .1 1 .1 1 0 1 0 1-.2 1-.2 1 .2 1 .1 1 .1 1-.2 1-.6 1 .8 1-.2 1 0 1 .2 1-.3 1 .1 1-.4 1 .6 1-.1 1-.1 1 .2 1-.7 1 .6 1 .1 1-.1 1 0 1 .1 1 0 1-.2 1 0 1-.1 1 .1 1 .2 1 0 1-.3 1 .1 1 0 1 .1 1 0 1 .1 1-.4 1 .4 1-.2 1 .1 1 .1 1 0 1-.2 1-.1 1 0 1 .2 1 .1 1-.2 1 .1 1 0 1 0 1-.2 1 .2 1-.7 1 .7 1-.2 1-.1 1 .3 1 0 1-.1 1 .1 1 .1 1 0 1-.2 1-.1 1 .2 1-.6 1 .2 1 .4 1-.1 1 .2 1-.1 1 0 1 .1 1-.3 1 .2 1 0 1-.1 1 .1 1 0 1 .1 1 0 1-.2 1-.1 1 .2 1-.2 1 0 1 .2 1 .1 1 0 1 0 1-.1 1 0 1-1 1 1 1-.4 1 .4 1 .1 1-.1 1 .1 1-.1 1 .1 1 0 1 0 1-.4 1 .3 1-.2 1 .1 1 .1 1-.2 1 .3 1-.1 1 0 1-.3 1 .4 1-.2 1 .2 1-.1 1 .1 1-.1 1 .1 1-.1 1 .1 1-.2 1 0 1 .2 1 0 1-.2 1 .2 1-.8 1 .6 1 0 1 .2 1 0 1-.4 1 .2 1 .2 1-.1 1-.1 1-.3 1 .3 1-.5 1 .4 1-1 1 1.3 1-.5 1 .3 1 .2 1-.2 1 .2 1 0 1-.1 1 .1 1-.2 1 0 1 .2 1 0 1 0 1 0 1-.8 1 .2 1 .5 1-.1 1 .1 1 .1 1-.8 1 .3 1 .4 1-.9 1 1 1-.1 1 0 1 0 1 0 1 .1 1-.2 1-.1 1-.1 1 .1 1 .1 1 .1 1 0 1 0 1-.3 1 .1 1 .3 1-.2 1-.1 1 .1 1-.6 1 .8 1-.7 1 .7 1-.1 1-.1 1-.1 1 .3 1-.4 1 .4 1 0 1 0 1-1.2 1 1.1 1 0 1 0 0 3-1 0-1 .3-1 .5-1-.6-1-.2-1 0-1 .6-1-.5-1-.1-1 .2-1-.2-1 .1-1 .2-1-.3-1 0-1 .1-1-.1-1 0-1 .9-1-.6-1-.2-1 .1-1-.1-1 0-1 0-1 .2-1 .1-1 0-1-.3-1 .3-1 0-1-.4-1 .3-1-.3-1 .1-1 1-1-1-1 .1-1 .2-1-.2-1-.2-1 .3-1-.3-1 .2-1-.1-1 .8-1-.7-1 .9-1-1-1 .2-1 .2-1-.5-1 .1-1-.1-1 .1-1 .2-1-.1-1 0-1-.1-1 .2-1-.2-1 .1-1-.2-1 .6-1-.5-1-.1-1 .9-1-.4-1-.5-1 0-1 0-1 0-1 .4-1 .2-1-.5-1 0-1 .1-1-.2-1 0-1 .2-1-.2-1 .7-1-.5-1-.1-1-.1-1 .3-1-.3-1 .2-1-.1-1 0-1 .2-1-.1-1-.1-1 0-1 0-1 .1-1 0-1 0-1-.1-1-.1-1 0-1 .3-1-.3-1 .4-1-.3-1 0-1-.1-1 .1-1 .5-1-.6-1 .1-1-.1-1 .2-1-.1-1 .1-1-.2-1 0-1 .1-1 .1-1-.1-1-.1-1 0-1 0-1 .2-1-.1-1 0-1 .3-1-.2-1 0-1 0-1-.1-1 .2-1 .1-1-.4-1 0-1 .3-1-.1-1 .1-1-.2-1 .1-1 0-1-.2-1 .1-1 .3-1-.3-1-.1-1 0-1 .4-1 .2-1-.6-1 .1-1-.1-1 .1-1-.1-1 0-1 .3-1-.3-1 0-1 0-1 0-1 .4-1-.3-1 .8-1 .1-1-.8-1 0-1-.2-1 .3-1-.3-1 0-1 .4-1-.4-1 .2-1-.2-1 .1-1-.1-1 .3-1-.1-1-.2-1 .2-1 .1-1 0-1-.2-1 0-1 .4-1-.3-1 0-1-.2-1 .3-1-.3-1 .1-1 .3-1-.4-1 0-1 .1-1 .4-1-.3-1 .2-1-.2-1-.2-1 0-1 .9-1-.7-1 .6-1-.8-1 0-1 .3-1-.2-1-.1-1 .2-1-.2-1 .1-1 .1-1 0-1 0-1 0-1 .5-1-.4-1 .3-1-.5-1 0-1-.1-1 .8-1-.6-1-.1-1 0-1 .1-1-.2-1 .1-1 0-1 .6-1-.7-1 .2-1-.1-1 .1-1 0-1 0-1-.1-1-.1-1 0-1 .3-1 0-1-.3-1 .7-1-.7-1 0-1 .3-1-.3-1 .1-1 .2-1 .1-1 .5-1-.5-1 0-1 .2-1 .5-1-.6-1-.2-1-.2-1 0-1-.1-1 0-1 0-1 0-1 0-1 .7-1-.4-1-.3-1 .2-1 .2-1-.1-1 .1-1-.3-1-.1-1 .2-1 0-1 0-1 .4-1-.6-1-.1-1 .5-1-.3-1 0-1 .2-1-.2-1 0-1 0-1 .2-1 .2-1-.4-1 .4-1-.6-1 .4-1-.2-1-.1-1 0-1 .2-1 .1-1 0-1-.4-1 .2-1 .2-1-.2-1 0-1 0-1 0-1 .1-1 .6-1-.7-1-.1-1 .2-1-.2-1 0-1 0-1 .3-1-.3-1 0-1 .1-1 0-1-.1-1 .9-1-.6-1 .2-1 .1-1 .2-1-.5-1-.2-1 0-1 .2-1 .4-1-.1-1-.3-1-.1-1 0-1-.2-1 .2-1 0-1 .9-1-1-1 .2-1-.2-1-.1-1 0-1 0-1 0-1 .7-1-.8-1 1-1-.9-1 .2-1 0-1 .1-1 0-1-.2-1-.1-1 .8-1-.6-1 0-1-.1-1 .1-1-.1-1 0-1 .3-1 0-1 0-1-.4-1 .4-1-.2-1-.2-1 0-1 0-1 0-1 .1-1 .3-1-.2-1 .3-1-.5-1 .2-1-.2-1 .9-1-.7-1-.2-1 0-1 0-1 .2-1 0-1-.2-1 .3-1-.4-1 .1-1 .7-1-.2-1-.5-1 .9-1-.4-1-.5-1 0-1 0-1 .9-1-.8-1 0-1 0-1 0-1 .7-1-.7-1 .1-1 0-1 0-1-.1-1 .1-1-.1-1 .2-1-.1-1-.2-1 0-1 .2-1-.1-1-.1-1 0-1 .5-1-.5-1-.1-1 1.2-1-.9-1-.2-1 .3-1-.2-1 0-1 .6-1-.6-1-.1-1 .1-1 .2-1 .3-1-.6-1-.1-1 0-1 .8-1-.6-1 0-1-.1-1 .6-1 0-1-.5-1 .1-1 .5-1 0-1-.7-1 .2-1-.2-1 0-1 .3-1-.2-1-.1-1 0-1 .1-1-.1-1 0-1 1.2-1-.9-1 .3-1-.6-1 .2-1-.1-1 0-1 .1-1-.2-1 0-1 0-1 0-1 0-1 0-1 .8-1-.8-1 .1-1 .1-1 0-1 .6-1-.8-1 .9-1-.8-1-.1-1 0-1 .3-1-.3-1 .3-1-.3-1 0-1 .4-1-.3-1 .5-1-.2-1-.2-1-.1-1-.1-1 0-1 0-1 .3-1 .5-1-.6-1 0-1 .1-1-.1-1-.2-1 1.2-1-1.1-1 0-1 .1-1-.2-1 0-1 0-1 0-1 0-1 .1-1 0-1 .1-1-.2-1 .7-1-.7-1 .4-1-.4-1 .4-1 0-1-.4-1 .4-1-.4-1 .1-1 0-1 .1-1-.2-1 .7-1 0-1-.6-1 .4-1-.4-1 .3-1-.3-1-.1-1 .6-1-.4-1-.2-1 .3-1-.2-1-.2-1 .1-1 .1-1-.1-1 0-1 0-1 1-1-.8-1 .2-1-.3-1 .7-1-.5-1 0-1-.3-1 .1-1 .9-1-.8-1-.3-1 .4-1-.4-1 .3-1-.2-1 0-1 .1-1-.1-1 .2-1-.1-1 .1-1-.1-1 .1-1-.2-1 .2-1-.1-1-.1-1 0-1 .2-1 .2-1-.3-1 .2-1-.2-1 .8-1-.5-1-.4-1 .2-1-.1-1 0-1 .3-1-.1-1 .1-1-.1-1-.2-1 1-1-.5-1-.3-1-.2-1 0-1-.1-1 0-1 .3-1-.2-1 .4-1-.4-1-.1-1 .1-1-.1-1 .2-1 .6-1-.7-1-.1-1 0-1 .3-1-.2-1-.1-1 0-1 0-1 .3-1 .4-1-.7-1 .2-1-.1-1 .5-1-.6-1 0-1 .1-1-.1-1 .6-1-.4-1 0-1-.1-1 0-1-.1-1 .4-1-.4-1 0-1 .1-1 .1-1-.2-1 .4-1-.4-1 .8-1-.7-1-.1-1 0-1 0-1 0-1 0-1 0-1 .1-1 0-1-.1-1 0-1 .1-1 0-1 .6-1-.7-1 .1-1 .2-1 0-1 0-1-.1-1 0-1 .7-1-.4-1-.6-1 .1-1 0-1 .3-1 .2-1-.2-1-.2-1 .2-1-.3-1 .1-1 0-1-.1-1 .5-1-.2-1-.3-1 0-1 .7-1-.8-1 .1-1 0-1 0-1 .2-1 1-1-1.3-1 .3-1 0-1 0-1-.2-1 .1-1 .1-1-.2-1 0-1 0-1 .1-1 0-1-.1-1 .3-1-.1-1 .2-1-.3-1 .1-1 .3-1 .2-1-.6-1 .6-1 .4-1-.8-1-.1-1-.1-1-.1-1 1-1-.7-1-.4-1 .1-1 .1-1 .1-1-.1-1 .1-1 0-1 .5-1-.8-1 .1-1 0-1 .2-1-.2-1 .1-1-.1-1 .2-1-.2-1 0-1 .1-1 0-1 .1-1-.2-1 .4-1-.3-1-.1-1 .1-1-.1-1 0-1 0-1 .2-1 .8-1-.8-1 .1-1 0-1-.1-1-.1-1 0-1 .1-1 .6-1-.8-1 1-1-1-1 0-1 .1-1 .1-1 0-1 .1-1-.1-1 .3-1-.5-1 .1-1-.1-1 .9-1-.7-1-.2-1 .2-1-.2-1 .2-1-.1-1 .5-1-.6-1 .1-1 .2-1 .1-1 0-1-.3-1 .3-1 0-1-.5-1 .4-1-.2-1 0-1 .3-1-.4-1 .2-1 .3-1 .5-1-1-1 .2-1 .1-1 .1-1-.2-1 .1-1-.2-1 .3-1 .1-1-.3-1 .2-1-.3-1-.1-1 .4-1-.4-1 .1-1-.1-1 .3-1-.3-1 .1-1 0-1 .3-1-.3-1-.1-1 0-1 0-1 .3-1-.3-1-.1-1 .1-1 0-1 0-1 .2-1-.3-1 0-1 1-1-.3-1-.5-1 .2-1-.3-1-.1-1 .1-1 .1-1-.1-1 .2-1-.2-1 .3-1-.1-1-.2-1 0-1 0-1 0-1 .1-1-.1-1 .2-1-.1-1 .8-1 .1-1-1-1 .1-1 0-1 0-1-.2-1 .7-1-.1-1-.1-1-.4-1-.1-1 .1-1 .3-1 .8-1-1.1-1 0-1 0-1 .1-1-.1-1 .4-1-.4-1 0Z"/>
<path fill="#ff0000" d="M138.5 607.3l1 0 1 .2 1 .1 1 0 1-.1 1 .1 1 0 1 0 1 0 1-1.1 1 .6 1 .3 1 0 1-.3 1 .3 1 0 1 .3 1-.2 1 0 1 .1 1 0 1-.1 1 .1 1 0 1 .1 1-.1 1-.2 1 .3 1 0 1-.1 1-.1 1-.2 1 .2 1 .2 1 0 1-.1 1 0 1-.1 1-.1 1-.9 1 .8 1-.3 1 .1 1-.2 1 .5 1-.4 1 .6 1-.1 1 .2 1-.1 1 .1 1-.2 1-.2 1 .4 1 0 1-.1 1 .1 1-.3 1 .2 1 0 1-.5 1 .5 1-.6 1-.8 1 1.2 1 .2 1 .1 1-1 1 .7 1 .1 1 .2 1-1 1 .8 1-.5 1 .5 1 0 1 0 1 .2 1-1.1 1 .9 1 .2 1-1 1 .8 1 .1 1 0 1-.1 1-.1 1 .3 1-.2 1-.4 1 .6 1 0 1-.1 1-.1 1 .1 1 0 1-.2 1 .1 1 .2 1-.2 1 0 1 .1 1-.3 1 .3 1 0 1-.1 1 .2 1-.2 1 .1 1-.3 1 .3 1-.2 1 0 1 .1 1 0 1-.1 1 .2 1-.7 1 .6 1-.6 1 .8 1-.7 1 .5 1 .2 1-.1 1-.1 1 .1 1 0 1-.1 1-.6 1 .6 1-.5 1 .6 1-.1 1 .1 1 .1 1-.3 1 .2 1 .1 1-.3 1 .1 1-.1 1 0 1 .2 1-.1 1-.1 1 .2 1-.3 1-.3 1 .4 1 .3 1-.3 1 .3 1-.1 1-.1 1-.1 1 .3 1-.8 1 .8 1-.3 1 .2 1-.2 1-.1 1-.1 1 0 1 .2 1-.7 1 1 1-.1 1 0 1-.1 1 .1 1 .1 1 0 1 0 1-.2 1 0 1 0 1 .2 1-.1 1-.7 1 .7 1-.1 1 .1 1-.1 1-.3 1 .2 1 .1 1 .2 1-.1 1 .1 1-.8 1-.1 1 .8 1 0 1-.2 1 .2 1 .1 1-.9 1-.4 1 1 1 .2 1 0 1-.2 1 .3 1-.4 1 .2 1-.4 1 .5 1 .1 1-.3 1 .3 1 0 1 0 1-.1 1 0 1 0 1-.3 1-.4 1 .7 1-.1 1 .2 1 0 1 0 1-.1 1 0 1 .1 1 0 1-.1 1-.6 1 .5 1-.2 1 .4 1-.1 1 0 1 .1 1-.1 1 0 1 0 1-.2 1 .2 1 0 1 .1 1-.1 1-.5 1 .5 1 .1 1-.2 1-.9 1 1 1 .1 1 0 1-.2 1-.1 1 .2 1-.7 1 .7 1-.1 1 .2 1 0 1-.4 1-.6 1 .8 1 .1 1-.1 1 .1 1-.3 1 .3 1-.1 1 .1 1 0 1 0 1-1.3 1 1.1 1 .3 1-.2 1 .2 1-.3 1 .3 1-.1 1-.1 1 0 1 .1 1 0 1 0 1-.2 1 0 1 .2 1-.1 1-.7 1 .9 1 0 1 0 1 0 1 0 1-.1 1 .1 1-.2 1 .1 1-.2 1 .1 1-.3 1-.3 1 .3 1 .3 1 .1 1-.1 1 .1 1-.2 1 .3 1-.3 1 .1 1-.1 1 .1 1-.2 1 0 1 .1 1-.3 1 .4 1-.2 1 0 1 .2 1 .1 1-.1 1 .2 1 0 1-.1 1 0 1-.1 1 .2 1-.2 1-.1 1 .3 1-.1 1 .1 1-.9 1 .5 1 .4 1 0 1-.3 1-.1 1 0 1 .4 1-.3 1 0 1 .2 1 0 1 0 1-.4 1-.1 1 .4 1 0 1 0 1-.1 1-.1 1-.6 1 1 1-.3 1 .2 1 0 1-.7 1 .2 1 .4 1 .1 1-.1 1 .2 1 0 1-.4 1-.3 1 .2 1 0 1 .4 1-.2 1 .3 1-.2 1 .2 1 0 1 0 1 0 1-.2 1 .2 1-.2 1-.3 1 .5 1 0 1-.8 1 .2 1 .1 1 .3 1-.3 1 .3 1 .1 1-1 1 1.1 1-.2 1-.2 1 .2 1 .1 1-.1 1-.1 1-.1 1 .3 1 .1 1-.1 1-.4 1 .3 1 .1 1-.5 1 .4 1 .2 1 0 1-.1 1 .1 1-.1 1 .1 1-.6 1 0 1 .6 1 0 1-.2 1-.1 1 .2 1-.3 1-.1 1-.2 1 .4 1 .1 1 .1 1-.2 1 .2 1 .1 1-.2 1 .1 1 0 1-.2 1-.1 1-.8 1 .9 1 .1 1-.1 1 0 1 .1 1 .2 1-.1 1-.1 1-.5 1 .7 1-.9 1 .7 1 .1 1 .1 1-.1 1-.3 1 .1 1 .2 1 0 1 0 1-.1 1-.3 1 .2 1 0 1 .2 1-.9 1 .8 1 .1 1-.2 1-.1 1 .4 1-.4 1 .2 1 .2 1-.3 1-.3 1 .5 1 0 1-.4 1 .4 1 0 1-.2 1 .2 1 0 1 .1 1-.2 1-.1 1 .3 1-.3 1 .2 1-.5 1 .6 1-.2 1 .1 1-.9 1 .9 1-.8 1 .6 1-.1 1 .2 1 .1 1 0 1-.1 1 .1 1-.1 1-.2 1 .2 1 .2 1 0 1-.1 1-.4 1 .5 1-.6 1 .5 1-.1 1 .2 1 0 1-.1 1-.1 1 .2 1-.4 1 .4 1-.8 1 .5 1 .2 1-.2 1 .3 1-.1 1 .1 1-.4 1 0 1 .4 1 0 1-.4 1-.1 1 .3 1 .1 1 0 1-.1 1 0 1 .1 1 .1 1 0 1 0 1-.1 1-.1 1 .2 1-.1 1-.8 1 .8 1 0 1-.1 1 0 1-.5 1 0 1-.4 1-.4 1 .8 1 .1 1 .2 1 .1 1 .1 1 .2 1-1 1 .6 1 .1 1 .3 1 0 1-.2 1 0 1 .1 1 0 1 0 1 .1 1-.1 1 .1 1 0 1 0 1-.2 1 .2 1-.3 1-.1 1 .2 1 .2 1-.2 1 .1 1-.1 1-.4 1 0 1 .5 1 0 1 .1 1 0 1-.3 1 .3 1-.1 1-.1 1-.3 1 .3 1-.8 1 .7 1-.2 1 0 1-.7 1 .6 1 .4 1-.1 1 .2 1-.2 1 .2 1 .1 1-.1 1-.3 1 .3 1-.8 1 .5 1-.2 1 .5 1-.1 1-.1 1-.3 1 .2 1-.7 1 .9 1-.3 1 .4 1-.8 1 .7 1 .2 1-.3 1 .3 1 0 1-.6 1 .5 1 .1 1-.2 1-.1 1 .2 1 0 1-.5 1 .5 1 .1 1-.1 1 0 1 .1 1-.3 1 0 1-.2 1 .1 1 0 1 0 1 0 1 .3 1 0 1-.2 1 .1 1-.3 1 .5 1-.7 1 .6 1-.2 1 .1 1 .1 1-.2 1 0 1 .1 1 .2 1-.1 1-.4 1 .4 1-.2 1 .3 1-.2 1-.3 1-.6 1 1 1 0 1 .1 1 0 1 0 1-.1 1-1.2 1 1 1-.5 1 .1 1-.1 1 .4 1-.1 1 .2 1 0 1 .1 1 0 1 .2 1-.1 1 0 1-.3 1 .4 1-.1 1 .1 1-1 1 .2 1 .7 1-.1 1 0 1-.4 1-.8 1 .8 1 .1 1 0 1 .3 1-.1 1 0 1 .1 1 .2 1-.1 1-.8 1 .8 1 .1 1-.1 1-.1 1 .2 1-1 1 1 1-.1 1 .1 1 0 1-.1 1 0 1 0 1-1 1 1 1 0 1 0 1-.1 1 .1 1-.1 1-.3 1-.2 1-.7 1 1.2 1-.4 1 .5 1-.2 1-.4 1 .2 1 .2 1 .2 1 0 1 0 1 0 1-.7 1 .6 1 .2 1 0 1-.3 1 0 1 .3 1-.2 1-.3 1 .4 1 0 1-.7 1 .8 1-.1 1-.2 1 .1 1-.6 1 .7 1-.1 1 .2 1-.7 1 .5 1 .2 1-.6 1 .5 1-.2 1 .2 1-.3 1 .2 1 .1 1-.2 1 .1 1 .2 1 0 1-.3 1 0 1 .3 1-.4 1 .3 1-.8 1 .5 1-.1 1 .3 1-.3 1 0 1 0 1 .2 1-.2 1 .5 1-.1 1 .1 1-.2 1 0 1 .1 1-.1 1 0 1 0 1-.7 1 .9 1 0 1 0 1-.1 1 .1 1-.1 1-.2 1 .3 1-.1 1 .1 1 0 1-.1 1-.2 1 .3 1 0 1-.3 1 .1 1 .1 1 0 1-.1 1 0 1-.1 1-.2 1 .1 1 .3 1-.2 1 .3 1 0 1-.3 1 .2 1-.2 1 .2 1-.1 1 0 1 .2 .5-.3 1 0 0-2.1 1 0 0-.6 1 0 0-.3 1 0 0-1.7 1 0 0 .5 1 0 0-.4 1 0 0 .3 1 0 0 .3 1 0 0 .4 1 0 0-.1 1 0 0-.5 1 0 0-.4 1 0 0 .8 1 0 0-.6 1 0 0 .2 1 0 0 1 1 0 0-.9 1 0 0 .7 1 0 0 .2 1 0 0-5.9 1 0 0-3.8 1 0 0-.8 1 0 0 .9 1 0 0-11.8 1 0 0-12.2 1 0 0-.2 1 0 0 11.7 1 0 0 4.7 1 0 0-.5 1 0 0 2 1 0 0 2.2 1 0 0 .8 1 0 .5 0 0 39.3-.5 0-1 0 0-1.1-1 0 0-3.5-1 0 0 10.9-1 0 0 .3-1 0 0-.2-1 0 0 .3-1 0 0 .4-1 0 0 .1-1 0 0-9.7-1 0 0-.9-1 0 0-2.4-1 0 0-7.6-1 0 0-2.1-1 0 0-.8-1 0 0 .3-1 0 0 .4-1 0 0-.7-1 0 0 .7-1 0 0-.7-1 0 0 .1-1 0 0-.1-1 0 0-.5-1 0 0 1.3-1 0 0-.4-1 0 0 .5-1 0-1 0 0-.8-1 0 0-.2-1 0 0-.4-1 0 0 .1-1 0 0-1.3-1 0 0-2.1-1 0-.5-.4-1 .5-1-.2-1-.3-1 .2-1-.3-1 1.1-1-.9-1-.1-1 0-1 .1-1 .1-1 .2-1-.4-1 .4-1-.4-1 .5-1-.5-1 .3-1 .3-1-.2-1-.4-1 .3-1 .1-1-.3-1-.1-1 .5-1 .2-1-.6-1 .3-1-.2-1 .5-1-.6-1 0-1 0-1 0-1 .1-1 .1-1-.1-1 .8-1-.7-1-.2-1-.1-1 .1-1 .7-1-.7-1 .2-1 .1-1 .1-1 .1-1-.5-1 .6-1-.5-1 .1-1-.4-1 .3-1-.2-1 .4-1-.5-1 .1-1 0-1 .1-1 .1-1-.1-1-.1-1 .2-1-.2-1 .2-1-.2-1 .2-1-.1-1-.1-1 .2-1-.3-1 .3-1 .1-1-.3-1 .8-1-.8-1-.1-1 .2-1 0-1 .6-1-.7-1 .6-1-.3-1-.3-1 .2-1-.2-1 .3-1 0-1 .2-1-.5-1 0-1 .9-1-.8-1 .3-1-.4-1 0-1 0-1 0-1 .5-1-.5-1 .2-1 .2-1 .3-1-.4-1-.1-1-.2-1 0-1 0-1 .2-1-.1-1-.1-1-.1-1 .7-1-.3-1 .2-1-.4-1 .8-1-.8-1-.1-1 0-1 .4-1-.4-1 .6-1-.4-1-.2-1 0-1 .1-1 .2-1-.2-1 .1-1 .3-1-.2-1 .2-1 .1-1 0-1-.3-1 .3-1 .1-1-.6-1 .2-1-.3-1 0-1 0-1 .6-1-.5-1-.1-1 .2-1-.1-1 0-1 0-1 0-1 .1-1 .8-1-.5-1 .1-1-.1-1-.4-1 .2-1-.2-1 0-1-.1-1 .1-1-.1-1 .2-1 0-1-.1-1-.1-1 .4-1-.4-1 0-1 0-1 0-1 .3-1 .5-1-.4-1-.2-1-.2-1 .1-1-.1-1 .3-1-.3-1 .8-1-.6-1 0-1-.2-1 .1-1-.1-1 .1-1 .2-1 .1-1-.2-1 .4-1-.2-1-.1-1 .2-1-.3-1-.2-1 .5-1 .1-1 .2-1-.7-1 .2-1-.3-1 .1-1 0-1 .1-1-.1-1 .2-1-.4-1 .2-1 0-1 0-1-.1-1 .3-1-.1-1 .1-1-.1-1 .3-1-.2-1-.1-1 .2-1 .6-1-.6-1-.3-1 .1-1-.1-1 0-1 .3-1-.4-1 .1-1 .4-1-.4-1 .8-1-.6-1-.1-1 .4-1-.3-1 .4-1-.1-1-.4-1 0-1-.1-1-.2-1 .2-1-.1-1-.1-1 .2-1 .7-1-.7-1-.1-1 0-1 0-1 .2-1 .6-1-.7-1-.1-1 1-1-1-1 .2-1-.2-1 0-1 .1-1 .2-1-.1-1 .3-1-.3-1 0-1-.2-1 .8-1-.7-1 0-1 0-1 .3-1-.3-1-.1-1 .1-1 0-1-.1-1 .2-1 .2-1 .1-1 .1-1 .3-1 .1-1-.1-1-.2-1-.3-1-.1-1-.1-1-.2-1 .1-1-.1-1 .1-1 0-1 0-1-.1-1 1-1-.6-1-.3-1 .4-1-.5-1 0-1 .1-1-.1-1 .4-1-.4-1 0-1 .7-1-.5-1-.2-1 .3-1-.3-1 .2-1 .3-1-.3-1-.2-1 .2-1-.1-1 0-1-.1-1 0-1 0-1 .8-1-.7-1 .1-1 .2-1-.5-1 .2-1-.1-1 .6-1-.3-1 .1-1-.4-1 .1-1-.2-1 .5-1-.4-1 .6-1-.3-1-.2-1 0-1 .1-1-.2-1 0-1 0-1 .2-1 .1-1-.2-1-.1-1 .1-1-.1-1 .4-1-.4-1 .1-1 .3-1-.2-1-.2-1 0-1 .1-1-.1-1 .4-1-.4-1 .2-1 .2-1-.4-1 .3-1-.3-1 .1-1-.1-1 .3-1-.2-1 .1-1-.1-1 .1-1-.2-1 .2-1 .5-1-.7-1 .1-1 .1-1-.2-1 .1-1 .4-1-.5-1 0-1 .1-1 .1-1-.2-1 .2-1-.2-1 0-1 .1-1 .1-1 0-1 0-1 .2-1-.3-1 .1-1 .2-1 .1-1 .2-1-.2-1 0-1 .1-1-.5-1 0-1 .3-1-.2-1 .3-1-.4-1 .3-1-.4-1 .3-1 .3-1-.2-1-.5-1 .3-1 .1-1-.2-1 .1-1-.1-1 0-1 0-1-.1-1 .1-1 0-1-.1-1 0-1 .1-1-.1-1-.1-1 .2-1 0-1-.1-1 0-1 .1-1 .7-1-.6-1-.2-1 .6-1-.5-1 0-1 .5-1-.3-1 .4-1-.7-1 .6-1-.6-1 0-1 .2-1 .2-1-.3-1 0-1-.1-1 .1-1-.1-1 0-1 .1-1-.1-1-.1-1 .1-1 0-1 .4-1-.3-1-.1-1 .1-1-.1-1 0-1 .1-1-.1-1 0-1 .4-1 .4-1-.6-1-.1-1-.2-1 .2-1 .3-1-.4-1 .1-1-.1-1 .1-1-.1-1 .2-1 .8-1-1-1 .4-1-.2-1-.2-1 .1-1 0-1-.1-1 .3-1-.1-1 .6-1-.4-1-.3-1 0-1 .3-1 .6-1-1-1 .1-1 .1-1 0-1-.2-1-.1-1 .1-1 0-1 1.1-1-.6-1-.5-1 .1-1-.1-1 .3-1-.2-1-.1-1 0-1 .1-1 .1-1 0-1 .2-1 .2-1 .5-1-1-1 0-1 .1-1-.3-1 .1-1-.1-1 .2-1 0-1 0-1 .1-1 .3-1 .1-1 0-1-.4-1-.1-1 0-1 0-1-.1-1 .3-1-.3-1 .3-1-.1-1-.2-1 0-1 .1-1 .2-1-.1-1 .3-1-.4-1-.1-1 .1-1-.2-1 .4-1-.4-1 .1-1 0-1 0-1 0-1 0-1 .1-1 0-1-.1-1-.1-1 .1-1 .1-1-.1-1 .2-1-.1-1-.1-1 0-1 .3-1-.2-1 .1-1 0-1 .1-1-.3-1 .2-1-.1-1 0-1 .1-1 .3-1 .3-1-.8-1 .3-1-.2-1 0-1 0-1 0-1 0-1 0-1 .1-1 .9-1-1-1 .1-1-.1-1-.2-1 .3-1-.1-1-.1-1 0-1 0-1 .1-1-.1-1 0-1 .1-1-.2-1 .1-1 .1-1-.2-1 .7-1-.6-1 .2-1 .1-1-.3-1 .1-1-.1-1-.1-1 .7-1-.6-1 .1-1 .1-1-.3-1 .2-1-.1-1 .5-1-.4-1 0-1 .8-1-.6-1 0-1-.2-1 0-1-.2-1 .8-1-.7-1 0-1 .4-1-.2-1 .7-1-1-1 1.1-1-.9-1-.1-1 .1-1-.1-1 0-1 0-1 .4-1-.4-1 0-1 0-1 .3-1 .1-1-.3-1 .4-1-.2-1-.1-1-.3-1 0-1 .3-1-.2-1 .1-1-.1-1 .1-1-.1-1 0-1 0-1 0-1 .9-1-.1-1-.1-1-.3-1-.3-1 .3-1-.4-1-.1-1 .1-1 0-1 .2-1 .6-1-.6-1-.3-1 .2-1-.1-1-.1-1 .1-1 0-1 0-1 .1-1-.1-1 0-1 0-1 .3-1-.1-1-.3-1 .7-1-.4-1-.1-1 0-1-.1-1 0-1 0-1 .4-1 .2-1-.6-1 0-1-.1-1 .1-1 .4-1 0-1-.3-1 .1-1-.2-1 0-1 .2-1 0-1-.1-1-.1-1 .7-1-.6-1-.1-1 .2-1 0-1-.2-1 .1-1 0-1 .7-1-.5-1-.3-1 .2-1 0-1 .4-1-.5-1 0-1-.1-1 0-1 0-1 .1-1-.1-1 .1-1 0-1 .1-1-.1-1-.1-1 0-1 .8-1 .1-1-.7-1-.1-1-.1-1 0-1 0-1 0-1 0-1 .9-1-.7-1-.1-1-.1-1 .5-1-.2-1-.4-1 .2-1-.1-1 .3-1 0-1-.2-1-.1-1 .1-1 .2-1-.2-1-.1-1 .3-1-.1-1-.3-1 .4-1-.3-1 .1-1-.1-1 0-1 .5-1-.5-1 .1-1 0-1 .3-1-.4-1-.1-1 .4-1 0-1-.2-1 .7-1-.5-1 0-1 .2-1 0-1-.2-1 .1-1-.3-1-.1-1 .1-1 .7-1-.7-1 0-1 .4-1-.5-1 .8-1-.7-1 .1-1 .6-1-.8-1 .1-1 .2-1-.3-1 .1-1 .3-1-.3-1 .2-1-.3-1 .1-1 .2-1-.2-1-.1-1 .1-1 .1-1 .4-1-.5-1 0-1 .1-1 0-1 0-1-.2-1 .3-1-.2-1 .4-1-.4-1 0Z"/>
<path fill="#0000ff" d="M138.5 624.0l.5 0 1 0 0-.3 1 0 0 1.2 1 0 0-1.2 1 0 0 6.4 1 0 0-.2 1 0 0-2.5 1 0 0 1 1 0 0-7.4 1 0 0-.1 1 0 0 .8 1 0 0 10 1 0 0 .2 1 0 0 .9 1 0 0-.8 1 0 0-1.1 1 0 0-2.8 1 0 0-.5 1 0 0 .9 1 0 0 .1 1 0 0 2.9 1 0 0 .4 1 0 0 .1 1 0 0 1.2 1 0 1 0 0-.3 1 0 1 0 0 .1 1 0 0-.7 1 0 0 .2 1 0 0 .2 1 0 0-.4 1 0 0 .6 1 0 0 1 1 0 0 2 1 0 0-.6 1 0 0-.4 1 0 0-4.8 1 0 0 1.1 1 0 0 4.5 1 0 0 .6 1 0 0-1.2 1 0 0-.1 1 0 0 .4 1 0 0-1.7 1 0 0-5.3 1 0 0-.3 1 0 0-.2 1 0 0-.3 1 0 0 2.9 1 0 0 3.5 1 0 0-.1 1 0 0 .7 1 0 0-.3 1 0 0 .6 1 0 0 .6 1 0 0-.2 1 0 0-1 1 0 0-.3 1 0 0 1.6 1 0 1 0 0-.6 1 0 0 .2 1 0 0-.1 1 0 0 .4 1 0 0-.4 1 0 0 .4 1 0 0 .3 1 0 0 .8 1 0 0-.2 1 0 0 .7 1 0 0-.8 1 0 0 .3 1 0 0 .7 1 0 0-.9 1 0 0 .3 1 0 0 .4 1 0 0-.5 1 0 0 .3 1 0 1 0 1 0 1 0 0 .4 1 0 0-.7 1 0 0 .2 1 0 0 .8 1 0 0-.5 1 0 0-.3 1 0 0 .1 1 0 0 .4 1 0 0-.8 1 0 0-.1 1 0 0 .9 1 0 0-.7 1 0 0 .1 1 0 0-.3 1 0 0 .2 1 0 0 .2 1 0 0 .1 1 0 0 .2 1 0 0-.5 1 0 0 .4 1 0 0-.3 1 0 0-.5 1 0 0 .9 1 0 0-.2 1 0 0 .1 1 0 0-.2 1 0 0 .7 1 0 0-.3 1 0 1 0 0 .1 1 0 0-.3 1 0 0 .1 1 0 0-.2 1 0 0-.7 1 0 0 1.2 1 0 0 .2 1 0 1 0 0-.7 1 0 1 0 0-1 1 0 0 .9 1 0 0-.8 1 0 0 .2 1 0 0 1.1 1 0 0-1.1 1 0 1 0 0 .1 1 0 0 .3 1 0 0 .9 1 0 0 .6 1 0 0 .2 1 0 0 .4 1 0 0-.2 1 0 1 0 0 .3 1 0 0-.2 1 0 0 .4 1 0 0-.3 1 0 0-.1 1 0 0 .2 1 0 0-.3 1 0 0 .3 1 0 0-.2 1 0 0 .2 1 0 1 0 0 .3 1 0 0-.2 1 0 0 .1 1 0 0-.4 1 0 0 .4 1 0 0-.2 1 0 0 .4 1 0 1 0 0-.5 1 0 0 .1 1 0 1 0 0 .1 1 0 1 0 0 .2 1 0 0-.1 1 0 1 0 0-.1 1 0 0 .1 1 0 1 0 0-.2 1 0 0 .1 1 0 1 0 0-.1 1 0 0 .1 1 0 1 0 0 .2 1 0 1 0 0-.2 1 0 0 .3 1 0 0-.3 1 0 0 .2 1 0 0 .1 1 0 0-.4 1 0 1 0 0 .4 1 0 0-.1 1 0 0-.2 1 0 0-.5 1 0 0 .1 1 0 0 .5 1 0 1 0 0-.1 1 0 0 .3 1 0 0-.3 1 0 0 .3 1 0 1 0 0-.5 1 0 0-.7 1 0 0 1 1 0 0-.1 1 0 0 .1 1 0 0 .2 1 0 0-.1 1 0 0-.3 1 0 0 .2 1 0 0 .3 1 0 0-.2 1 0 0-.2 1 0 1 0 0 .2 1 0 1 0 0-.1 1 0 1 0 0 .1 1 0 .5-1 1 .7 1 0 1-.1 1 .4 1-1 1 .9 1 0 1 .1 1 .1 1 0 1-.3 1 .1 1 .2 1-.7 1-.1 1 .8 1-.3 1 .1 1 .3 1-.1 1 0 1 0 1 0 1-.1 1-.1 1 .2 1-.1 1 .1 1 0 1-.2 1-.1 1 0 1 .3 1-.2 1 .3 1-.6 1 .5 1-.1 1 .2 1-.6 1 .5 1-.1 1 .2 1-.8 1 .4 1 .3 1-.2 1-1 1 1 1 .2 1-.2 1-.2 1 .4 1-.2 1-.1 1-.4 1-.5 1 .9 1-.2 1 .2 1 .2 1-.1 1-.2 1 .2 1 .3 1-.1 1-.3 1-.4 1 .1 1-.1 1 .6 1 0 1 0 1 .1 1-.8 1 .7 1-.1 1 .1 1 0 1 .1 1-1.2 1 1.1 1-.6 1 .7 1-.1 1 0 1 .1 1-.1 1-.2 1 .1 1 0 1 .2 1-.1 1-.2 1 .1 1 .2 1-.3 1 0 1 .1 1 0 1 .2 1 0 1-.1 1 .1 1 0 1 0 1-.1 1-.5 1 .6 1-.2 1 0 1 .1 1-.1 1 0 1 .2 1 0 1 0 1-.1 1 .1 1-.1 1-.7 1 .8 1-.2 1 0 1-.2 1 .2 1 .2 1 .1 1-.1 1 0 1 0 1 0 1 0 1-.1 1-.3 1 .4 1-.1 1 0 1-.1 1 .2 1-.2 1-.2 1 .1 1-.1 1 0 1 0 1 0 1 .3 1 0 1 0 1-.1 1 .2 1 0 1-.1 1 .1 1 .1 1-.1 1-.1 1 .1 1-.3 1 .3 1-.1 1 0 1-.4 1-.1 1 .1 1 0 1-.5 1 .9 1-.2 1 0 1 0 1 .3 1-.3 1 .4 1 0 1 0 1-.8 1 .1 1 .4 1-.1 1 .1 1 .1 1-.1 1 .1 1-.3 1 .3 1 0 1 .1 1-1 1 .4 1 .6 1-.1 1 0 1 .1 1-.1 1 0 1-.1 1-.4 1 .6 1-.4 1 .3 1 .1 1-.6 1 .2 1 .1 1 .2 1 .1 1 .1 1 0 1-1 1 .9 1-.2 1 .1 1-.1 1 .1 1 .1 1-.1 1 0 1 .2 1-.3 1 .3 1-.3 1 .1 1-.3 1 .3 1 .1 1-.1 1-.1 1 .2 1-.7 1 .5 1 .1 1 0 1 0 1-.3 1 .3 1 0 1 .2 1-.2 1 .2 1-.2 1 0 1-.1 1-.1 1 .1 1 .2 1 0 1 .1 1-.1 1-.6 1-.5 1 1 1-.1 1 .2 1-.3 1 .1 1 .2 1-.3 1 .2 1-.3 1 .3 1 .1 1-.4 1 .3 1 .1 1 .1 1-.2 1 .2 1-.1 1-.4 1 .4 1-.3 1 .2 1 .1 1-.4 1 .4 1 0 1-.2 1-.1 1 .2 1 0 1-.1 1 .1 1-.1 1-.2 1-.2 1 .3 1 0 1-.4 1-.3 1 .8 1 .1 1-.9 1 .9 1-.1 1 .2 1-.9 1 .8 1 .1 1 0 1 0 1-.3 1 .3 1-.2 1-.3 1 .2 1 .2 1-.1 1 0 1-.3 1-.1 1 .2 1-.2 1 0 1 .4 1 0 1-.3 1 .5 1-.1 1 0 1-.7 1 .7 1 0 1-.4 1-.5 1 .8 1-.6 1 .7 1-.2 1 .3 1-.4 1 .4 1-.1 1-.1 1 .1 1-.1 1 .2 1 0 1 0 1-.4 1 .4 1 0 1 0 1 0 1-.4 1 .3 1 .1 1-.7 1 .5 1 .2 1 0 1 0 1 0 1-.3 1 .3 1 0 1-.2 1-.1 1-.2 1 0 1 0 1 .2 1 .2 1-.1 1 .2 1-.2 1-.2 1 .2 1 .2 1 0 1-.1 1 0 1 .2 1-.1 1-.4 1 .3 1 .1 1-.2 1 0 1 0 1-.3 1 .2 1 .1 1 .2 1-.1 1 .1 1 0 1-.1 1 .2 1-.4 1 .1 1 .1 1 .1 1 0 1-.3 1 .4 1-.7 1 .6 1 0 1-.1 1 .1 1 0 1-.1 1-.2 1 .1 1-.6 1 .6 1 .2 1 0 1-.8 1 .6 1-.2 1 .2 1-.2 1 .2 1 .2 1-.7 1 .7 1-.1 1 .1 1-.2 1-.1 1 .2 1 0 1 0 1-.1 1-.2 1 .4 1-.9 1 .5 1-1.2 1 .8 1 .3 1 .1 1-.4 1 .1 1-.2 1 .8 1 0 1 .2 1 0 1-.2 1 0 1-.6 1 .5 1 0 1-.1 1-.2 1 .2 1 0 1 .1 1-.1 1 .2 1 0 1 .1 1-.3 1 .1 1 .2 1 0 1-.2 1 .2 1-.4 1-.4 1 .6 1 .1 1-.1 1-.2 1-.6 1 .7 1 .2 1-.3 1-.3 1 .8 1-.2 1 .1 1 0 1-.5 1 .4 1 .1 1 0 1-.5 1 .5 1-.8 1 .6 1-.1 1 .2 1 .1 1 .1 1-.3 1-.6 1 .8 1-.1 1-.5 1 .6 1-.1 1 .1 1-.1 1 0 1-.1 1 0 1 .2 1 0 1-.1 1 .1 1-.9 1 .6 1-.4 1-.3 1 .2 1 .7 1 0 1-.3 1-.4 1 .3 1-.1 1-.3 1 .6 1-.2 1 .4 1 .1 1 0 1-.3 1 .2 1-.5 1 .3 1 0 1 .1 1-.1 1-.2 1 .1 1-.3 1 .6 1-.1 1 .2 1-.2 1 .1 1-.1 1-.3 1 .4 1 0 1-.1 1-.1 1 .1 1 .2 1-.3 1 .2 1-.1 1-.1 1 .2 1-.9 1 1.1 1-.3 1 .1 1 0 1 0 1-.1 1 .2 1 0 1 .1 1-.1 1-.1 1 .1 1-.1 1 0 1-.3 1 .4 1-.4 1 .4 1 0 1 .1 1-.5 1 .3 1-.6 1 .7 1 .1 1-.5 1 .5 1-.4 1 .2 1 0 1 .2 1 0 1-.3 1 .2 1-.1 1 0 1 .1 1-.3 1 .2 1-.7 1 .7 1-.3 1 .3 1 .1 1-.1 1 0 1-.4 1 .5 1-.9 1 .8 1-.2 1 .2 1-.1 1 .1 1 .1 1-.2 1 .2 1-.2 1 .2 1 0 1-.1 1-.1 1 .1 1-.1 1 0 1 .2 1 0 1 0 1-.5 1 .4 1-.1 1 0 1 .2 1 .1 1-.2 1-.5 1 .5 1 .1 1 0 1-.2 1 0 1 .2 1-.3 1-.1 1-.1 1 .5 1-1 1 .8 1 0 1 .2 1 0 1-.1 1 0 1 .1 1-.1 1 .1 1-.2 1 .1 1-.7 1 .6 1-.1 1-.7 1 .6 1-.4 1 .5 1-.1 1 0 1 0 1 .4 1-.2 1 0 0 3.6-1 0-1-.8-1-.1-1 .4-1-.5-1 .1-1 .5-1-.4-1 .1-1-.3-1 .1-1 .1-1-.2-1 .1-1 0-1 .6-1-.6-1 .3-1-.2-1 .6-1-.4-1 .6-1-.9-1 0-1 .1-1-.1-1 .1-1-.2-1 0-1 0-1 1.1-1-1-1-.1-1 .1-1 0-1 .1-1-.2-1 0-1 .5-1-.3-1-.2-1 .1-1-.1-1 0-1 .6-1 .3-1-.8-1-.1-1 0-1 .2-1-.2-1 .2-1 .2-1-.4-1 0-1 .2-1-.2-1 0-1 .7-1-.5-1-.1-1 .3-1-.4-1 .3-1 .2-1 .6-1-.7-1-.1-1-.2-1 .3-1-.1-1-.3-1 .5-1-.5-1 0-1 .9-1-.9-1 .2-1 0-1-.1-1 0-1 .1-1-.2-1 .4-1-.3-1-.1-1 0-1 .7-1 0-1-.7-1 .2-1 0-1-.1-1 0-1 1-1-.9-1 .4-1 .1-1-.6-1 0-1 .4-1-.4-1 .1-1-.1-1-.1-1 .4-1-.4-1 .1-1 .3-1-.3-1 .3-1-.4-1 .1-1 .4-1-.3-1 .1-1-.3-1 0-1 .2-1 .6-1-.7-1-.1-1 .2-1-.2-1 .4-1-.4-1 .1-1-.1-1 0-1 .9-1-.6-1-.3-1 .1-1 .4-1-.4-1-.1-1 0-1 .1-1 .2-1-.3-1 0-1 .2-1 .9-1-.9-1 .6-1 .1-1-.1-1-.1-1-.2-1-.3-1-.1-1 0-1 .5-1-.6-1 0-1 .1-1 .1-1 0-1 .4-1-.5-1 0-1 .2-1-.2-1-.1-1 .2-1-.1-1-.1-1 .2-1 0-1-.1-1 .2-1-.2-1 0-1-.1-1 0-1 0-1 .1-1 0-1 .4-1 0-1-.4-1 .1-1-.1-1 .1-1-.1-1-.1-1 0-1 0-1 .1-1 0-1 .5-1 .1-1-.3-1-.1-1 .1-1-.1-1-.2-1 .1-1-.1-1 .1-1-.2-1 .2-1 0-1 .8-1-.4-1 .1-1-.7-1 .1-1 0-1 0-1 1.3-1-.1-1-.9-1 0-1-.2-1-.1-1-.1-1 0-1 .1-1 .2-1-.3-1 .5-1 .5-1-.6-1-.2-1 0-1 .2-1 .2-1 .8-1-.4-1-.5-1-.3-1 .1-1-.3-1 .1-1 .9-1-.8-1 .6-1-.8-1 0-1 0-1 .8-1-.5-1-.3-1 0-1 0-1 0-1 .4-1-.3-1 0-1 0-1 .1-1 .5-1-.6-1 .1-1 0-1-.2-1 .1-1 .1-1 0-1 .3-1-.3-1 0-1-.2-1 0-1 .5-1-.4-1 .1-1 .2-1-.1-1-.2-1 .2-1-.3-1 .2-1 .1-1-.2-1 .1-1 .1-1-.2-1 .3-1-.4-1 0-1 .2-1 .7-1-.8-1 0-1 .2-1-.2-1 .6-1-.7-1 0-1 .3-1 0-1-.3-1 .1-1 0-1 .4-1-.4-1 .5-1-.2-1 .1-1-.2-1 0-1 .2-1-.3-1 .4-1-.1-1-.3-1 .7-1-.6-1-.3-1 .2-1-.2-1 0-1 .2-1-.2-1 .3-1 0-1-.2-1 0-1 0-1 .1-1-.2-1 .1-1-.1-1 .1-1 .1-1 0-1 0-1-.1-1 .2-1-.2-1 0-1-.1-1 .1-1 0-1 0-1 .1-1 .1-1-.2-1 .6-1-.5-1-.1-1-.1-1 .2-1 .2-1 0-1 .7-1-.3-1 .1-1-.2-1-.3-1 .4-1-.4-1 0-1-.3-1-.1-1 0-1 .1-1 .2-1-.3-1 .1-1 0-1-.1-1 .7-1-.6-1 .4-1-.4-1 .1-1-.1-1-.1-1 .1-1 .3-1 .1-1 .5-1-.6-1-.1-1-.2-1 .2-1-.3-1 0-1 .3-1 .3-1-.5-1 .4-1-.4-1 .2-1 .1-1 .3-1-.6-1 .2-1-.2-1 .1-1-.2-1 .1-1-.1-1 .5-1-.4-1 .2-1 0-1 0-1-.1-1 .2-1-.2-1-.2-1 .2-1 0-1-.1-1 0-1 0-1-.1-1 .2-1-.2-1 0-1 .2-1-.1-1 0-1 .1-1 .1-1-.2-1 .1-1-.2-1 .9-1-.8-1 .1-1-.1-1 .1-1-.1-1 .2-1 .6-1-.7-1-.1-1 .7-1-.7-1 .2-1 0-1-.1-1-.2-1 .1-1 .7-1-.6-1-.2-1 .3-1 0-1-.1-1 .2-1-.2-1-.1-1 0-1 .1-1 .1-1-.3-1 0-1 .4-1-.1-1-.2-1 .1-1-.1-1 .2-1-.1-1-.1-1-.1-1 0-1 .2-1-.1-1 .2-1-.2-1 .1-1-.2-1 0-1 .3-1-.3-1 0-1 .4-1-.1-1-.2-1 .4-1 .5-1-.9-1 0-1-.1-1 .1-1 0-1 .4-1 .4-1-.5-1-.1-1-.1-1-.1-1 0-1-.1-1 .1-1 .6-1-.3-1 .2-1-.1-1 0-1-.1-1-.2-1-.1-1 .2-1-.2-1 0-1 .1-1-.1-1 0-1 0-1 .9-1-.8-1 0-1-.1-1 0-1 0-1 .2-1 0-1 .2-1 0-1 0-1-.1-1 0-1-.2-1-.1-1 .8-1-.9-1 .1-1 .1-1-.2-1 0-1 0-1 .9-1-.4-1-.2-1-.2-1-.1-1 .1-1 .1-1-.1-1 .4-1 .4-1-.6-1-.2-1 .4-1 .4-1 0-1-.7-1 .8-1-.8-1-.2-1 0-1 0-1 0-1 .1-1-.1-1 0-1 .3-1 0-1-.1-1-.1-1 .3-1-.4-1 .1-1 0-1-.1-1 .1-1 0-1 .3-1-.4-1 .2-1 .5-1-.3-1-.2-1-.2-1 0-1 .2-1-.2-1 0-1 0-1 .3-1-.3-1 .4-1-.3-1 .1-1-.1-1 .4-1-.4-1 .2-1 0-1-.3-1 .4-1 .2-1-.3-1 .4-1-.6-1-.1-1 .2-1 .3-1-.3-1 .2-1-.2-1 .2-1-.3-1 .2-1 0-1-.1-1 .2-1-.2-1-.1-1 0-1 .2-1-.2-1 0-1 0-1 .4-1-.4-1-.1-1 .3-1-.1-1-.2-1 .2-1-.1-1 .1-1 0-1-.1-1 .3-1 .5-1-.9-1 .2-1-.1-1-.1-1 .1-1-.1-1 .1-1 .2-1 0-1-.2-1 .5-1 .1-1-.4-1-.1-1-.2-1 0-1 .1-1 .8-1-.5-1-.1-1-.2-1-.1-1 .1-1 .3-1-.3-1 .1-1-.2-1 .2-1 .1-1-.1-1 .1-1-.2-1 .3-1 0-1 0-1-.1-1 0-.5 .4-1 0 0-.4-1 0-1 0 0 .4-1 0 0-.4-1 0 0-.2-1 0 0 .3-1 0 0-.2-1 0 0-.1-1 0 0 .4-1 0 0-.4-1 0 0 .2-1 0 0 .2-1 0 0-.2-1 0-1 0 0 .1-1 0-1 0 0-.1-1 0 0 .3-1 0 0-.3-1 0 0 .1-1 0 0-.1-1 0-1 0-1 0 0 .1-1 0 0 .1-1 0 0 .1-1 0 0-.2-1 0 0-.2-1 0 0 .4-1 0 0-.5-1 0 0 .3-1 0 0 .5-1 0 0-.3-1 0 0-.1-1 0 0 .1-1 0 0 .1-1 0 0-.4-1 0 0 .1-1 0 0 .1-1 0 0 .1-1 0 0-.3-1 0 0 .3-1 0-1 0 0-.2-1 0 0 .3-1 0-1 0 0-.3-1 0 0-.2-1 0 0 .3-1 0-1 0 0 .2-1 0 0-.4-1 0 0 .2-1 0 0 .2-1 0 0-.3-1 0 0 .5-1 0 0-.3-1 0 0-.4-1 0 0 .6-1 0 0-.3-1 0-1 0 0 .3-1 0 0-.1-1 0 0-.3-1 0-1 0 0 .5-1 0-1 0-1 0 0-.1-1 0 0-.2-1 0 0-.1-1 0 0-.1-1 0 0-.1-1 0 0 .5-1 0-1 0 0-.5-1 0 0 .4-1 0 0 .1-1 0 0 .7-1 0 0-.4-1 0 0 .7-1 0 0 .2-1 0 0 .2-1 0-1 0 0-.3-1 0 0 .1-1 0 0-.1-1 0 0 .1-1 0 0 .4-1 0 0 .1-1 0 0-.3-1 0 0 .2-1 0 0 .4-1 0 0-.6-1 0 0 .9-1 0 0-.9-1 0 0 .5-1 0 0 .4-1 0 0 .3-1 0 0-1.1-1 0 0 .2-1 0 0 .5-1 0 0-.1-1 0 0 .3-1 0 0-.2-1 0 0-.3-1 0 0 .2-1 0 0-.1-1 0 0 .5-1 0-1 0 0-.1-1 0 0-.4-1 0 0-.6-1 0 0 .6-1 0 0-.4-1 0 0 .9-1 0 0-.3-1 0 0 .5-1 0 0-.4-1 0 0-.1-1 0 0-.1-1 0 0-.4-1 0 0 1-1 0 0-.5-1 0 0 .1-1 0 0 .5-1 0 0-.5-1 0 0-.8-1 0 0 .7-1 0 0-.3-1 0 0-.1-1 0 0-.3-1 0 0 1.3-1 0 0-.4-1 0 0 .2-1 0 0 .4-1 0 0-1-1 0 0 1-1 0-1 0 0-.1-1 0 0-.5-1 0 0 .5-1 0 0 .6-1 0 0-.2-1 0 0-.1-1 0 0 .1-1 0 0 .8-1 0 0-1-1 0 0 .8-1 0 0-.5-1 0 0-.1-1 0 0 .1-1 0-1 0 0 .6-1 0 0-.2-1 0 0-.6-1 0 0 .4-1 0 0-.4-1 0 0 .3-1 0 0-.3-1 0 0 3.3-1 0 0-1.1-1 0 0 .3-1 0 0 .7-1 0 0-.6-1 0 0 .5-1 0 0-3.4-1 0 0-.4-1 0 0 .2-1 0 0-.4-1 0 0 .1-1 0 0 5.6-1 0 0-.2-1 0 0-.6-1 0 0 .5-1 0 0-.4-1 0 0-.5-1 0 0 .7-1 0 0 .7-1 0 0-.4-1 0 0-3.9-1 0 0 .2-1 0 0-.4-1 0 0 6.5-1 0 0-.7-1 0 0-.6-1 0 0-2.3-1 0 0-.1-1 0 0 .2-1 0 0 .1-1 0 0-.8-1 0 0 5.6-1 0 0 .2-1 0-1 0 0-1.2-1 0 0 1.2-1 0 0-.5-1 0 0-1.1-1 0 0-.6-1 0 0-1-1 0 0 1.7-1 0 0-.7-1 0 0 .7-1 0 0-.2-1 0 0 .3-1 0 0-.3-1 0 0 1.1-1 0 0 .6-1 0 0-.8-1 0 0 .6-1 0-.5 0Z"/>
<path fill="#008000" d="M138.5 670.6l1 0 1 .1 1 .1 1-.2 1 .2 1-.3 1 .3 1 0 1-.1 1 0 1-.1 1 .1 1 0 1-.1 1-.2 1 .4 1-.1 1 0 1-.1 1 .2 1-.7 1 .6 1-.1 1-.3 1 .4 1 0 1 0 1-.2 1 .3 1-.2 1 0 1 .1 1-.6 1 .4 1 0 1-.2 1 .2 1-.2 1 0 1 .4 1-.5 1-.4 1 .9 1 .1 1-.1 1 0 1 0 1 0 1-.6 1 .7 1-.1 1-.4 1 .5 1 0 1-.4 1 .4 1-.4 1 .4 1-.5 1 .3 1 .2 1-.1 1 .1 1-.1 1 .1 1 0 1-.1 1-.4 1 .3 1 .1 1-1.1 1 .9 1 .2 1 0 1-.1 1 0 1 0 1-.1 1-.5 1 .7 1-.1 1 .1 1-.2 1 0 1 .2 1-.5 1 .5 1-.2 1 .2 1-.9 1 .9 1-.2 1 .2 1 .1 1-.3 1 .1 1-.1 1 0 1 .2 1-.2 1 .2 1-.1 1 .1 1 0 1 .1 1-.4 1 .2 1-.7 1 .9 1 0 1-.2 1-.3 1-.2 1-.1 1 .2 1 .2 1 .1 1 0 1-.1 1-.4 1 .1 1-1.3 1 1.4 1 .2 1 .1 1-.6 1 .7 1 0 1 .1 1-.5 1 .5 1-.1 1 .1 1-.1 1-.3 1 .3 1 0 1 .1 1-.5 1 0 1 .6 1 0 1-.1 1-.3 1 .3 1-.4 1 .1 1 .3 1-.1 1 .2 1 0 1-.1 1-.1 1-.6 1-.1 1 .4 1 .2 1 .1 1 .2 1-.2 1 0 1 .2 1 0 1-.2 1 .1 1-.5 1 .6 1 0 1-.8 1 .8 1-.4 1 .3 1-.1 1-.1 1 .3 1-.4 1 0 1 .3 1-.3 1 .1 1 .3 1-.1 1 0 1 0 1 0 1-.4 1-.2 1 .3 1-.1 1-.3 1-.1 1 .4 1 .4 1-.3 1 .2 1 0 1 .1 1-.2 1 0 1-.1 1 .4 1-.1 1 0 1-.2 1 .1 1 .1 1 0 1 .1 1-1 1 .8 1 .1 1 0 1 .1 1-.2 1 .2 1 0 1 0 1-.3 1 .3 1-.4 1 .2 1 .2 1-.5 1 .4 1 .1 1-.2 1 .1 1 0 1 0 1 0 1 .1 1 0 1-.4 1 .1 1 .1 1 .2 1-.1 1-.9 1 1 1 0 1 0 1-.2 1-.1 1 0 1 .2 1 0 1-.2 1 .1 1-.2 1 0 1 0 1 0 1-.1 1 .5 1 0 1-.1 1-.4 1 .2 1 .2 1-.2 1-.5 1 .8 1-.5 1 .3 1 .1 1 .1 1-.3 1-.3 1 .5 1 0 1 0 1-.1 1-.2 1 .2 1-.3 1 .5 1-.2 1-.1 1 .1 1-.1 1 .2 1 0 1-.2 1-.7 1 1 1-.1 1 .1 1-.4 1 .1 1 .2 1-.2 1-.2 1 .2 1-.1 1 .4 1-.1 1-.1 1-.2 1 .3 1 0 1 0 1-.7 1 .3 1 .5 1-.3 1 .3 1-.3 1 .2 1 0 1 .1 1 0 1-.4 1 .1 1-.1 1 .3 1-.2 1 .3 1-.1 1-.1 1 .2 1-.1 1 .1 1-.1 1-.1 1-.4 1 .4 1 .1 1 0 1 0 1 0 1 .1 1-.3 1-.1 1 .3 1 .1 1-.2 1 0 1-1.1 1 .6 1 .1 1 .4 1-.1 1 .1 1 0 1-.2 1-.3 1-.1 1 .2 1 .2 1-.2 1 .1 1 .2 1 .1 1-.3 1-.2 1 .6 1-1 1 1 1 0 1-.2 1 .2 1 0 1-.7 1 .8 1-.1 1 0 1-.4 1 .4 1 0 1 0 1-.1 1-.1 1 .1 1 .1 1-.4 1 .3 1 .2 1 0 1-.3 1 .1 1-.1 1 .2 1-.2 1 .1 1 .1 1-.4 1 .4 1 .1 1 0 1 0 1-.1 1-.5 1-.1 1 .3 1 .3 1 .1 1-.2 1 0 1-.1 1 0 1 .2 1-.4 1 .3 1 .2 1-.1 1 0 1 0 1-.1 1 0 1-.1 1-.1 1 .2 1 .1 1 0 1 0 1 .1 1-.2 1 .2 1 0 1-.5 1 .5 1 0 1-.2 1 .1 1 .1 1-.1 1-.1 1-.7 1 .8 1 0 1 0 1-.1 1-.3 1 .4 1 0 1-.3 1 .3 1-.1 1 .1 1-.7 1 .8 1-.3 1-.5 1 .7 1-.2 1 .3 1 0 1-.4 1 0 1-.6 1 .3 1 .6 1-.7 1 .8 1-.2 1 .1 1 0 1 0 1 0 1 0 1-.2 1 0 1 .2 1 0 1-.1 1-.1 1 .3 1-.2 1-.1 1 .3 1-.2 1-.1 1 0 1 .1 1-.1 1 .2 1-.1 1 .1 1-.3 1 .3 1 .1 1-.2 1 .2 1 0 1 0 1 0 1-.1 1-.7 1 .6 1-.1 1 .1 1-.1 1 .2 1-.1 1-.3 1 .5 1-.1 1 0 1 .1 1-.2 1-.2 1 .4 1-.3 1 .3 1 0 1-.2 1 0 1 .1 1 .1 1 0 1-.1 1-.2 1 .3 1-.5 1 .4 1 0 1-.5 1 .5 1 0 1-.1 1 0 1-.1 1 .3 1-.4 1-.4 1 .7 1 0 1-.7 1 .4 1 .2 1 .1 1 0 1-.1 1 .1 1-.2 1 0 1 .1 1-.2 1 .3 1 .1 1-.2 1 .1 1-.3 1 .3 1 0 1-.4 1 .5 1 0 1-.7 1 .6 1-.3 1 0 1 .3 1 0 1-.3 1 .2 1-.6 1 .6 1 .1 1 0 1 .1 1-.2 1 0 1 .2 1-.1 1 0 1 .1 1-.3 1-.2 1 .5 1 0 1-.2 1 0 1 .1 1 0 1-.3 1 .2 1 .1 1 0 1-.5 1 .6 1-.3 1 .2 1-.1 1 .2 1-.7 1 .6 1 .1 1-.1 1 0 1-.1 1 .1 1 .1 1-.1 1 0 1-.1 1-.1 1 .3 1-.4 1 .2 1-.3 1 .4 1 0 1-.1 1-.3 1 .3 1-.2 1-.6 1 1 1-.1 1-.1 1 .2 1-.1 1-.2 1 .3 1-.1 1-.1 1 0 1 .1 1 0 1 .1 1-.7 1 .2 1-.1 1-.1 1-1.1 1 .6 1-.5 1 1.1 1 .5 1 0 1-.3 1-.7 1 .3 1 .3 1-.1 1 .2 1-.7 1 .7 1 .1 1-.2 1 .4 1-.1 1 0 1-.1 1-.8 1 1 1 0 1 0 1 .1 1-.1 1-.3 1 0 1 .3 1-.2 1 0 1 .3 1 0 1 0 1-.2 1 .2 1-.1 1 .1 1-.3 1 .3 1-.3 1 .2 1 0 1 0 1 0 1 0 1 .1 1-.2 1-.1 1 .2 1-.1 1-.3 1 .2 1-.3 1 .3 1 .1 1 .1 1-.1 1 .1 1-.2 1 .2 1-.1 1 0 1-.3 1 .1 1 0 1-.5 1 0 1 .2 1 0 1 .3 1 .2 1 .6 1 .2 1-.1 1-.6 1-.5 1-.7 1-.7 1 .3 1 .2 1 1.1 1 .9 1 .4 1-.4 1-.4 1 .3 1 0 1-.7 1 .7 1 0 1 0 1-.5 1-.3 1-.5 1 .1 1-.1 1-1 1 .5 1 .5 1-.3 1 .1 1 .2 1-.9 1 .7 1-.1 1-.3 1-.4 1 .5 1 .3 1-.5 1 .5 1 .3 1 .3 1-.1 1 .1 1 .3 1 .1 1-.2 1 .1 1-.6 1 .7 1-.7 1 .3 1 .2 1 .3 1-.1 1-.9 1 .9 1-.1 1 .1 1-.1 1 .1 1-.1 1 .1 1 0 1 .1 1-.2 1 .2 1-.3 1 .3 1-.6 1 .4 1 .1 1-.3 1 .4 1-.1 1 0 1 .1 1-.6 1 .4 1 0 1-.1 1 .2 1-.2 1 .3 1-.8 1 .8 1 0 1-.3 1-.1 1 .3 1-.3 1 .2 1-.1 1 .3 1-.1 1 .1 1-.1 1 .1 1-.1 1 .1 1-.3 1 .3 1 0 1-.1 1-.2 1 .3 1-.4 1 .2 1 0 1 .1 1 0 1-.3 1 .3 1-.2 1 .3 1-.8 1 .8 1 0 1-.2 1 .2 1-.2 1 .2 1-.4 1 .3 1-.2 1 .3 1-.2 1-.2 1 .4 1-.7 1-.3 1 1 1-.8 1 .8 1-.5 1 0 1 .4 1 .1 1-.3 1 .1 1 .2 1-.1 1-.6 1 .5 1 .1 1 0 1-.2 1 .2 1-.5 1 .4 1 0 1 0 1-.1 1 .1 1 .1 1 .1 1-.2 1 0 1-.6 1 .7 1 0 1-.7 1 .6 1-.6 1 .5 1 .3 1-.1 1 .1 1-.2 1-.2 1 .3 1 0 1-.3 1 .3 1-.6 1 .4 1 0 0 2.7-1 0-1 .2-1-.2-1 .4-1-.4-1 .2-1-.2-1 .3-1 .3-1-.7-1 .3-1 0-1 0-1-.2-1 0-1 .5-1-.5-1 .1-1-.2-1 .4-1-.3-1 .1-1 .3-1-.4-1 .1-1-.1-1-.1-1 .2-1 .2-1-.3-1 .1-1-.1-1 1.3-1-1-1 .2-1-.6-1 .6-1-.3-1 0-1-.1-1 .8-1-.6-1 .5-1-.8-1-.1-1 .1-1 .3-1-.4-1 .2-1 0-1-.1-1 0-1 .2-1 .2-1-.1-1-.2-1 0-1 .2-1-.4-1 .2-1 0-1 .1-1 1-1-1.2-1-.1-1 0-1 .2-1 0-1-.1-1 0-1 .5-1-.4-1 0-1-.1-1 .9-1-.4-1 .3-1-.6-1-.2-1 0-1 0-1 .3-1-.4-1 1-1-1-1 .1-1 .8-1-.6-1-.3-1 0-1 .5-1 0-1-.2-1-.2-1 .2-1 .3-1-.4-1 .2-1-.3-1 .4-1 0-1-.5-1 .8-1-.7-1-.1-1 0-1 .3-1 .1-1-.2-1-.1-1 0-1 .9-1-1-1 .5-1-.3-1 .2-1-.2-1 .7-1-.4-1-.5-1 .3-1-.2-1 .1-1 0-1 0-1 0-1 0-1 .2-1-.1-1-.1-1 .1-1-.1-1 .1-1 .4-1-.1-1-.2-1-.3-1-.4-1-.1-1-.3-1 .5-1-.6-1 0-1 0-1 .3-1-.3-1 0-1 .5-1-.4-1-.2-1 .3-1 0-1 .3-1 .5-1 .4-1 .7-1 0-1-.7-1 .1-1-.2-1 .3-1 0-1 .8-1-.3-1 .3-1 .1-1-1-1-.7-1-.8-1-.4-1 .7-1 .9-1 .3-1 1-1 .2-1 .3-1-1.3-1-.1-1-.3-1 .3-1-.2-1 0-1-.3-1-.2-1 .1-1-.1-1 0-1 .2-1-.1-1 .2-1-.3-1 0-1 0-1 .8-1-.5-1 .1-1-.1-1 0-1 0-1-.3-1 .3-1-.3-1 .3-1-.2-1-.1-1 0-1 .2-1-.1-1-.1-1 .7-1-.6-1 .8-1-.9-1 0-1 .7-1-.8-1 .2-1 0-1-.2-1 .5-1-.2-1 0-1 .4-1-.5-1 0-1 0-1 .2-1-.4-1 0-1 .1-1 .3-1 .5-1-.8-1 .1-1-.1-1 0-1 .1-1-.2-1 .1-1 .1-1 .5-1-.5-1-.2-1 .3-1 .2-1 .4-1 .3-1-.4-1-.2-1 .1-1-.6-1 .1-1-.1-1 .1-1-.1-1 .1-1 0-1 .1-1-.3-1 .1-1 0-1 .2-1-.2-1 0-1 .8-1-.7-1 .3-1-.3-1 .1-1 .2-1-.4-1 .1-1 0-1-.1-1 0-1 0-1 0-1 .9-1-.6-1 .2-1-.3-1 1-1-.6-1-.7-1 .2-1 0-1 .4-1-.1-1-.4-1 .9-1-.4-1-.5-1 .1-1-.1-1 .3-1-.4-1 0-1 .1-1 .1-1 .3-1-.3-1-.1-1-.1-1 .2-1 0-1-.1-1 .9-1-1-1 .2-1-.2-1 .2-1 .1-1-.2-1-.1-1 .3-1-.2-1 .1-1-.1-1 1-1-.9-1 0-1 0-1-.1-1 1.1-1-1-1 0-1 .3-1-.4-1 .2-1-.2-1 0-1 0-1 0-1 0-1 .1-1 .7-1-.8-1 0-1 0-1 .4-1-.4-1 .2-1 0-1-.2-1-.1-1 .4-1-.3-1-.1-1 .4-1-.2-1-.2-1 1-1-.8-1-.1-1-.1-1 .1-1 .1-1 0-1 0-1-.1-1 .1-1-.1-1 0-1 .1-1-.2-1 0-1 .1-1 .1-1 .1-1-.2-1-.1-1 .6-1-.2-1-.3-1 .3-1-.1-1-.2-1 0-1 .1-1 .1-1-.2-1 0-1 0-1 .1-1 .5-1-.5-1 .3-1-.4-1 .1-1-.1-1 .2-1-.2-1 0-1 0-1 .8-1-.8-1-.1-1 .2-1 0-1-.1-1 0-1 0-1 .8-1-.8-1 .3-1 .6-1-.9-1 .1-1 .1-1 .6-1-.8-1 .3-1-.2-1 0-1-.2-1 .2-1 0-1 .2-1-.3-1 0-1 .2-1-.1-1-.1-1 0-1 .6-1-.6-1 0-1 0-1 .5-1-.5-1 .2-1 0-1 0-1 .1-1-.1-1-.2-1 0-1 0-1 .1-1 .3-1-.4-1 .2-1-.2-1-.1-1 .1-1 .1-1 .6-1-.8-1 .2-1-.1-1-.1-1 0-1 .1-1 .1-1 0-1-.1-1 0-1 .3-1-.4-1 .4-1-.4-1 .2-1 0-1 .1-1-.2-1-.1-1 .1-1-.1-1 0-1 .5-1-.5-1 .2-1-.1-1 1.2-1-1.2-1 .2-1-.2-1-.1-1 .6-1-.2-1-.1-1-.2-1 .3-1-.3-1 .2-1-.2-1 .2-1 .5-1-.5-1-.2-1 .2-1-.1-1 .1-1-.2-1 .1-1-.1-1-.1-1 .4-1-.3-1-.1-1 .4-1 0-1 .2-1-.5-1 .2-1-.1-1-.1-1 0-1 0-1 0-1 .2-1-.2-1 .4-1 .6-1-1.1-1 .3-1-.1-1-.1-1 .1-1 .1-1-.3-1 .1-1 .3-1 0-1 0-1 .3-1 0-1 .4-1-.2-1-.5-1-.2-1 .1-1 .4-1 .6-1-.5-1-.1-1-.1-1-.5-1 0-1-.1-1 .3-1 .1-1 .1-1-.4-1 .3-1-.2-1-.2-1 .3-1-.1-1 .4-1-.5-1 0-1 0-1 0-1-.1-1 .1-1 .1-1 .1-1-.2-1 .2-1 .1-1 0-1 .3-1 .1-1 .1-1-.7-1-.1-1 0-1 0-1 .1-1-.1-1 .1-1 .3-1-.4-1 0-1 .1-1 .1-1 0-1 .1-1-.1-1-.1-1 .2-1 0-1-.1-1 0-1-.2-1 0-1 .4-1-.1-1-.3-1 .4-1-.5-1 .2-1-.2-1 .2-1-.1-1 0-1 .6-1-.4-1-.2-1 .5-1 .2-1-.3-1-.1-1-.1-1-.2-1 .3-1-.3-1 0-1 .1-1 .1-1 .6-1-.9-1 .2-1 .4-1-.3-1 .3-1-.3-1 0-1 0-1 .1-1 0-1 0-1-.2-1-.1-1 .2-1-.1-1-.1-1 0-1 .3-1-.2-1-.1-1 .1-1 0-1 .1-1-.1-1-.1-1 0-1 .2-1 .1-1-.3-1 0-1 0-1 0-1 0-1 .1-1-.2-1 .1-1-.1-1 .2-1 0-1-.2-1 .3-1 0-1-.1-1-.1-1 .2-1 .2-1-.3-1-.2-1 .9-1-.8-1 0-1 .1-1 .8-1-.9-1-.1-1 .2-1 .1-1 .2-1 .4-1-.6-1-.2-1 0-1 0-1 0-1-.1-1 .1-1 0-1 0-1 .1-1 .3-1 1.5-1-.8-1-.7-1 0-1-.3-1 .1-1-.2-1 .2-1-.1-1 .7-1-.8-1-.1-1 .1-1 .8-1-.8-1 0-1 .3-1-.3-1 .2-1-.2-1 0-1 .1-1 0-1-.1-1 .1-1-.1-1 .2-1-.2-1 0-1-.1-1 .2-1-.1-1 0-1 0-1 .3-1-.4-1 .5-1-.5-1 .1-1 0-1-.1-1 .1-1 .5-1-.5-1 .1-1 0-1-.1-1-.1-1 .5-1-.5-1 .2-1 0-1-.1-1 .3-1-.2-1-.1-1 .2-1 .2-1-.2-1-.2-1 1.1-1-.2-1-.2-1-.6-1-.1-1 .1-1 0-1 .2-1 .1-1 .3-1 0-1-.1-1-.3-1 0-1-.1-1-.1-1 .2-1 1.2-1-1-1-.2-1 .5-1-.7-1 .6-1-.7-1 .2-1 0-1-.1-1-.1-1 .3-1-.2-1-.1-1 0-1 .8-1-.3-1-.3-1 .1-1 .4-1-.1-1-.5-1 .1-1-.1-1-.1-1 1.1-1-1-1-.1-1 0-1 0-1 .4-1-.4-1 .8-1-.8-1-.1-1 0-1 .5-1-.4-1 .1-1-.1-1 .2-1-.2-1 .2-1 .7-1-.9-1 0-1 .2-1-.1-1 .1-1 .4-1-.6-1 .2-1-.3-1 .2-1-.1-1-.1-1 .1-1 .1-1-.1-1 .3-1 .5-1-.7-1 0-1 0-1-.1-1 .2-1-.3-1 .2-1-.1-1 0-1 .2-1-.1-1 .6-1 0-1-.6-1 0-1 1.5-1-1.3-1 .1-1 0-1 0-1 0-1-.4-1 0-1 .1-1-.1-1 0-1 0-1 .5-1-.5-1 0-1 0-1 .5-1-.3-1 0-1-.1-1-.1-1 .2-1 0-1-.3-1 0-1 .2-1 .1-1-.3-1 0-1 .3-1-.1-1-.1-1 .1-1-.1-1 0-1 .5-1-.5-1 .5-1 0Z"/>
<path fill="none" stroke="#008000" stroke-width="1.4" stroke-linejoin="round" d="M832.3 671.9l.5 0 .5 0 .5-.1 .5 0 .5 .1 .5 .3 .5 .3 .5 .3 .5 .3 .5 .3 .5-.1 .5-.3 .5-.3 .5-.3 .5-.3 .5-.3 .5-.3 .5-.3 .5-.4 .5-.3 .5 0 .5 .3 .5 .3 .5 .3 .5 .3 .5 .3 .5 .5 .5 .4 .5 .4 .5 0 .5-.1 .5-.2 .5-.2 .5-.2 .5-.1 .5 0 .5 0 .5 0 .5-.1 .5 0 .5 0 .5 0 .5 0 .5 0 .5 0 .5 0 .5 0 .5 .1 .5-.2 .5-.2 .5-.2 .5-.2 .5-.3 .5-.1 .5 0 .5-.1 .5-.1 .5 0 .5-.1 .5 0 .5 0 .5 0 .5 .1 .5 0 .5 0 .5 0 .5 .1 .5-.1 .5 0 .5 0 .5 0 .5-.1 .5 0 .5 0 .5 0 .5 0 .5 0 .5 0 .5 .1 .5 0 .5 0 .5 0 .5 .1 .5 0 .5 .2 .5 .1 .5 .1 .5 .2 .5 .1"/>
<path fill="#000000" d="M138.5 702.3l1 0 1-.2 1-.1 1 0 1-.1 1 .4 1 0 1 0 1 0 1 0 1-.6 1 .6 1 0 1-.9 1 .6 1 .3 1-.1 1 0 1 .1 1-.2 1 .2 1-.2 1 .2 1 0 1 0 1-.8 1 .6 1-.5 1 .4 1 .3 1-.1 1 .1 1-.1 1-.1 1 0 1 .2 1-.1 1 .1 1 0 1-.2 1 0 1 .1 1 .1 1-.2 1 0 1-.6 1 .8 1-.2 1 .2 1-.3 1 0 1 .2 1 .1 1 0 1-.2 1-.3 1 .4 1 0 1-.5 1 .5 1 0 1 0 1 .1 1-.1 1-.4 1 .3 1 .2 1 0 1-.1 1-.3 1 .3 1-.1 1 .2 1-.1 1-.1 1-.4 1 .6 1-.2 1 .1 1 0 1 .1 1-.5 1 .4 1 .1 1-.7 1 0 1 .7 1-.1 1 .1 1-.6 1 .6 1-.2 1 0 1-.8 1 .9 1 0 1-.8 1 .7 1 .2 1 0 1 0 1 0 1 0 1-.2 1-.1 1 .2 1 0 1 .1 1-.2 1 .1 1 .1 1-.1 1-.1 1-.5 1 .7 1-.1 1 0 1 .1 1-.1 1-.1 1 0 1 .2 1-.1 1 .1 1-.5 1 .1 1 .2 1 0 1-.2 1 .2 1 .2 1-.2 1 .2 1-.1 1 .1 1 0 1-.2 1-.2 1 .3 1-.1 1 .2 1 0 1-.1 1-.9 1 .7 1 0 1-.2 1 .5 1-.1 1-.2 1 .3 1 0 1-.2 1-.7 1 .8 1-.1 1-.8 1 1 1-.1 1 0 1 0 1-.5 1 .1 1 .4 1-.7 1 .7 1 0 1-.1 1 .2 1-.2 1 .2 1-.5 1 .5 1-.2 1-.1 1 .1 1 .2 1-.3 1 .3 1-1 1 1 1 0 1-.2 1-.3 1 0 1 .5 1-.1 1 .1 1 0 1-.3 1 .3 1-.1 1-.1 1-.8 1 .1 1 .2 1 .5 1-.1 1 .2 1 0 1-.1 1 .2 1-.2 1 0 1 .2 1-.1 1-.1 1 .2 1 0 1 0 1-.2 1 .1 1-.3 1 .1 1 .1 1 .1 1-.3 1 .3 1-.8 1 .6 1 .2 1 0 1 .1 1-.2 1 .2 1 0 1 0 1-.4 1-.3 1 .7 1-.2 1 .2 1-.1 1-.2 1 .3 1-.2 1 .2 1 0 1 0 1 0 1-.3 1 .2 1-.1 1-.1 1 0 1 .1 1 .1 1-.7 1 .8 1 0 1-1 1 .6 1 .4 1-.1 1 .1 1-.6 1 .1 1 .5 1 0 1 0 1-.2 1 .1 1 0 1 .1 1 0 1-.3 1 .1 1 .1 1 0 1 .1 1-.2 1 .1 1 0 1 0 1 0 1-.1 1-.5 1-.1 1 .4 1 .1 1 .2 1-.3 1 .3 1-1.1 1 .8 1 .3 1-.2 1 .3 1-.1 1 .1 1-.1 1-.2 1 .3 1 0 1-.1 1 .1 1 0 1-.3 1 .3 1 0 1-.1 1 0 1 0 1-.9 1 .9 1 0 1 0 1-.3 1 .2 1-.2 1-.5 1-.6 1 .8 1 .5 1 .1 1-.3 1 .2 1 .2 1-.3 1 .3 1-.1 1-.1 1 .2 1-.2 1-.1 1 .2 1 .1 1-.5 1 .4 1 .1 1-.4 1 .4 1 0 1-.5 1 .2 1 0 1 .1 1-.3 1-.2 1 .5 1 .1 1 .1 1 0 1-.2 1-.7 1 .9 1-.4 1 .4 1-.5 1 .4 1 0 1-.1 1 .1 1 .1 1 0 1-.4 1 .3 1-.2 1 .2 1-.2 1-.1 1 .2 1 .1 1-.3 1 .2 1 0 1 .1 1-.1 1 .2 1-.4 1 .4 1-.2 1 .2 1 0 1-.1 1 0 1 .1 1-.3 1 .3 1 0 1-.9 1 .8 1 0 1-.1 1 .2 1-.1 1 .1 1 0 1-.3 1 .2 1 .1 1-.1 1-.2 1 .2 1 0 1 .1 1-.9 1 .8 1 .1 1-.1 1-.1 1 0 1-.1 1 .1 1-.1 1 .3 1-.1 1-.1 1-.1 1 .2 1 0 1 .1 1-.9 1 .9 1 0 1-.7 1 .4 1-.1 1-.2 1 .2 1 0 1 .2 1 .1 1-.1 1 .2 1-.3 1-.6 1 .8 1 .1 1-.3 1 .2 1-.7 1 .6 1 .2 1-.1 1 .1 1-.6 1 .6 1 0 1-.6 1 .4 1-.2 1 .3 1-.3 1 .2 1-.6 1 .6 1-.1 1 .3 1-.9 1 .9 1 0 1-.1 1 .1 1-.1 1 .1 1-.3 1 .2 1 0 1-.2 1 .3 1-.3 1 .2 1-.2 1 .3 1 0 1-.1 1 0 1 .1 1 0 1-.2 1 0 1 .1 1 .1 1-.3 1 .2 1-.4 1 .3 1 .1 1-.7 1 .8 1-.1 1 .1 1-.2 1-.5 1 .6 1 0 1 .1 1-.2 1 .1 1-.4 1 .4 1-.2 1 0 1 .3 1-.5 1 .4 1-.6 1 .7 1 0 1 0 1-.2 1 .1 1-.4 .5 .2 1 0 0-.8 1 0 0-.3 1 0 0-.7 1 0 0-2.9 1 0 0 .7 1 0 0 .8 1 0 0 2.6 1 0 0-.5 1 0 0 .9 1 0 0-.3 1 0 0 .4 1 0 .5 .2 1 .1 1 .1 1-.1 1-.2 1 .3 1-.4 1 .4 1-.1 1-.2 1 .2 1 0 1-.1 1 .2 1-.1 1 0 1-.5 1 .5 1-.1 1 .1 1 0 1 0 1 .1 1-.4 1 .2 1 .1 1 .1 1-.2 1 .1 1-.1 1 .1 1-.1 1-.1 1 .2 1-.6 1 .7 1-.7 1 .7 1-.1 1 0 1 .1 1-.1 1 0 1-.2 1-.2 1-.4 1 .7 1 .2 1-.8 1 .8 1-.3 1 0 1 .2 1-.9 1 .8 1 0 1 .2 1-.2 1 0 1-.2 1 .3 1-.8 1 .4 1-.3 1 .8 1-.5 1 .5 1-.3 1 .2 1-.1 1-.1 1-.1 1 .4 1-.2 1 .2 1-.1 1-.1 1 0 1-.1 1 .3 1-.5 1 .2 1 .3 1-.3 1-.5 1 .8 1-.1 1 .1 1 0 1-.1 1 0 1 0 1-.2 1 .3 1 0 1-.1 1 .1 1-.1 1 0 1-.1 1 .2 1 0 1 0 1-.2 1-.1 1 .1 1 .1 1 .1 1 0 1-.1 1 0 1 0 1 .1 1-.6 1-.3 1 .7 1 .1 1-.1 1 .2 1-.1 1-.7 1 .8 1 0 1-.1 1-.1 1 0 1 0 1 .1 1 0 1-.3 1 .4 1-.1 1-.1 1-.2 1 0 1-.1 1-.1 1 0 1-.2 1 .4 1 .2 1-.1 1 .3 1-.2 1 .1 1-.7 1 .8 1-.1 1-.1 1 .1 1-.1 1 .2 1-.8 1 .5 1 .3 1-.1 1-.3 1 .4 1-.2 1 .1 1 0 1-.2 1-.1 1-.5 1 .6 1 .1 1 .1 1 .1 1-.4 1 0 1-.2 1-.2 1 .1 1 .4 1 0 1-.1 1 .1 1 .2 1 0 1 0 1-.1 1 .2 1-.1 1 .1 1-.9 1 .9 1-.1 1 0 1 0 1-.1 1 .1 1 0 1 .1 1 0 1-.8 1 .8 1-.1 1 0 1 .1 1-.2 1 .2 1 0 1-.1 1 .1 1 0 1-.4 1 .2 1 0 1 .2 1 0 1-.8 1 .8 1-.6 1 .6 1 0 1-.1 1 0 1-.8 1 .8 1 .1 1 0 1-.1 1-.1 1-.7 1 .4 1 .4 1 0 1 .1 1-.1 1-.5 1 .1 1 .3 1-.1 1 .1 1 .2 1 0 1-.1 1-.5 1-.6 1 .9 1 0 1-.4 1 .3 1 .3 1-.7 1 .8 1-.1 1-.3 1 .2 1 0 1 .2 1-.3 1 .3 1-.4 1 .2 1 .2 1-.9 1 .8 1-.1 1-.5 1 .6 1 .1 1-.3 1 .3 1-.2 1 .1 1-.1 1 .1 1 .1 1-.2 1 0 1-.6 1 .7 1-.2 1 .2 1 0 1 0 1 .1 1-.2 1 .2 1-.1 1-.6 1 .7 1-.1 1-.2 1 .2 1-.6 1 .3 1 .4 1-.3 1 .1 1-.1 1 .3 1 0 1-.1 1-.3 1 0 1-.2 1 .6 1-.1 1 .1 1-.3 1 .2 1 0 1-.1 1-.5 1 .2 1 .3 1 0 1 .2 1-.2 1 .2 1-.9 1 .9 1-.1 1-.1 1-.4 1-.2 1-.1 1 .2 1 .4 1 .1 1 0 1 0 1 .2 1 0 1 0 1-.2 1 .2 1-.1 1 .1 1-.1 1 0 1-.6 1 .5 1-.1 1 0 1-.1 1 .2 1-.2 1 .4 1-.1 1-.2 1 0 1 .3 1 0 1-.1 1 .1 1-.1 1 0 1-.8 1 .8 1 .1 1-.7 1 .7 1 0 1 0 1 0 0 3.3-1 0-1-.6-1-.3-1 .1-1-.1-1 0-1 .1-1-.1-1 .8-1-.5-1-.2-1-.1-1 0-1 .1-1 .3-1-.3-1 .5-1-.5-1-.1-1 .5-1 .2-1-.7-1 .1-1 .2-1 .5-1-.6-1 0-1 .1-1-.1-1 0-1 0-1 .3-1-.2-1 0-1-.1-1 0-1 .2-1 .1-1 .2-1-.1-1-.1-1 .6-1-.2-1-.4-1-.1-1-.1-1 0-1-.3-1 .1-1 .8-1-.6-1-.2-1 .1-1 0-1-.1-1-.1-1 1-1-.9-1 .1-1-.1-1 0-1 0-1 .1-1-.2-1 .1-1-.1-1 .1-1-.1-1 0-1 .1-1 0-1 0-1 .9-1-1-1 .1-1-.1-1 .1-1 .4-1-.4-1-.1-1 .1-1 .2-1-.3-1 0-1 0-1 .1-1 .6-1-.7-1 .7-1-.4-1 .9-1-.2-1-1-1 0-1 .4-1-.2-1-.2-1 .1-1 .3-1-.3-1-.1-1 1.4-1-1.3-1-.1-1 .1-1 .1-1-.1-1 0-1 .1-1 0-1-.2-1 .1-1 .2-1-.3-1 .3-1-.2-1-.1-1 .2-1 0-1-.2-1 .8-1-.8-1 0-1 0-1 .2-1 .6-1-.8-1 0-1 0-1 0-1 0-1 .3-1 .6-1 0-1-.7-1 0-1-.2-1 0-1 .2-1-.2-1 .4-1-.4-1 0-1 .6-1-.6-1 .2-1-.2-1 .3-1 .1-1-.4-1 .2-1 .7-1-.6-1-.2-1 .5-1-.5-1-.1-1 0-1 0-1 0-1 .1-1 .2-1 .1-1-.4-1 .3-1-.3-1 0-1 0-1 0-1 0-1 .7-1-.7-1 .1-1 0-1 .4-1 .2-1-.7-1 .2-1-.1-1 .2-1-.1-1 0-1 0-1 .5-1 .3-1 0-1-.5-1 0-1 0-1-.3-1 0-1-.2-1 .3-1 .5-1-.4-1 .1-1-.3-1-.2-1 .2-1-.2-1 .8-1-.6-1-.1-1 .1-1-.2-1 .1-1-.1-1 .1-1-.1-1 .4-1-.3-1-.1-1 .3-1-.1-1 .5-1-.7-1 .3-1 0-1 .2-1 0-1-.2-1-.1-1 .3-1-.1-1-.4-1 0-1 0-1 .1-1 .2-1-.2-1 .3-1-.3-1 0-1 .1-1-.2-1 .9-1-.8-1 .5-1-.6-1 .1-1-.1-1 .1-1-.1-1 .2-1-.2-1 .1-1-.1-1 .9-1-.9-1 .4-1-.3-1 0-1 .2-1-.3-1 .1-1-.1-1 .4-1-.4-1 .1-1 .2-1-.3-1 .1-1-.1-1 .3-1-.2-1-.1-1 0-1 .6-1-.4-1-.1-1 1-1-.8-1 .5-1-.6-1-.2-1 .1-1 .7-1-.8-1 .4-1-.2-1-.1-1 .2-1-.2-1 0-1-.1-1 .3-1-.2-1-.1-1 .2-1-.1-1 .2-1 .1-1-.3-1 0-1 .1-1 .2-1-.4-1 .2-1-.2-1 0-1 .2-1-.1-1-.1-1 0-1 .1-1 0-1 .8-1-.9-1 0-1 0-1 .7-1-.2-1 .1-1-.5-1 0-1 .1-1-.1-1 .2-1 0-1-.2-1 0-1 .2-1 .4-1-.7-1 .1-1-.1-1 .5-1-.3-1 .4-1-.6-1 .1-1 0-1 .3-1 0-1-.4-1 .2-1-.1-1-.1-1 .5-1-.2-1-.1-1-.1-1 .1-1-.2-1 .7-1-.6-1 .2-1-.1-1 .1-1-.2-1 0-1 .3-1-.3-1 .1-1-.1-1-.1-1 0-.5 .2-1 0 0 .3-1 0 0 .5-1 0 0 1.6-1 0 0-.2-1 0 0 3.3-1 0 0-.7-1 0 0 .4-1 0 0-4-1 0 0 .5-1 0 0-.2-1 0 0-1.4-1 0-.5-.3-1 .9-1-.8-1 .1-1-.2-1 0-1 .1-1-.1-1 .3-1-.1-1-.1-1 .1-1-.2-1 .3-1-.3-1 .1-1-.1-1 .5-1-.3-1-.1-1 .4-1-.5-1 1.2-1-1.2-1 .9-1-.7-1 .1-1 .6-1-.7-1-.1-1-.1-1 .7-1-.6-1 0-1 .7-1-.4-1 0-1-.4-1 .4-1-.3-1 .2-1 .6-1-.9-1 .2-1 .6-1-.3-1-.5-1 .6-1-.5-1 .5-1-.4-1-.2-1 0-1 .1-1 .2-1 0-1 .1-1-.4-1 .2-1-.1-1 .1-1-.1-1-.1-1 .3-1-.2-1-.1-1 0-1 0-1 0-1 .1-1-.1-1 .1-1 0-1-.1-1 .2-1-.2-1 0-1 .1-1 .2-1-.3-1 0-1 0-1 .3-1 0-1 0-1 0-1-.1-1-.1-1 0-1 0-1 0-1 .1-1-.2-1 0-1 .4-1 .5-1-.7-1-.1-1 .1-1 .1-1-.1-1 0-1-.1-1 0-1 .2-1-.3-1 .3-1-.3-1 0-1 .1-1 .7-1-.5-1-.2-1 .2-1-.2-1-.1-1 .2-1 0-1 .4-1-.6-1 .2-1-.2-1 .1-1-.1-1 .3-1-.2-1 .3-1-.4-1 .1-1 .2-1-.3-1 .7-1-.7-1 0-1 0-1 0-1 .1-1-.1-1 .1-1-.1-1 .3-1 0-1 0-1-.1-1 .9-1-1.1-1 .1-1 .2-1-.3-1 0-1 .1-1 .8-1-.7-1 .4-1 0-1-.5-1-.1-1 .6-1-.5-1 .2-1-.3-1 .5-1-.5-1 0-1 .1-1 .3-1 0-1 .1-1-.4-1-.1-1 .3-1-.2-1-.1-1 .2-1-.1-1-.1-1 0-1 1.2-1-1.1-1 .1-1-.1-1 .1-1-.2-1 .1-1 .2-1-.3-1 0-1 .9-1-.8-1-.1-1 .5-1-.2-1 .6-1 0-1-.1-1-.7-1 0-1 .9-1-.9-1 .1-1 .2-1-.2-1-.2-1 .1-1 .8-1-.9-1 0-1 .1-1-.1-1 .3-1 .4-1-.7-1 .2-1-.2-1 .2-1 0-1-.1-1 0-1-.1-1 .2-1 .9-1-1-1 0-1 .2-1 .1-1 .2-1 .1-1-.2-1-.3-1-.1-1 0-1 .4-1-.5-1 0-1 .1-1 0-1 .2-1-.2-1 .1-1-.2-1 .4-1-.4-1 .3-1 .2-1-.1-1-.2-1-.1-1-.1-1 .2-1-.1-1 .1-1-.1-1-.1-1 .1-1-.1-1 0-1 .2-1 .1-1 0-1-.1-1-.2-1 .4-1-.3-1 0-1 .1-1-.2-1 .1-1 .6-1-.5-1-.1-1 0-1-.1-1 .4-1 .1-1-.4-1 .1-1 .1-1-.3-1 .2-1 0-1-.2-1 0-1 .3-1-.3-1 .2-1-.1-1-.1-1 .4-1 0-1-.3-1-.1-1 .2-1 0-1-.2-1 .1-1 .1-1-.2-1 .1-1 .3-1-.1-1 .1-1-.2-1 0-1-.2-1 0-1 .1-1 .5-1-.3-1 0-1 .4-1 0-1-.2-1-.5-1 0-1 0-1 .1-1 0-1-.1-1 .1-1 .1-1-.1-1-.1-1 .1-1-.1-1 .6-1-.6-1 .4-1-.4-1 .1-1 .2-1-.3-1 .7-1-.2-1-.5-1 .1-1 0-1 .3-1 .2-1-.6-1 .1-1 0-1-.1-1 0-1 .8-1-.8-1 .1-1-.1-1 0-1 0-1 .1-1 .1-1-.2-1 0-1 0-1 0-1 .1-1 0-1-.1-1 .1-1 0-1 .3-1-.4-1 .1-1-.1-1 .1-1-.1-1 .1-1 .2-1-.3-1 .5-1-.1-1-.4-1 .3-1-.1-1-.2-1 0-1 .2-1-.1-1-.1-1 .4-1-.3-1-.1-1 .3-1 .1-1-.4-1 .1-1-.1-1 0-1 .2-1-.2-1 .9-1-.7-1-.2-1 .3-1 .2-1 0-1-.3-1-.1-1-.1-1 0-1 .2-1-.1-1 0-1 .2-1-.2-1 .6-1 0-1-.3-1-.4-1 .1-1 .1-1-.2-1 .1-1 .1-1-.1-1-.1-1 .4-1-.4-1 0-1 0-1 .5-1-.5-1 0-1 .1-1-.1-1 .2-1 .1-1-.1-1-.1-1-.1-1 0-1 .1-1-.1-1 .6-1-.5-1-.1-1 0-1 .2-1 0-1-.1-1 .6-1-.7-1 0-1 .2-1 0-1 0-1 .1-1 .2-1-.4-1 .1-1 .6-1-.8-1 .2-1 .1-1 0-1-.3-1 .1-1 .3-1-.3-1-.1-1 0-1 .2-1-.2-1 0-1 .4-1 .5-1-.9-1 .6-1-.4-1 0-1 .5-1-.7-1 1-1-.9-1-.1-1 .8-1-.8-1 0-1 .3-1-.2-1-.1-1 .6-1-.2-1-.3-1 .1-1-.1-1 0-1 0-1 0-1 .2-1-.3-1 .1-1 .4-1-.1-1 .1-1-.5-1 .2-1 .2-1-.3-1-.1-1 0-1 0-1 .2-1-.2-1 0Z"/>
<path fill="#ff0000" d="M138.5 733.1l1 0 1 .7 1-.2 1 .1 1-.2 1-.5 1 .5 1-.3 1 .4 1 .1 1 .1 1-.1 1 .1 1 0 1-.1 1-.3 1 .4 1-.3 1 .3 1-.7 1 .4 1 .3 1-.1 1-.1 1-.1 1 .3 1-.4 1 .1 1 .3 1-.1 1 .2 1-.4 1-.1 1 .1 1 .1 1-.5 1-.4 1 .9 1 .2 1-.1 1-.3 1 .1 1-.4 1 0 1-.2 1 .4 1 .2 1-.1 1-.2 1 .1 1 .5 1-.1 1 .1 1 0 1-.4 1 .3 1-.8 1 .6 1 .2 1 0 1 0 1 .1 1-.5 1 .4 1 .2 1-.2 1 .2 1-.2 1-.2 1 .2 1-.2 1 .2 1 0 1-.2 1-.4 1 .3 1 .2 1 0 1-.1 1 .4 1-.4 1 .3 1 0 1-.9 1 .7 1 0 1 .1 1-.6 1 .6 1 0 1 .1 1-.3 1 .3 1-.1 1 0 1 0 1 0 1-.4 1 .1 1 .4 1-.1 1-.3 1 .4 1-.3 1 .1 1-.1 1 .4 1 0 1-.4 1 .1 1 .1 1 .1 1-.1 1 .1 1-.2 1 .3 1-.4 1 .3 1-.1 1 .1 1-.2 1 0 1 .1 1 .1 1-.1 1 .2 1-.3 1 .3 1-.3 1 0 1 .1 1 .1 1 0 1 0 1-.2 1 .3 1-.4 1 .2 1 .1 1 .1 1-.9 1 .8 1 .1 1-.2 1-.3 1 .4 1-.1 1 .2 1-.9 1 .8 1 0 1 .1 1-.1 1-.1 1 .1 1-.1 1 0 1-.4 1 .6 1-.1 1 0 1-.1 1-.7 1 .8 1-.3 1 .3 1-.1 1-.2 1 .1 1-.2 1 .4 1-.1 1 .1 1 0 1-.2 1 .2 1 0 1-.4 1 .4 1 .1 1-.2 1 0 1 .1 1 0 1 0 1 0 1-.3 1 .3 1-.3 1 .4 1-.2 1 .1 1-.3 1 .2 1 0 1-.6 1 .7 1 0 1-.8 1 .9 1-.4 1-.2 1 .5 1-.2 1 .2 1 .1 1-.7 1 .4 1 .1 1-.2 1 .2 1 0 1 .1 1-.2 1 .1 1-.8 1 .9 1-.3 1-.5 1 .7 1 .1 1-.2 1 .1 1 0 1-.8 1 1 1 0 1-.9 1 .7 1-.4 1 .6 1-.2 1 .1 1 0 1 0 1-.1 1 0 1 .1 1-.2 1 .2 1 0 1-.1 1-.1 1-.8 1 .9 1 0 1 .1 1-.4 1-.5 1 .5 1-.2 1 .3 1 .2 1-.1 1-.3 1 .5 1-.5 1 .3 1 .2 1-.1 1 0 1 0 1 .1 1 .1 1-.1 1-.2 1 0 1 .3 1-.2 1 0 1 .1 1-.2 1-1 1 .5 1 .5 1-.1 1 .3 1 .1 1-.1 1 0 1-.1 1 0 1 .2 1-.1 1-.1 1-.5 1 .6 1-.5 1 .1 1 .3 1-.1 1-.3 1 .2 1 0 1 .3 1-.5 1 .5 1-.7 1 .7 1-.1 1 0 1-.2 1 .3 1 .1 1-.1 1 0 1-.1 1 0 1 .1 1-.8 1 .8 1 0 1-.2 1 .3 1-.2 1-.1 1 .2 1-.1 1 0 1-.5 1 .6 1 0 1-.3 1 .3 1-.3 1 .3 1 .1 1-.2 1 .1 1-.1 1 0 1-.3 1 .4 1-.4 1-.4 1 .2 1 .4 1-.1 1 0 1-.1 1 .5 1-.1 1 .1 1-.2 1-.3 1 .5 1-.1 1-.4 1 .2 1 .2 1-.6 1 .3 1 .1 1 .2 1-.1 1 .1 1 0 1 0 1-.3 1-.1 1 .4 1 0 1-.3 1 .3 1 0 1 0 1-.1 1-.1 1 0 1-.2 1 .1 1 .3 1 0 1-.1 1 0 1 0 1 0 1 .2 1-.2 1-.2 1-.1 1-.3 1 .5 1 .1 1 0 1 .1 1 0 1-.3 1 .4 1-.1 1 .1 1-.1 1-.3 1 .2 1 0 1 0 1-.1 1-.2 1 0 1 .4 1-.1 1 .1 1 0 1 0 1 0 1-.6 1 0 1 .4 1 .2 1-.4 1 .3 1-.3 1-.2 1 .1 1-.9 1 .9 1 .2 1-1 1 1.1 1-.5 1 .6 1 .2 1-.5 1 .2 1-.1 1 .2 1 0 1-.1 1-.3 1 .2 1 .2 1 .1 1-.6 1-.8 1 1.3 1 .4 1-.7 1-.6 1 .3 1 1 1-.3 1-.8 1 .1 1 .4 1 .8 1-.9 1-.1 1-.3 1 .6 1 .1 1-.3 1-.2 1 .3 1 .6 1-.6 1-1 1 .9 1 .6 1-.7 1-.3 1-.5 1 1.2 1 .4 1-1 1 .3 1-.1 1 .3 1 .1 1-.4 1 .1 1 .3 1 .1 1-.6 1 .4 1 .1 1-.1 1 .1 1-.2 1-.4 1 .6 1 .5 1-.7 1-.3 1-.1 1 .4 1 .2 1-.4 1 .2 1 .3 1-.5 1 .2 1-1.1 1 .4 1 1.2 1-.1 1-.8 1-.1 1 .6 1 .3 1-.8 1 .1 1 0 1 .3 1-.3 1 0 1 0 1 .4 1 .1 1-.5 1 .3 1-.1 1 .4 1-.5 1-.1 1 0 1 .2 1 .9 1-1.2 1 .2 1-.3 1 .9 1-.1 1-.3 1 0 1 .2 1 .2 1-.3 1-.1 1-.1 1 .3 1-.2 1-.1 1 0 1 .1 1 .5 1-.5 1-.6 1 .4 1 .4 1 .1 1-1.9 1 1.6 1 .1 1 .3 1-.6 1 .1 1-.9 1 1.2 1 0 1-.3 1-.2 1 .1 1 .6 1-.1 1-.2 1-.1 1 .3 1-.2 1 .2 1-.2 1 .2 1 .1 1-.2 1-.1 1-.6 1 .8 1 0 1 .1 1-.1 1-.2 1 0 1 .3 1 0 1-.8 1-.2 1 .9 1-.2 1 .1 1-.5 1 .6 1-.9 1 .9 1-.7 1 .4 1 .3 1-.1 1 0 1 0 1 .1 1 .1 1-.3 1-.2 1-.3 1 .5 1-.1 1 .2 1 .1 1-.1 1 .1 1 0 1 0 1-.3 1 .2 1-.5 1 0 1-.3 1 0 1 .2 1 .3 1 .1 1-.3 1 .4 1-.6 1 .3 1 .3 1 .2 1 0 1-1.2 1 1.2 1 0 1-.7 1 .4 1-.7 1 1 1-.3 1-.1 1-.6 1 .4 1-.9 1 1.2 1 .1 1 .2 1 0 1 0 1 0 1 0 1-.1 1 0 1 .1 1-.4 1-.5 1 .5 1 .3 1-.3 1 .4 1-.2 1 .1 1 .1 1 0 1 .1 1-.3 1 .3 1-.2 1 .2 1-.1 1 0 1 0 1-.8 1 .7 1 .1 1-1 1 .1 1 .8 1 0 1 .2 1-.1 1 0 1 0 1-1.2 1 .7 1 .4 1-.6 1 .7 1-.3 1 .3 1 .1 1-.1 1 .1 1-.2 1 .2 1-.5 1 .4 1-.1 1 0 1-.2 1 .1 1-.2 1 .4 1-.1 .5-.4 1 0 1 0 0-.5 1 0 1 0 0 .2 1 0 0 .3 1 0 0-.5 1 0 0 .5 1 0 0-.5 1 0 0 .6 1 0 0-.5 1 0 0-1.7 1 0 0 .1 1 0 0 .1 1 0 0-.4 1 0 0 .3 1 0 0 .2 1 0 0 1.1 1 0 0-.2 1 0 1 0 0 .5 1 0 0-.5 1 0 0 .7 1 0 0 .1 1 0 1 0 0-.2 1 0 .5 .9 1-.1 1 0 1-.1 1-.4 1-.3 1 .9 1-.2 1 .2 1-.4 1-.3 1 .6 1-.2 1 0 1 .2 1 0 1-.3 1-.1 1 .1 1 .3 1-.2 1-.1 1 .2 1 0 1 .1 1 .1 1-.1 1-.2 1 .3 1-.1 1 .1 1-.2 1 .1 1-.5 1 .5 1-.2 1 .3 1-.5 1 .4 1-.2 1 .1 1 0 1-.2 1 .1 1 0 1 .2 1 0 1 0 1 0 1 .1 1-.2 1 .1 1-.2 1 0 1 .2 1-.4 1 .2 1 .1 1 0 1-.8 1 .9 1-.5 1 .5 1 0 1-.2 1 .1 1 .2 1-.5 1 .4 1 0 1-.8 1 .8 1 0 1-.3 1 .3 1-.4 1 .4 1-.2 1 0 1 0 1 .1 1 .2 1-.2 1 0 1 0 1 .2 1-.1 1-.3 1 .3 1-.1 1 .1 1-.9 1 .6 1 .3 1 0 1 0 1 0 1 0 1-.1 1 .1 1-.1 1 .1 1 0 1-.1 1 .1 1 0 1 0 1-.1 1-.1 1 .3 1 0 1-.1 1 0 1-.4 1 .4 1-.8 1 .6 1 0 1 .2 1-.3 1 .3 1-.3 1-.6 1 .9 1 0 1 0 1 0 1-.1 1-.3 1 .4 1-.4 1 .2 1-.8 1 .9 1 .1 1-.3 1-.1 1 .4 1-.3 1 0 1 .4 1-1 1 .8 1 0 1-.2 1 .2 1 .1 1 0 1-.5 1 .6 1-.5 1 .5 1-.1 1 0 1-.1 1 .1 1-1.2 1 1.2 1 0 0 2.5-1 0-1 .4-1-.2-1-.3-1 .2-1 0-1 .5-1-.5-1 0-1-.1-1 .1-1-.1-1 0-1 .1-1 .7-1-.9-1 .2-1-.2-1 .2-1 .2-1-.4-1 .2-1-.1-1 0-1 .3-1-.4-1 .1-1 .1-1-.1-1-.1-1 .2-1 0-1 0-1-.1-1 .9-1-.8-1-.1-1-.1-1 .4-1-.4-1 0-1 .2-1 .6-1-.5-1-.2-1 .5-1 0-1-.5-1 .2-1 0-1-.3-1 .1-1 0-1 0-1-.1-1 .4-1-.3-1-.1-1 0-1 0-1 0-1 .8-1-.7-1 .1-1 0-1-.1-1-.1-1 .2-1-.1-1 .1-1 .7-1-.8-1 0-1 .8-1-.6-1-.3-1 0-1 .3-1-.3-1 .4-1-.2-1 .1-1 .7-1-.8-1 .7-1-.8-1 .1-1-.1-1 .1-1 0-1-.1-1 .2-1-.1-1-.1-1 .2-1-.1-1-.2-1 .2-1-.1-1-.1-1 .3-1-.1-1-.2-1 .7-1-.5-1 0-1-.1-1 0-1 .1-1 0-1 .7-1-.9-1 .1-1 .1-1-.1-1 .1-1-.2-1 .1-1 .2-1-.2-1 .6-1-.6-1 .3-1-.3-1 0-1 .7-1-.3-1-.4-1 .3-1-.2-1 0-1 .8-1-.8-1 0-1 .9-1-1-1 .3-1 .1-1-.5-1 .4-1-.1-1 .1-1-.3-1 0-1 .1-1-.2-1 .1-1-.1-1 .2-1 .3-1-.4-1 .2-1 .1-1-.3-1 .2-1-.2-1 0-1-.1-.5 .9-1 0-1 0-1 0-1 0 0 1-1 0 0-.2-1 0 0 .3-1 0 0-.1-1 0 0-.3-1 0 0 .4-1 0 0 .2-1 0 0 .1-1 0 0 .2-1 0 0-.8-1 0 0 .6-1 0 0-1.8-1 0 0 .5-1 0-1 0 0-.6-1 0 0 .5-1 0 0-.4-1 0 0 .1-1 0 0-.1-1 0 0-.1-1 0 0 .4-1 0 0-.4-1 0-.5-.1-1 0-1-.3-1 .1-1 0-1-.1-1 .3-1 0-1 .1-1-.3-1 .3-1-.2-1-.2-1 .3-1-.2-1-.1-1 .9-1-.9-1 .3-1 .6-1-.2-1 .5-1-1-1 0-1-.2-1 0-1 .2-1 .2-1-.2-1-.2-1 0-1 .7-1-.4-1-.2-1 .3-1-.3-1 0-1 .7-1-.4-1 .1-1-.5-1 0-1 .1-1 0-1 .2-1 .5-1-.1-1-.5-1 .2-1 .1-1-.1-1 .2-1-.4-1 .2-1-.1-1 .4-1-.6-1 .1-1 .2-1 .3-1 .3-1-.1-1-.4-1-.1-1 .2-1-.5-1 .8-1-.5-1-.4-1 0-1 .1-1 .2-1-.1-1 .1-1-.2-1 0-1-.1-1 .4-1-.2-1 0-1 .3-1 .5-1 .4-1-.2-1-.2-1 .1-1 0-1-.9-1-.1-1-.1-1 .1-1 0-1 .2-1-.2-1 .1-1 .3-1-.3-1 0-1 0-1-.1-1 .3-1-.3-1-.1-1 .1-1 0-1 .3-1 .5-1-.4-1-.5-1 0-1 .4-1-.3-1 .1-1 .4-1-.6-1 0-1 .4-1-.4-1 .1-1 .8-1-.2-1-.6-1 .2-1-.2-1 .5-1-.5-1-.1-1 .8-1-.7-1 .1-1-.1-1 .1-1-.1-1 .1-1-.1-1 .3-1-.2-1 .1-1-.2-1 0-1 .4-1 .1-1-.3-1-.1-1 .1-1 .4-1 0-1-.2-1-.3-1 .5-1 .1-1-.6-1-.3-1 .8-1-.1-1 0-1-.2-1-.4-1 .7-1-.2-1 .3-1-.9-1 .5-1 .1-1-.2-1-.3-1 0-1 .5-1 .6-1-.3-1-.9-1 .6-1 .1-1 .3-1-.7-1 0-1 .7-1-.1-1-.1-1-.8-1 .6-1-.1-1 1-1-.8-1 .1-1 .4-1 .1-1-.4-1-.6-1 .4-1 .5-1-.5-1-.5-1 .2-1 .3-1-.1-1 .1-1-.5-1 .3-1 .1-1-.1-1-.5-1 .2-1 .3-1 0-1-.2-1-.4-1 .8-1 0-1 0-1-.7-1 .5-1 .4-1-.3-1-.1-1-.4-1 .5-1 0-1 0-1-.4-1-.1-1 .7-1 0-1-.4-1-.3-1 .4-1 .4-1-.3-1-.6-1 .3-1 .6-1-.2-1-.1-1-.6-1 .7-1-.1-1-.1-1-.4-1 .3-1 .4-1-.2-1-.4-1 .5-1-.2-1 .4-1-.1-1-.8-1 .8-1 .1-1 .5-1-.9-1-.6-1 .8-1 .2-1 .5-1-1.4-1 .3-1 .4-1-.1-1-.2-1-.6-1 .6-1 .2-1-.1-1-.5-1 .4-1 0-1 .2-1 .4-1-.8-1 .5-1-.1-1 .1-1 0-1 .2-1-.2-1-.1-1 .1-1 .5-1-1-1 1-1-.6-1-.1-1-.4-1 .1-1 .2-1-.2-1 0-1 .2-1 0-1-.2-1 .1-1-.1-1 0-1-.1-1 .7-1-.5-1-.1-1 .7-1-.4-1-.2-1-.1-1 0-1 .7-1-.7-1 .1-1 .1-1 0-1 0-1-.3-1 .1-1 0-1 0-1 .1-1-.2-1 .3-1 .5-1-.6-1-.2-1 .1-1 .2-1-.3-1 .1-1-.1-1 .9-1-.5-1-.3-1 0-1 .1-1 0-1 .3-1-.5-1 0-1 .3-1-.2-1-.1-1 .2-1 .2-1 0-1-.1-1-.1-1 .1-1 .5-1-.8-1 .2-1 .1-1 0-1 0-1-.2-1-.1-1 .1-1 .8-1-.8-1 .8-1-.2-1 0-1-.6-1-.1-1 .6-1-.3-1-.2-1 0-1 0-1 0-1 .1-1 0-1 0-1-.1-1 .1-1-.2-1 .6-1-.4-1-.1-1 .6-1-.4-1-.1-1 0-1 .7-1-.9-1 .7-1 .7-1-1.4-1 .4-1 0-1-.2-1 .1-1 .1-1-.1-1 .7-1-1-1 .3-1-.2-1-.1-1 .2-1 .1-1-.1-1 0-1-.2-1 .2-1-.2-1 .5-1-.3-1 .1-1 .6-1-.8-1 0-1 .5-1 .2-1-.3-1-.5-1 .4-1-.3-1 0-1 0-1 .7-1-.4-1-.3-1 .1-1-.2-1 .1-1-.1-1 .1-1-.1-1 .3-1-.1-1 .1-1-.1-1 0-1-.1-1 .8-1-.8-1 0-1-.1-1 .2-1-.2-1 .3-1-.1-1 .4-1-.6-1 1-1-1-1 .1-1 0-1 .2-1-.1-1 0-1 .4-1-.6-1 .2-1-.2-1 .1-1-.1-1 .1-1 0-1 0-1 0-1 .3-1-.4-1 .1-1 0-1 0-1 .1-1-.1-1-.1-1 .3-1-.3-1 0-1 .2-1 .1-1-.2-1-.1-1 0-1 .1-1 .4-1-.2-1-.1-1 .2-1-.3-1 0-1 0-1 .3-1-.2-1 .7-1-.8-1 0-1 .2-1 0-1-.2-1-.1-1 .1-1-.1-1 .1-1 .2-1-.2-1 0-1-.1-1 .4-1-.3-1 1.1-1-.8-1-.4-1 .2-1-.1-1 .2-1-.1-1 .7-1-.8-1 .1-1 .2-1 0-1-.4-1 .2-1 .1-1 .4-1-.5-1-.2-1 0-1 .2-1 0-1-.1-1 .1-1-.1-1 .4-1-.3-1 0-1-.1-1 0-1 .3-1-.4-1 .2-1 .6-1-.7-1 .1-1 .9-1-.8-1-.1-1-.1-1-.1-1 .3-1 0-1 0-1-.3-1 .2-1 .5-1-.6-1-.1-1 .6-1 .3-1-.7-1-.1-1 .2-1 .3-1 .3-1-.7-1-.1-1 .1-1-.1-1 .1-1 .1-1-.2-1 .2-1-.1-1 .4-1-.4-1 .3-1-.5-1 .2-1 .3-1-.3-1 0-1 .2-1-.3-1 .2-1 .5-1-.8-1 .2-1-.1-1 .1-1 .1-1 0-1-.2-1 .2-1 .2-1-.5-1 0-1 .1-1 .3-1-.4-1 .1-1 .2-1-.3-1 0-1 .4-1-.4-1 0-1 .2-1-.1-1 .1-1 0-1-.1-1-.1-1 0-1 .2-1 .1-1 0-1-.3-1 .1-1 .8-1-.8-1 0-1 .2-1 0-1 .5-1-.5-1-.2-1 .2-1 .2-1-.4-1 0-1 .1-1-.2-1 .2-1 0-1-.1-1 .2-1-.3-1 .5-1-.4-1 .1-1-.1-1 .4-1-.2-1-.2-1 0-1 .1-1 .7-1-.7-1 .1-1 .1-1-.3-1 0-1 .3-1-.1-1 1.1-1-.4-1-.6-1 .7-1-.9-1-.1-1 .2-1 .1-1-.3-1 .2-1 .2-1 .3-1-.1-1-.1-1-.1-1-.1-1 .5-1-.7-1 .1-1 0-1-.1-1 .1-1-.3-1 .1-1 .2-1-.2-1 .2-1-.1-1 .1-1-.3-1 0-1 0-1 .3-1-.2-1 .1-1 0-1 0-1 .4-1 .1-1 .5-1-.7-1-.2-1 .3-1-.4-1 .2-1-.1-1 0Z"/>
<path fill="none" stroke="#ff0000" stroke-width="1.2" stroke-linejoin="round" d="M557.3 735.1l.5-.1 .5 0 .5-.1 .5 .1 .5 .1 .5 .1 .5 0 .5 0 .5-.1 .5-.2 .5-.1 .5 0 .5 .1 .5 .2 .5 .2 .5 .1 .5-.1 .5-.2 .5-.3 .5-.1 .5 0 .5 .1 .5 .3 .5 .2 .5 .2 .5-.1 .5-.3 .5-.3 .5-.2 .5 0 .5 .2 .5 .3 .5 .3 .5 .2 .5-.1 .5-.4 .5-.3 .5-.3 .5 0 .5 .2 .5 .5 .5 .4 .5 .1 .5-.1 .5-.4 .5-.5 .5-.4 .5 0 .5 .4 .5 .5 .5 .4 .5 .1 .5-.2 .5-.4 .5-.4 .5-.2 .5 .1 .5 .2 .5 .3 .5 .2 .5 .1 .5-.1 .5-.2 .5-.2 .5-.2 .5 0 .5 .2 .5 .2 .5 .2 .5 .1 .5 0 .5-.3 .5-.3 .5-.2 .5 0 .5 .2 .5 .3 .5 .3 .5 .2 .5-.1 .5-.4 .5-.3 .5-.3 .5 0 .5 .3 .5 .3 .5 .3 .5 .2 .5-.2 .5-.3 .5-.3 .5-.2 .5 0 .5 .2 .5 .3 .5 .3 .5 .1 .5-.1 .5-.3 .5-.3 .5-.2 .5 0 .5 .2 .5 .3 .5 .2 .5 0 .5-.1 .5-.1 .5-.2 .5 0 .5 0 .5 .1 .5 .1 .5 .1 .5 .1 .5-.1 .5-.1 .5-.2 .5-.2 .5-.1 .5 .2 .5 .3 .5 .3 .5 .2 .5-.2 .5-.3 .5-.3 .5-.2 .5 .1 .5 .2 .5 .2 .5 .1 .5 0 .5 0 .5-.1 .5-.1 .5-.1 .5 0 .5 0 .5 .2 .5 .1 .5 .1 .5 0 .5-.2 .5-.2 .5-.2 .5 0 .5 .1 .5 .3 .5 .3 .5 .2 .5-.1 .5-.4 .5-.4 .5-.2 .5 0 .5 .2 .5 .4 .5 .4 .5 .1 .5-.2 .5-.3 .5-.3 .5-.1 .5 0 .5 .1 .5 .3 .5 .2 .5 .1 .5-.1 .5-.2 .5-.3 .5-.1 .5 0 .5 .2 .5 .2 .5 .2 .5 .1 .5-.1 .5-.2 .5-.2 .5-.2 .5 0 .5 .1 .5 .3 .5 .3 .5 .1 .5-.1 .5-.3 .5-.4 .5-.2 .5-.1 .5 .3 .5 .5 .5 .3 .5 .2 .5-.2 .5-.4 .5-.3 .5-.2 .5 0 .5 .2 .5 .3 .5 .2 .5 .1 .5-.1 .5-.2 .5-.2 .5-.1 .5 0 .5 .1 .5 .2 .5 .2 .5 0 .5-.1 .5-.1 .5-.2 .5-.1 .5 0 .5 .1 .5 .2 .5 .2 .5 .1 .5-.1 .5-.2 .5-.3 .5-.2 .5 0 .5 .2 .5 .3 .5 .3 .5 .1 .5-.1 .5-.3 .5-.3 .5-.2 .5-.1 .5 .3 .5 .3 .5 .3 .5 .1 .5-.1 .5-.3 .5-.3 .5-.2 .5 .1 .5 .1 .5 .3 .5 .2 .5 .1 .5-.1 .5-.2 .5-.2 .5-.2 .5 0 .5 .2 .5 .2 .5 .2 .5 0 .5-.1 .5-.1 .5-.2 .5-.1 .5 .1 .5 .1 .5 .1 .5 0 .5 .1 .5-.1 .5 0 .5-.1 .5 0 .5 0 .5 0 .5 0 .5 .1 .5 0 .5 0"/>
<path fill="#0000ff" d="M138.5 765.1l1 0 1 .3 1-.1 1 .1 1-.3 1 .3 1-.1 1 .1 1 0 1-.4 1 .3 1 0 1 .1 1-.3 1 .2 1-.1 1 .2 1-.6 1 .5 1-.2 1 .2 1 .1 1-.2 1 0 1 .2 1 0 1 0 1-1 1 .4 1 .5 1-.1 1-1.1 1 1.1 1-.1 1 0 1 .1 1 .1 1 .1 1-.2 1 .2 1-.1 1-.2 1 .3 1-.3 1 .2 1 0 1 .1 1-.1 1 0 1 .1 1-.3 1 0 1 0 1 .1 1 .1 1 .1 1-1 1 1 1 0 1-.1 1 0 1 .1 1 0 1 0 1-.2 1 0 1 .2 1-.1 1-.3 1 .4 1-.1 1-.1 1 .1 1-.1 1 0 1-.2 1-.1 1 .5 1 0 1-.2 1-.4 1 .4 1-.7 1 .2 1 .1 1 .4 1 .1 1-.1 1 .1 1-.2 1 .2 1 0 1 .1 1-1.1 1 1 1-.1 1 0 1 .2 1-.2 1-.4 1 .5 1-.1 1-.3 1 .1 1 .3 1-.1 1-.5 1-.3 1-.1 1 .2 1-.2 1 .8 1 .2 1 0 1-.1 1 .1 1 .1 1 0 1-.1 1-.2 1 .3 1-.3 1 .2 1 0 1 0 1-.2 1 .2 1 .1 1-.4 1-.3 1 .7 1-.7 1 .5 1-.1 1-.5 1 .7 1-.2 1 .2 1-.1 1 0 1-.6 1 .8 1 0 1-.3 1 .3 1-.2 1-.1 1-.1 1 .4 1-.6 1 .5 1 0 1-.3 1 .1 1 .2 1 0 1 .1 1-.2 1-.5 1-.4 1 .7 1 .3 1-.1 1 .1 1 .1 1-.9 1 .6 1 .1 1-.8 1 1 1-.2 1 .1 1-.2 1-.4 1 .4 1 .2 1-.2 1 .3 1-.5 1 .5 1-.3 1-.2 1 .5 1 0 1-.3 1 0 1 .2 1 0 1-.3 1 .4 1-.1 1 0 1 .1 1-.3 1 .1 1-.2 1 0 1 .1 1-.3 1-.1 1 .4 1 0 1 .3 1-.1 1-.1 1 .1 1 0 1-.2 1 .2 1-.2 1 .3 1-.1 1 .1 1-.2 1 .2 1-.5 1 .5 1-.3 1 .2 1-.1 1 .1 1 0 1 0 1-.1 1-.2 1 .2 1-.6 1 .7 1 .1 1-.3 1-.1 1 .4 1-.2 1-.6 1 .1 1 .5 1 0 1 0 1 .1 1 .1 1-.1 1-.3 1 .1 1 .3 1-.8 1 .5 1-.1 1 .3 1 .1 1-.3 1-.1 1 .4 1 0 1-.4 1 .4 1 0 1-.1 1 .1 1-.2 1 .1 1-.7 1 .6 1-.4 1 .4 1 .1 1-.2 1 .2 1 .1 1-.5 1 .4 1 0 1 0 1-.1 1 .2 1-.1 1 .1 1-.3 1 .1 1 .1 1 .1 1-.3 1 .1 1 .1 1 0 1 .1 1-.3 1-1.2 1 1.3 1 .2 1 0 1-.3 1 0 1 .2 1-.1 1 .2 1-.1 1 0 1 0 1-.1 1-.5 1 .6 1-.1 1-.3 1-.2 1-.3 1 .1 1 .3 1-.1 1 .5 1 .1 1 0 1 .1 1-.1 1 .1 1-.1 1 0 1-.4 1 .3 1 0 1-.8 1 .9 1-.2 1 .2 1-.1 1 0 1 0 1 .2 1-.5 1 .5 1 0 1-.2 1 .1 1 .1 1 0 1-.3 1 .2 1 0 1 0 1-.1 1-.2 1 .1 1-.1 1 .4 1-.1 1 .1 1-.2 1-.2 1 .3 1-.3 1 .1 1 .1 1-.1 1-.2 1 .4 1-.1 1 .1 1-.1 1-.6 1 .6 1-.1 1 .2 1-1 1 1 1-.3 1 .4 1-1.1 1 .9 1 0 1-.1 1 .3 1-.1 1-.1 1 .1 1 .1 1-.5 1 .2 1 .3 1 0 1-.2 1-.2 1 .1 1 .2 1-.2 1 .3 1 0 1-.1 1-.5 1 .4 1 .2 1-.4 1-.2 1 .6 1-.5 1 .1 1 .4 1-.3 1-.1 1 .3 1 .1 1-.8 1 .7 1-.2 1-.1 1 .4 1-.1 1 .1 1-.1 1 .1 1-.4 1 .3 1-.2 1 .3 1 0 1 0 1-.2 1 .1 1 .1 1-.3 1 .1 1-.2 1 .4 1-.1 1-.2 1 .3 1-.2 1 .2 1 0 1-.8 1 .4 1 .3 1-.1 1-1.1 1 1.3 1 0 1-.1 1-.4 1 .5 1-.4 1 .2 1 .1 1-.2 1 .3 1-.5 1 .4 1-.1 1-.2 1 .4 1-.3 1 .1 1 .1 1 0 1-.5 1 .4 1 .2 1-.6 1 .6 1-.3 1 .1 1 .1 1 0 1-.2 1 .3 1-.6 1 .6 1-.2 1-.1 1 .3 1 0 1-.3 1 .1 1 0 1-.5 1-.1 1 0 1 .3 1 .1 1 .1 1 .3 1-.2 1 .2 1-.1 1 .1 1-.5 1 .5 1-.5 1 .3 1 .2 1-.1 1 0 1 .1 1-.2 1 .2 1-.2 1 .2 1-.3 1-.1 1-.3 1 .3 1-.1 1 .5 1 0 1-.1 1 .1 1-.1 1 0 1-.5 1 .4 1 .2 1-.1 1 0 1-.1 1 .2 1-.1 1 0 1 0 1 0 1-.6 1 .5 1 0 1 .1 1-.2 1 .1 1 0 1 0 1 .1 1 0 1 0 1 .1 1-.1 1-.3 1 .1 1 0 1-.6 1 .7 1-.3 1 .1 1-.5 1 .9 1-.1 1-.6 1 .5 1 .1 1-.1 1 .1 1 0 1-.8 1 .7 1 0 1 .2 1 0 1-.1 1 0 1-.1 1 .2 1-.2 1 .1 1 .1 1-.5 1 .4 1 .1 1-.2 1 0 1 .1 1-.1 1-.2 1 .2 1 .2 1 0 1 0 1-.1 1-.1 1 0 1 0 1-.2 1 .3 1-.2 1-.8 1 .5 1 .1 1-.2 1 .3 1-.3 1 .3 1 .1 1-.2 1-.1 1 .5 1 0 1-.9 1 .7 1 .3 1 0 1 0 1 0 1-.1 1-.9 1 .9 1-.3 1 .1 1-.3 1 .1 1 .1 1 0 1 .2 1-.2 1 .1 1 .2 1 .1 1-.2 1 .2 1 0 1-.3 1-.3 1 .6 1-.2 1 0 1-.2 1 .4 1-.1 1-.1 1 .2 1-.2 1 .2 1-.2 1 0 1 .1 1 .1 1 0 1-.2 1-1.2 1 1.2 1 .1 1-.2 1 .2 1-.1 1 .1 1-.3 1 .3 1-.1 1-.6 1-.2 1 .3 1 .2 1 .4 1 .1 1-1.1 1 .9 1 .1 1 .1 1 0 1-.1 1-.6 1 .5 1 .2 1-.1 1-.1 1 .2 1-.2 1 .1 1-.1 1 .1 1-1.2 1 .7 1 .2 1-.2 1 .3 1 .1 1-.8 1 .9 1-.8 1 .7 1-.8 1 .9 1-.2 1 .1 1 .1 1-.2 1-1 1 .8 1 .2 1 .2 1 .1 1-.1 1 .1 1-.4 1 .2 1 .2 1-.3 1-.4 1 .5 1-.1 1 .2 1-.3 1 .3 1 .1 1-.1 1-.1 1 .1 1-.8 1 .9 1-.1 1 .1 1-.1 1-.3 1 .2 1-.1 1-.4 1 .3 1 .1 1 .3 1-.2 1 0 1 .2 1 0 1-.1 1 0 1-.1 1 .2 1-.1 1 0 1-.1 1 .1 1-.2 1 .2 1 0 1-.2 1 0 1-.1 1 .3 1-.2 1-.3 1 .2 1 .1 1-.1 1 .3 1-.1 1-.3 1 .3 1 0 1 .2 1-.1 1 0 1-.2 1 .2 1-.1 1-.6 1 .7 1-.1 1 .1 1 .1 1-.1 1 .1 1-.9 1 .7 1 .2 1-.3 1 .2 1-.9 1 1 1-.3 1-.4 1 .7 1 0 1 0 1 0 1-.1 1 .1 1 0 1 0 1 0 1-.1 1-.1 1-.1 1 .1 1-.2 1-.3 1 .6 1 0 1-.2 1-.1 1 .4 1-.2 1 0 1 .2 1-.1 1-.3 1-.2 1-.5 1 1 1 0 1 .1 1-.1 1 0 1 0 1-.1 1 .1 1 .1 1-.1 1 .1 1 0 1-.1 1-.4 1 .5 1-.2 1 .1 1-.1 1 .1 1-.1 1 .2 1-.4 1 .2 1-.2 1 .3 1 .1 1-.4 1 .2 1 .2 1-.9 1 .7 1 .2 1-.1 1-.3 1 .3 1 0 1-.1 1-.2 1 .2 1 0 1-.1 1 .1 1 0 1 0 1-.1 1-.3 1 .6 1-.5 1 .3 1 .1 1-.6 1 .6 1 0 1 0 1 .1 1-.1 1-.3 1 .2 1 .1 1 0 1 .1 1-.3 1-.2 1 .2 1-.6 1 .9 1 0 1-.1 1 0 1 .1 1-.1 1 .1 1-.1 1-.3 1 .4 1-.1 1-.2 1 .1 1 .1 1-.6 1 .2 1 .5 1-.2 1 .1 1-.2 1 0 0 2.9-1 0-1 0-1 0-1-.2-1 .5-1-.5-1 0-1 0-1 .1-1-.2-1 .3-1-.1-1-.1-1 .3-1-.4-1 .2-1 .3-1-.3-1 .2-1 0-1-.3-1 .2-1-.3-1 .3-1-.2-1 .5-1-.4-1-.1-1 .5-1-.2-1-.4-1 .3-1-.1-1-.1-1 .1-1 .1-1 .5-1-.7-1 .3-1-.3-1 .1-1 .1-1-.1-1 0-1 .4-1-.6-1 .7-1-.6-1 .1-1 0-1-.1-1 .1-1-.2-1 .2-1 .1-1 .1-1-.1-1-.1-1 .1-1-.2-1 .9-1-.8-1-.1-1 .3-1-.3-1 .7-1-.5-1-.2-1 .1-1-.1-1 0-1 .1-1-.1-1 .3-1-.1-1-.1-1 .1-1 .6-1-.8-1 .3-1-.3-1 .3-1 1-1-1.1-1 .5-1-.6-1 .2-1-.3-1 .1-1 .1-1 0-1-.1-1 0-1 .4-1-.2-1-.1-1-.1-1-.1-1 0-1 0-1 .1-1 .3-1-.3-1-.1-1 .2-1 0-1 .5-1-.6-1-.1-1 .6-1-.6-1 0-1 .1-1-.1-1 .1-1 .2-1-.4-1 .2-1 0-1 0-1-.1-1 .2-1 0-1 0-1-.2-1 0-1 .8-1-.7-1 .1-1 .5-1-.7-1 0-1 .8-1-.8-1 0-1 .1-1 0-1 0-1-.1-1 .1-1 .4-1-.2-1 .2-1-.1-1-.3-1 0-1 .1-1 .6-1-.1-1-.5-1 0-1 .9-1-.9-1-.1-1 0-1-.1-1 .1-1 0-1 0-1-.1-1 .8-1-.6-1-.1-1 .3-1-.3-1 1.2-1-.6-1-.5-1 0-1-.3-1 .1-1 .1-1 .1-1-.2-1 .2-1 .2-1-.2-1-.1-1 .3-1-.3-1 1-1-1-1 .7-1-.9-1 .2-1 .9-1-.8-1-.2-1-.1-1 .3-1 0-1 0-1-.1-1 .3-1 .1-1 .3-1-.5-1-.2-1 .2-1 0-1-.1-1-.2-1 .1-1-.1-1 .1-1 0-1 .4-1 .2-1-.3-1 1-1-.5-1-.6-1-.1-1-.1-1 .8-1-.9-1 .3-1-.1-1 .1-1-.1-1-.1-1 0-1 0-1 0-1 .2-1-.1-1-.2-1 0-1 0-1 .2-1-.1-1 0-1 .4-1 .2-1-.5-1-.2-1-.1-1 .3-1-.2-1 .3-1-.3-1 .8-1-.6-1-.1-1 .8-1-.4-1-.3-1-.1-1 .1-1 .2-1-.4-1 .2-1-.1-1-.1-1 0-1 .2-1-.2-1 .2-1-.1-1 0-1 .2-1-.3-1 .1-1 .1-1-.1-1 .2-1-.4-1 .2-1 .2-1-.3-1-.1-1 .3-1 .5-1-.4-1 .1-1-.5-1 .1-1 .2-1-.1-1-.2-1 .2-1-.1-1 .1-1-.1-1 .1-1 .1-1-.1-1 .6-1-.2-1 .2-1-.3-1 .1-1-.1-1 .2-1-.2-1 .1-1-.2-1 0-1-.3-1 .2-1-.1-1 .2-1-.4-1 .3-1-.1-1-.1-1 .1-1 .5-1-.5-1-.1-1 0-1 0-1-.1-1 .4-1-.3-1 0-1 .1-1 0-1 .2-1 .1-1-.3-1-.2-1 .2-1 0-1 0-1 .3-1-.3-1 .3-1 .1-1-.5-1 .2-1-.3-1 .5-1-.3-1 .2-1-.3-1 0-1 .3-1 0-1-.4-1 .1-1 .4-1-.3-1 .1-1 0-1-.3-1 .3-1-.1-1 0-1-.1-1 0-1 0-1 .5-1-.4-1 .2-1-.3-1 0-1 .2-1-.2-1 .3-1-.3-1 .1-1 .1-1 0-1-.2-1 0-1 0-1 0-1 .1-1-.1-1 .1-1-.2-1 .1-1 .2-1 .3-1 .1-1 0-1-.3-1 0-1-.3-1 .3-1-.1-1-.2-1-.1-1 .1-1 .1-1 .3-1-.4-1 .8-1-.6-1-.2-1 .1-1 .1-1-.1-1 0-1 .1-1-.1-1 .9-1-.4-1 0-1 .1-1-.4-1 .5-1-.5-1-.3-1 .2-1 0-1 .2-1-.3-1 .2-1 .8-1-1-1 1-1-1.1-1 0-1 .1-1-.2-1 .1-1-.1-1 .2-1 0-1 0-1 .4-1-.3-1-.2-1 .6-1 .6-1-1-1-.2-1 .4-1-.4-1 .5-1 .3-1-.6-1 .4-1-.4-1-.2-1 .4-1-.3-1-.1-1 .3-1 .1-1-.4-1 0-1 .2-1-.2-1-.1-1 .2-1 .1-1 0-1 .1-1-.2-1 0-1-.1-1-.1-1 .1-1 .5-1-.3-1 .1-1-.3-1 0-1 .1-1-.1-1 0-1 .2-1 .2-1-.3-1 .8-1-.8-1 0-1 .1-1-.1-1 .2-1-.3-1 .2-1 .6-1-.8-1 0-1 1-1-1-1 .1-1-.1-1 .2-1-.3-1 .5-1 0-1-.5-1 .2-1 .1-1-.2-1 .1-1-.1-1 .1-1-.1-1 0-1 .1-1-.1-1 .2-1 0-1-.1-1 0-1 .1-1 .2-1-.3-1 .1-1-.2-1 .1-1-.1-1 0-1-.1-1 0-1 1.1-1-.9-1-.1-1 .2-1-.1-1 0-1 .1-1-.1-1 .2-1 .1-1-.3-1-.1-1 .1-1-.1-1 0-1 0-1 0-1 .8-1-.8-1 .1-1 .1-1 .1-1-.2-1-.1-1 0-1 .2-1-.1-1-.1-1 0-1 .1-1-.1-1 .1-1-.1-1 0-1 .4-1-.4-1 .1-1 0-1-.1-1 .2-1-.2-1 .9-1-.8-1 .3-1-.5-1 .8-1-.7-1 .1-1 0-1 0-1 0-1 .1-1 .1-1-.1-1 .2-1 .2-1 .2-1 0-1-.2-1 0-1-.4-1 0-1-.1-1-.1-1 .2-1-.2-1 .2-1 0-1 .7-1-.9-1 0-1 .1-1 .3-1-.2-1 .5-1-.6-1-.1-1 .1-1 .4-1-.4-1-.1-1 .5-1-.6-1 0-1 .6-1-.5-1 .2-1 .4-1-.5-1 .2-1-.4-1 .1-1 0-1 .5-1 .2-1-.7-1 0-1 0-1 .3-1-.2-1 0-1-.1-1 .2-1 0-1-.2-1 .1-1 .1-1 .7-1-.9-1 0-1 .2-1-.2-1 0-1 0-1 .1-1 .1-1-.3-1 .2-1 .2-1 .2-1-.4-1 .1-1-.1-1 .8-1-.7-1-.2-1 .1-1 .2-1 0-1-.3-1 .1-1-.1-1 .3-1-.1-1 .1-1-.3-1-.1-1 .3-1 .4-1-.6-1 .2-1-.3-1 .1-1 .4-1-.4-1 .8-1-.8-1 0-1 .5-1-.4-1 0-1 0-1-.1-1 .2-1-.2-1 0-1 .8-1-.7-1 .1-1 0-1 .6-1-.4-1 .1-1-.2-1 .1-1-.3-1-.1-1 .1-1-.1-1 0-1 .1-1 0-1 0-1 0-1-.1-1 .3-1-.2-1 .1-1 .2-1-.4-1 0-1 .1-1 .6-1 .3-1-1-1-.1-1 .8-1-.3-1-.4-1 0-1 .1-1 .1-1-.1-1 .5-1-.5-1-.2-1 .1-1 .2-1-.1-1 .2-1-.2-1 .5-1-.6-1 .1-1 .3-1-.4-1 .7-1-.4-1-.3-1-.1-1 .3-1-.1-1 0-1-.1-1 .2-1-.1-1 .2-1-.3-1 .2-1-.1-1 1.2-1-1.3-1 1-1-1-1 .1-1 .2-1 .3-1-.4-1 .3-1-.5-1 .4-1-.4-1 .2-1-.1-1-.1-1 0-1 .3-1-.1-1-.1-1 0-1 .1-1-.1-1-.1-1 .5-1-.5-1 0-1 .2-1-.2-1 0-1 .1-1 .2-1 .4-1 0-1 .6-1-.4-1-.5-1-.1-1-.1-1-.2-1 .1-1 0-1 .1-1 .4-1-.7-1 .5-1-.4-1 0-1 0-1 .1-1-.1-1 .2-1-.1-1-.1-1 .1-1 .5-1-.7-1 .2-1 0-1 .1-1 .1-1 .3-1-.3-1-.3-1 .1-1-.1-1 .1-1 0-1-.1-1 0-1 0-1 .3-1-.3-1 .1-1 0-1 0-1-.1-1-.1-1 .1-1 .1-1-.2-1 .3-1 0-1 .2-1-.2-1 .5-1-.7-1 0-1 0-1 .3-1-.2-1 .8-1-.8-1 .1-1-.2-1-.1-1 .1-1 0-1 .1-1 0-1 .7-1-.8-1 .1-1 0-1 .3-1-.3-1 .8-1-.5-1-.3-1-.1-1 .5-1-.6-1 0-1 .1-1 0-1 .3-1-.3-1 .3-1-.4-1 .3-1-.2-1 .3-1-.3-1 .2-1-.1-1 .1-1-.2-1 .2-1 0-1 0-1 .7-1-1-1 .3-1-.2-1 .5-1-.4-1 .1-1-.1-1 0-1 0-1-.1-1 .7-1-.5-1 0Z"/>
<path fill="#008000" d="M138.5 796.6l1 0 1 .3 1 0 1-.1 1 0 1 0 1 .1 1 0 1 0 1-.3 1-.7 1 1 1-.5 1 .4 1-.4 1 .3 1 .2 1-.3 1 .3 1 0 1 0 1 0 1-.1 1 .1 1 0 1 0 1-.4 1 .3 1-.1 1-.2 1 .3 1 0 1 .1 1-.2 1 .2 1-.4 1 .3 1-.1 1 .1 1 0 1-.1 1 .1 1 0 1-.1 1-.7 1 .8 1 .2 1-.3 1-.2 1 0 1-.1 1-.4 1 .4 1-.1 1 .3 1-.8 1 .1 1 .7 1 .3 1 0 1 0 1 0 1 0 1 0 1-.2 1 0 1 .1 1 .1 1 .1 1-.1 1 0 1-.1 1-.2 1 .2 1 .1 1-.5 1 .5 1-.1 1 0 1 .1 1-.5 1-.3 1 .6 1 .1 1-.1 1 0 1-1 1 0 1 .3 1 .1 1 .2 1 .3 1 .2 1 0 1 .1 1 .1 1-.5 1 .1 1 0 1 0 1-.2 1 .4 1 .1 1-.2 1 0 1 0 1 .2 1-.8 1 .8 1 0 1-.2 1 .1 1-.1 1-.1 1-.1 1 .3 1 0 1-.1 1 .3 1-.9 1 .7 1-.6 1 .7 1-.7 1 .7 1-.1 1 .1 1-.3 1 .2 1 0 1 .2 1-.1 1-.2 1 .2 1-.2 1-.5 1 .6 1-.2 1 .3 1-.1 1 .1 1-.2 1 0 1 .1 1 .1 1 .1 1-1.2 1 1.2 1-.1 1-.8 1 .8 1-.3 1-.3 1 .5 1 0 1-.3 1 .1 1 0 1 .3 1-.8 1 .8 1 0 1 0 1-.4 1 .4 1-.3 1 .3 1-.2 1 .2 1 0 1-.3 1 .3 1-.1 1 .1 1-.1 1 .1 1 0 1-.1 1-.3 1-.5 1 .8 1-.8 1 .8 1 0 1-.1 1 0 1-.3 1 .2 1 0 1-.1 1 .4 1 0 1-.1 1 .1 1 0 1 0 1 0 1-.2 1 .2 1 0 1-.4 1 .1 1 0 1 0 1 .3 1 0 1 0 1-.7 1 .6 1-.4 1 .5 1-.2 1 0 1 .2 1 .1 1-.1 1-.2 1 .2 1-.2 1 .3 1-.3 1-.1 1 .3 1-.1 1 .1 1-.1 1 0 1 0 1-.1 1 .1 1 .2 1-.9 1 .6 1-.6 1 .1 1 .7 1 0 1-.6 1 .6 1-.1 1-.2 1 .1 1 .1 1-.7 1 .9 1-.6 1 .3 1 .3 1-.1 1-.1 1 .2 1-.1 1 0 1 0 1 0 1-.1 1-.1 1 0 1 0 1 .2 1-.1 1-.2 1 .1 1-.3 1 .5 1 .1 1-.1 1-.2 1 0 1 0 1 0 1 .1 1 0 1-.3 1 .4 1-.1 1-.4 1 .5 1-.2 1 .2 1-.8 1 .8 1-.1 1 .1 1 .1 1-.2 1 0 1-.4 1-.2 1 .4 1-.3 1 .1 1-.1 1-.1 1 .4 1 0 1 .2 1 .1 1-.2 1-.3 1 .5 1-.3 1-.3 1 .4 1 0 1 .3 1-.3 1 .1 1-.3 1 .4 1-.1 1-.2 1 .3 1-.2 1-.4 1 .3 1 .2 1 .1 1 0 1-.3 1 .3 1-.3 1 .3 1-.1 1 0 1-.2 1 .3 1 0 1 0 1-.2 1-.1 1-.5 1 .5 1 .3 1-.1 1-.1 1 .2 1-.1 1 0 1 .1 1-.2 1 .1 1-.1 1-.1 1-.3 1 .1 1 .1 1 .1 1 0 1-.1 1 .2 1-.1 1 .2 1-.3 1 .3 1 .1 1 .1 1-.3 1 .1 1 0 1 0 1 0 1 .2 1-.2 1-.3 1-.1 1 .5 1 0 1 0 1-.2 1 .2 1 0 1 0 1-.1 1 0 1-.1 1 0 1 .1 1 0 1 .1 1 0 1 0 1 0 1 0 1-.4 1 0 1 .4 1-.3 1 .1 1 .2 1-.3 1-.2 1 .1 1-.4 1 .1 1-.2 1 .5 1-.4 1-.1 1 .8 1 0 1-.3 1-.3 1 .5 1-.2 1 .4 1 .1 1-.1 1-.6 1 .6 1-.6 1 .2 1 .2 1 0 1-.1 1 .4 1-.7 1-.1 1 .1 1 .5 1 .1 1 0 1 0 1-.2 1 .3 1-.3 1-.1 1 .2 1-.3 1-.3 1-.1 1-.3 1 .6 1 .1 1 0 1 .4 1-.1 1-.7 1 .7 1 .1 1-.7 1 .7 1-.4 1 .2 1 .1 1-.3 1 .3 1 0 1 0 1 .1 1-.2 1 0 1 .1 1 .2 1-.3 1 0 1 0 1 .3 1-.1 1-.3 1 .3 1 0 1-.4 1 .2 1 0 1-.4 1 .4 1 .3 1-.2 1-.1 1-.5 1 .6 1-.1 1 .2 1-.6 1-.1 1 .6 1 .1 1 0 1 0 1 0 1 0 1-.5 1 .3 1 .2 1 0 1 .1 1-.1 1-.1 1 .1 1-.2 1-.2 1 .3 1 0 1 .2 1-.2 1 .1 1-.1 1-.3 1 .4 1-.8 1 .6 1 .2 1-.8 1 .8 1-1 1 1 1 0 1 0 1 0 1-.4 1 .1 1 .2 1-.4 1 .5 1-.1 1 0 1-.2 1 0 1 .2 1 0 1 0 1 0 1-.5 1 .3 1-.3 1 .1 1 0 1-.2 1 .6 1-.1 1 0 1 .2 1-.8 1 .4 1 .3 1-.2 1 .1 1-.3 1 .5 1-.2 1 .1 1 0 1-.1 1-.3 1 .5 1 0 1-.2 1 .2 1-.6 1 .4 1 .2 1-.1 1-.4 1 .2 1 .3 1 0 1-.4 1 .4 1 0 1-.2 1 .1 1-.5 1 .3 1-.1 1-.3 1 .1 1-.5 1 .8 1-.2 1-.3 1 .6 1-.5 1 .7 1 0 1-.2 1 .2 1-.2 1 .1 1-.1 1 .2 1-.3 1 0 1 .2 1-.2 1 .3 1-.2 1 .1 1-.1 1 .1 1 0 1-.1 1 .2 1-.1 1-.1 1-.1 1 .3 1 0 1 0 1-.2 1-.3 1 .6 1-.1 1 0 1-.5 1 .5 1 0 1-.1 1 .1 1-.4 1 .4 1 0 1-.2 1 .2 1 0 1 .1 1-.7 1 .5 1 0 1-.1 1 .2 1-.1 1 .1 1 0 1-.1 1-.1 1 .2 1-.1 1 .2 1-.7 1 0 1 .6 1-.1 1 .2 1-.3 1 .2 1-.6 1 .3 1 .1 1 0 1-.6 1 .8 1 0 1 0 1 0 1-.2 1 .2 1-.2 1 .3 1-.2 1 .1 1 0 1-.2 1 .2 1 0 1 0 1 0 1-.5 1 .5 1-.4 1 .2 1 .2 1-.9 1 .9 1 0 1 .1 1-.3 1 .2 1 .1 1-.4 1 .4 1-.1 1-.2 1 .1 1-.1 1 .2 1 0 1 0 1-.1 1-.2 1 .3 1 0 1-.5 1 .1 1 0 1-.5 1-.3 1 .5 1 .5 1-.1 1 .2 1 .1 1-.2 1 .1 1 .1 1-.6 1 .6 1 .1 1-.1 1 0 1 0 1-.1 1 .1 1-.3 1 0 1 .2 1 0 1-.8 1 .7 1-.3 1 .2 1-.3 1 .6 1 .1 1-.1 1-.5 1 .4 1 0 1-.1 1 .1 1 0 1 .2 1-.1 1-.4 1 .5 1-.3 1 .1 1 .2 1-.1 1 0 1 0 1 0 1 0 1-.1 1-.7 1 .8 1 0 1 0 1-.9 1 .9 1 .1 1 0 1-.1 1-1.4 1 1.2 1 .1 1 .1 1 0 1 0 1-.1 1-.1 1 .2 1-.9 1 .6 1 .4 1-.3 1 0 1 .2 1 0 1-.6 1 0 1 .4 1-.3 1 0 1-.3 1 .8 1-.3 1 .1 1 .1 1 .1 1-.4 1 0 1 .6 1-.7 1-.2 1 .3 1 .4 1-.6 1-.2 1 1 1-.9 1-.2 1 .5 1 .2 1-1.2 1 .5 1 1.3 1-.9 1-.1 1 .2 1 .2 1-.1 1-.3 1 .7 1-.3 1-.2 1 0 1 .3 1 .1 1-.4 1 .3 1 .1 1-.7 1 .6 1-.3 1 .4 1-1.1 1 .6 1-.2 1 .1 1 .3 1-.1 1 .2 1 0 1 .1 1 0 1-.1 1-.3 1-.3 1 .6 1 .1 1-.7 1 .8 1-.1 1-.5 1 .5 1 .1 1-.2 1 0 1-.3 1-1.1 1 .9 1 .2 1 0 1 .4 1 0 1 .2 1-.3 1-.2 1 .5 1-.1 1-.1 1-.3 1 .5 1-.2 1-.1 1 .1 1 0 1-.1 1-.1 1 .4 1-.6 1 .4 1-.8 1 .7 1 .2 1 0 1-.3 1 .2 1 .1 1-.3 1 .3 1 0 1-.2 1 .2 1-.2 1 .2 1-.2 1 .2 1 0 1-.1 1 .1 1-.1 1 0 0 2.5-1 0-1 .2-1-.2-1 .2-1-.2-1 .1-1 .1-1 0-1-.2-1 .2-1 .6-1-.8-1 .3-1 .2-1 .3-1-.7-1-.1-1 .2-1-.2-1 0-1 .1-1-.1-1 0-1 .4-1-.3-1-.1-1 .4-1-.4-1 .1-1 0-1-.1-1 .1-1 0-1 .2-1-.3-1 .1-1-.1-1 .3-1-.2-1 .2-1 .4-1 .1-1-.1-1-.1-1-.4-1 .1-1-.2-1 .1-1 .5-1-.7-1 0-1 .4-1-.4-1 .8-1-.6-1 1.1-1-1.3-1 .1-1 .4-1-.3-1 0-1 .4-1-.1-1 .3-1-.4-1 0-1-.3-1 .9-1-.9-1 0-1-.1-1 .1-1-.1-1 0-1 .2-1-.1-1 0-1 .9-1-.8-1 .1-1-.2-1 .2-1 .5-1 0-1-.9-1 1-1 0-1-.4-1-.4-1 1.4-1 .1-1-1.1-1 .2-1 .4-1-.7-1 0-1 .3-1 0-1-.9-1 1-1-.2-1-.1-1-.4-1 .3-1-.2-1-.1-1 .2-1 0-1 .2-1-.3-1 .3-1 .6-1-1-1 .3-1-.1-1-.1-1 .2-1-.4-1 .5-1 0-1-.1-1-.4-1 .2-1-.1-1 .2-1-.3-1 .2-1 0-1-.2-1 .2-1 .1-1 .6-1-.6-1-.2-1-.1-1 .1-1 .7-1-.8-1 .3-1-.1-1 .1-1-.3-1 0-1 .9-1-.6-1-.3-1 0-1 .2-1-.1-1 1-1-.2-1-.9-1 .6-1-.6-1 .1-1 .1-1 0-1 .1-1-.1-1 0-1 0-1 0-1-.2-1 0-1 .4-1-.1-1-.2-1 .2-1 .1-1-.3-1 .1-1-.1-1 .5-1-.6-1 .1-1 .4-1-.3-1-.2-1 .8-1-.5-1-.1-1-.2-1 .2-1 .4-1-.3-1 .2-1 .5-1 .6-1-.9-1-.4-1 .1-1-.3-1 1.1-1-1.2-1 .2-1-.1-1 .1-1-.1-1 0-1 .1-1-.1-1 .3-1-.3-1 0-1-.1-1 0-1 .1-1-.1-1 0-1 .2-1-.1-1-.1-1 0-1 0-1 .1-1-.1-1 0-1 .1-1 0-1 0-1 0-1 .4-1-.3-1 .8-1-.9-1 .2-1-.1-1-.2-1 .1-1-.1-1 .6-1-.6-1 .5-1-.4-1-.1-1 .5-1-.4-1 .1-1-.1-1 0-1 .1-1-.2-1 0-1 .3-1-.2-1 0-1-.1-1 .1-1 .2-1-.1-1-.2-1 .5-1-.2-1-.2-1 0-1-.1-1 .1-1 .1-1 0-1 0-1 .1-1 .9-1-.8-1-.4-1 0-1 .3-1-.2-1 .1-1-.2-1 0-1 0-1 0-1 .2-1-.1-1 .3-1-.1-1 .1-1-.4-1 .4-1-.4-1 0-1 0-1 .1-1-.1-1 .1-1 .1-1 .1-1 0-1 .2-1-.3-1 .1-1-.1-1-.2-1 1.1-1-.7-1 .3-1-.7-1 0-1 .4-1-.4-1 .1-1-.1-1 .1-1 .2-1 0-1 .2-1 .2-1-.1-1 .4-1-.6-1-.2-1 .7-1-.8-1 .1-1 0-1 .2-1-.3-1 0-1 0-1 .5-1-.5-1-.1-1 0-1 0-1 .1-1-.1-1 .7-1-.7-1 .3-1 .4-1-.2-1 0-1 0-1-.2-1-.3-1 .1-1 .1-1 .1-1-.3-1 0-1 .5-1-.4-1 .1-1 0-1 0-1 .2-1 .9-1-1-1-.1-1 .2-1 .1-1-.3-1-.2-1 1.1-1-.9-1-.1-1 .1-1-.2-1 .1-1-.1-1 0-1 .5-1-.2-1 .7-1-.7-1 .1-1-.4-1 .2-1-.1-1 .7-1-.4-1-.4-1 .2-1-.1-1 0-1 0-1 0-1 0-1-.1-1 .3-1-.1-1-.1-1 0-1-.1-1 .2-1-.2-1 .1-1 .2-1-.2-1 .1-1-.1-1 .1-1 .2-1-.4-1 0-1 .5-1-.5-1 .1-1 0-1-.1-1 .1-1 0-1 0-1 .3-1-.3-1 0-1 0-1 .1-1 0-1 .1-1 .2-1-.4-1 0-1 .9-1-.7-1-.3-1 .1-1-.1-1 .1-1-.1-1 .2-1-.1-1 .1-1 .2-1-.1-1 0-1-.2-1-.1-1 .1-1 0-1 0-1 0-1-.1-1 0-1 .2-1 .6-1-.5-1-.1-1 0-1 .2-1 0-1 .4-1 .2-1-.6-1 .4-1-.6-1 .1-1-.3-1 .1-1 .5-1-.6-1 .1-1-.1-1 .1-1 .3-1-.2-1-.1-1 .3-1-.2-1 .2-1-.3-1 0-1 0-1 .5-1-.3-1-.3-1 .1-1 .1-1-.1-1 0-1 .1-1 0-1-.2-1 .3-1 1.1-1-1-1-.1-1 .5-1-.3-1-.1-1 .7-1-.8-1-.1-1 .1-1 .4-1-.5-1-.2-1 .1-1 .1-1-.1-1 .3-1-.2-1 .2-1 .2-1-.4-1 .7-1-.4-1-.3-1-.1-1 .2-1 .6-1-.4-1-.5-1 .1-1 .2-1 .1-1 .4-1-.5-1-.3-1 .3-1-.1-1 .2-1-.1-1-.3-1 .1-1 .3-1 .2-1-.3-1-.2-1 .1-1 .1-1-.2-1-.1-1 .8-1-.3-1 0-1 .6-1-.5-1 0-1 .7-1-1.1-1-.2-1 0-1 0-1 .2-1 .2-1-.1-1 .8-1-1.1-1 .1-1 0-1 0-1 .1-1-.2-1 0-1 0-1 .1-1 .3-1-.3-1-.1-1 .2-1-.1-1 .5-1-.6-1 .2-1-.2-1 .3-1-.2-1 0-1-.1-1 .3-1-.1-1-.1-1 .4-1-.5-1 .1-1 .4-1-.5-1 .3-1-.2-1 0-1 0-1 0-1 .9-1-1-1 .1-1 0-1 0-1 .2-1 .9-1-.5-1-.1-1-.2-1-.1-1 0-1-.2-1-.1-1 .2-1-.1-1 .1-1-.2-1 0-1 .7-1-.5-1-.2-1 .2-1-.1-1-.1-1 .1-1 0-1 .1-1 0-1-.2-1 .8-1-.7-1 .1-1 .4-1-.6-1 .1-1 0-1 .2-1-.2-1-.1-1 .3-1-.3-1 0-1 .1-1 .3-1-.2-1-.2-1 0-1 .3-1-.2-1 .1-1-.2-1 .1-1 .1-1 .3-1-.3-1-.1-1 0-1 .1-1 0-1 .6-1-.5-1-.2-1-.1-1 .3-1-.3-1 .2-1-.1-1 0-1 0-1-.1-1 .3-1-.1-1 0-1 .4-1-.4-1 0-1-.1-1 .4-1-.4-1 0-1 .2-1-.3-1 .1-1-.1-1 .1-1 .3-1 0-1 .5-1-.8-1 .5-1-.2-1 0-1-.3-1 0-1 .2-1 .1-1-.1-1-.3-1 .2-1-.2-1 .3-1-.3-1 .9-1-.8-1-.1-1 .4-1 .3-1-.5-1 .6-1-.6-1 .7-1-.3-1-.2-1-.1-1-.1-1-.1-1 .2-1 .2-1-.4-1 0-1 .6-1-.6-1-.1-1 0-1 .3-1 .1-1 .1-1-.3-1 .1-1 0-1-.1-1-.1-1 .2-1-.1-1-.1-1 .1-1 .2-1 0-1-.1-1-.3-1 .1-1 0-1 0-1 .4-1-.3-1 .2-1-.2-1-.2-1 0-1 .2-1-.1-1-.1-1 0-1 .4-1 .5-1-.5-1-.3-1-.1-1 .2-1-.2-1 .7-1-.5-1-.1-1-.1-1 .1-1 0-1 .3-1-.1-1-.1-1 0-1-.1-1-.1-1 .2-1 0-1-.1-1 .1-1 .3-1-.5-1 .1-1-.1-1 0-1 0-1 .4-1-.3-1 0-1-.1-1 0-1 1-1-.8-1 0-1 .3-1-.5-1 .1-1 .2-1-.2-1-.1-1 .1-1 0-1 .2-1 .7-1-.7-1-.2-1 0-1-.1-1 .4-1-.1-1-.2-1 .2-1 .3-1-.2-1 1-1-.9-1-.2-1-.1-1-.1-1 .3-1-.2-1-.2-1 .5-1-.4-1 .9-1-.9-1-.1-1 .1-1 .3-1-.4-1 .2-1-.2-1 0-1 .7-1-.6-1 0-1 .1-1-.1-1 .1-1 0-1 0-1-.2-1 .3-1-.2-1 .2-1-.2-1 .3-1 .1-1 0-1-.1-1 .2-1 .3-1-.1-1-.4-1-.2-1 0-1 .1-1 .2-1-.4-1 .1-1-.1-1 .1-1 .8-1-.8-1 .3-1 .5-1-.8-1 .1-1-.1-1-.1-1 .4-1-.3-1 .4-1-.3-1-.1-1-.2-1 .2-1-.2-1 0-1 0-1 .4-1-.1-1-.1-1 0-1 .2-1-.2-1 .1-1-.2-1 0-1 .1-1 .2-1 .3-1-.3-1-.2-1-.2-1 .5-1-.2-1 .7-1-.8-1-.1-1 .3-1-.3-1-.1-1 0Z"/>
<path fill="none" stroke="#008000" stroke-width="1.3" stroke-linejoin="round" d="M896.3 798.1l.5 0 .5 .1 .5 .1 .5-.1 .5-.2 .5-.2 .5 .1 .5 .3 .5 .3 .5 0 .5-.3 .5-.4 .5-.1 .5 .2 .5 .3 .5 .2 .5 0 .5-.2 .5-.2 .5-.1 .5 .1 .5 .2 .5 .1 .5 .1 .5-.2 .5-.3 .5-.2 .5 .1 .5 .4 .5 .4 .5 0 .5-.3 .5-.6 .5-.2 .5 .2 .5 .6 .5 .4 .5 0 .5-.4 .5-.6 .5-.3 .5 .3 .5 .6 .5 .5 .5 0 .5-.5 .5-.7 .5-.3 .5 .3 .5 .7 .5 .6 .5 0 .5-.6 .5-.8 .5-.3 .5 .3 .5 .8 .5 .6 .5-.1 .5-.5 .5-.6 .5-.1 .5 .2 .5 .4 .5 .3 .5 0 .5-.3 .5-.3 .5-.1 .5 .1 .5 .3 .5 .2 .5-.1 .5-.1 .5-.2 .5 0 .5 0 .5 .1 .5 .1"/>
<path fill="#000000" d="M138.5 828.3l1 0 1 .1 1-.5 1 .5 1-.1 1 .1 1 .1 1-.1 1 0 1 .1 1-.4 1-.4 1-.2 1 .8 1-.4 1 .1 1 .5 1-.2 1-.2 1 .2 1 .1 1-.2 1 .2 1-.1 1-.1 1 .2 1 .1 1-.2 1-.4 1 .6 1-.3 1 .2 1 .1 1-.1 1 .1 1 0 1-.1 1-.3 1-.8 1 1.1 1-.1 1-.1 1 0 1-.6 1 .6 1 .1 1-.7 1 .3 1 .3 1 .2 1-.3 1 .4 1 0 1 0 1-.2 .5-.8 1 0 0 .6 1 0 0-.4 1 0 0 .4 1 0 0 .3 1 0 .5 0 1-.2 1 .3 1-.1 1 .1 1-.2 1 0 0 3-1 0-1-.3-1 .1-1 0-1-.1-1 0-.5 .5-1 0 0 .1-1 0-1 0 0-.3-1 0 0-.1-1 0-.5-.2-1 .1-1-.3-1 .1-1 0-1 0-1 .9-1-.3-1-.3-1 0-1 .2-1-.5-1 .1-1-.2-1 .1-1 .3-1-.3-1 0-1 .4-1-.2-1-.2-1 0-1 1-1-.7-1 .1-1-.3-1 0-1 .8-1-.9-1-.1-1 .5-1-.2-1-.2-1 0-1 0-1 .3-1 .1-1-.3-1-.2-1 .8-1-.8-1 0-1 .1-1 .1-1-.1-1 .1-1-.1-1 0-1 .4-1-.2-1 0-1-.2-1 0-1 .2-1-.2-1 0Z"/>
<rect x="138.5" y="48.5" width="874.0" height="807.0" fill="none" stroke="#000" stroke-width="1.33"/>
<path d="M132.40 73.50H138.5M1012.5 73.50H1018.60M132.40 104.50H138.5M1012.5 104.50H1018.60M132.40 136.50H138.5M1012.5 136.50H1018.60M132.40 167.50H138.5M1012.5 167.50H1018.60M132.40 199.50H138.5M1012.5 199.50H1018.60M132.40 230.50H138.5M1012.5 230.50H1018.60M132.40 262.50H138.5M1012.5 262.50H1018.60M132.40 294.50H138.5M1012.5 294.50H1018.60M132.40 325.50H138.5M1012.5 325.50H1018.60M132.40 357.50H138.5M1012.5 357.50H1018.60M132.40 388.50H138.5M1012.5 388.50H1018.60M132.40 420.50H138.5M1012.5 420.50H1018.60M132.40 451.50H138.5M1012.5 451.50H1018.60M132.40 483.50H138.5M1012.5 483.50H1018.60M132.40 514.50H138.5M1012.5 514.50H1018.60M132.40 546.50H138.5M1012.5 546.50H1018.60M132.40 577.50H138.5M1012.5 577.50H1018.60M132.40 609.50H138.5M1012.5 609.50H1018.60M132.40 641.50H138.5M1012.5 641.50H1018.60M132.40 672.50H138.5M1012.5 672.50H1018.60M132.40 704.50H138.5M1012.5 704.50H1018.60M132.40 735.50H138.5M1012.5 735.50H1018.60M132.40 767.50H138.5M1012.5 767.50H1018.60M132.40 798.50H138.5M1012.5 798.50H1018.60M132.40 830.50H138.5M1012.5 830.50H1018.60M138.50 855.5V861.50M357.50 855.5V861.50M575.50 855.5V861.50M794.50 855.5V861.50M1012.50 855.5V861.50" stroke="#000" stroke-width="1.33" fill="none"/>
<g font-family="DejaVu Sans, Liberation Sans, sans-serif" fill="#000">
<text x="575.1" y="33.7" font-size="20" text-anchor="middle">2026-01-19 BK.MTOS.01.BHE</text>
<g font-size="13.15">
<text x="125.9" y="78.00" text-anchor="end" transform="matrix(1 0 0 0.9 0 7.80)">08:00:00</text>
<text x="1025.1" y="78.00" transform="matrix(1 0 0 0.9 0 7.80)">09:00:00</text>
<text x="125.9" y="109.00" text-anchor="end" transform="matrix(1 0 0 0.9 0 10.90)">09:00:00</text>
<text x="1025.1" y="109.00" transform="matrix(1 0 0 0.9 0 10.90)">10:00:00</text>
<text x="125.9" y="141.00" text-anchor="end" transform="matrix(1 0 0 0.9 0 14.10)">10:00:00</text>
<text x="1025.1" y="141.00" transform="matrix(1 0 0 0.9 0 14.10)">11:00:00</text>
<text x="125.9" y="172.00" text-anchor="end" transform="matrix(1 0 0 0.9 0 17.20)">11:00:00</text>
<text x="1025.1" y="172.00" transform="matrix(1 0 0 0.9 0 17.20)">12:00:00</text>
<text x="125.9" y="204.00" text-anchor="end" transform="matrix(1 0 0 0.9 0 20.40)">12:00:00</text>
<text x="1025.1" y="204.00" transform="matrix(1 0 0 0.9 0 20.40)">13:00:00</text>
<text x="125.9" y="235.00" text-anchor="end" transform="matrix(1 0 0 0.9 0 23.50)">13:00:00</text>
<text x="1025.1" y="235.00" transform="matrix(1 0 0 0.9 0 23.50)">14:00:00</text>
<text x="125.9" y="267.00" text-anchor="end" transform="matrix(1 0 0 0.9 0 26.70)">14:00:00</text>
<text x="1025.1" y="267.00" transform="matrix(1 0 0 0.9 0 26.70)">15:00:00</text>
<text x="125.9" y="298.00" text-anchor="end" transform="matrix(1 0 0 0.9 0 29.80)">15:00:00</text>
<text x="1025.1" y="298.00" transform="matrix(1 0 0 0.9 0 29.80)">16:00:00</text>
<text x="125.9" y="330.00" text-anchor="end" transform="matrix(1 0 0 0.9 0 33.00)">16:00:00</text>
<text x="1025.1" y="330.00" transform="matrix(1 0 0 0.9 0 33.00)">17:00:00</text>
<text x="125.9" y="362.00" text-anchor="end" transform="matrix(1 0 0 0.9 0 36.20)">17:00:00</text>
<text x="1025.1" y="362.00" transform="matrix(1 0 0 0.9 0 36.20)">18:00:00</text>
<text x="125.9" y="393.00" text-anchor="end" transform="matrix(1 0 0 0.9 0 39.30)">18:00:00</text>
<text x="1025.1" y="393.00" transform="matrix(1 0 0 0.9 0 39.30)">19:00:00</text>
<text x="125.9" y="425.00" text-anchor="end" transform="matrix(1 0 0 0.9 0 42.50)">19:00:00</text>
<text x="1025.1" y="425.00" transform="matrix(1 0 0 0.9 0 42.50)">20:00:00</text>
<text x="125.9" y="456.00" text-anchor="end" transform="matrix(1 0 0 0.9 0 45.60)">20:00:00</text>
<text x="1025.1" y="456.00" transform="matrix(1 0 0 0.9 0 45.60)">21:00:00</text>
<text x="125.9" y="488.00" text-anchor="end" transform="matrix(1 0 0 0.9 0 48.80)">21:00:00</text>
<text x="1025.1" y="488.00" transform="matrix(1 0 0 0.9 0 48.80)">22:00:00</text>
<text x="125.9" y="519.00" text-anchor="end" transform="matrix(1 0 0 0.9 0 51.90)">22:00:00</text>
<text x="1025.1" y="519.00" transform="matrix(1 0 0 0.9 0 51.90)">23:00:00</text>
<text x="125.9" y="551.00" text-anchor="end" transform="matrix(1 0 0 0.9 0 55.10)">23:00:00</text>
<text x="1025.1" y="551.00" transform="matrix(1 0 0 0.9 0 55.10)">00:00:00</text>
<text x="125.9" y="582.00" text-anchor="end" transform="matrix(1 0 0 0.9 0 58.20)">00:00:00</text>
<text x="1025.1" y="582.00" transform="matrix(1 0 0 0.9 0 58.20)">01:00:00</text>
<text x="125.9" y="614.00" text-anchor="end" transform="matrix(1 0 0 0.9 0 61.40)">01:00:00</text>
<text x="1025.1" y="614.00" transform="matrix(1 0 0 0.9 0 61.40)">02:00:00</text>
<text x="125.9" y="645.00" text-anchor="end" transform="matrix(1 0 0 0.9 0 64.50)">02:00:00</text>
<text x="1025.1" y="645.00" transform="matrix(1 0 0 0.9 0 64.50)">03:00:00</text>
<text x="125.9" y="677.00" text-anchor="end" transform="matrix(1 0 0 0.9 0 67.70)">03:00:00</text>
<text x="1025.1" y="677.00" transform="matrix(1 0 0 0.9 0 67.70)">04:00:00</text>
<text x="125.9" y="708.00" text-anchor="end" transform="matrix(1 0 0 0.9 0 70.80)">04:00:00</text>
<text x="1025.1" y="708.00" transform="matrix(1 0 0 0.9 0 70.80)">05:00:00</text>
<text x="125.9" y="740.00" text-anchor="end" transform="matrix(1 0 0 0.9 0 74.00)">05:00:00</text>
<text x="1025.1" y="740.00" transform="matrix(1 0 0 0.9 0 74.00)">06:00:00</text>
<text x="125.9" y="772.00" text-anchor="end" transform="matrix(1 0 0 0.9 0 77.20)">06:00:00</text>
<text x="1025.1" y="772.00" transform="matrix(1 0 0 0.9 0 77.20)">07:00:00</text>
<text x="125.9" y="803.00" text-anchor="end" transform="matrix(1 0 0 0.9 0 80.30)">07:00:00</text>
<text x="1025.1" y="803.00" transform="matrix(1 0 0 0.9 0 80.30)">08:00:00</text>
<text x="125.9" y="835.00" text-anchor="end" transform="matrix(1 0 0 0.9 0 83.50)">08:00:00</text>
<text x="1025.1" y="835.00" transform="matrix(1 0 0 0.9 0 83.50)">09:00:00</text>
<text x="138.20" y="877.3" text-anchor="middle" transform="matrix(1 0 0 0.9 0 87.73)">0</text>
<text x="356.10" y="877.3" text-anchor="middle" transform="matrix(1 0 0 0.9 0 87.73)">15</text>
<text x="575.50" y="877.3" text-anchor="middle" transform="matrix(1 0 0 0.9 0 87.73)">30</text>
<text x="793.70" y="877.3" text-anchor="middle" transform="matrix(1 0 0 0.9 0 87.73)">45</text>
<text x="1012.00" y="877.3" text-anchor="middle" transform="matrix(1 0 0 0.9 0 87.73)">60</text>
<text x="574.8" y="895.7" font-size="13.5" text-anchor="middle" transform="matrix(1 0 0 0.9 0 89.57)">time in minutes</text>
</g>
<text transform="translate(53.6 451.9) rotate(-90) scale(1 1.08)" font-size="16.67" text-anchor="middle">UTC (local time = UTC - 08:00)</text>
</g>
</svg>
</body></html>
